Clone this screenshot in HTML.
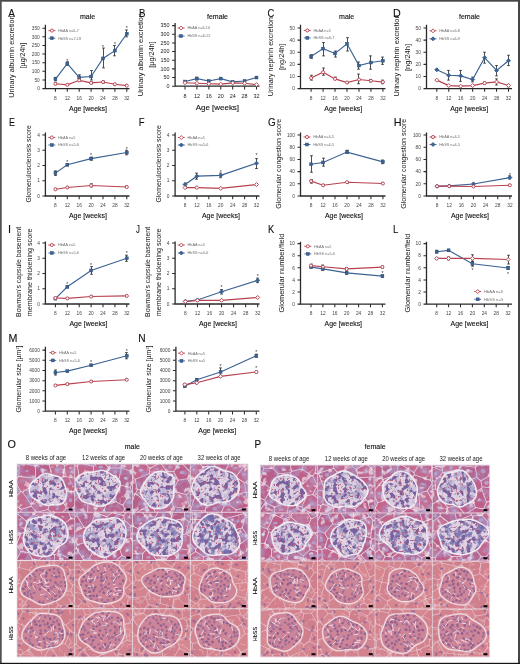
<!DOCTYPE html>
<html><head><meta charset="utf-8"><style>
html,body{margin:0;padding:0;background:#fff;width:520px;height:664px;overflow:hidden}
svg{display:block;font-family:"Liberation Sans",sans-serif}
.b{stroke:#111;stroke-width:0.12px}
text{filter:grayscale(1)}
</style></head><body>
<svg width="520" height="664" viewBox="0 0 520 664" font-family="Liberation Sans, sans-serif"><defs>
<filter id="triPatch" x="0" y="0" width="100%" height="100%" color-interpolation-filters="sRGB">
 <feTurbulence type="fractalNoise" baseFrequency="0.12" numOctaves="3" seed="2"/>
 <feColorMatrix type="matrix" values="0 0 0 0 0.68  0 0 0 0 0.66  0 0 0 0 0.84  4 0 0 0 -1.75"/>
</filter>
<filter id="triWhite" x="0" y="0" width="100%" height="100%" color-interpolation-filters="sRGB">
 <feTurbulence type="fractalNoise" baseFrequency="0.16" numOctaves="2" seed="9"/>
 <feColorMatrix type="matrix" values="0 0 0 0 0.97  0 0 0 0 0.95  0 0 0 0 0.97  0 8 0 0 -4.6"/>
</filter>
<filter id="triNuc" x="0" y="0" width="100%" height="100%" color-interpolation-filters="sRGB">
 <feTurbulence type="fractalNoise" baseFrequency="0.21" numOctaves="2" seed="4"/>
 <feColorMatrix type="matrix" values="0 0 0 0 0.47  0 0 0 0 0.38  0 0 0 0 0.62  7 0 0 0 -3.45" result="n"/>
 <feComposite in="n" in2="SourceGraphic" operator="in"/>
</filter>
<filter id="triRed" x="0" y="0" width="100%" height="100%" color-interpolation-filters="sRGB">
 <feTurbulence type="fractalNoise" baseFrequency="0.45" numOctaves="1" seed="11"/>
 <feColorMatrix type="matrix" values="0 0 0 0 0.74  0 0 0 0 0.38  0 0 0 0 0.5  0 10 0 0 -6.1" result="n"/>
 <feComposite in="n" in2="SourceGraphic" operator="in"/>
</filter>
<filter id="triBlue" x="0" y="0" width="100%" height="100%" color-interpolation-filters="sRGB">
 <feTurbulence type="fractalNoise" baseFrequency="0.13" numOctaves="3" seed="17"/>
 <feColorMatrix type="matrix" values="0 0 0 0 0.44  0 0 0 0 0.45  0 0 0 0 0.7  5 0 0 0 -2.4" result="n"/>
 <feComposite in="n" in2="SourceGraphic" operator="in"/>
</filter>
<filter id="soft" x="0" y="0" width="100%" height="100%"><feGaussianBlur stdDeviation="0.45"/></filter>
<filter id="heVar" x="0" y="0" width="100%" height="100%" color-interpolation-filters="sRGB">
 <feTurbulence type="turbulence" baseFrequency="0.1" numOctaves="2" seed="6"/>
 <feColorMatrix type="matrix" values="0 0 0 0 0.96  0 0 0 0 0.86  0 0 0 0 0.89  -5 0 0 0 0.75"/>
</filter>
<filter id="heNucOut" x="0" y="0" width="100%" height="100%" color-interpolation-filters="sRGB">
 <feTurbulence type="fractalNoise" baseFrequency="0.28" numOctaves="1" seed="13"/>
 <feColorMatrix type="matrix" values="0 0 0 0 0.6  0 0 0 0 0.42  0 0 0 0 0.64  10 0 0 0 -6.4"/>
</filter>
<filter id="heNuc" x="0" y="0" width="100%" height="100%" color-interpolation-filters="sRGB">
 <feTurbulence type="fractalNoise" baseFrequency="0.3" numOctaves="1" seed="21"/>
 <feColorMatrix type="matrix" values="0 0 0 0 0.55  0 0 0 0 0.38  0 0 0 0 0.6  8 0 0 0 -4.2" result="n"/>
 <feComposite in="n" in2="SourceGraphic" operator="in"/>
</filter>
<filter id="ring" x="-20%" y="-20%" width="140%" height="140%">
 <feTurbulence type="fractalNoise" baseFrequency="0.075" numOctaves="2" seed="3" result="t"/>
 <feDisplacementMap in="SourceGraphic" in2="t" scale="9" xChannelSelector="R" yChannelSelector="G"/>
</filter>
</defs>
<rect width="520" height="664" fill="#fff"/>
<text x="8.2" y="16.6" font-size="10.3" fill="#111" class="b" textLength="6.7" lengthAdjust="spacingAndGlyphs" >A</text>
<text x="87.5" y="18.6" font-size="7" fill="#111" class="b" text-anchor="middle" >male</text>
<text x="13.6" y="56.6" font-size="7.5" fill="#151515" text-anchor="middle" textLength="82.5" lengthAdjust="spacingAndGlyphs" transform="rotate(-90 13.6 56.6)" >Urinary albumin excretion</text>
<text x="24.6" y="55.6" font-size="7.5" fill="#151515" text-anchor="middle" textLength="25.5" lengthAdjust="spacingAndGlyphs" transform="rotate(-90 24.6 55.6)" >[µg/24h]</text>
<text x="88" y="110.5" font-size="7.3" fill="#111" class="b" text-anchor="middle" textLength="38" lengthAdjust="spacingAndGlyphs" >Age [weeks]</text>
<path d="M45.4 24.8V88.6H129.5" fill="none" stroke="#2a2a2a" stroke-width="1.3"/>
<text x="39.8" y="90.3" font-size="4.8" fill="#444" text-anchor="end" >0</text>
<text x="39.8" y="81.67" font-size="4.8" fill="#444" text-anchor="end" >50</text>
<text x="39.8" y="73.04" font-size="4.8" fill="#444" text-anchor="end" >100</text>
<text x="39.8" y="64.41" font-size="4.8" fill="#444" text-anchor="end" >150</text>
<text x="39.8" y="55.79" font-size="4.8" fill="#444" text-anchor="end" >200</text>
<text x="39.8" y="47.16" font-size="4.8" fill="#444" text-anchor="end" >250</text>
<text x="39.8" y="38.53" font-size="4.8" fill="#444" text-anchor="end" >300</text>
<text x="39.8" y="29.9" font-size="4.8" fill="#444" text-anchor="end" >350</text>
<text x="55.4" y="99.8" font-size="4.8" fill="#444" text-anchor="middle" >8</text>
<text x="67.3" y="99.8" font-size="4.8" fill="#444" text-anchor="middle" >12</text>
<text x="79.2" y="99.8" font-size="4.8" fill="#444" text-anchor="middle" >16</text>
<text x="91.1" y="99.8" font-size="4.8" fill="#444" text-anchor="middle" >20</text>
<text x="103" y="99.8" font-size="4.8" fill="#444" text-anchor="middle" >24</text>
<text x="114.9" y="99.8" font-size="4.8" fill="#444" text-anchor="middle" >28</text>
<text x="126.8" y="99.8" font-size="4.8" fill="#444" text-anchor="middle" >32</text>
<path d="M42.4 88.6H45.4 M42.4 79.97H45.4 M42.4 71.34H45.4 M42.4 62.71H45.4 M42.4 54.09H45.4 M42.4 45.46H45.4 M42.4 36.83H45.4 M42.4 28.2H45.4 M55.4 88.6V91.8 M67.3 88.6V91.8 M79.2 88.6V91.8 M91.1 88.6V91.8 M103 88.6V91.8 M114.9 88.6V91.8 M126.8 88.6V91.8" stroke="#2a2a2a" stroke-width="1.05" fill="none"/>
<path d="M55.5 80.83V77.38M54.1 80.83H56.9M54.1 77.38H56.9 M67.5 65.3V61.85M66.1 65.3H68.9M66.1 61.85H68.9 M79.5 79.63V74.79M78.1 79.63H80.9M78.1 74.79H80.9 M91.5 79.97V70.48M90.1 79.97H92.9M90.1 70.48H92.9 M103.5 67.89V48.05M102.1 67.89H104.9M102.1 48.05H104.9 M114.5 55.81V45.46M113.1 55.81H115.9M113.1 45.46H115.9 M126.5 36.83V29.93M125.1 36.83H127.9M125.1 29.93H127.9 M55.5 84.8V82.73M54.1 84.8H56.9M54.1 82.73H56.9 M67.5 85.49V84.11M66.1 85.49H68.9M66.1 84.11H68.9 M79.5 81.35V79.28M78.1 81.35H80.9M78.1 79.28H80.9 M91.5 83.77V82.04M90.1 83.77H92.9M90.1 82.04H92.9 M103.5 83.08V81.01M102.1 83.08H104.9M102.1 81.01H104.9 M114.5 85.15V83.42M113.1 85.15H115.9M113.1 83.42H115.9 M126.5 86.53V84.8M125.1 86.53H127.9M125.1 84.8H127.9" stroke="#2e2e2e" stroke-width="0.85" fill="none"/>
<polyline points="55.4,79.11 67.3,63.58 79.2,77.38 91.1,76.52 103,58.4 114.9,50.63 126.8,33.72" fill="none" stroke="#3b6293" stroke-width="1.15"/>
<polyline points="55.4,83.77 67.3,84.8 79.2,80.32 91.1,82.91 103,82.04 114.9,84.29 126.8,85.67" fill="none" stroke="#b8404f" stroke-width="1.15"/>
<rect x="53.95" y="77.66" width="2.9" height="2.9" fill="#3b6293" stroke="#2d4f7c" stroke-width="0.5"/>
<rect x="65.85" y="62.13" width="2.9" height="2.9" fill="#3b6293" stroke="#2d4f7c" stroke-width="0.5"/>
<rect x="77.75" y="75.93" width="2.9" height="2.9" fill="#3b6293" stroke="#2d4f7c" stroke-width="0.5"/>
<rect x="89.65" y="75.07" width="2.9" height="2.9" fill="#3b6293" stroke="#2d4f7c" stroke-width="0.5"/>
<rect x="101.55" y="56.95" width="2.9" height="2.9" fill="#3b6293" stroke="#2d4f7c" stroke-width="0.5"/>
<rect x="113.45" y="49.18" width="2.9" height="2.9" fill="#3b6293" stroke="#2d4f7c" stroke-width="0.5"/>
<rect x="125.35" y="32.27" width="2.9" height="2.9" fill="#3b6293" stroke="#2d4f7c" stroke-width="0.5"/>
<circle cx="55.4" cy="83.77" r="1.55" fill="#fff" stroke="#b8404f" stroke-width="0.9"/>
<circle cx="67.3" cy="84.8" r="1.55" fill="#fff" stroke="#b8404f" stroke-width="0.9"/>
<circle cx="79.2" cy="80.32" r="1.55" fill="#fff" stroke="#b8404f" stroke-width="0.9"/>
<circle cx="91.1" cy="82.91" r="1.55" fill="#fff" stroke="#b8404f" stroke-width="0.9"/>
<circle cx="103" cy="82.04" r="1.55" fill="#fff" stroke="#b8404f" stroke-width="0.9"/>
<circle cx="114.9" cy="84.29" r="1.55" fill="#fff" stroke="#b8404f" stroke-width="0.9"/>
<circle cx="126.8" cy="85.67" r="1.55" fill="#fff" stroke="#b8404f" stroke-width="0.9"/>
<text x="67.3" y="62.73" font-size="5.2" fill="#333" text-anchor="middle" >*</text>
<text x="103" y="48.92" font-size="5.2" fill="#333" text-anchor="middle" >*</text>
<text x="114.9" y="45.99" font-size="5.2" fill="#333" text-anchor="middle" >*</text>
<text x="126.8" y="30.45" font-size="5.2" fill="#333" text-anchor="middle" >*</text>
<path d="M48.4 30.6H55.4" stroke="#b8404f" stroke-width="0.9"/>
<circle cx="51.9" cy="30.6" r="1.55" fill="#fff" stroke="#b8404f" stroke-width="0.9"/>
<text x="58.2" y="31.95" font-size="3.8" fill="#707070" >HbAA n=6-7</text>
<path d="M48.4 38.2H55.4" stroke="#3b6293" stroke-width="0.9"/>
<rect x="50.45" y="36.75" width="2.9" height="2.9" fill="#3b6293" stroke="#2d4f7c" stroke-width="0.5"/>
<text x="58.2" y="39.55" font-size="3.8" fill="#707070" >HbSS n=7-18</text>
<text x="138.9" y="16.9" font-size="10.3" fill="#111" class="b" textLength="6.46" lengthAdjust="spacingAndGlyphs" >B</text>
<text x="217.5" y="18.6" font-size="7" fill="#111" class="b" text-anchor="middle" >female</text>
<text x="143" y="54.7" font-size="7.5" fill="#151515" text-anchor="middle" textLength="83" lengthAdjust="spacingAndGlyphs" transform="rotate(-90 143 54.7)" >Urinary albumin excretion</text>
<text x="154" y="54.6" font-size="7.5" fill="#151515" text-anchor="middle" textLength="26.5" lengthAdjust="spacingAndGlyphs" transform="rotate(-90 154 54.6)" >[µg/24h]</text>
<text x="217.4" y="110.2" font-size="8" fill="#111" class="b" text-anchor="middle" textLength="43.3" lengthAdjust="spacingAndGlyphs" >Age [weeks]</text>
<path d="M175.1 22.9V86.2H259.5" fill="none" stroke="#2a2a2a" stroke-width="1.3"/>
<text x="169.5" y="87.9" font-size="5.4" fill="#222" text-anchor="end" >0</text>
<text x="169.5" y="79.24" font-size="5.4" fill="#222" text-anchor="end" >50</text>
<text x="169.5" y="70.59" font-size="5.4" fill="#222" text-anchor="end" >100</text>
<text x="169.5" y="61.93" font-size="5.4" fill="#222" text-anchor="end" >150</text>
<text x="169.5" y="53.27" font-size="5.4" fill="#222" text-anchor="end" >200</text>
<text x="169.5" y="44.61" font-size="5.4" fill="#222" text-anchor="end" >250</text>
<text x="169.5" y="35.96" font-size="5.4" fill="#222" text-anchor="end" >300</text>
<text x="169.5" y="27.3" font-size="5.4" fill="#222" text-anchor="end" >350</text>
<text x="185" y="98.3" font-size="5.4" fill="#222" text-anchor="middle" >8</text>
<text x="196.92" y="98.3" font-size="5.4" fill="#222" text-anchor="middle" >12</text>
<text x="208.84" y="98.3" font-size="5.4" fill="#222" text-anchor="middle" >16</text>
<text x="220.76" y="98.3" font-size="5.4" fill="#222" text-anchor="middle" >20</text>
<text x="232.68" y="98.3" font-size="5.4" fill="#222" text-anchor="middle" >24</text>
<text x="244.6" y="98.3" font-size="5.4" fill="#222" text-anchor="middle" >28</text>
<text x="256.52" y="98.3" font-size="5.4" fill="#222" text-anchor="middle" >32</text>
<path d="M172.1 86.2H175.1 M172.1 77.54H175.1 M172.1 68.89H175.1 M172.1 60.23H175.1 M172.1 51.57H175.1 M172.1 42.91H175.1 M172.1 34.26H175.1 M172.1 25.6H175.1 M185 86.2V89.4 M196.92 86.2V89.4 M208.84 86.2V89.4 M220.76 86.2V89.4 M232.68 86.2V89.4 M244.6 86.2V89.4 M256.52 86.2V89.4" stroke="#2a2a2a" stroke-width="1.05" fill="none"/>
<path d="M185.5 82.22V80.83M184.1 82.22H186.9M184.1 80.83H186.9 M196.5 79.97V77.2M195.1 79.97H197.9M195.1 77.2H197.9 M208.5 81.7V80.31M207.1 81.7H209.9M207.1 80.31H209.9 M220.5 79.62V77.54M219.1 79.62H221.9M219.1 77.54H221.9 M232.5 82.56V81.18M231.1 82.56H233.9M231.1 81.18H233.9 M244.5 81.7V80.31M243.1 81.7H245.9M243.1 80.31H245.9 M256.5 78.41V76.68M255.1 78.41H257.9M255.1 76.68H257.9 M185.5 83.26V82.22M184.1 83.26H186.9M184.1 82.22H186.9 M196.5 83.95V82.56M195.1 83.95H197.9M195.1 82.56H197.9 M208.5 84.3V83.26M207.1 84.3H209.9M207.1 83.26H209.9 M220.5 84.64V83.6M219.1 84.64H221.9M219.1 83.6H221.9 M232.5 83.6V82.22M231.1 83.6H233.9M231.1 82.22H233.9 M244.5 83.78V82.74M243.1 83.78H245.9M243.1 82.74H245.9 M256.5 85.16V84.12M255.1 85.16H257.9M255.1 84.12H257.9" stroke="#2e2e2e" stroke-width="0.85" fill="none"/>
<polyline points="185,81.53 196.92,78.58 208.84,81.01 220.76,78.58 232.68,81.87 244.6,81.01 256.52,77.54" fill="none" stroke="#3b6293" stroke-width="1.15"/>
<polyline points="185,82.74 196.92,83.26 208.84,83.78 220.76,84.12 232.68,82.91 244.6,83.26 256.52,84.64" fill="none" stroke="#b8404f" stroke-width="1.15"/>
<rect x="183.55" y="80.08" width="2.9" height="2.9" fill="#3b6293" stroke="#2d4f7c" stroke-width="0.5"/>
<rect x="195.47" y="77.13" width="2.9" height="2.9" fill="#3b6293" stroke="#2d4f7c" stroke-width="0.5"/>
<rect x="207.39" y="79.56" width="2.9" height="2.9" fill="#3b6293" stroke="#2d4f7c" stroke-width="0.5"/>
<rect x="219.31" y="77.13" width="2.9" height="2.9" fill="#3b6293" stroke="#2d4f7c" stroke-width="0.5"/>
<rect x="231.23" y="80.42" width="2.9" height="2.9" fill="#3b6293" stroke="#2d4f7c" stroke-width="0.5"/>
<rect x="243.15" y="79.56" width="2.9" height="2.9" fill="#3b6293" stroke="#2d4f7c" stroke-width="0.5"/>
<rect x="255.07" y="76.09" width="2.9" height="2.9" fill="#3b6293" stroke="#2d4f7c" stroke-width="0.5"/>
<path d="M185 80.74L187 82.74L185 84.74L183 82.74Z" fill="#fff" stroke="#b8404f" stroke-width="0.9"/>
<path d="M196.92 81.26L198.92 83.26L196.92 85.26L194.92 83.26Z" fill="#fff" stroke="#b8404f" stroke-width="0.9"/>
<path d="M208.84 81.78L210.84 83.78L208.84 85.78L206.84 83.78Z" fill="#fff" stroke="#b8404f" stroke-width="0.9"/>
<path d="M220.76 82.12L222.76 84.12L220.76 86.12L218.76 84.12Z" fill="#fff" stroke="#b8404f" stroke-width="0.9"/>
<path d="M232.68 80.91L234.68 82.91L232.68 84.91L230.68 82.91Z" fill="#fff" stroke="#b8404f" stroke-width="0.9"/>
<path d="M244.6 81.26L246.6 83.26L244.6 85.26L242.6 83.26Z" fill="#fff" stroke="#b8404f" stroke-width="0.9"/>
<path d="M256.52 82.64L258.52 84.64L256.52 86.64L254.52 84.64Z" fill="#fff" stroke="#b8404f" stroke-width="0.9"/>
<path d="M177.6 28H184.6" stroke="#b8404f" stroke-width="0.9"/>
<path d="M181.1 26L183.1 28L181.1 30L179.1 28Z" fill="#fff" stroke="#b8404f" stroke-width="0.9"/>
<text x="187.4" y="29.35" font-size="3.8" fill="#707070" >HbAA n=6-10</text>
<path d="M177.6 36.1H184.6" stroke="#3b6293" stroke-width="0.9"/>
<rect x="179.65" y="34.65" width="2.9" height="2.9" fill="#3b6293" stroke="#2d4f7c" stroke-width="0.5"/>
<text x="187.4" y="37.45" font-size="3.8" fill="#707070" >HbSS n=6-12</text>
<text x="267.5" y="17.2" font-size="11" fill="#111" class="b" textLength="6.78" lengthAdjust="spacingAndGlyphs" >C</text>
<text x="346.7" y="18.5" font-size="7" fill="#111" class="b" text-anchor="middle" >male</text>
<text x="272.7" y="56.7" font-size="7.5" fill="#151515" text-anchor="middle" textLength="79.3" lengthAdjust="spacingAndGlyphs" transform="rotate(-90 272.7 56.7)" >Urinary nephrin excretion</text>
<text x="284.4" y="56.8" font-size="7.5" fill="#151515" text-anchor="middle" textLength="26.4" lengthAdjust="spacingAndGlyphs" transform="rotate(-90 284.4 56.8)" >[ng/24h]</text>
<text x="343.3" y="110.6" font-size="7.3" fill="#111" class="b" text-anchor="middle" textLength="38" lengthAdjust="spacingAndGlyphs" >Age [weeks]</text>
<path d="M300.5 24.8V88.6H385.5" fill="none" stroke="#2a2a2a" stroke-width="1.3"/>
<text x="294.9" y="90.3" font-size="4.8" fill="#444" text-anchor="end" >0</text>
<text x="294.9" y="78.18" font-size="4.8" fill="#444" text-anchor="end" >10</text>
<text x="294.9" y="66.06" font-size="4.8" fill="#444" text-anchor="end" >20</text>
<text x="294.9" y="53.94" font-size="4.8" fill="#444" text-anchor="end" >30</text>
<text x="294.9" y="41.82" font-size="4.8" fill="#444" text-anchor="end" >40</text>
<text x="294.9" y="29.7" font-size="4.8" fill="#444" text-anchor="end" >50</text>
<text x="311.1" y="99.8" font-size="4.8" fill="#444" text-anchor="middle" >8</text>
<text x="323.07" y="99.8" font-size="4.8" fill="#444" text-anchor="middle" >12</text>
<text x="335.04" y="99.8" font-size="4.8" fill="#444" text-anchor="middle" >16</text>
<text x="347.01" y="99.8" font-size="4.8" fill="#444" text-anchor="middle" >20</text>
<text x="358.98" y="99.8" font-size="4.8" fill="#444" text-anchor="middle" >24</text>
<text x="370.95" y="99.8" font-size="4.8" fill="#444" text-anchor="middle" >28</text>
<text x="382.92" y="99.8" font-size="4.8" fill="#444" text-anchor="middle" >32</text>
<path d="M297.5 88.6H300.5 M297.5 76.48H300.5 M297.5 64.36H300.5 M297.5 52.24H300.5 M297.5 40.12H300.5 M297.5 28H300.5 M311.1 88.6V91.8 M323.07 88.6V91.8 M335.04 88.6V91.8 M347.01 88.6V91.8 M358.98 88.6V91.8 M370.95 88.6V91.8 M382.92 88.6V91.8" stroke="#2a2a2a" stroke-width="1.05" fill="none"/>
<path d="M311.5 58.3V54.66M310.1 58.3H312.9M310.1 54.66H312.9 M323.5 55.88V42.54M322.1 55.88H324.9M322.1 42.54H324.9 M335.5 57.09V51.03M334.1 57.09H336.9M334.1 51.03H336.9 M347.5 51.03V37.7M346.1 51.03H348.9M346.1 37.7H348.9 M358.5 69.21V61.94M357.1 69.21H359.9M357.1 61.94H359.9 M370.5 69.21V55.88M369.1 69.21H371.9M369.1 55.88H371.9 M382.5 64.36V57.09M381.1 64.36H383.9M381.1 57.09H383.9 M311.5 80.12V75.27M310.1 80.12H312.9M310.1 75.27H312.9 M323.5 75.27V68M322.1 75.27H324.9M322.1 68H324.9 M335.5 79.51V77.09M334.1 79.51H336.9M334.1 77.09H336.9 M347.5 83.15V81.93M346.1 83.15H348.9M346.1 81.93H348.9 M358.5 83.75V74.06M357.1 83.75H359.9M357.1 74.06H359.9 M370.5 81.93V79.51M369.1 81.93H371.9M369.1 79.51H371.9 M382.5 83.75V80.12M381.1 83.75H383.9M381.1 80.12H383.9" stroke="#2e2e2e" stroke-width="0.85" fill="none"/>
<polyline points="311.1,56.48 323.07,48.6 335.04,53.45 347.01,43.76 358.98,65.57 370.95,62.54 382.92,60.72" fill="none" stroke="#3b6293" stroke-width="1.15"/>
<polyline points="311.1,78.06 323.07,72.24 335.04,78.9 347.01,82.54 358.98,79.51 370.95,80.72 382.92,82.06" fill="none" stroke="#b8404f" stroke-width="1.15"/>
<rect x="309.65" y="55.03" width="2.9" height="2.9" fill="#3b6293" stroke="#2d4f7c" stroke-width="0.5"/>
<rect x="321.62" y="47.15" width="2.9" height="2.9" fill="#3b6293" stroke="#2d4f7c" stroke-width="0.5"/>
<rect x="333.59" y="52" width="2.9" height="2.9" fill="#3b6293" stroke="#2d4f7c" stroke-width="0.5"/>
<rect x="345.56" y="42.31" width="2.9" height="2.9" fill="#3b6293" stroke="#2d4f7c" stroke-width="0.5"/>
<rect x="357.53" y="64.12" width="2.9" height="2.9" fill="#3b6293" stroke="#2d4f7c" stroke-width="0.5"/>
<rect x="369.5" y="61.09" width="2.9" height="2.9" fill="#3b6293" stroke="#2d4f7c" stroke-width="0.5"/>
<rect x="381.47" y="59.27" width="2.9" height="2.9" fill="#3b6293" stroke="#2d4f7c" stroke-width="0.5"/>
<circle cx="311.1" cy="78.06" r="1.55" fill="#fff" stroke="#b8404f" stroke-width="0.9"/>
<circle cx="323.07" cy="72.24" r="1.55" fill="#fff" stroke="#b8404f" stroke-width="0.9"/>
<circle cx="335.04" cy="78.9" r="1.55" fill="#fff" stroke="#b8404f" stroke-width="0.9"/>
<circle cx="347.01" cy="82.54" r="1.55" fill="#fff" stroke="#b8404f" stroke-width="0.9"/>
<circle cx="358.98" cy="79.51" r="1.55" fill="#fff" stroke="#b8404f" stroke-width="0.9"/>
<circle cx="370.95" cy="80.72" r="1.55" fill="#fff" stroke="#b8404f" stroke-width="0.9"/>
<circle cx="382.92" cy="82.06" r="1.55" fill="#fff" stroke="#b8404f" stroke-width="0.9"/>
<path d="M303.8 30.4H310.8" stroke="#b8404f" stroke-width="0.9"/>
<circle cx="307.3" cy="30.4" r="1.55" fill="#fff" stroke="#b8404f" stroke-width="0.9"/>
<text x="313.6" y="31.75" font-size="3.8" fill="#707070" >HbAA n=5</text>
<path d="M303.8 37.9H310.8" stroke="#3b6293" stroke-width="0.9"/>
<rect x="305.85" y="36.45" width="2.9" height="2.9" fill="#3b6293" stroke="#2d4f7c" stroke-width="0.5"/>
<text x="313.6" y="39.25" font-size="3.8" fill="#707070" >HbSS n=6-7</text>
<text x="393" y="17.3" font-size="11" fill="#111" class="b" textLength="7.73" lengthAdjust="spacingAndGlyphs" >D</text>
<text x="469.5" y="18.6" font-size="7" fill="#111" class="b" text-anchor="middle" >female</text>
<text x="398.8" y="55.5" font-size="7.5" fill="#151515" text-anchor="middle" textLength="82" lengthAdjust="spacingAndGlyphs" transform="rotate(-90 398.8 55.5)" >Urinary nephrin excretion</text>
<text x="410.3" y="57.5" font-size="7.5" fill="#151515" text-anchor="middle" textLength="27" lengthAdjust="spacingAndGlyphs" transform="rotate(-90 410.3 57.5)" >[ng/24h]</text>
<text x="469.2" y="110.6" font-size="7.3" fill="#111" class="b" text-anchor="middle" textLength="38" lengthAdjust="spacingAndGlyphs" >Age [weeks]</text>
<path d="M426.5 24.8V88.6H512" fill="none" stroke="#2a2a2a" stroke-width="1.3"/>
<text x="420.9" y="90.3" font-size="4.8" fill="#444" text-anchor="end" >0</text>
<text x="420.9" y="78.18" font-size="4.8" fill="#444" text-anchor="end" >10</text>
<text x="420.9" y="66.06" font-size="4.8" fill="#444" text-anchor="end" >20</text>
<text x="420.9" y="53.94" font-size="4.8" fill="#444" text-anchor="end" >30</text>
<text x="420.9" y="41.82" font-size="4.8" fill="#444" text-anchor="end" >40</text>
<text x="420.9" y="29.7" font-size="4.8" fill="#444" text-anchor="end" >50</text>
<text x="436.8" y="99.8" font-size="4.8" fill="#444" text-anchor="middle" >8</text>
<text x="448.75" y="99.8" font-size="4.8" fill="#444" text-anchor="middle" >12</text>
<text x="460.7" y="99.8" font-size="4.8" fill="#444" text-anchor="middle" >16</text>
<text x="472.65" y="99.8" font-size="4.8" fill="#444" text-anchor="middle" >20</text>
<text x="484.6" y="99.8" font-size="4.8" fill="#444" text-anchor="middle" >24</text>
<text x="496.55" y="99.8" font-size="4.8" fill="#444" text-anchor="middle" >28</text>
<text x="508.5" y="99.8" font-size="4.8" fill="#444" text-anchor="middle" >32</text>
<path d="M423.5 88.6H426.5 M423.5 76.48H426.5 M423.5 64.36H426.5 M423.5 52.24H426.5 M423.5 40.12H426.5 M423.5 28H426.5 M436.8 88.6V91.8 M448.75 88.6V91.8 M460.7 88.6V91.8 M472.65 88.6V91.8 M484.6 88.6V91.8 M496.55 88.6V91.8 M508.5 88.6V91.8" stroke="#2a2a2a" stroke-width="1.05" fill="none"/>
<path d="M436.5 70.42V69.21M435.1 70.42H437.9M435.1 69.21H437.9 M448.5 80.12V70.42M447.1 80.12H449.9M447.1 70.42H449.9 M460.5 81.33V70.42M459.1 81.33H461.9M459.1 70.42H461.9 M472.5 81.93V77.09M471.1 81.93H473.9M471.1 77.09H473.9 M484.5 63.15V52.24M483.1 63.15H485.9M483.1 52.24H485.9 M496.5 75.87V65.57M495.1 75.87H497.9M495.1 65.57H497.9 M508.5 65.57V55.27M507.1 65.57H509.9M507.1 55.27H509.9 M436.5 80.72V79.51M435.1 80.72H437.9M435.1 79.51H437.9 M448.5 86.18V84.96M447.1 86.18H449.9M447.1 84.96H449.9 M460.5 86.78V85.57M459.1 86.78H461.9M459.1 85.57H461.9 M472.5 86.18V84.96M471.1 86.18H473.9M471.1 84.96H473.9 M484.5 84.36V81.93M483.1 84.36H485.9M483.1 81.93H485.9 M496.5 84.96V78.9M495.1 84.96H497.9M495.1 78.9H497.9 M508.5 86.78V84.36M507.1 86.78H509.9M507.1 84.36H509.9" stroke="#2e2e2e" stroke-width="0.85" fill="none"/>
<polyline points="436.8,69.81 448.75,75.27 460.7,75.87 472.65,79.51 484.6,57.69 496.55,70.42 508.5,60.72" fill="none" stroke="#3b6293" stroke-width="1.15"/>
<polyline points="436.8,80.12 448.75,85.57 460.7,86.18 472.65,85.57 484.6,83.15 496.55,81.93 508.5,85.57" fill="none" stroke="#b8404f" stroke-width="1.15"/>
<path d="M436.8 67.81L438.8 69.81L436.8 71.81L434.8 69.81Z" fill="#3b6293" stroke="#3b6293" stroke-width="0.9"/>
<path d="M448.75 73.27L450.75 75.27L448.75 77.27L446.75 75.27Z" fill="#3b6293" stroke="#3b6293" stroke-width="0.9"/>
<path d="M460.7 73.87L462.7 75.87L460.7 77.87L458.7 75.87Z" fill="#3b6293" stroke="#3b6293" stroke-width="0.9"/>
<path d="M472.65 77.51L474.65 79.51L472.65 81.51L470.65 79.51Z" fill="#3b6293" stroke="#3b6293" stroke-width="0.9"/>
<path d="M484.6 55.69L486.6 57.69L484.6 59.69L482.6 57.69Z" fill="#3b6293" stroke="#3b6293" stroke-width="0.9"/>
<path d="M496.55 68.42L498.55 70.42L496.55 72.42L494.55 70.42Z" fill="#3b6293" stroke="#3b6293" stroke-width="0.9"/>
<path d="M508.5 58.72L510.5 60.72L508.5 62.72L506.5 60.72Z" fill="#3b6293" stroke="#3b6293" stroke-width="0.9"/>
<path d="M436.8 78.12L438.8 80.12L436.8 82.12L434.8 80.12Z" fill="#fff" stroke="#b8404f" stroke-width="0.9"/>
<path d="M448.75 83.57L450.75 85.57L448.75 87.57L446.75 85.57Z" fill="#fff" stroke="#b8404f" stroke-width="0.9"/>
<path d="M460.7 84.18L462.7 86.18L460.7 88.18L458.7 86.18Z" fill="#fff" stroke="#b8404f" stroke-width="0.9"/>
<path d="M472.65 83.57L474.65 85.57L472.65 87.57L470.65 85.57Z" fill="#fff" stroke="#b8404f" stroke-width="0.9"/>
<path d="M484.6 81.15L486.6 83.15L484.6 85.15L482.6 83.15Z" fill="#fff" stroke="#b8404f" stroke-width="0.9"/>
<path d="M496.55 79.93L498.55 81.93L496.55 83.93L494.55 81.93Z" fill="#fff" stroke="#b8404f" stroke-width="0.9"/>
<path d="M508.5 83.57L510.5 85.57L508.5 87.57L506.5 85.57Z" fill="#fff" stroke="#b8404f" stroke-width="0.9"/>
<path d="M429.5 30.8H436.5" stroke="#b8404f" stroke-width="0.9"/>
<path d="M433 28.8L435 30.8L433 32.8L431 30.8Z" fill="#fff" stroke="#b8404f" stroke-width="0.9"/>
<text x="439.3" y="32.15" font-size="3.8" fill="#707070" >HbAA n=6-8</text>
<path d="M429.5 38.8H436.5" stroke="#3b6293" stroke-width="0.9"/>
<path d="M433 36.8L435 38.8L433 40.8L431 38.8Z" fill="#3b6293" stroke="#3b6293" stroke-width="0.9"/>
<text x="439.3" y="40.15" font-size="3.8" fill="#707070" >HbSS n=6-9</text>
<text x="9" y="125.8" font-size="11.3" fill="#111" class="b" textLength="5.96" lengthAdjust="spacingAndGlyphs" >E</text>
<text x="31.2" y="163.8" font-size="7.5" fill="#151515" text-anchor="middle" textLength="77.5" lengthAdjust="spacingAndGlyphs" transform="rotate(-90 31.2 163.8)" >Glomerulosclerosis score</text>
<text x="87.9" y="217.7" font-size="7.3" fill="#111" class="b" text-anchor="middle" textLength="38" lengthAdjust="spacingAndGlyphs" >Age [weeks]</text>
<path d="M45.4 132.5V196H129.5" fill="none" stroke="#2a2a2a" stroke-width="1.3"/>
<text x="39.8" y="197.7" font-size="4.8" fill="#444" text-anchor="end" >0</text>
<text x="39.8" y="182.45" font-size="4.8" fill="#444" text-anchor="end" >1</text>
<text x="39.8" y="167.2" font-size="4.8" fill="#444" text-anchor="end" >2</text>
<text x="39.8" y="151.95" font-size="4.8" fill="#444" text-anchor="end" >3</text>
<text x="39.8" y="136.7" font-size="4.8" fill="#444" text-anchor="end" >4</text>
<text x="55.4" y="207.2" font-size="4.8" fill="#444" text-anchor="middle" >8</text>
<text x="67.3" y="207.2" font-size="4.8" fill="#444" text-anchor="middle" >12</text>
<text x="79.2" y="207.2" font-size="4.8" fill="#444" text-anchor="middle" >16</text>
<text x="91.1" y="207.2" font-size="4.8" fill="#444" text-anchor="middle" >20</text>
<text x="103" y="207.2" font-size="4.8" fill="#444" text-anchor="middle" >24</text>
<text x="114.9" y="207.2" font-size="4.8" fill="#444" text-anchor="middle" >28</text>
<text x="126.8" y="207.2" font-size="4.8" fill="#444" text-anchor="middle" >32</text>
<path d="M42.4 196H45.4 M42.4 180.75H45.4 M42.4 165.5H45.4 M42.4 150.25H45.4 M42.4 135H45.4 M55.4 196V199.2 M67.3 196V199.2 M79.2 196V199.2 M91.1 196V199.2 M103 196V199.2 M114.9 196V199.2 M126.8 196V199.2" stroke="#2a2a2a" stroke-width="1.05" fill="none"/>
<path d="M55.5 175.41V170.84M54.1 175.41H56.9M54.1 170.84H56.9 M67.5 165.81V163.67M66.1 165.81H68.9M66.1 163.67H68.9 M91.5 160.16V157.11M90.1 160.16H92.9M90.1 157.11H92.9 M126.5 154.82V150.25M125.1 154.82H127.9M125.1 150.25H127.9 M55.5 189.9V188.38M54.1 189.9H56.9M54.1 188.38H56.9 M67.5 188.38V186.85M66.1 188.38H68.9M66.1 186.85H68.9 M91.5 186.85V183.8M90.1 186.85H92.9M90.1 183.8H92.9 M126.5 187.61V186.09M125.1 187.61H127.9M125.1 186.09H127.9" stroke="#2e2e2e" stroke-width="0.85" fill="none"/>
<polyline points="55.4,173.12 67.3,164.74 91.1,158.64 126.8,152.54" fill="none" stroke="#3b6293" stroke-width="1.15"/>
<polyline points="55.4,189.29 67.3,187.46 91.1,185.48 126.8,187" fill="none" stroke="#b8404f" stroke-width="1.15"/>
<rect x="53.95" y="171.68" width="2.9" height="2.9" fill="#3b6293" stroke="#2d4f7c" stroke-width="0.5"/>
<rect x="65.85" y="163.29" width="2.9" height="2.9" fill="#3b6293" stroke="#2d4f7c" stroke-width="0.5"/>
<rect x="89.65" y="157.19" width="2.9" height="2.9" fill="#3b6293" stroke="#2d4f7c" stroke-width="0.5"/>
<rect x="125.35" y="151.09" width="2.9" height="2.9" fill="#3b6293" stroke="#2d4f7c" stroke-width="0.5"/>
<circle cx="55.4" cy="189.29" r="1.55" fill="#fff" stroke="#b8404f" stroke-width="0.9"/>
<circle cx="67.3" cy="187.46" r="1.55" fill="#fff" stroke="#b8404f" stroke-width="0.9"/>
<circle cx="91.1" cy="185.48" r="1.55" fill="#fff" stroke="#b8404f" stroke-width="0.9"/>
<circle cx="126.8" cy="187" r="1.55" fill="#fff" stroke="#b8404f" stroke-width="0.9"/>
<text x="67.3" y="163.53" font-size="5.2" fill="#333" text-anchor="middle" >*</text>
<text x="91.1" y="157.12" font-size="5.2" fill="#333" text-anchor="middle" >*</text>
<text x="126.8" y="150.56" font-size="5.2" fill="#333" text-anchor="middle" >*</text>
<path d="M48.3 137.5H55.3" stroke="#b8404f" stroke-width="0.9"/>
<circle cx="51.8" cy="137.5" r="1.55" fill="#fff" stroke="#b8404f" stroke-width="0.9"/>
<text x="58.1" y="138.85" font-size="3.8" fill="#707070" >HbAA n=5</text>
<path d="M48.3 145H55.3" stroke="#3b6293" stroke-width="0.9"/>
<rect x="50.35" y="143.55" width="2.9" height="2.9" fill="#3b6293" stroke="#2d4f7c" stroke-width="0.5"/>
<text x="58.1" y="146.35" font-size="3.8" fill="#707070" >HbSS n=5-6</text>
<text x="138.8" y="125.8" font-size="11.3" fill="#111" class="b" textLength="5.8" lengthAdjust="spacingAndGlyphs" >F</text>
<text x="161.2" y="163.8" font-size="7.5" fill="#151515" text-anchor="middle" textLength="77.5" lengthAdjust="spacingAndGlyphs" transform="rotate(-90 161.2 163.8)" >Glomerulosclerosis score</text>
<text x="220.9" y="217.7" font-size="7.3" fill="#111" class="b" text-anchor="middle" textLength="38" lengthAdjust="spacingAndGlyphs" >Age [weeks]</text>
<path d="M175.1 132.5V196H259.5" fill="none" stroke="#2a2a2a" stroke-width="1.3"/>
<text x="169.5" y="197.7" font-size="4.8" fill="#444" text-anchor="end" >0</text>
<text x="169.5" y="182.45" font-size="4.8" fill="#444" text-anchor="end" >1</text>
<text x="169.5" y="167.2" font-size="4.8" fill="#444" text-anchor="end" >2</text>
<text x="169.5" y="151.95" font-size="4.8" fill="#444" text-anchor="end" >3</text>
<text x="169.5" y="136.7" font-size="4.8" fill="#444" text-anchor="end" >4</text>
<text x="185" y="207.2" font-size="4.8" fill="#444" text-anchor="middle" >8</text>
<text x="196.92" y="207.2" font-size="4.8" fill="#444" text-anchor="middle" >12</text>
<text x="208.84" y="207.2" font-size="4.8" fill="#444" text-anchor="middle" >16</text>
<text x="220.76" y="207.2" font-size="4.8" fill="#444" text-anchor="middle" >20</text>
<text x="232.68" y="207.2" font-size="4.8" fill="#444" text-anchor="middle" >24</text>
<text x="244.6" y="207.2" font-size="4.8" fill="#444" text-anchor="middle" >28</text>
<text x="256.52" y="207.2" font-size="4.8" fill="#444" text-anchor="middle" >32</text>
<path d="M172.1 196H175.1 M172.1 180.75H175.1 M172.1 165.5H175.1 M172.1 150.25H175.1 M172.1 135H175.1 M185 196V199.2 M196.92 196V199.2 M208.84 196V199.2 M220.76 196V199.2 M232.68 196V199.2 M244.6 196V199.2 M256.52 196V199.2" stroke="#2a2a2a" stroke-width="1.05" fill="none"/>
<path d="M185.5 186.09V183.04M184.1 186.09H186.9M184.1 183.04H186.9 M196.5 179.22V173.12M195.1 179.22H197.9M195.1 173.12H197.9 M220.5 177.7V173.12M219.1 177.7H221.9M219.1 173.12H221.9 M256.5 168.55V158.64M255.1 168.55H257.9M255.1 158.64H257.9 M185.5 188.38V186.85M184.1 188.38H186.9M184.1 186.85H186.9 M196.5 188.38V186.85M195.1 188.38H197.9M195.1 186.85H197.9 M220.5 189.14V187.61M219.1 189.14H221.9M219.1 187.61H221.9 M256.5 185.63V183.5M255.1 185.63H257.9M255.1 183.5H257.9" stroke="#2e2e2e" stroke-width="0.85" fill="none"/>
<polyline points="185,184.56 196.92,176.18 220.76,175.41 256.52,163.21" fill="none" stroke="#3b6293" stroke-width="1.15"/>
<polyline points="185,187.61 196.92,187.61 220.76,188.38 256.52,184.56" fill="none" stroke="#b8404f" stroke-width="1.15"/>
<path d="M185 182.56L187 184.56L185 186.56L183 184.56Z" fill="#3b6293" stroke="#3b6293" stroke-width="0.9"/>
<path d="M196.92 174.18L198.92 176.18L196.92 178.18L194.92 176.18Z" fill="#3b6293" stroke="#3b6293" stroke-width="0.9"/>
<path d="M220.76 173.41L222.76 175.41L220.76 177.41L218.76 175.41Z" fill="#3b6293" stroke="#3b6293" stroke-width="0.9"/>
<path d="M256.52 161.21L258.52 163.21L256.52 165.21L254.52 163.21Z" fill="#3b6293" stroke="#3b6293" stroke-width="0.9"/>
<path d="M185 185.61L187 187.61L185 189.61L183 187.61Z" fill="#fff" stroke="#b8404f" stroke-width="0.9"/>
<path d="M196.92 185.61L198.92 187.61L196.92 189.61L194.92 187.61Z" fill="#fff" stroke="#b8404f" stroke-width="0.9"/>
<path d="M220.76 186.38L222.76 188.38L220.76 190.38L218.76 188.38Z" fill="#fff" stroke="#b8404f" stroke-width="0.9"/>
<path d="M256.52 182.56L258.52 184.56L256.52 186.56L254.52 184.56Z" fill="#fff" stroke="#b8404f" stroke-width="0.9"/>
<text x="220.76" y="173.89" font-size="5.2" fill="#333" text-anchor="middle" >*</text>
<text x="256.52" y="157.12" font-size="5.2" fill="#333" text-anchor="middle" >*</text>
<path d="M177.8 137.5H184.8" stroke="#b8404f" stroke-width="0.9"/>
<path d="M181.3 135.5L183.3 137.5L181.3 139.5L179.3 137.5Z" fill="#fff" stroke="#b8404f" stroke-width="0.9"/>
<text x="187.6" y="138.85" font-size="3.8" fill="#707070" >HbAA n=5</text>
<path d="M177.8 145H184.8" stroke="#3b6293" stroke-width="0.9"/>
<path d="M181.3 143L183.3 145L181.3 147L179.3 145Z" fill="#3b6293" stroke="#3b6293" stroke-width="0.9"/>
<text x="187.6" y="146.35" font-size="3.8" fill="#707070" >HbSS n=5-6</text>
<text x="268" y="125.8" font-size="11.3" fill="#111" class="b" textLength="7.71" lengthAdjust="spacingAndGlyphs" >G</text>
<text x="281.2" y="163.8" font-size="7.5" fill="#151515" text-anchor="middle" textLength="90" lengthAdjust="spacingAndGlyphs" transform="rotate(-90 281.2 163.8)" >Glomerular congestion score</text>
<text x="343.9" y="217.7" font-size="7.3" fill="#111" class="b" text-anchor="middle" textLength="38" lengthAdjust="spacingAndGlyphs" >Age [weeks]</text>
<path d="M300.5 132.5V196H385.5" fill="none" stroke="#2a2a2a" stroke-width="1.3"/>
<text x="294.9" y="197.7" font-size="4.8" fill="#444" text-anchor="end" >0</text>
<text x="294.9" y="185.5" font-size="4.8" fill="#444" text-anchor="end" >20</text>
<text x="294.9" y="173.3" font-size="4.8" fill="#444" text-anchor="end" >40</text>
<text x="294.9" y="161.1" font-size="4.8" fill="#444" text-anchor="end" >60</text>
<text x="294.9" y="148.9" font-size="4.8" fill="#444" text-anchor="end" >80</text>
<text x="294.9" y="136.7" font-size="4.8" fill="#444" text-anchor="end" >100</text>
<text x="311.1" y="207.2" font-size="4.8" fill="#444" text-anchor="middle" >8</text>
<text x="323.07" y="207.2" font-size="4.8" fill="#444" text-anchor="middle" >12</text>
<text x="335.04" y="207.2" font-size="4.8" fill="#444" text-anchor="middle" >16</text>
<text x="347.01" y="207.2" font-size="4.8" fill="#444" text-anchor="middle" >20</text>
<text x="358.98" y="207.2" font-size="4.8" fill="#444" text-anchor="middle" >24</text>
<text x="370.95" y="207.2" font-size="4.8" fill="#444" text-anchor="middle" >28</text>
<text x="382.92" y="207.2" font-size="4.8" fill="#444" text-anchor="middle" >32</text>
<path d="M297.5 196H300.5 M297.5 183.8H300.5 M297.5 171.6H300.5 M297.5 159.4H300.5 M297.5 147.2H300.5 M297.5 135H300.5 M311.1 196V199.2 M323.07 196V199.2 M335.04 196V199.2 M347.01 196V199.2 M358.98 196V199.2 M370.95 196V199.2 M382.92 196V199.2" stroke="#2a2a2a" stroke-width="1.05" fill="none"/>
<path d="M311.5 172.21V155.74M310.1 172.21H312.9M310.1 155.74H312.9 M323.5 166.11V158.18M322.1 166.11H324.9M322.1 158.18H324.9 M347.5 153.3V150.25M346.1 153.3H348.9M346.1 150.25H348.9 M382.5 163.67V160.01M381.1 163.67H383.9M381.1 160.01H383.9 M311.5 183.19V179.53M310.1 183.19H312.9M310.1 179.53H312.9 M323.5 185.63V184.41M322.1 185.63H324.9M322.1 184.41H324.9 M347.5 183.19V181.97M346.1 183.19H348.9M346.1 181.97H348.9 M382.5 183.8V182.58M381.1 183.8H383.9M381.1 182.58H383.9" stroke="#2e2e2e" stroke-width="0.85" fill="none"/>
<polyline points="311.1,164.28 323.07,162.45 347.01,152.08 382.92,161.84" fill="none" stroke="#3b6293" stroke-width="1.15"/>
<polyline points="311.1,181.12 323.07,185.26 347.01,182.21 382.92,183.5" fill="none" stroke="#b8404f" stroke-width="1.15"/>
<rect x="309.65" y="162.83" width="2.9" height="2.9" fill="#3b6293" stroke="#2d4f7c" stroke-width="0.5"/>
<rect x="321.62" y="161" width="2.9" height="2.9" fill="#3b6293" stroke="#2d4f7c" stroke-width="0.5"/>
<rect x="345.56" y="150.63" width="2.9" height="2.9" fill="#3b6293" stroke="#2d4f7c" stroke-width="0.5"/>
<rect x="381.47" y="160.39" width="2.9" height="2.9" fill="#3b6293" stroke="#2d4f7c" stroke-width="0.5"/>
<circle cx="311.1" cy="181.12" r="1.55" fill="#fff" stroke="#b8404f" stroke-width="0.9"/>
<circle cx="323.07" cy="185.26" r="1.55" fill="#fff" stroke="#b8404f" stroke-width="0.9"/>
<circle cx="347.01" cy="182.21" r="1.55" fill="#fff" stroke="#b8404f" stroke-width="0.9"/>
<circle cx="382.92" cy="183.5" r="1.55" fill="#fff" stroke="#b8404f" stroke-width="0.9"/>
<path d="M303.5 137H310.5" stroke="#b8404f" stroke-width="0.9"/>
<circle cx="307" cy="137" r="1.55" fill="#fff" stroke="#b8404f" stroke-width="0.9"/>
<text x="313.3" y="138.35" font-size="3.8" fill="#707070" >HbAA n=4-5</text>
<path d="M303.5 144.5H310.5" stroke="#3b6293" stroke-width="0.9"/>
<rect x="305.55" y="143.05" width="2.9" height="2.9" fill="#3b6293" stroke="#2d4f7c" stroke-width="0.5"/>
<text x="313.3" y="145.85" font-size="3.8" fill="#707070" >HbSS n=4-5</text>
<text x="393.8" y="125.8" font-size="11.3" fill="#111" class="b" textLength="7.84" lengthAdjust="spacingAndGlyphs" >H</text>
<text x="406.2" y="163.8" font-size="7.5" fill="#151515" text-anchor="middle" textLength="90" lengthAdjust="spacingAndGlyphs" transform="rotate(-90 406.2 163.8)" >Glomerular congestion score</text>
<text x="469.9" y="217.7" font-size="7.3" fill="#111" class="b" text-anchor="middle" textLength="38" lengthAdjust="spacingAndGlyphs" >Age [weeks]</text>
<path d="M426.5 132.5V196H512" fill="none" stroke="#2a2a2a" stroke-width="1.3"/>
<text x="420.9" y="197.7" font-size="4.8" fill="#444" text-anchor="end" >0</text>
<text x="420.9" y="185.5" font-size="4.8" fill="#444" text-anchor="end" >20</text>
<text x="420.9" y="173.3" font-size="4.8" fill="#444" text-anchor="end" >40</text>
<text x="420.9" y="161.1" font-size="4.8" fill="#444" text-anchor="end" >60</text>
<text x="420.9" y="148.9" font-size="4.8" fill="#444" text-anchor="end" >80</text>
<text x="420.9" y="136.7" font-size="4.8" fill="#444" text-anchor="end" >100</text>
<text x="437" y="207.2" font-size="4.8" fill="#444" text-anchor="middle" >8</text>
<text x="449.15" y="207.2" font-size="4.8" fill="#444" text-anchor="middle" >12</text>
<text x="461.3" y="207.2" font-size="4.8" fill="#444" text-anchor="middle" >16</text>
<text x="473.45" y="207.2" font-size="4.8" fill="#444" text-anchor="middle" >20</text>
<text x="485.6" y="207.2" font-size="4.8" fill="#444" text-anchor="middle" >24</text>
<text x="497.75" y="207.2" font-size="4.8" fill="#444" text-anchor="middle" >28</text>
<text x="509.9" y="207.2" font-size="4.8" fill="#444" text-anchor="middle" >32</text>
<path d="M423.5 196H426.5 M423.5 183.8H426.5 M423.5 171.6H426.5 M423.5 159.4H426.5 M423.5 147.2H426.5 M423.5 135H426.5 M437 196V199.2 M449.15 196V199.2 M461.3 196V199.2 M473.45 196V199.2 M485.6 196V199.2 M497.75 196V199.2 M509.9 196V199.2" stroke="#2a2a2a" stroke-width="1.05" fill="none"/>
<path d="M437.5 186.85V185.63M436.1 186.85H438.9M436.1 185.63H438.9 M449.5 186.54V185.32M448.1 186.54H450.9M448.1 185.32H450.9 M473.5 184.41V183.19M472.1 184.41H474.9M472.1 183.19H474.9 M509.5 178.92V175.87M508.1 178.92H510.9M508.1 175.87H510.9 M437.5 186.85V185.63M436.1 186.85H438.9M436.1 185.63H438.9 M449.5 186.85V185.63M448.1 186.85H450.9M448.1 185.63H450.9 M473.5 186.85V185.63M472.1 186.85H474.9M472.1 185.63H474.9 M509.5 185.63V184.41M508.1 185.63H510.9M508.1 184.41H510.9" stroke="#2e2e2e" stroke-width="0.85" fill="none"/>
<polyline points="437,186.24 449.15,185.94 473.45,183.98 509.9,177.58" fill="none" stroke="#3b6293" stroke-width="1.15"/>
<polyline points="437,186.18 449.15,186.18 473.45,186.48 509.9,185.26" fill="none" stroke="#b8404f" stroke-width="1.15"/>
<path d="M437 184.24L439 186.24L437 188.24L435 186.24Z" fill="#3b6293" stroke="#3b6293" stroke-width="0.9"/>
<path d="M449.15 183.94L451.15 185.94L449.15 187.94L447.15 185.94Z" fill="#3b6293" stroke="#3b6293" stroke-width="0.9"/>
<path d="M473.45 181.98L475.45 183.98L473.45 185.98L471.45 183.98Z" fill="#3b6293" stroke="#3b6293" stroke-width="0.9"/>
<path d="M509.9 175.58L511.9 177.58L509.9 179.58L507.9 177.58Z" fill="#3b6293" stroke="#3b6293" stroke-width="0.9"/>
<circle cx="437" cy="186.18" r="1.55" fill="#fff" stroke="#b8404f" stroke-width="0.9"/>
<circle cx="449.15" cy="186.18" r="1.55" fill="#fff" stroke="#b8404f" stroke-width="0.9"/>
<circle cx="473.45" cy="186.48" r="1.55" fill="#fff" stroke="#b8404f" stroke-width="0.9"/>
<circle cx="509.9" cy="185.26" r="1.55" fill="#fff" stroke="#b8404f" stroke-width="0.9"/>
<text x="509.9" y="176.64" font-size="5.2" fill="#333" text-anchor="middle" >*</text>
<path d="M429.5 137H436.5" stroke="#b8404f" stroke-width="0.9"/>
<circle cx="433" cy="137" r="1.55" fill="#fff" stroke="#b8404f" stroke-width="0.9"/>
<text x="439.3" y="138.35" font-size="3.8" fill="#707070" >HbAA n=4-5</text>
<path d="M429.5 144.5H436.5" stroke="#3b6293" stroke-width="0.9"/>
<path d="M433 142.5L435 144.5L433 146.5L431 144.5Z" fill="#3b6293" stroke="#3b6293" stroke-width="0.9"/>
<text x="439.3" y="145.85" font-size="3.8" fill="#707070" >HbSS n=4-5</text>
<text x="7.9" y="232.8" font-size="11" fill="#111" class="b" textLength="3.03" lengthAdjust="spacingAndGlyphs" >I</text>
<text x="20.8" y="271.9" font-size="7.5" fill="#151515" text-anchor="middle" textLength="90" lengthAdjust="spacingAndGlyphs" transform="rotate(-90 20.8 271.9)" >Bowman’s capsule basement</text>
<text x="31.6" y="272.35" font-size="7.5" fill="#151515" text-anchor="middle" textLength="87.7" lengthAdjust="spacingAndGlyphs" transform="rotate(-90 31.6 272.35)" >membrane thickening score</text>
<text x="88.4" y="326.1" font-size="7.3" fill="#111" class="b" text-anchor="middle" textLength="38" lengthAdjust="spacingAndGlyphs" >Age [weeks]</text>
<path d="M45.4 241.5V304H129.5" fill="none" stroke="#2a2a2a" stroke-width="1.3"/>
<text x="39.8" y="305.7" font-size="4.8" fill="#444" text-anchor="end" >0</text>
<text x="39.8" y="290.45" font-size="4.8" fill="#444" text-anchor="end" >1</text>
<text x="39.8" y="275.2" font-size="4.8" fill="#444" text-anchor="end" >2</text>
<text x="39.8" y="259.95" font-size="4.8" fill="#444" text-anchor="end" >3</text>
<text x="39.8" y="244.7" font-size="4.8" fill="#444" text-anchor="end" >4</text>
<text x="55.4" y="315.2" font-size="4.8" fill="#444" text-anchor="middle" >8</text>
<text x="67.3" y="315.2" font-size="4.8" fill="#444" text-anchor="middle" >12</text>
<text x="79.2" y="315.2" font-size="4.8" fill="#444" text-anchor="middle" >16</text>
<text x="91.1" y="315.2" font-size="4.8" fill="#444" text-anchor="middle" >20</text>
<text x="103" y="315.2" font-size="4.8" fill="#444" text-anchor="middle" >24</text>
<text x="114.9" y="315.2" font-size="4.8" fill="#444" text-anchor="middle" >28</text>
<text x="126.8" y="315.2" font-size="4.8" fill="#444" text-anchor="middle" >32</text>
<path d="M42.4 304H45.4 M42.4 288.75H45.4 M42.4 273.5H45.4 M42.4 258.25H45.4 M42.4 243H45.4 M55.4 304V307.2 M67.3 304V307.2 M79.2 304V307.2 M91.1 304V307.2 M103 304V307.2 M114.9 304V307.2 M126.8 304V307.2" stroke="#2a2a2a" stroke-width="1.05" fill="none"/>
<path d="M55.5 299.43V297.9M54.1 299.43H56.9M54.1 297.9H56.9 M67.5 287.83V285.7M66.1 287.83H68.9M66.1 285.7H68.9 M91.5 274.26V266.64M90.1 274.26H92.9M90.1 266.64H92.9 M126.5 261.3V255.2M125.1 261.3H127.9M125.1 255.2H127.9 M55.5 298.81V297.29M54.1 298.81H56.9M54.1 297.29H56.9 M67.5 298.97V297.75M66.1 298.97H68.9M66.1 297.75H68.9 M91.5 297.29V295.76M90.1 297.29H92.9M90.1 295.76H92.9 M126.5 296.68V295.15M125.1 296.68H127.9M125.1 295.15H127.9" stroke="#2e2e2e" stroke-width="0.85" fill="none"/>
<polyline points="55.4,298.66 67.3,286.77 91.1,270.45 126.8,258.25" fill="none" stroke="#3b6293" stroke-width="1.15"/>
<polyline points="55.4,298.05 67.3,298.36 91.1,296.53 126.8,295.92" fill="none" stroke="#b8404f" stroke-width="1.15"/>
<rect x="53.95" y="297.21" width="2.9" height="2.9" fill="#3b6293" stroke="#2d4f7c" stroke-width="0.5"/>
<rect x="65.85" y="285.32" width="2.9" height="2.9" fill="#3b6293" stroke="#2d4f7c" stroke-width="0.5"/>
<rect x="89.65" y="269" width="2.9" height="2.9" fill="#3b6293" stroke="#2d4f7c" stroke-width="0.5"/>
<rect x="125.35" y="256.8" width="2.9" height="2.9" fill="#3b6293" stroke="#2d4f7c" stroke-width="0.5"/>
<circle cx="55.4" cy="298.05" r="1.55" fill="#fff" stroke="#b8404f" stroke-width="0.9"/>
<circle cx="67.3" cy="298.36" r="1.55" fill="#fff" stroke="#b8404f" stroke-width="0.9"/>
<circle cx="91.1" cy="296.53" r="1.55" fill="#fff" stroke="#b8404f" stroke-width="0.9"/>
<circle cx="126.8" cy="295.92" r="1.55" fill="#fff" stroke="#b8404f" stroke-width="0.9"/>
<text x="67.3" y="286.01" font-size="5.2" fill="#333" text-anchor="middle" >*</text>
<text x="91.1" y="266.65" font-size="5.2" fill="#333" text-anchor="middle" >*</text>
<text x="126.8" y="255.05" font-size="5.2" fill="#333" text-anchor="middle" >*</text>
<path d="M48.3 245H55.3" stroke="#b8404f" stroke-width="0.9"/>
<circle cx="51.8" cy="245" r="1.55" fill="#fff" stroke="#b8404f" stroke-width="0.9"/>
<text x="58.1" y="246.35" font-size="3.8" fill="#707070" >HbAA n=5</text>
<path d="M48.3 253H55.3" stroke="#3b6293" stroke-width="0.9"/>
<rect x="50.35" y="251.55" width="2.9" height="2.9" fill="#3b6293" stroke="#2d4f7c" stroke-width="0.5"/>
<text x="58.1" y="254.35" font-size="3.8" fill="#707070" >HbSS n=5-6</text>
<text x="136" y="232.8" font-size="11" fill="#111" class="b" textLength="3.88" lengthAdjust="spacingAndGlyphs" >J</text>
<text x="150.2" y="271.9" font-size="7.5" fill="#151515" text-anchor="middle" textLength="90" lengthAdjust="spacingAndGlyphs" transform="rotate(-90 150.2 271.9)" >Bowman’s capsule basement</text>
<text x="161.3" y="272.35" font-size="7.5" fill="#151515" text-anchor="middle" textLength="87.7" lengthAdjust="spacingAndGlyphs" transform="rotate(-90 161.3 272.35)" >membrane thickening score</text>
<text x="217.9" y="326.1" font-size="7.3" fill="#111" class="b" text-anchor="middle" textLength="38" lengthAdjust="spacingAndGlyphs" >Age [weeks]</text>
<path d="M175.1 241.5V304H259.5" fill="none" stroke="#2a2a2a" stroke-width="1.3"/>
<text x="169.5" y="305.7" font-size="4.8" fill="#444" text-anchor="end" >0</text>
<text x="169.5" y="290.45" font-size="4.8" fill="#444" text-anchor="end" >1</text>
<text x="169.5" y="275.2" font-size="4.8" fill="#444" text-anchor="end" >2</text>
<text x="169.5" y="259.95" font-size="4.8" fill="#444" text-anchor="end" >3</text>
<text x="169.5" y="244.7" font-size="4.8" fill="#444" text-anchor="end" >4</text>
<text x="185.4" y="315.2" font-size="4.8" fill="#444" text-anchor="middle" >8</text>
<text x="197.45" y="315.2" font-size="4.8" fill="#444" text-anchor="middle" >12</text>
<text x="209.5" y="315.2" font-size="4.8" fill="#444" text-anchor="middle" >16</text>
<text x="221.55" y="315.2" font-size="4.8" fill="#444" text-anchor="middle" >20</text>
<text x="233.6" y="315.2" font-size="4.8" fill="#444" text-anchor="middle" >24</text>
<text x="245.65" y="315.2" font-size="4.8" fill="#444" text-anchor="middle" >28</text>
<text x="257.7" y="315.2" font-size="4.8" fill="#444" text-anchor="middle" >32</text>
<path d="M172.1 304H175.1 M172.1 288.75H175.1 M172.1 273.5H175.1 M172.1 258.25H175.1 M172.1 243H175.1 M185.4 304V307.2 M197.45 304V307.2 M209.5 304V307.2 M221.55 304V307.2 M233.6 304V307.2 M245.65 304V307.2 M257.7 304V307.2" stroke="#2a2a2a" stroke-width="1.05" fill="none"/>
<path d="M185.5 302.02V300.49M184.1 302.02H186.9M184.1 300.49H186.9 M197.5 300.8V299.27M196.1 300.8H198.9M196.1 299.27H198.9 M221.5 294.09V289.51M220.1 294.09H222.9M220.1 289.51H222.9 M257.5 282.65V278.07M256.1 282.65H258.9M256.1 278.07H258.9 M185.5 302.48V300.95M184.1 302.48H186.9M184.1 300.95H186.9 M197.5 301.1V299.58M196.1 301.1H198.9M196.1 299.58H198.9 M221.5 301.1V299.58M220.1 301.1H222.9M220.1 299.58H222.9 M257.5 298.2V296.68M256.1 298.2H258.9M256.1 296.68H258.9" stroke="#2e2e2e" stroke-width="0.85" fill="none"/>
<polyline points="185.4,301.25 197.45,300.04 221.55,291.8 257.7,280.36" fill="none" stroke="#3b6293" stroke-width="1.15"/>
<polyline points="185.4,301.71 197.45,300.34 221.55,300.34 257.7,297.44" fill="none" stroke="#b8404f" stroke-width="1.15"/>
<path d="M185.4 299.25L187.4 301.25L185.4 303.25L183.4 301.25Z" fill="#3b6293" stroke="#3b6293" stroke-width="0.9"/>
<path d="M197.45 298.04L199.45 300.04L197.45 302.04L195.45 300.04Z" fill="#3b6293" stroke="#3b6293" stroke-width="0.9"/>
<path d="M221.55 289.8L223.55 291.8L221.55 293.8L219.55 291.8Z" fill="#3b6293" stroke="#3b6293" stroke-width="0.9"/>
<path d="M257.7 278.36L259.7 280.36L257.7 282.36L255.7 280.36Z" fill="#3b6293" stroke="#3b6293" stroke-width="0.9"/>
<path d="M185.4 299.71L187.4 301.71L185.4 303.71L183.4 301.71Z" fill="#fff" stroke="#b8404f" stroke-width="0.9"/>
<path d="M197.45 298.34L199.45 300.34L197.45 302.34L195.45 300.34Z" fill="#fff" stroke="#b8404f" stroke-width="0.9"/>
<path d="M221.55 298.34L223.55 300.34L221.55 302.34L219.55 300.34Z" fill="#fff" stroke="#b8404f" stroke-width="0.9"/>
<path d="M257.7 295.44L259.7 297.44L257.7 299.44L255.7 297.44Z" fill="#fff" stroke="#b8404f" stroke-width="0.9"/>
<text x="221.55" y="289.37" font-size="5.2" fill="#333" text-anchor="middle" >*</text>
<text x="257.7" y="278.08" font-size="5.2" fill="#333" text-anchor="middle" >*</text>
<path d="M177.8 245H184.8" stroke="#b8404f" stroke-width="0.9"/>
<path d="M181.3 243L183.3 245L181.3 247L179.3 245Z" fill="#fff" stroke="#b8404f" stroke-width="0.9"/>
<text x="187.6" y="246.35" font-size="3.8" fill="#707070" >HbAA n=5</text>
<path d="M177.8 253H184.8" stroke="#3b6293" stroke-width="0.9"/>
<path d="M181.3 251L183.3 253L181.3 255L179.3 253Z" fill="#3b6293" stroke="#3b6293" stroke-width="0.9"/>
<text x="187.6" y="254.35" font-size="3.8" fill="#707070" >HbSS n=5-6</text>
<text x="268.1" y="232.8" font-size="11" fill="#111" class="b" textLength="6.26" lengthAdjust="spacingAndGlyphs" >K</text>
<text x="283.7" y="273" font-size="7.5" fill="#151515" text-anchor="middle" textLength="78.8" lengthAdjust="spacingAndGlyphs" transform="rotate(-90 283.7 273)" >Glomerular number/field</text>
<text x="343.3" y="325.8" font-size="7.4" fill="#111" class="b" text-anchor="middle" textLength="37.4" lengthAdjust="spacingAndGlyphs" >Age [weeks]</text>
<path d="M300.5 241.8V304.1H385.5" fill="none" stroke="#2a2a2a" stroke-width="1.3"/>
<text x="294.9" y="305.8" font-size="4.8" fill="#444" text-anchor="end" >0</text>
<text x="294.9" y="293.7" font-size="4.8" fill="#444" text-anchor="end" >2</text>
<text x="294.9" y="281.6" font-size="4.8" fill="#444" text-anchor="end" >4</text>
<text x="294.9" y="269.5" font-size="4.8" fill="#444" text-anchor="end" >6</text>
<text x="294.9" y="257.4" font-size="4.8" fill="#444" text-anchor="end" >8</text>
<text x="294.9" y="245.3" font-size="4.8" fill="#444" text-anchor="end" >10</text>
<text x="311" y="315.3" font-size="4.8" fill="#444" text-anchor="middle" >8</text>
<text x="322.9" y="315.3" font-size="4.8" fill="#444" text-anchor="middle" >12</text>
<text x="334.8" y="315.3" font-size="4.8" fill="#444" text-anchor="middle" >16</text>
<text x="346.7" y="315.3" font-size="4.8" fill="#444" text-anchor="middle" >20</text>
<text x="358.6" y="315.3" font-size="4.8" fill="#444" text-anchor="middle" >24</text>
<text x="370.5" y="315.3" font-size="4.8" fill="#444" text-anchor="middle" >28</text>
<text x="382.4" y="315.3" font-size="4.8" fill="#444" text-anchor="middle" >32</text>
<path d="M297.5 304.1H300.5 M297.5 292H300.5 M297.5 279.9H300.5 M297.5 267.8H300.5 M297.5 255.7H300.5 M297.5 243.6H300.5 M311 304.1V307.3 M322.9 304.1V307.3 M334.8 304.1V307.3 M346.7 304.1V307.3 M358.6 304.1V307.3 M370.5 304.1V307.3 M382.4 304.1V307.3" stroke="#2a2a2a" stroke-width="1.05" fill="none"/>
<path d="M311.5 268.1V265.99M310.1 268.1H312.9M310.1 265.99H312.9 M322.5 270.22V267.5M321.1 270.22H323.9M321.1 267.5H323.9 M346.5 274.15V271.73M345.1 274.15H347.9M345.1 271.73H347.9 M382.5 277.18V275.06M381.1 277.18H383.9M381.1 275.06H383.9 M311.5 267.19V264.17M310.1 267.19H312.9M310.1 264.17H312.9 M322.5 268.1V265.08M321.1 268.1H323.9M321.1 265.08H323.9 M346.5 270.22V267.5M345.1 270.22H347.9M345.1 267.5H347.9 M382.5 268.1V265.99M381.1 268.1H383.9M381.1 265.99H383.9" stroke="#2e2e2e" stroke-width="0.85" fill="none"/>
<polyline points="311,267.07 322.9,268.89 346.7,272.88 382.4,276.09" fill="none" stroke="#3b6293" stroke-width="1.15"/>
<polyline points="311,265.62 322.9,266.71 346.7,268.89 382.4,267.07" fill="none" stroke="#b8404f" stroke-width="1.15"/>
<rect x="309.55" y="265.62" width="2.9" height="2.9" fill="#3b6293" stroke="#2d4f7c" stroke-width="0.5"/>
<rect x="321.45" y="267.44" width="2.9" height="2.9" fill="#3b6293" stroke="#2d4f7c" stroke-width="0.5"/>
<rect x="345.25" y="271.43" width="2.9" height="2.9" fill="#3b6293" stroke="#2d4f7c" stroke-width="0.5"/>
<rect x="380.95" y="274.64" width="2.9" height="2.9" fill="#3b6293" stroke="#2d4f7c" stroke-width="0.5"/>
<circle cx="311" cy="265.62" r="1.55" fill="#fff" stroke="#b8404f" stroke-width="0.9"/>
<circle cx="322.9" cy="266.71" r="1.55" fill="#fff" stroke="#b8404f" stroke-width="0.9"/>
<circle cx="346.7" cy="268.89" r="1.55" fill="#fff" stroke="#b8404f" stroke-width="0.9"/>
<circle cx="382.4" cy="267.07" r="1.55" fill="#fff" stroke="#b8404f" stroke-width="0.9"/>
<text x="382.4" y="274.94" font-size="5.2" fill="#333" text-anchor="middle" >*</text>
<path d="M304.3 246.3H311.3" stroke="#b8404f" stroke-width="0.9"/>
<circle cx="307.8" cy="246.3" r="1.55" fill="#fff" stroke="#b8404f" stroke-width="0.9"/>
<text x="314.1" y="247.65" font-size="3.8" fill="#707070" >HbAA n=5</text>
<path d="M304.3 253.9H311.3" stroke="#3b6293" stroke-width="0.9"/>
<rect x="306.35" y="252.45" width="2.9" height="2.9" fill="#3b6293" stroke="#2d4f7c" stroke-width="0.5"/>
<text x="314.1" y="255.25" font-size="3.8" fill="#707070" >HbSS n=5-6</text>
<text x="393.1" y="232.8" font-size="11" fill="#111" class="b" textLength="5.31" lengthAdjust="spacingAndGlyphs" >L</text>
<text x="410" y="273" font-size="7.5" fill="#151515" text-anchor="middle" textLength="78.8" lengthAdjust="spacingAndGlyphs" transform="rotate(-90 410 273)" >Glomerular number/field</text>
<text x="469.5" y="325.8" font-size="7.3" fill="#111" class="b" text-anchor="middle" textLength="38" lengthAdjust="spacingAndGlyphs" >Age [weeks]</text>
<path d="M426.5 241.8V304.1H512" fill="none" stroke="#2a2a2a" stroke-width="1.3"/>
<text x="420.9" y="305.8" font-size="4.8" fill="#444" text-anchor="end" >0</text>
<text x="420.9" y="293.7" font-size="4.8" fill="#444" text-anchor="end" >2</text>
<text x="420.9" y="281.6" font-size="4.8" fill="#444" text-anchor="end" >4</text>
<text x="420.9" y="269.5" font-size="4.8" fill="#444" text-anchor="end" >6</text>
<text x="420.9" y="257.4" font-size="4.8" fill="#444" text-anchor="end" >8</text>
<text x="420.9" y="245.3" font-size="4.8" fill="#444" text-anchor="end" >10</text>
<text x="436.7" y="315.3" font-size="4.8" fill="#444" text-anchor="middle" >8</text>
<text x="448.6" y="315.3" font-size="4.8" fill="#444" text-anchor="middle" >12</text>
<text x="460.5" y="315.3" font-size="4.8" fill="#444" text-anchor="middle" >16</text>
<text x="472.4" y="315.3" font-size="4.8" fill="#444" text-anchor="middle" >20</text>
<text x="484.3" y="315.3" font-size="4.8" fill="#444" text-anchor="middle" >24</text>
<text x="496.2" y="315.3" font-size="4.8" fill="#444" text-anchor="middle" >28</text>
<text x="508.1" y="315.3" font-size="4.8" fill="#444" text-anchor="middle" >32</text>
<path d="M423.5 304.1H426.5 M423.5 292H426.5 M423.5 279.9H426.5 M423.5 267.8H426.5 M423.5 255.7H426.5 M423.5 243.6H426.5 M436.7 304.1V307.3 M448.6 304.1V307.3 M460.5 304.1V307.3 M472.4 304.1V307.3 M484.3 304.1V307.3 M496.2 304.1V307.3 M508.1 304.1V307.3" stroke="#2a2a2a" stroke-width="1.05" fill="none"/>
<path d="M436.5 252.98V250.25M435.1 252.98H437.9M435.1 250.25H437.9 M448.5 251.16V249.35M447.1 251.16H449.9M447.1 249.35H449.9 M472.5 266.23V261.63M471.1 266.23H473.9M471.1 261.63H473.9 M508.5 269.31V266.59M507.1 269.31H509.9M507.1 266.59H509.9 M436.5 259.33V257.51M435.1 259.33H437.9M435.1 257.51H437.9 M448.5 259.94V256.91M447.1 259.94H449.9M447.1 256.91H449.9 M472.5 261.14V254.79M471.1 261.14H473.9M471.1 254.79H473.9 M508.5 263.99V255.28M507.1 263.99H509.9M507.1 255.28H509.9" stroke="#2e2e2e" stroke-width="0.85" fill="none"/>
<polyline points="436.7,251.71 448.6,250.32 472.4,263.81 508.1,267.98" fill="none" stroke="#3b6293" stroke-width="1.15"/>
<polyline points="436.7,258.42 448.6,258.42 472.4,258.42 508.1,259.51" fill="none" stroke="#b8404f" stroke-width="1.15"/>
<rect x="435.25" y="250.26" width="2.9" height="2.9" fill="#3b6293" stroke="#2d4f7c" stroke-width="0.5"/>
<rect x="447.15" y="248.87" width="2.9" height="2.9" fill="#3b6293" stroke="#2d4f7c" stroke-width="0.5"/>
<rect x="470.95" y="262.36" width="2.9" height="2.9" fill="#3b6293" stroke="#2d4f7c" stroke-width="0.5"/>
<rect x="506.65" y="266.53" width="2.9" height="2.9" fill="#3b6293" stroke="#2d4f7c" stroke-width="0.5"/>
<path d="M436.7 256.42L438.7 258.42L436.7 260.42L434.7 258.42Z" fill="#fff" stroke="#b8404f" stroke-width="0.9"/>
<path d="M448.6 256.42L450.6 258.42L448.6 260.42L446.6 258.42Z" fill="#fff" stroke="#b8404f" stroke-width="0.9"/>
<path d="M472.4 256.42L474.4 258.42L472.4 260.42L470.4 258.42Z" fill="#fff" stroke="#b8404f" stroke-width="0.9"/>
<path d="M508.1 257.51L510.1 259.51L508.1 261.51L506.1 259.51Z" fill="#fff" stroke="#b8404f" stroke-width="0.9"/>
<text x="472.4" y="271.91" font-size="5.2" fill="#333" text-anchor="middle" >*</text>
<text x="508.1" y="276.45" font-size="5.2" fill="#333" text-anchor="middle" >*</text>
<path d="M474.2 291.5H481.2" stroke="#b8404f" stroke-width="0.9"/>
<path d="M477.7 289.5L479.7 291.5L477.7 293.5L475.7 291.5Z" fill="#fff" stroke="#b8404f" stroke-width="0.9"/>
<text x="484" y="292.85" font-size="4.2" fill="#707070" >HbAA n=5</text>
<path d="M474.2 299.3H481.2" stroke="#3b6293" stroke-width="0.9"/>
<rect x="476.25" y="297.85" width="2.9" height="2.9" fill="#3b6293" stroke="#2d4f7c" stroke-width="0.5"/>
<text x="484" y="300.65" font-size="4.2" fill="#707070" >HbSS n=5</text>
<text x="8.4" y="341.6" font-size="10.6" fill="#111" class="b" textLength="8.92" lengthAdjust="spacingAndGlyphs" >M</text>
<text x="21.1" y="379" font-size="7.5" fill="#151515" text-anchor="middle" textLength="67" lengthAdjust="spacingAndGlyphs" transform="rotate(-90 21.1 379)" >Glomerular size [µm<tspan font-size="4" dy="-2.5">2</tspan><tspan dy="2.5">]</tspan></text>
<text x="87.9" y="432.6" font-size="7.3" fill="#111" class="b" text-anchor="middle" textLength="38" lengthAdjust="spacingAndGlyphs" >Age [weeks]</text>
<path d="M45.4 346.8V411.2H129.5" fill="none" stroke="#2a2a2a" stroke-width="1.3"/>
<text x="39.8" y="412.9" font-size="4.8" fill="#444" text-anchor="end" >0</text>
<text x="39.8" y="402.72" font-size="4.8" fill="#444" text-anchor="end" >1000</text>
<text x="39.8" y="392.53" font-size="4.8" fill="#444" text-anchor="end" >2000</text>
<text x="39.8" y="382.35" font-size="4.8" fill="#444" text-anchor="end" >3000</text>
<text x="39.8" y="372.17" font-size="4.8" fill="#444" text-anchor="end" >4000</text>
<text x="39.8" y="361.98" font-size="4.8" fill="#444" text-anchor="end" >5000</text>
<text x="39.8" y="351.8" font-size="4.8" fill="#444" text-anchor="end" >6000</text>
<text x="55.4" y="422.4" font-size="4.8" fill="#444" text-anchor="middle" >8</text>
<text x="67.3" y="422.4" font-size="4.8" fill="#444" text-anchor="middle" >12</text>
<text x="79.2" y="422.4" font-size="4.8" fill="#444" text-anchor="middle" >16</text>
<text x="91.1" y="422.4" font-size="4.8" fill="#444" text-anchor="middle" >20</text>
<text x="103" y="422.4" font-size="4.8" fill="#444" text-anchor="middle" >24</text>
<text x="114.9" y="422.4" font-size="4.8" fill="#444" text-anchor="middle" >28</text>
<text x="126.8" y="422.4" font-size="4.8" fill="#444" text-anchor="middle" >32</text>
<path d="M42.4 411.2H45.4 M42.4 401.02H45.4 M42.4 390.83H45.4 M42.4 380.65H45.4 M42.4 370.47H45.4 M42.4 360.28H45.4 M42.4 350.1H45.4 M55.4 411.2V414.4 M67.3 411.2V414.4 M79.2 411.2V414.4 M91.1 411.2V414.4 M103 411.2V414.4 M114.9 411.2V414.4 M126.8 411.2V414.4" stroke="#2a2a2a" stroke-width="1.05" fill="none"/>
<path d="M55.5 375.05V369.96M54.1 375.05H56.9M54.1 369.96H56.9 M67.5 371.99V370.36M66.1 371.99H68.9M66.1 370.36H68.9 M91.5 366.19V364.36M90.1 366.19H92.9M90.1 364.36H92.9 M126.5 358.76V352.65M125.1 358.76H127.9M125.1 352.65H127.9 M55.5 386.25V384.62M54.1 386.25H56.9M54.1 384.62H56.9 M67.5 384.93V383.3M66.1 384.93H68.9M66.1 383.3H68.9 M91.5 382.28V380.65M90.1 382.28H92.9M90.1 380.65H92.9 M126.5 380.55V378.92M125.1 380.55H127.9M125.1 378.92H127.9" stroke="#2e2e2e" stroke-width="0.85" fill="none"/>
<polyline points="55.4,372.5 67.3,371.18 91.1,365.27 126.8,355.8" fill="none" stroke="#3b6293" stroke-width="1.15"/>
<polyline points="55.4,385.44 67.3,384.11 91.1,381.46 126.8,379.73" fill="none" stroke="#b8404f" stroke-width="1.15"/>
<rect x="53.95" y="371.05" width="2.9" height="2.9" fill="#3b6293" stroke="#2d4f7c" stroke-width="0.5"/>
<rect x="65.85" y="369.73" width="2.9" height="2.9" fill="#3b6293" stroke="#2d4f7c" stroke-width="0.5"/>
<rect x="89.65" y="363.82" width="2.9" height="2.9" fill="#3b6293" stroke="#2d4f7c" stroke-width="0.5"/>
<rect x="125.35" y="354.35" width="2.9" height="2.9" fill="#3b6293" stroke="#2d4f7c" stroke-width="0.5"/>
<circle cx="55.4" cy="385.44" r="1.55" fill="#fff" stroke="#b8404f" stroke-width="0.9"/>
<circle cx="67.3" cy="384.11" r="1.55" fill="#fff" stroke="#b8404f" stroke-width="0.9"/>
<circle cx="91.1" cy="381.46" r="1.55" fill="#fff" stroke="#b8404f" stroke-width="0.9"/>
<circle cx="126.8" cy="379.73" r="1.55" fill="#fff" stroke="#b8404f" stroke-width="0.9"/>
<text x="91.1" y="364.41" font-size="5.2" fill="#333" text-anchor="middle" >*</text>
<text x="126.8" y="352.7" font-size="5.2" fill="#333" text-anchor="middle" >*</text>
<path d="M49.3 352.7H56.3" stroke="#b8404f" stroke-width="0.9"/>
<circle cx="52.8" cy="352.7" r="1.55" fill="#fff" stroke="#b8404f" stroke-width="0.9"/>
<text x="59.1" y="354.05" font-size="3.8" fill="#707070" >HbAA n=5</text>
<path d="M49.3 360.4H56.3" stroke="#3b6293" stroke-width="0.9"/>
<rect x="51.35" y="358.95" width="2.9" height="2.9" fill="#3b6293" stroke="#2d4f7c" stroke-width="0.5"/>
<text x="59.1" y="361.75" font-size="3.8" fill="#707070" >HbSS n=5-6</text>
<text x="138.2" y="341.6" font-size="10.6" fill="#111" class="b" textLength="7.37" lengthAdjust="spacingAndGlyphs" >N</text>
<text x="151.2" y="379" font-size="7.5" fill="#151515" text-anchor="middle" textLength="67" lengthAdjust="spacingAndGlyphs" transform="rotate(-90 151.2 379)" >Glomerular size [µm<tspan font-size="4" dy="-2.5">2</tspan><tspan dy="2.5">]</tspan></text>
<text x="217.3" y="432.6" font-size="7.3" fill="#111" class="b" text-anchor="middle" textLength="38" lengthAdjust="spacingAndGlyphs" >Age [weeks]</text>
<path d="M175.9 346.8V411.2H259.5" fill="none" stroke="#2a2a2a" stroke-width="1.3"/>
<text x="170.3" y="412.9" font-size="4.8" fill="#444" text-anchor="end" >0</text>
<text x="170.3" y="402.72" font-size="4.8" fill="#444" text-anchor="end" >1000</text>
<text x="170.3" y="392.53" font-size="4.8" fill="#444" text-anchor="end" >2000</text>
<text x="170.3" y="382.35" font-size="4.8" fill="#444" text-anchor="end" >3000</text>
<text x="170.3" y="372.17" font-size="4.8" fill="#444" text-anchor="end" >4000</text>
<text x="170.3" y="361.98" font-size="4.8" fill="#444" text-anchor="end" >5000</text>
<text x="170.3" y="351.8" font-size="4.8" fill="#444" text-anchor="end" >6000</text>
<text x="184.9" y="422.4" font-size="4.8" fill="#444" text-anchor="middle" >8</text>
<text x="196.8" y="422.4" font-size="4.8" fill="#444" text-anchor="middle" >12</text>
<text x="208.7" y="422.4" font-size="4.8" fill="#444" text-anchor="middle" >16</text>
<text x="220.6" y="422.4" font-size="4.8" fill="#444" text-anchor="middle" >20</text>
<text x="232.5" y="422.4" font-size="4.8" fill="#444" text-anchor="middle" >24</text>
<text x="244.4" y="422.4" font-size="4.8" fill="#444" text-anchor="middle" >28</text>
<text x="256.3" y="422.4" font-size="4.8" fill="#444" text-anchor="middle" >32</text>
<path d="M172.9 411.2H175.9 M172.9 401.02H175.9 M172.9 390.83H175.9 M172.9 380.65H175.9 M172.9 370.47H175.9 M172.9 360.28H175.9 M172.9 350.1H175.9 M184.9 411.2V414.4 M196.8 411.2V414.4 M208.7 411.2V414.4 M220.6 411.2V414.4 M232.5 411.2V414.4 M244.4 411.2V414.4 M256.3 411.2V414.4" stroke="#2a2a2a" stroke-width="1.05" fill="none"/>
<path d="M184.5 387.27V385.23M183.1 387.27H185.9M183.1 385.23H185.9 M196.5 380.75V378.61M195.1 380.75H197.9M195.1 378.61H197.9 M220.5 375.56V367.92M219.1 375.56H221.9M219.1 367.92H221.9 M256.5 357.23V354.17M255.1 357.23H257.9M255.1 354.17H257.9 M184.5 385.64V383.6M183.1 385.64H185.9M183.1 383.6H185.9 M196.5 383.81V381.77M195.1 383.81H197.9M195.1 381.77H197.9 M220.5 377.39V375.35M219.1 377.39H221.9M219.1 375.35H221.9 M256.5 373.01V370.98M255.1 373.01H257.9M255.1 370.98H257.9" stroke="#2e2e2e" stroke-width="0.85" fill="none"/>
<polyline points="184.9,386.2 196.8,379.69 220.6,371.99 256.3,355.8" fill="none" stroke="#3b6293" stroke-width="1.15"/>
<polyline points="184.9,384.62 196.8,382.79 220.6,376.37 256.3,371.99" fill="none" stroke="#b8404f" stroke-width="1.15"/>
<rect x="183.45" y="384.75" width="2.9" height="2.9" fill="#3b6293" stroke="#2d4f7c" stroke-width="0.5"/>
<rect x="195.35" y="378.24" width="2.9" height="2.9" fill="#3b6293" stroke="#2d4f7c" stroke-width="0.5"/>
<rect x="219.15" y="370.54" width="2.9" height="2.9" fill="#3b6293" stroke="#2d4f7c" stroke-width="0.5"/>
<rect x="254.85" y="354.35" width="2.9" height="2.9" fill="#3b6293" stroke="#2d4f7c" stroke-width="0.5"/>
<path d="M184.9 382.62L186.9 384.62L184.9 386.62L182.9 384.62Z" fill="#fff" stroke="#b8404f" stroke-width="0.9"/>
<path d="M196.8 380.79L198.8 382.79L196.8 384.79L194.8 382.79Z" fill="#fff" stroke="#b8404f" stroke-width="0.9"/>
<path d="M220.6 374.37L222.6 376.37L220.6 378.37L218.6 376.37Z" fill="#fff" stroke="#b8404f" stroke-width="0.9"/>
<path d="M256.3 369.99L258.3 371.99L256.3 373.99L254.3 371.99Z" fill="#fff" stroke="#b8404f" stroke-width="0.9"/>
<text x="220.6" y="367.98" font-size="5.2" fill="#333" text-anchor="middle" >*</text>
<text x="256.3" y="353.72" font-size="5.2" fill="#333" text-anchor="middle" >*</text>
<text x="256.3" y="370.01" font-size="5.2" fill="#333" text-anchor="middle" >*</text>
<path d="M178 353.2H185" stroke="#b8404f" stroke-width="0.9"/>
<path d="M181.5 351.2L183.5 353.2L181.5 355.2L179.5 353.2Z" fill="#fff" stroke="#b8404f" stroke-width="0.9"/>
<text x="187.8" y="354.55" font-size="3.8" fill="#707070" >HbAA n=5</text>
<path d="M178 360.9H185" stroke="#3b6293" stroke-width="0.9"/>
<rect x="180.05" y="359.45" width="2.9" height="2.9" fill="#3b6293" stroke="#2d4f7c" stroke-width="0.5"/>
<text x="187.8" y="362.25" font-size="3.8" fill="#707070" >HbSS n=5</text>
<text x="7.4" y="447.5" font-size="10" fill="#111" class="b" textLength="8.4" lengthAdjust="spacingAndGlyphs" >O</text>
<text x="254.6" y="447.8" font-size="10.2" fill="#111" class="b" textLength="6.6" lengthAdjust="spacingAndGlyphs" >P</text>
<text x="132.3" y="448.8" font-size="7" fill="#111" class="b" text-anchor="middle" >male</text>
<text x="375.1" y="449.4" font-size="7" fill="#111" class="b" text-anchor="middle" >female</text>
<text x="45.88" y="459.8" font-size="6.3" fill="#1a1a1a" text-anchor="middle" textLength="40.5" lengthAdjust="spacingAndGlyphs" >8 weeks of age</text>
<text x="289.05" y="460.5" font-size="6.3" fill="#1a1a1a" text-anchor="middle" textLength="40.5" lengthAdjust="spacingAndGlyphs" >8 weeks of age</text>
<text x="103.62" y="459.8" font-size="6.3" fill="#1a1a1a" text-anchor="middle" textLength="43" lengthAdjust="spacingAndGlyphs" >12 weeks of age</text>
<text x="346.35" y="460.5" font-size="6.3" fill="#1a1a1a" text-anchor="middle" textLength="43" lengthAdjust="spacingAndGlyphs" >12 weeks of age</text>
<text x="161.38" y="459.8" font-size="6.3" fill="#1a1a1a" text-anchor="middle" textLength="43" lengthAdjust="spacingAndGlyphs" >20 weeks of age</text>
<text x="403.65" y="460.5" font-size="6.3" fill="#1a1a1a" text-anchor="middle" textLength="43" lengthAdjust="spacingAndGlyphs" >20 weeks of age</text>
<text x="219.12" y="459.8" font-size="6.3" fill="#1a1a1a" text-anchor="middle" textLength="43" lengthAdjust="spacingAndGlyphs" >32 weeks of age</text>
<text x="460.95" y="460.5" font-size="6.3" fill="#1a1a1a" text-anchor="middle" textLength="43" lengthAdjust="spacingAndGlyphs" >32 weeks of age</text>
<text x="12.6" y="488.62" font-size="6" fill="#111" class="b" text-anchor="middle" textLength="16.9" lengthAdjust="spacingAndGlyphs" transform="rotate(-90 12.6 488.62)" >HbAA</text>
<text x="257.2" y="490" font-size="6" fill="#111" class="b" text-anchor="middle" textLength="16.9" lengthAdjust="spacingAndGlyphs" transform="rotate(-90 257.2 490)" >HbAA</text>
<text x="12.6" y="536.88" font-size="6" fill="#111" class="b" text-anchor="middle" textLength="14.3" lengthAdjust="spacingAndGlyphs" transform="rotate(-90 12.6 536.88)" >HbSS</text>
<text x="257.2" y="538" font-size="6" fill="#111" class="b" text-anchor="middle" textLength="14.3" lengthAdjust="spacingAndGlyphs" transform="rotate(-90 257.2 538)" >HbSS</text>
<text x="12.6" y="585.12" font-size="6" fill="#111" class="b" text-anchor="middle" textLength="16.9" lengthAdjust="spacingAndGlyphs" transform="rotate(-90 12.6 585.12)" >HbAA</text>
<text x="257.2" y="586" font-size="6" fill="#111" class="b" text-anchor="middle" textLength="16.9" lengthAdjust="spacingAndGlyphs" transform="rotate(-90 257.2 586)" >HbAA</text>
<text x="12.6" y="633.38" font-size="6" fill="#111" class="b" text-anchor="middle" textLength="14.3" lengthAdjust="spacingAndGlyphs" transform="rotate(-90 12.6 633.38)" >HbSS</text>
<text x="257.2" y="634" font-size="6" fill="#111" class="b" text-anchor="middle" textLength="14.3" lengthAdjust="spacingAndGlyphs" transform="rotate(-90 257.2 634)" >HbSS</text>
<rect x="16.5" y="463.5" width="232" height="194" fill="#e8dfe6"/>
<rect x="259.9" y="464.5" width="230.2" height="193" fill="#e8dfe6"/>
<g filter="url(#soft)">
<clipPath id="c1"><rect x="17.4" y="464.4" width="56.95" height="47.45"/></clipPath>
<g clip-path="url(#c1)">
<clipPath id="g1"><path d="M65.4 490L65.8 492.5L65.7 495.1L65.2 497.8L64.1 500.4L62.2 502.6L59.5 503.8L56.5 504.2L53.6 504.1L51.1 504.1L48.7 504.3L46.2 504.4L43.9 503.8L41.8 502.5L40 501.1L38 499.9L35.7 498.8L33.3 497.3L31.4 495.2L30.3 492.7L30 490L30.3 487.3L31.4 484.8L33.1 482.6L35.2 480.9L37.3 479.4L39.2 477.9L41.1 476.2L43.4 474.8L46 474.4L48.7 474.8L51.1 475.6L53.5 476.3L56 476.7L58.5 477.5L60.6 478.9L62.1 481L63.1 483.2L63.9 485.4L64.7 487.6Z"/></clipPath>
<rect x="17.4" y="464.4" width="56.95" height="47.45" fill="#e8dcea"/>
<path d="M48.6 508.8L48.8 509.7L52.4 512.8L61.7 512.8L65.6 508.5L65.8 508L65.7 507.4L63.5 503.7L63.4 503.8L60.5 505.2L57.2 505.7L54.1 505.7L51.4 505.8L49.4 506Z" fill="#c2668c"/>
<ellipse cx="57.3" cy="508.8" rx="1.6" ry="1.5" fill="#b3a3cf" opacity="0.85"/>
<path d="M22.2 463.4L16.4 463.4L16.4 464.9L18.6 465.7L19.5 465.6Z" fill="#b46690"/>
<ellipse cx="18.8" cy="464.3" rx="2.8" ry="1.9" fill="#b3a3cf" opacity="0.85"/>
<path d="M72.8 491.1L73.5 490.8L75.3 488.8L75.3 478.5L63.5 476.8L62.8 477L61.9 477.8L63.5 480L64.6 482.4L65.5 484.9L66.4 487.4L67.1 490L67.2 490.6L67.7 490.9Z" fill="#c2668c"/>
<ellipse cx="69.9" cy="483.6" rx="2.5" ry="1.7" fill="#b3a3cf" opacity="0.85"/>
<path d="M68.6 463.4L62.7 463.4L64.6 464.8L65.5 464.9Z" fill="#bd5e88"/>
<path d="M31.9 504.4L31.7 504.9L31.7 505.7L31.9 506.4L36.5 511.4L37.3 511.7L47.1 509.2L47.8 508.6L48.5 506L46 506.1L43.4 505.4L41.1 504L39 502.5L36.8 501.1L35.3 500.3Z" fill="#c2668c"/>
<path d="M36 512.1L31.5 507.1L30.6 506.9L22.2 509.6L21.7 510.1L20.7 512.8L36.2 512.8L36.2 512.8Z" fill="#b46690"/>
<path d="M20 491.5L19.9 490.9L16.4 484.4L16.4 495.2L19.7 492Z" fill="#b46690"/>
<ellipse cx="17.7" cy="490.4" rx="2.2" ry="1.8" fill="#b3a3cf" opacity="0.85"/>
<path d="M35.2 478.7L34.6 478.4L19.3 476.9L18.6 477.2L16.4 479.5L16.4 482.8L20.8 490.9L21.4 491.3L22 491.5L22.7 491.4L28.6 487.8L28.7 487L29.8 484.3L31.6 481.9L33.9 479.9L35.2 478.9Z" fill="#c46c8f"/>
<path d="M18.1 466.4L16.4 465.7L16.4 478.3L18.1 476.5L18.4 475.9L18.7 467.3L18.5 466.7Z" fill="#bd5e88"/>
<path d="M19.2 475.2L19.4 475.8L20 476.1L34.1 477.5L34.8 477.3L35.1 476.6L34.9 467.5L34.7 466.9L34.3 466.6L24.1 463.5L23.3 463.6L19.9 466.3L19.5 467Z" fill="#bd5e88"/>
<ellipse cx="27.1" cy="470.9" rx="1.6" ry="1.2" fill="#b3a3cf" opacity="0.85"/>
<path d="M35.5 465.7L37 464.1L37.2 463.5L37.2 463.4L26.6 463.4L34.6 465.9Z" fill="#b46690"/>
<ellipse cx="33.1" cy="464.3" rx="1.6" ry="1.4" fill="#b3a3cf" opacity="0.85"/>
<path d="M62.4 476.3L62.7 475.8L64.4 466.3L64.1 465.4L61.3 463.4L51.1 463.4L50.1 464.5L49.8 465.3L51.7 474L54 474.6L56.8 475.2L59.5 476.1L61.3 477.3Z" fill="#c46c8f"/>
<ellipse cx="57.3" cy="469.3" rx="2.5" ry="1.9" fill="#b3a3cf" opacity="0.85"/>
<path d="M73.3 509L75.2 512.8L75.3 512.8L75.3 506L73.4 507.9L73.2 508.4Z" fill="#b46690"/>
<ellipse cx="74.6" cy="509.2" rx="2.5" ry="1.5" fill="#b3a3cf" opacity="0.85"/>
<path d="M66.5 507.2L67.3 507.7L71.9 507.9L72.6 507.6L75.3 504.9L75.3 497.1L73.3 492.4L72.5 491.9L67.7 491.7L67.3 491.9L67.4 492.8L67.3 495.6L66.7 498.6L65.5 501.4L64.1 503Z" fill="#bd5e88"/>
<ellipse cx="70.5" cy="500.3" rx="1.7" ry="2.2" fill="#b3a3cf" opacity="0.85"/>
<path d="M23.9 491.6L23.5 492.2L23.6 492.9L30.7 502.9L31.4 503.2L32.1 502.9L34.6 499.9L34.3 499.8L31.8 498L29.8 495.7L28.7 493L28.3 490L28.4 488.9Z" fill="#b75f88"/>
<ellipse cx="28.7" cy="496.3" rx="2.6" ry="2.1" fill="#b3a3cf" opacity="0.85"/>
<path d="M38.9 463.7L48.7 464.3L49.4 464L50 463.4L38.3 463.4L38.3 463.4Z" fill="#c46c8f"/>
<ellipse cx="45" cy="463.7" rx="1.5" ry="1.6" fill="#b3a3cf" opacity="0.85"/>
<path d="M75.3 495.1L75.3 489.9L74.2 491.1L74.1 492.1Z" fill="#c2668c"/>
<path d="M47.4 510L37.6 512.4L37.2 512.7L37.1 512.8L51.2 512.8L48.2 510.2Z" fill="#b75f88"/>
<path d="M70.4 463.4L65.7 465.7L65.2 466.3L63.6 475.1L63.8 475.8L64.4 476.1L75.3 477.7L75.3 464.2L73.7 463.4Z" fill="#c46c8f"/>
<path d="M20.8 509.6L20.5 509.2L16.4 506.2L16.4 512.8L19.8 512.8L20.8 510.2Z" fill="#c46c8f"/>
<path d="M30.9 505.3L30.9 504.9L30.8 504.3L22.4 492.6L21.9 492.3L21.3 492.1L20.5 492.4L16.4 496.3L16.4 505.2L21.2 508.7L22 508.8L30.3 506.1L30.7 505.8Z" fill="#c46c8f"/>
<path d="M67.1 508.5L66.4 508.8L62.8 512.8L74.3 512.8L72.5 509.2L71.7 508.7Z" fill="#c2668c"/>
<ellipse cx="68.9" cy="511" rx="1.9" ry="1.4" fill="#b3a3cf" opacity="0.85"/>
<path d="M36.5 477.9L38.2 476.5L40.3 474.7L42.9 473.2L45.8 472.7L48.7 473.1L50.8 473.8L49.1 465.8L48.8 465.3L48.3 465.1L38.2 464.5L37.5 464.7L35.9 466.4L35.7 467L35.9 477.2L36.2 477.9Z" fill="#b75f88"/>
<ellipse cx="42.2" cy="469.8" rx="2.5" ry="2.1" fill="#b3a3cf" opacity="0.85"/>
<rect x="17.4" y="464.4" width="56.95" height="47.45" filter="url(#triPatch)" opacity="0.5"/>
<rect x="17.4" y="464.4" width="56.95" height="47.45" filter="url(#triWhite)" opacity="0.6"/>
<path d="M66.5 490L66.8 492.7L66.7 495.5L66.2 498.3L65 501.1L63 503.3L60.2 504.7L57 505.1L54 505.1L51.3 505.2L48.7 505.4L46.1 505.5L43.5 504.8L41.3 503.5L39.3 502L37.2 500.7L34.8 499.4L32.4 497.8L30.4 495.5L29.2 492.9L28.9 490L29.3 487.1L30.3 484.4L32.1 482.1L34.3 480.3L36.5 478.7L38.5 477L40.6 475.2L43.1 473.8L45.9 473.3L48.7 473.7L51.3 474.6L53.8 475.2L56.5 475.7L59.1 476.6L61.4 478.2L63 480.3L64 482.7L64.9 485.1L65.8 487.5Z" fill="#f3eff5"/>
<g clip-path="url(#g1)">
<rect x="28.1" y="470.6" width="41.2" height="38.8" fill="#dfd2e2"/>
<rect x="28.1" y="470.6" width="41.2" height="38.8" filter="url(#triBlue)" opacity="0.3"/>
<rect x="28.1" y="470.6" width="41.2" height="38.8" filter="url(#triNuc)"/>
<rect x="28.1" y="470.6" width="41.2" height="38.8" filter="url(#triRed)"/>
</g>
<rect x="68.55" y="508.45" width="4" height="2" fill="#000"/>
</g>
<clipPath id="c2"><rect x="260.8" y="465.4" width="56.5" height="47.2"/></clipPath>
<g clip-path="url(#c2)">
<clipPath id="g2"><path d="M304.2 490.6L305.3 493L305.2 495.4L304 497.7L302.2 499.6L300.3 501.4L298.2 503.1L295.7 504.3L292.9 504.9L290 504.9L287.3 504.6L284.7 504.1L282.3 503.3L280.2 502.1L278.3 500.9L276.2 499.8L273.9 498.7L271.7 497.2L270.3 495.2L270 492.9L270.7 490.6L271.4 488.5L271.8 486.4L272.1 484.2L272.9 481.9L274.5 479.9L276.6 478.4L279.1 477.2L281.7 476.3L284.5 475.7L287.3 475.6L290.1 476.1L292.6 476.9L295 478L297.1 479.4L298.7 481.1L299.6 483.2L300.1 485.2L300.9 486.9L302.4 488.6Z"/></clipPath>
<rect x="260.8" y="465.4" width="56.5" height="47.2" fill="#e8dcea"/>
<path d="M316.8 511.7L317.3 511.1L318.3 507.1L318.3 498.9L312.9 495.2L312.2 495.1L307.8 496L307.2 496.4L302.4 506.1L302.5 507L303.4 508.6L303.8 508.9L312.5 513.2L313.3 513.3Z" fill="#c2668c"/>
<ellipse cx="311.3" cy="504.2" rx="2.8" ry="1.9" fill="#b3a3cf" opacity="0.85"/>
<path d="M310 476.5L310.3 475.8L309.9 475.1L302.3 469.6L301.5 469.5L292 471.7L291.4 472.1L291.2 472.4L291.1 473.2L291.6 474.8L293.2 475.3L295.8 476.5L298.1 478L299.9 479.9L300.9 482.2L301.6 484.4L301.6 484.5Z" fill="#bd5e88"/>
<path d="M300.9 506L301.4 505.9L301.8 505.5L305 498.9L303.6 500.6L301.5 502.6L299.2 504.5L297.1 505.5Z" fill="#c2668c"/>
<path d="M290.5 473.8L290.1 473.3L289.5 473.2L279.2 474.1L278.7 474.3L278.4 474.8L278.1 475.8L278.3 475.7L281.2 474.7L284.2 474L287.3 473.9L290.3 474.4L290.7 474.6Z" fill="#b46690"/>
<path d="M303.6 510L303.1 510.5L301.8 513.6L311.4 513.6L304.3 510.1Z" fill="#c2668c"/>
<path d="M317.3 486.5L313.6 493.7L313.5 494.4L313.9 494.9L318.3 497.9L318.3 486L318.2 486Z" fill="#b75f88"/>
<ellipse cx="316.6" cy="492.4" rx="1.8" ry="1.9" fill="#b3a3cf" opacity="0.85"/>
<path d="M262.1 466.2L262.4 465.5L262.3 464.4L259.8 464.4L259.8 466.3L261.4 466.4Z" fill="#c2668c"/>
<ellipse cx="261" cy="465.4" rx="2.6" ry="2" fill="#b3a3cf" opacity="0.85"/>
<path d="M274.9 507.8L274.6 513.6L286.9 513.6L287.9 506.4L287.3 506.3L284.5 505.8L282 504.9L275.6 507L275.1 507.3Z" fill="#c46c8f"/>
<ellipse cx="281.2" cy="509.7" rx="2.7" ry="1.2" fill="#b3a3cf" opacity="0.85"/>
<path d="M273.1 467.6L274.5 464.4L263.1 464.4L263.2 466.4L263.4 467L263.8 467.5L264.4 467.7L272.2 468.2L272.8 468Z" fill="#bd5e88"/>
<ellipse cx="268.6" cy="466.1" rx="1.5" ry="1.5" fill="#b3a3cf" opacity="0.85"/>
<path d="M315.8 472.8L316.4 473.1L318.3 473.2L318.3 464.4L316.6 464.4L315.6 472.1Z" fill="#b46690"/>
<ellipse cx="317.2" cy="469.1" rx="1.5" ry="1.8" fill="#b3a3cf" opacity="0.85"/>
<path d="M302.6 508.7L301.7 507.3L301.1 506.9L295.4 506.1L293.4 506.5L290.3 506.6L288.6 506.4L287.7 513.6L301 513.6L302.7 509.5Z" fill="#b75f88"/>
<ellipse cx="295" cy="510" rx="2.7" ry="2.1" fill="#b3a3cf" opacity="0.85"/>
<path d="M264.9 468.6L264.3 468.7L264 469.2L260.7 480.2L260.7 480.8L261 481.2L269.9 487.2L270.2 485.9L270.6 483.4L271.5 480.9L273.3 478.7L275.6 477L277.1 476.3L277.7 474.4L277.4 473.5L273.2 469.3L272.6 469Z" fill="#b75f88"/>
<path d="M292.7 470.7L301.2 468.8L301.9 468.2L303.1 464.4L290.8 464.4L291.6 470L292 470.6Z" fill="#bd5e88"/>
<path d="M265 498.9L268.7 491.8L269 490.6L269.7 488.2L269.8 488.1L269.7 488L260.3 481.7L259.8 481.7L259.8 497.5L263.8 499.3L264.5 499.4Z" fill="#bd5e88"/>
<path d="M273.6 506.9L266.2 503.4L265.6 503.3L265.1 503.7L260.5 510.2L260.3 511L261.1 513.6L273.8 513.6L274.1 507.7L274 507.2Z" fill="#b46690"/>
<path d="M264.6 500.9L264.1 500.3L259.8 498.4L259.8 509.7L259.9 509.7L264.8 502.8L264.9 502.1Z" fill="#b46690"/>
<path d="M263.3 468.7L263.1 467.8L262.8 467.6L262.3 467.3L259.8 467.1L259.8 480.3L259.8 480.3Z" fill="#b75f88"/>
<path d="M290 464.4L275.4 464.4L273.8 468L273.8 468.5L274 469L278.1 473.1L278.8 473.3L289.9 472.4L290.6 472L290.8 471.6L290.9 471Z" fill="#b46690"/>
<ellipse cx="282.7" cy="468.5" rx="1.8" ry="1.4" fill="#b3a3cf" opacity="0.85"/>
<path d="M280.9 504.4L279.4 503.7L277.3 502.3L275 501L272.5 499.7L270.2 498L268.6 495.7L268.4 494L265.4 499.9L265.3 500.6L265.7 501.9L266.1 502.4L274.3 506.3L274.9 506.4Z" fill="#b46690"/>
<ellipse cx="271.7" cy="501.7" rx="1.8" ry="1.9" fill="#b3a3cf" opacity="0.85"/>
<path d="M314.9 474.1L313.6 475.3L313.3 475.8L313.4 476.3L317.4 484.7L318.2 485.2L318.3 485.2L318.3 474L315.5 473.9Z" fill="#bd5e88"/>
<path d="M312.1 475.3L312.7 475L314.4 473.5L314.6 473L315.8 464.4L303.9 464.4L302.7 468.2L302.7 468.8L303 469.2L311.3 475.1L311.8 475.3Z" fill="#c2668c"/>
<path d="M306.9 494.8L307.8 495.1L312 494.3L312.6 493.8L316.7 485.9L316.7 485.1L312.7 476.7L312 476.2L311.3 476.4L302 485.3L302.5 486.4L304.1 488.3L305.9 490.6L307 493.2L306.9 494.7Z" fill="#c2668c"/>
<rect x="260.8" y="465.4" width="56.5" height="47.2" filter="url(#triPatch)" opacity="0.5"/>
<rect x="260.8" y="465.4" width="56.5" height="47.2" filter="url(#triWhite)" opacity="0.6"/>
<path d="M305.3 490.6L306.4 493.1L306.2 495.8L304.9 498.2L303.1 500.3L301.1 502.2L298.9 504L296.2 505.3L293.2 505.9L290.2 506L287.3 505.7L284.6 505.2L282 504.3L279.7 503.1L277.6 501.8L275.4 500.6L273 499.3L270.7 497.7L269.2 495.5L268.9 493L269.6 490.6L270.3 488.3L270.8 486.1L271.1 483.7L272 481.3L273.7 479.2L276 477.5L278.6 476.3L281.4 475.3L284.3 474.6L287.3 474.5L290.2 475L293 475.9L295.5 477L297.8 478.5L299.5 480.4L300.4 482.6L301.1 484.7L302 486.6L303.5 488.4Z" fill="#f3eff5"/>
<g clip-path="url(#g2)">
<rect x="266.4" y="472.6" width="41.8" height="36" fill="#dfd2e2"/>
<rect x="266.4" y="472.6" width="41.8" height="36" filter="url(#triBlue)" opacity="0.15"/>
<rect x="266.4" y="472.6" width="41.8" height="36" filter="url(#triNuc)"/>
<rect x="266.4" y="472.6" width="41.8" height="36" filter="url(#triRed)"/>
</g>
<rect x="311.5" y="509.2" width="4" height="2" fill="#000"/>
</g>
<clipPath id="c3"><rect x="75.15" y="464.4" width="56.95" height="47.45"/></clipPath>
<g clip-path="url(#c3)">
<clipPath id="g3"><path d="M118.8 487.8L117.4 490.6L116 493.2L114.7 495.7L113.1 498.1L111.2 500.2L108.9 502.1L106.3 503.8L103.5 505L100.3 505.5L97.2 505.1L94.2 504.2L91.5 503.3L88.6 502.6L85.6 501.9L82.8 500.5L80.7 498.4L79.5 495.8L78.4 493.2L77 490.6L75.5 487.8L74.7 484.6L75.2 481.5L77 478.7L79.5 476.5L82.4 474.8L85.6 473.7L88.7 473.1L91.7 472.9L94.4 472.6L97.2 472L100.1 471.3L103.2 471.3L106.1 472.3L108.7 473.8L111.2 475.4L114 477L116.8 478.9L118.9 481.5L119.5 484.7Z"/></clipPath>
<rect x="75.15" y="464.4" width="56.95" height="47.45" fill="#e8dcea"/>
<path d="M121.1 466.8L121.4 463.4L105.4 463.4L109 467.3L109.7 467.6L120.2 467.6L120.8 467.4Z" fill="#c2668c"/>
<ellipse cx="114.2" cy="465.4" rx="2.4" ry="1.4" fill="#b3a3cf" opacity="0.85"/>
<path d="M93.2 467.2L93 466.7L92.5 466.4L80.1 463.4L79.5 463.5L79.1 463.8L78 465.6L77.9 466.2L79.1 473.9L79.6 474.6L81.2 473.6L84.6 472.3L87.9 471.6L91.2 471.3L93.3 471Z" fill="#c2668c"/>
<path d="M131.7 490.4L132.1 490.9L133.1 491.3L133.1 482.7L130.6 487L130.6 487.8Z" fill="#c46c8f"/>
<path d="M104.9 510.1L105.1 510.9L106.8 512.8L122.3 512.8L124.1 509.1L124.1 508.3L122.7 505.7L122.3 505.4L116.4 502.3L115.7 502.3L107.1 505.3L106.4 505.6L105.9 506.2Z" fill="#b75f88"/>
<path d="M116.4 501L116.9 501.7L121.9 504.3L122.6 504.3L123.1 504L130.8 491.4L130.9 490.6L129.8 488.2L129.2 487.6L120.9 485.8L120.5 487.8L119.1 490.9L117.6 493.8L116.2 496.5L115.9 497Z" fill="#b75f88"/>
<path d="M93.8 465.5L95.9 463.4L83.4 463.4L93 465.7Z" fill="#c46c8f"/>
<ellipse cx="90.9" cy="464.2" rx="2.5" ry="1.8" fill="#b3a3cf" opacity="0.85"/>
<path d="M104.1 510.1L105.1 506.2L104 506.7L100.6 507.2L97.2 506.8L94 505.9L90.9 504.9L88.3 504.3L88 512.8L100.2 512.8L103.7 510.6Z" fill="#c46c8f"/>
<ellipse cx="95.3" cy="509.3" rx="1.6" ry="1.7" fill="#b3a3cf" opacity="0.85"/>
<path d="M122.4 467.9L129.7 470.4L130.5 470.2L133.1 468.2L133.1 463.4L122.2 463.4L121.8 467L122 467.6Z" fill="#c46c8f"/>
<path d="M120.6 469.5L120.4 468.7L119.7 468.4L110 468.4L109.5 468.6L109.1 469L108.2 471.5L109.7 472.4L112.4 474.2L115.4 476L118.4 478.1L118.7 478.5Z" fill="#b75f88"/>
<ellipse cx="115.2" cy="472" rx="2.2" ry="2.1" fill="#b3a3cf" opacity="0.85"/>
<path d="M125.1 509.3L124.7 509.7L123.2 512.8L133.1 512.8L133.1 510.6L125.7 509.2Z" fill="#bd5e88"/>
<path d="M104.3 511.5L103.7 511.6L101.7 512.8L105.8 512.8L104.8 511.8Z" fill="#c2668c"/>
<ellipse cx="103.9" cy="512.3" rx="2.3" ry="2" fill="#b3a3cf" opacity="0.85"/>
<path d="M115 501.7L115.4 501.3L115.6 500.7L115.2 498L114.5 499.1L112.4 501.4L109.9 503.5Z" fill="#c2668c"/>
<ellipse cx="113.7" cy="501" rx="1.8" ry="1.3" fill="#b3a3cf" opacity="0.85"/>
<path d="M74.2 500.5L78 496.7L78 496.6L76.7 493.7L75.3 490.9L74.2 488.6Z" fill="#b46690"/>
<ellipse cx="75.5" cy="495.2" rx="2.5" ry="1.8" fill="#b3a3cf" opacity="0.85"/>
<path d="M78.4 463.4L74.2 463.4L74.2 465.9L76.8 465.5L77.4 465.1Z" fill="#c46c8f"/>
<path d="M129.1 486.8L129.6 486.7L130.1 486.4L133.1 481.1L133.1 477.7L130.1 471.6L129.6 471.2L122.6 468.8L121.8 468.9L121.4 469.5L119.3 479.4L120.5 481L121.2 484.4L121.1 485Z" fill="#b46690"/>
<ellipse cx="126.1" cy="478.1" rx="2.6" ry="1.7" fill="#b3a3cf" opacity="0.85"/>
<path d="M124.8 507.9L125.5 508.4L133.1 509.8L133.1 492.2L132.4 491.9L131.8 491.8L131.3 492.2L123.6 504.7L123.6 505.7Z" fill="#b75f88"/>
<ellipse cx="129.5" cy="502.3" rx="2.8" ry="2" fill="#b3a3cf" opacity="0.85"/>
<path d="M74.2 501.6L74.2 507.5L75.1 511.4L75.9 512.1L80.5 512.8L87.2 512.8L87.5 504.1L84.6 503.3L81.6 501.7L79.4 499.4L78.4 497.4Z" fill="#b75f88"/>
<path d="M77.2 467.1L76.9 466.5L76.2 466.4L74.2 466.7L74.2 479.8L74.8 479L75.5 477.9L76.3 477.2L78.1 474.9L78.3 474.2Z" fill="#c2668c"/>
<path d="M108.4 468.6L108.2 467.7L104.4 463.4L97.1 463.4L94.2 466.1L94 466.8L94.1 470.9L94.2 470.9L97.2 470.3L100.4 469.7L103.7 469.7L106.9 470.7L107.5 471.1Z" fill="#bd5e88"/>
<ellipse cx="100.8" cy="467.1" rx="2.5" ry="1.6" fill="#b3a3cf" opacity="0.85"/>
<path d="M131 471.2L131.1 471.8L133.1 475.9L133.1 469.2L131.3 470.7Z" fill="#bd5e88"/>
<ellipse cx="132.3" cy="472.1" rx="2.1" ry="1.8" fill="#b3a3cf" opacity="0.85"/>
<rect x="75.15" y="464.4" width="56.95" height="47.45" filter="url(#triPatch)" opacity="0.5"/>
<rect x="75.15" y="464.4" width="56.95" height="47.45" filter="url(#triWhite)" opacity="0.6"/>
<path d="M119.9 487.8L118.5 490.8L117.1 493.6L115.7 496.2L114 498.7L112 501L109.5 503L106.8 504.8L103.8 506.1L100.5 506.6L97.2 506.2L94 505.3L91.1 504.3L88.1 503.6L84.9 502.8L82 501.3L79.9 499L78.5 496.3L77.3 493.5L75.9 490.8L74.4 487.8L73.6 484.5L74.2 481.1L76 478.2L78.6 475.8L81.7 474L84.9 472.8L88.2 472.1L91.3 471.8L94.3 471.5L97.2 470.9L100.3 470.3L103.5 470.3L106.6 471.3L109.3 472.9L112 474.6L114.9 476.3L117.8 478.4L120 481.2L120.6 484.5Z" fill="#f3eff5"/>
<g clip-path="url(#g3)">
<rect x="73.15" y="466.1" width="48" height="43.4" fill="#dfd2e2"/>
<rect x="73.15" y="466.1" width="48" height="43.4" filter="url(#triBlue)" opacity="0.3"/>
<rect x="73.15" y="466.1" width="48" height="43.4" filter="url(#triNuc)"/>
<rect x="73.15" y="466.1" width="48" height="43.4" filter="url(#triRed)"/>
</g>
<rect x="126.3" y="508.45" width="4" height="2" fill="#000"/>
</g>
<clipPath id="c4"><rect x="318.1" y="465.4" width="56.5" height="47.2"/></clipPath>
<g clip-path="url(#c4)">
<clipPath id="g4"><path d="M367.3 490.1L366.8 493.3L365.1 496.2L363 498.7L361 501L359 503.3L356.5 505.1L353.5 505.9L350.3 505.9L347.4 505.5L344.7 505.5L342 505.9L339 506.3L335.8 506.2L332.7 505.3L329.8 503.8L327.4 501.7L325.6 499.1L324.7 496.1L324.7 493L324.9 490.1L324.9 487.2L325.1 484.3L326.1 481.4L328.1 479L330.8 477.4L333.6 476.1L336.2 474.7L338.7 473.1L341.6 472L344.7 471.7L347.7 472.5L350.4 473.9L352.9 475.3L355.3 476.7L357.7 478.2L359.9 479.9L362.2 481.9L364.5 484.2L366.4 486.9Z"/></clipPath>
<rect x="318.1" y="465.4" width="56.5" height="47.2" fill="#e8dcea"/>
<path d="M317.1 473.2L317.1 489.8L322.4 490.3L323.2 490L323.2 490L323.2 487.6L318.3 474L317.8 473.5Z" fill="#c2668c"/>
<ellipse cx="319.4" cy="483.7" rx="2.3" ry="1.7" fill="#b3a3cf" opacity="0.85"/>
<path d="M368.7 501.9L368.5 502.6L371.3 513.6L375.6 513.6L375.6 501.2L369.4 501.5Z" fill="#b75f88"/>
<ellipse cx="372.7" cy="507" rx="1.7" ry="2.1" fill="#b3a3cf" opacity="0.85"/>
<path d="M359.3 477.3L373.2 476.6L373.9 476.2L375.3 474.2L375.5 473.6L375.2 473L366.4 464.4L366.3 464.4L365.1 464.4L357.5 469.2L357.1 469.6L357.1 470.1L358.4 476.6L358.5 476.7L358.9 477L359.2 477.3Z" fill="#c2668c"/>
<path d="M356.2 469.9L355.8 469.4L352.9 467.4L352 467.3L344.9 470.1L348 470.8L351 472.3L353.7 473.8L356.3 475.3L357.5 476.1Z" fill="#b75f88"/>
<path d="M332.7 468.2L333.2 467.9L333.3 467.3L333.2 464.4L317.1 464.4L317.1 472.3L318.2 472.8L318.9 472.8Z" fill="#b46690"/>
<path d="M332.7 508.5L332.3 508.1L323.5 504.9L322.7 505L321.8 505.5L321.5 506L318.5 513.6L332.6 513.6L332.9 509Z" fill="#c46c8f"/>
<ellipse cx="325.9" cy="510" rx="1.5" ry="2.2" fill="#b3a3cf" opacity="0.85"/>
<path d="M323.4 503.4L323.6 503.9L324 504.2L333 507.5L333.7 507.5L334.1 507.4L331.7 506.6L328.6 505L326 502.7L324.1 499.8L323.4 497.6Z" fill="#bd5e88"/>
<path d="M355.7 509.3L357.7 513.6L370.5 513.6L367.5 501.7L367.1 501.2L366.5 500.8L365.9 500.6L365.4 500.8L356 508.2L355.6 508.7Z" fill="#bd5e88"/>
<path d="M375.6 464.4L367.5 464.4L375.6 472.3Z" fill="#c2668c"/>
<ellipse cx="372.9" cy="467" rx="2.4" ry="1.8" fill="#b3a3cf" opacity="0.85"/>
<path d="M356.6 506.7L354.2 507.4L350.8 507.5L348.3 507.2L354.4 508.1L355.1 507.9ZM365 500.1L365.3 499.6L365.3 499.1L365.2 498.7L364.5 499.5L362.4 502L362.1 502.3Z" fill="#bd5e88"/>
<ellipse cx="358.3" cy="504.4" rx="1.6" ry="1.7" fill="#b3a3cf" opacity="0.85"/>
<path d="M351.9 465.7L351.6 464.4L334 464.4L334.1 467.8L334.4 468.4L337.2 471.6L337.6 471.8L338.2 471.5L341.3 470.3L342.4 470.2L351.4 466.7L351.8 466.3Z" fill="#c2668c"/>
<path d="M367.6 500.6L368.2 500.8L375.6 500.4L375.6 486.8L374.8 486.4L374.2 486.3L373.7 486.5L368.9 491.1L368.5 493.6L366.7 496.7L365.8 497.9L366.2 499.3L366.5 499.8Z" fill="#c2668c"/>
<path d="M322.6 492L322.4 491.4L321.8 491.1L317.1 490.6L317.1 504.2L320.8 504.9L321.5 504.8L322.2 504.3L322.6 503.6Z" fill="#c2668c"/>
<ellipse cx="319.8" cy="497.7" rx="2" ry="1.7" fill="#b3a3cf" opacity="0.85"/>
<path d="M334 469.2L333.1 469L319.9 473.3L319.4 473.8L319.4 474.5L323.4 485.6L323.5 483.7L324.5 480.6L326.7 478L329.6 476.2L332.6 474.7L335.4 473.2L336.8 472.3Z" fill="#b75f88"/>
<ellipse cx="326.9" cy="474.9" rx="2.2" ry="2" fill="#b3a3cf" opacity="0.85"/>
<path d="M334.3 508.2L333.7 508.9L333.4 513.6L345.3 513.6L345.1 507.9L344.8 507.2L344.8 507.2L344.7 507.2L341.7 507.6L338.4 507.9L335.5 507.7Z" fill="#b75f88"/>
<ellipse cx="339.5" cy="510.7" rx="2.1" ry="1.8" fill="#b3a3cf" opacity="0.85"/>
<path d="M373.4 485.7L373.7 485L373.5 478.3L373.2 477.6L372.6 477.4L360.2 478L361.3 478.9L363.7 481.1L366.1 483.7L368.1 486.7L369 489.9Z" fill="#bd5e88"/>
<path d="M375.6 485.9L375.6 475.2L374.5 476.8L374.3 477.3L374.5 484.8L375 485.6Z" fill="#b46690"/>
<path d="M363.6 464.4L352.5 464.4L352.8 466.1L353.2 466.7L356 468.5L357 468.5Z" fill="#bd5e88"/>
<ellipse cx="357.1" cy="465.9" rx="1.9" ry="2.1" fill="#b3a3cf" opacity="0.85"/>
<path d="M319.6 505.5L317.1 505L317.1 513.6L317.7 513.6L320.3 506.7L320.2 506Z" fill="#c46c8f"/>
<path d="M347 507.9L346.2 508.1L345.9 508.8L346.1 513.6L356.8 513.6L354.8 509.4L354.1 508.8Z" fill="#b46690"/>
<rect x="318.1" y="465.4" width="56.5" height="47.2" filter="url(#triPatch)" opacity="0.5"/>
<rect x="318.1" y="465.4" width="56.5" height="47.2" filter="url(#triWhite)" opacity="0.6"/>
<path d="M368.4 490.1L367.9 493.5L366.2 496.5L364 499.2L361.9 501.7L359.8 504L357.2 505.9L354 506.9L350.6 506.9L347.5 506.6L344.7 506.6L341.8 507L338.6 507.4L335.3 507.1L332.1 506.2L329.1 504.5L326.5 502.3L324.6 499.6L323.7 496.4L323.6 493.2L323.8 490.1L323.8 487.1L324.1 483.9L325.1 480.9L327.2 478.4L330.1 476.6L333 475.2L335.7 473.7L338.4 472.1L341.4 470.9L344.7 470.6L347.9 471.4L350.8 472.8L353.4 474.3L356 475.8L358.4 477.4L360.8 479.3L363.2 481.4L365.5 483.9L367.5 486.8Z" fill="#f3eff5"/>
<g clip-path="url(#g4)">
<rect x="321.1" y="468.1" width="47.2" height="44" fill="#dfd2e2"/>
<rect x="321.1" y="468.1" width="47.2" height="44" filter="url(#triBlue)" opacity="0.35"/>
<rect x="321.1" y="468.1" width="47.2" height="44" filter="url(#triNuc)"/>
<rect x="321.1" y="468.1" width="47.2" height="44" filter="url(#triRed)"/>
</g>
<rect x="368.8" y="509.2" width="4" height="2" fill="#000"/>
</g>
<clipPath id="c5"><rect x="132.9" y="464.4" width="56.95" height="47.45"/></clipPath>
<g clip-path="url(#c5)">
<clipPath id="g5"><path d="M172.7 490.1L173 492.5L173.1 495L172.6 497.5L171.5 499.8L170 501.9L168.3 503.9L166.3 505.6L163.9 506.9L161.3 507.5L158.6 507.9L155.9 507.9L153.1 507.4L150.7 506.1L148.7 504.1L147.2 501.8L145.8 499.7L144 497.7L142.3 495.6L141.2 492.9L141.4 490.1L142.5 487.5L144 485.2L145.3 483.1L146.6 481.1L147.9 479.1L149.6 477.3L151.5 475.7L153.6 474.2L156 472.9L158.6 472.1L161.4 472.1L164.1 472.8L166.7 473.7L169.4 474.8L171.8 476.5L173.4 479L173.8 482.1L173.3 485.2L172.8 487.8Z"/></clipPath>
<rect x="132.9" y="464.4" width="56.95" height="47.45" fill="#e8dcea"/>
<path d="M173.2 507.5L170.9 511.3L170.8 512L171 512.8L187.2 512.8L186.7 509.9L186.4 509.4L186 509.1L174.1 507L173.6 507.1Z" fill="#b46690"/>
<ellipse cx="178.7" cy="510.5" rx="2.8" ry="2.1" fill="#b3a3cf" opacity="0.85"/>
<path d="M135 493.3L135.4 492.9L136.7 490L136.7 489.4L134.9 479.8L134.6 479.3L133.2 478.2L132.6 478L131.9 478L131.9 493.1L134.4 493.4Z" fill="#bd5e88"/>
<path d="M189.3 504.5L189.7 505.1L190.3 505.2L190.9 505.1L190.9 491.3L187.4 494.3L187.1 495.2Z" fill="#c2668c"/>
<ellipse cx="189.5" cy="498" rx="2.3" ry="1.6" fill="#b3a3cf" opacity="0.85"/>
<path d="M190.9 463.4L183.6 463.4L183.6 463.4L183.5 464L183.7 464.5L190.8 471.9L190.9 471.9Z" fill="#b75f88"/>
<path d="M159.8 463.6L150.7 468.4L150.3 469.1L149.8 473L150 473.7L150.5 474.4L150.7 474.2L153.1 472.6L155.7 471.2L158.6 470.4L161.6 470.5L164.6 471.1L166 471.6L166.1 471.4L165.9 470.9L161 463.9L160.5 463.6Z" fill="#c2668c"/>
<ellipse cx="157.2" cy="468.7" rx="1.9" ry="1.2" fill="#b3a3cf" opacity="0.85"/>
<path d="M132.7 476.3L132.6 467.3L132.1 466.5L131.9 466.3L131.9 477.2L132.4 477Z" fill="#bd5e88"/>
<ellipse cx="132.3" cy="471.9" rx="2.4" ry="1.8" fill="#b3a3cf" opacity="0.85"/>
<path d="M137.3 512.8L155.2 512.8L153.3 509.2L152.6 509.1L149.9 507.7L148.5 506.2Z" fill="#bd5e88"/>
<ellipse cx="147.4" cy="510.6" rx="2.5" ry="1.7" fill="#b3a3cf" opacity="0.85"/>
<path d="M167.4 471.1L173 471.3L173.8 470.9L177.5 465.1L177.6 464.5L177.4 464L176.9 463.4L161.6 463.4L166.7 470.7Z" fill="#c46c8f"/>
<ellipse cx="170.1" cy="466.7" rx="2.1" ry="1.5" fill="#b3a3cf" opacity="0.85"/>
<path d="M131.9 512.8L134.2 512.8L131.9 508.4Z" fill="#bd5e88"/>
<path d="M149.5 468.9L149.2 468.2L144.7 463.4L138 463.4L133.8 466.4L133.4 467.1L133.5 477L133.8 477.6L134.8 478.5L135.7 478.7L148.5 473.4L149.1 472.7Z" fill="#c2668c"/>
<ellipse cx="140.6" cy="470.4" rx="2.3" ry="2" fill="#b3a3cf" opacity="0.85"/>
<path d="M189.2 506.5L187.6 508.7L187.4 509.4L188 512.8L190.9 512.8L190.9 505.9L189.8 506.2Z" fill="#c46c8f"/>
<path d="M138 490L137.3 490.6L136.3 492.8L136.2 493.4L136.6 493.9L142.7 498.7L142.5 498.5L140.7 496.1L139.5 493.2L139.7 490.1L139.8 489.8Z" fill="#c2668c"/>
<ellipse cx="138.7" cy="493.3" rx="1.6" ry="1.5" fill="#b3a3cf" opacity="0.85"/>
<path d="M134 494.5L133.4 494.1L131.9 493.9L131.9 501.5L134.1 495.3Z" fill="#bd5e88"/>
<ellipse cx="132.7" cy="496.6" rx="2.6" ry="1.3" fill="#b3a3cf" opacity="0.85"/>
<path d="M186.5 479.3L179 480.6L178.3 481.1L174.7 487.9L174.6 488.5L175.3 491L176 491.6L186 494L186.7 493.8L190.9 490.3L190.9 485.6L187.5 479.7L187.1 479.3Z" fill="#b46690"/>
<path d="M135 495.2L131.9 503.9L131.9 506.7L134.8 512.3L135.3 512.8L136.1 512.7L147.9 505.6L147.7 505.5L146 503L145.1 501.6L136.4 494.7L135.6 494.6Z" fill="#b75f88"/>
<path d="M155.9 512.4L156.2 512.8L156.4 512.8L157.4 512.8L169.5 511.3L170.2 510.9L172.6 506.8L172.7 506.1L171.7 502.4L171.2 503.1L169.3 505.3L167.1 507.2L164.4 508.5L161.5 509.2L158.6 509.6L155.6 509.6L154.3 509.4Z" fill="#c2668c"/>
<path d="M186.2 508.4L187.1 508L188.5 506.1L188.7 505.4L186.3 495.4L185.6 494.7L176.1 492.5L175.5 492.5L175.1 493L174.7 493.9L174.7 495.5L174.1 498.2L172.9 500.8L172.3 501.6L173.4 505.6L174.1 506.2Z" fill="#c46c8f"/>
<path d="M149.7 474.6L149.2 474.2L148.6 474.3L136.3 479.3L135.9 479.7L135.8 480.3L137.4 488.5L137.7 489L138.4 489.2L140.1 488.9L140.8 487.2L142.4 484.7L143.8 482.4L145.2 480.1L146.7 477.9L148.6 476L149.9 474.9Z" fill="#b46690"/>
<path d="M150.1 467.6L150.6 467.5L158.6 463.4L145.8 463.4L149.5 467.4Z" fill="#c46c8f"/>
<path d="M177.6 480.8L177.6 479.9L173.7 472.6L173 472.1L167.5 471.9L167.2 472L167.5 472.1L170.4 473.4L173 475.3L174.8 478L175.3 481.3L175 484.6L174.7 486.2Z" fill="#c2668c"/>
<ellipse cx="174.1" cy="477" rx="2.3" ry="2" fill="#b3a3cf" opacity="0.85"/>
<path d="M190.9 484L190.9 473.8L188.1 478.3L188.1 479.2Z" fill="#b75f88"/>
<path d="M174.5 471.3L174.4 472.2L178.2 479.3L178.6 479.7L179.1 479.8L186.7 478.4L187.3 478L190.2 473.4L190.3 472.8L190.1 472.3L182.8 464.8L182.1 464.5L179 464.8L178.3 465.2Z" fill="#bd5e88"/>
<ellipse cx="182" cy="472.5" rx="2.6" ry="1.8" fill="#b3a3cf" opacity="0.85"/>
<path d="M133.4 465.7L136.6 463.4L131.9 463.4L131.9 465.4L132.5 465.7Z" fill="#b46690"/>
<rect x="132.9" y="464.4" width="56.95" height="47.45" filter="url(#triPatch)" opacity="0.5"/>
<rect x="132.9" y="464.4" width="56.95" height="47.45" filter="url(#triWhite)" opacity="0.6"/>
<path d="M173.8 490.1L174.1 492.6L174.2 495.3L173.6 498L172.4 500.4L170.8 502.7L169 504.8L166.8 506.6L164.2 507.9L161.5 508.6L158.6 509L155.7 509L152.8 508.5L150.2 507.1L148.1 505L146.5 502.6L144.9 500.3L143.1 498.2L141.2 495.9L140.1 493.1L140.3 490.1L141.4 487.3L143 484.9L144.4 482.6L145.7 480.4L147.2 478.3L149 476.4L151 474.7L153.2 473.1L155.8 471.8L158.6 471L161.5 471.1L164.4 471.7L167.2 472.7L170 473.9L172.6 475.7L174.3 478.4L174.8 481.6L174.4 484.8L173.9 487.6Z" fill="#f3eff5"/>
<g clip-path="url(#g5)">
<rect x="138.3" y="469.3" width="40.6" height="41.6" fill="#dfd2e2"/>
<rect x="138.3" y="469.3" width="40.6" height="41.6" filter="url(#triBlue)" opacity="0.3"/>
<rect x="138.3" y="469.3" width="40.6" height="41.6" filter="url(#triNuc)"/>
<rect x="138.3" y="469.3" width="40.6" height="41.6" filter="url(#triRed)"/>
</g>
<rect x="184.05" y="508.45" width="4" height="2" fill="#000"/>
</g>
<clipPath id="c6"><rect x="375.4" y="465.4" width="56.5" height="47.2"/></clipPath>
<g clip-path="url(#c6)">
<clipPath id="g6"><path d="M416.6 490.6L416.1 492.9L415.6 495.2L415.4 497.6L415.2 500.5L414.4 503.5L412.5 505.9L409.6 507.2L406.5 507.5L403.4 507.4L400.6 507.3L397.8 507.1L395.1 506.4L392.7 505.2L390.4 503.7L388.4 502L386.7 500.1L385.4 497.9L384.7 495.5L384.3 493L383.8 490.6L383.5 488.1L383.6 485.4L384.8 483.1L386.8 481.2L389 479.7L390.9 478.1L392.7 476.1L394.8 474L397.5 472.5L400.6 472L403.7 472.5L406.5 473.6L409 475.1L411.2 476.9L412.8 479.1L414 481.5L415 483.7L415.8 486L416.5 488.2Z"/></clipPath>
<rect x="375.4" y="465.4" width="56.5" height="47.2" fill="#e8dcea"/>
<path d="M374.9 508L377.2 503L377.1 502.3L374.4 496.7L374.4 508.5L374.5 508.4Z" fill="#bd5e88"/>
<ellipse cx="375.4" cy="502.8" rx="2.1" ry="1.2" fill="#b3a3cf" opacity="0.85"/>
<path d="M395.5 510.8L396.1 511.5L400 512.9L400.8 512.8L406.3 509.1L403.7 509.1L400.6 509L397.6 508.7L395 508.1Z" fill="#bd5e88"/>
<ellipse cx="399.8" cy="510.4" rx="2.2" ry="1.4" fill="#b3a3cf" opacity="0.85"/>
<path d="M375.9 507.9L375.8 508.4L376.1 508.9L381.6 513.6L391.9 513.6L394.4 511.8L394.7 510.9L394.1 507.8L391.9 506.7L389.4 505.1L387.2 503.2L385.3 501.1L384.9 500.4L378.4 502.8L377.9 503.3Z" fill="#c2668c"/>
<path d="M426.6 490.6L427 490.3L431.6 483.7L431.6 482.7L430.6 481.1L430.2 480.7L415 475.5L414.4 475.5L414 475.9L413.3 477L414 477.9L415.4 480.5L416.5 483L417.5 485.4L418.2 488L418.3 490.6L417.9 492.7L418.4 492.9L419 493Z" fill="#b46690"/>
<ellipse cx="422.4" cy="484" rx="2.3" ry="1.2" fill="#b3a3cf" opacity="0.85"/>
<path d="M382.1 481.9L374.4 491.3L374.4 494.9L377.6 501.4L378.1 501.8L378.7 501.9L384.5 499.7L383.9 498.6L383 496L382.6 493.3L382.1 490.6L381.8 487.8L382 484.9L383.3 482.3L383.5 482L383.5 481.9L382.8 481.6Z" fill="#c46c8f"/>
<ellipse cx="379.3" cy="493.4" rx="2.5" ry="1.6" fill="#b3a3cf" opacity="0.85"/>
<path d="M421.2 509.6L428.8 509.5L429.4 509.2L432.9 505.8L432.9 501.8L427.3 492L426.8 491.6L426.2 491.6L419.8 493.5L419.4 493.9L419.2 494.5L420.3 508.7L420.6 509.3Z" fill="#c46c8f"/>
<ellipse cx="425.6" cy="501.3" rx="2.2" ry="1.8" fill="#b3a3cf" opacity="0.85"/>
<path d="M381.7 477.3L381.7 467.7L381.2 466.9L376.3 464.4L374.4 464.4L374.4 476.9L380.7 478.2L381.4 478Z" fill="#bd5e88"/>
<path d="M427.9 490.4L427.9 491.4L432.9 500.2L432.9 483.8L432.2 484.1Z" fill="#c46c8f"/>
<ellipse cx="431.1" cy="491.4" rx="1.6" ry="1.5" fill="#b3a3cf" opacity="0.85"/>
<path d="M418.9 511.3L418.6 511.8L418.2 513.6L430.5 513.6L429.3 510.8L429 510.4L428.5 510.3L420.4 510.4L419.9 510.5Z" fill="#b75f88"/>
<ellipse cx="424.3" cy="512" rx="2.8" ry="1.8" fill="#b3a3cf" opacity="0.85"/>
<path d="M413.1 471.7L413.8 471.8L414.4 471.4L417.8 465.6L417.9 464.9L417.8 464.4L401.6 464.4L401.7 464.5Z" fill="#c46c8f"/>
<path d="M383.8 478.8L390.5 476.2L392 474.6L394.3 472.4L396.5 471.2L397.7 466.9L397.6 466.2L397 465.8L392.6 464.4L385.4 464.4L382.8 466.8L382.5 467.5L382.6 478L382.9 478.7Z" fill="#b46690"/>
<ellipse cx="388.9" cy="470.5" rx="2.2" ry="1.4" fill="#b3a3cf" opacity="0.85"/>
<path d="M383.7 480.9L384.1 481.5L385.4 480.2L387.8 478.5L388.8 477.7L384.1 479.5L383.6 480.1Z" fill="#b46690"/>
<path d="M374.4 509.4L374.4 513.6L380.4 513.6L375.5 509.4L374.5 509.3Z" fill="#c2668c"/>
<path d="M382.1 479.5L381.5 479.2L374.4 477.7L374.4 490L382.1 480.6L382.3 480.1Z" fill="#c2668c"/>
<path d="M432.4 482.5L432.9 482.8L432.9 467.2L432.6 467.3L432.3 467.9L431.2 480.1L431.3 480.7Z" fill="#b75f88"/>
<path d="M430 510.6L431.3 513.6L432.9 513.6L432.9 507L430.2 509.6L430 510Z" fill="#c46c8f"/>
<path d="M382.5 466L384.3 464.4L378.1 464.4L381.5 466.2L382 466.2Z" fill="#b46690"/>
<ellipse cx="381.4" cy="465.1" rx="2.7" ry="1.9" fill="#b3a3cf" opacity="0.85"/>
<path d="M418.4 494.3L417.8 493.5L417.7 493.5L417.2 495.7L416.9 498.4L416.6 501.5L415.6 504.7L413.5 507.3L411.1 508.4L417.8 510.6L418.6 510.5L419.2 510.1L419.6 509.3Z" fill="#c2668c"/>
<ellipse cx="417" cy="504.6" rx="1.9" ry="2" fill="#b3a3cf" opacity="0.85"/>
<path d="M394.9 512.4L393.3 513.6L399.6 513.6L395.8 512.3Z" fill="#c2668c"/>
<ellipse cx="396.1" cy="513.1" rx="2" ry="1.4" fill="#b3a3cf" opacity="0.85"/>
<path d="M429.3 479.6L430.1 479.5L430.5 478.8L431.5 467.1L431.3 466.5L430.6 465.6L429.9 465.2L419.2 465.7L418.5 466.1L414.6 472.6L414.4 473.2L414.5 473.9L415.1 474.7Z" fill="#c2668c"/>
<ellipse cx="424.1" cy="471.7" rx="2.1" ry="1.4" fill="#b3a3cf" opacity="0.85"/>
<path d="M417.1 511.2L409.8 508.8L407.9 509L401.6 513.3L401.4 513.6L417.4 513.6L417.7 512.3L417.6 511.6Z" fill="#bd5e88"/>
<path d="M413.7 473.4L413.3 472.8L401.1 465.1L400.2 465.1L399 465.8L398.6 466.3L397.4 470.7L400.6 470.3L403.9 470.8L407 472L409.8 473.5L412.2 475.5L412.8 476.3L413.6 474.9L413.8 474.4Z" fill="#b75f88"/>
<rect x="375.4" y="465.4" width="56.5" height="47.2" filter="url(#triPatch)" opacity="0.5"/>
<rect x="375.4" y="465.4" width="56.5" height="47.2" filter="url(#triWhite)" opacity="0.6"/>
<path d="M417.7 490.6L417.2 493.1L416.6 495.5L416.3 498.1L416.1 501.2L415.2 504.3L413.1 506.8L410.1 508.2L406.8 508.6L403.6 508.5L400.6 508.4L397.6 508.2L394.8 507.4L392.2 506.2L389.8 504.6L387.7 502.8L385.8 500.7L384.4 498.4L383.6 495.8L383.2 493.2L382.7 490.6L382.4 487.9L382.6 485.1L383.8 482.6L385.9 480.6L388.2 479L390.3 477.3L392.2 475.1L394.5 472.9L397.4 471.4L400.6 470.9L403.8 471.4L406.8 472.5L409.5 474.1L411.8 476L413.6 478.4L414.9 480.8L415.9 483.2L416.9 485.6L417.6 488.1Z" fill="#f3eff5"/>
<g clip-path="url(#g6)">
<rect x="379.2" y="470.3" width="42.8" height="40.6" fill="#dfd2e2"/>
<rect x="379.2" y="470.3" width="42.8" height="40.6" filter="url(#triBlue)" opacity="0.15"/>
<rect x="379.2" y="470.3" width="42.8" height="40.6" filter="url(#triNuc)"/>
<rect x="379.2" y="470.3" width="42.8" height="40.6" filter="url(#triRed)"/>
</g>
<rect x="426.1" y="509.2" width="4" height="2" fill="#000"/>
</g>
<clipPath id="c7"><rect x="190.65" y="464.4" width="56.95" height="47.45"/></clipPath>
<g clip-path="url(#c7)">
<clipPath id="g7"><path d="M238.6 486.3L238.4 489.5L237.2 492.5L235.2 495.2L232.9 497.4L230.3 499.4L227.3 500.7L224.1 501.3L220.9 501.4L218 501.6L215.2 502.5L212.1 503.8L208.4 504.6L204.7 504.3L201.6 502.6L199.2 500.3L197 497.8L195 495.3L193.4 492.5L192.6 489.4L192.8 486.3L193.7 483.3L194.9 480.5L196.4 478L198.5 475.7L200.9 473.8L203.3 472L205.8 470.2L208.6 468.4L211.8 467.3L215.2 467.5L218.4 468.7L221.2 470.3L224 471.3L227.2 472L230.6 473L233.6 474.7L235.8 477.2L237.2 480.1L238.1 483.1Z"/></clipPath>
<rect x="190.65" y="464.4" width="56.95" height="47.45" fill="#e8dcea"/>
<path d="M190.1 480.7L189.7 480.3L189.7 480.3L189.7 494.3L192.5 494.3L191.7 493L190.9 489.7L191.1 486.3L191.7 484.1Z" fill="#c2668c"/>
<path d="M189.7 463.4L189.7 467.8L194.8 463.4Z" fill="#b46690"/>
<ellipse cx="191.4" cy="464.9" rx="2.6" ry="2" fill="#b3a3cf" opacity="0.85"/>
<path d="M205.6 510.4L205.7 511.1L206.6 512.8L220.5 512.8L223.5 507L223.6 506.3L223.1 505.8L218.2 503.3L215.2 504.2L211.8 505.4L207.9 506.3L206.8 506.1Z" fill="#b46690"/>
<ellipse cx="214.7" cy="508.7" rx="2.3" ry="2" fill="#b3a3cf" opacity="0.85"/>
<path d="M229.2 505.1L228.3 504.9L225.1 506.2L224.6 506.6L221.4 512.8L235.7 512.8L235.7 510.5L235.3 509.8Z" fill="#c2668c"/>
<ellipse cx="228.7" cy="509.8" rx="2.3" ry="1.5" fill="#b3a3cf" opacity="0.85"/>
<path d="M248.6 466.1L248.6 463.4L245.2 463.4L245.5 464.1L245.9 464.6Z" fill="#c2668c"/>
<path d="M245 482L248.6 479.5L248.6 467L246.1 465.6L245.5 465.5L244.9 465.8L237 476.1L237.3 476.4L238.1 478.1L244 482L244.5 482.2Z" fill="#c2668c"/>
<ellipse cx="244.1" cy="474.4" rx="2.5" ry="1.4" fill="#b3a3cf" opacity="0.85"/>
<path d="M228.8 463.4L215.3 463.4L215.2 465.8L215.2 465.8L218.7 467.1L221.8 468.6L224.5 469.7L224.9 469.7L225.7 469.2Z" fill="#bd5e88"/>
<path d="M244.7 492.8L237.8 494.4L236.7 495.9L234.3 498.4L231.5 500.6L230.1 501.3L229.5 503.6L229.8 504.5L235.9 509.2L236.6 509.3L247.6 507L248.1 506.6L248.2 506L245.8 493.5L245.4 492.9Z" fill="#bd5e88"/>
<ellipse cx="239.8" cy="501.7" rx="1.5" ry="1.5" fill="#b3a3cf" opacity="0.85"/>
<path d="M236.5 510.9L236.5 512.8L248.6 512.8L248.6 507.6L248.5 507.6L237.2 510L236.7 510.3Z" fill="#b46690"/>
<path d="M189.7 495.1L189.7 509.1L189.7 509.1L190.3 509L190.7 508.5L194.3 497.1L193.5 496.1L192.9 495.1Z" fill="#b75f88"/>
<ellipse cx="191.3" cy="500.6" rx="2" ry="1.5" fill="#b3a3cf" opacity="0.85"/>
<path d="M202 467.1L201.8 466.3L199 463.4L196 463.4L189.7 468.9L189.7 472.1L190.5 477.5L190.9 478.1L191.7 478.2L194.9 477.3L194.9 477.2L197.1 474.7L199.7 472.6L201.3 471.4Z" fill="#c46c8f"/>
<path d="M224.2 505.4L224.9 505.4L228.1 504.2L228.7 503.5L229.1 501.7L228.3 502.1L224.8 502.9L221.4 503L219.7 503.2Z" fill="#bd5e88"/>
<ellipse cx="225.1" cy="503.7" rx="2.6" ry="1.8" fill="#b3a3cf" opacity="0.85"/>
<path d="M210.4 466L211.5 465.7L214.1 465.8L214.1 465.7L214.4 465.1L214.5 463.4L200.1 463.4L202.4 465.9L203.1 466.1Z" fill="#bd5e88"/>
<ellipse cx="207.7" cy="464.6" rx="1.5" ry="1.6" fill="#b3a3cf" opacity="0.85"/>
<path d="M203.6 466.9L203.1 467.1L202.8 467.7L202.2 470.7L202.3 470.6L205 468.7L207.9 466.9Z" fill="#b75f88"/>
<ellipse cx="204.3" cy="468.2" rx="2.1" ry="2" fill="#b3a3cf" opacity="0.85"/>
<path d="M190.9 510.6L190.7 510.3L190.2 510L189.7 509.9L189.7 512.8L191.1 512.8L191.1 511.1Z" fill="#b46690"/>
<ellipse cx="190.3" cy="511.5" rx="2" ry="1.9" fill="#b3a3cf" opacity="0.85"/>
<path d="M247 491.9L248.6 491.6L248.6 480.4L245.4 482.7L245 483.6L246 491.1L246.3 491.7Z" fill="#c46c8f"/>
<path d="M244.5 492.1L245 491.7L245.2 491.1L244.2 483.5L243.8 482.9L238.8 479.6L238.8 479.6L239.8 482.9L240.3 486.3L240 489.7L238.8 493L238.5 493.5Z" fill="#c2668c"/>
<path d="M226.5 470.2L228.2 470.7L231.8 471.8L235 473.7L236.4 475.4L244.5 465L244.6 464.1L244.3 463.4L229.7 463.4L226.5 469.5L226.4 470.1Z" fill="#c2668c"/>
<ellipse cx="235.4" cy="467.9" rx="2.6" ry="1.4" fill="#b3a3cf" opacity="0.85"/>
<path d="M246.8 493L246.7 493.7L248.6 503.6L248.6 492.5L247.4 492.6Z" fill="#b46690"/>
<path d="M192.8 511.1L192.2 511.3L191.9 512L191.9 512.8L205.7 512.8L205.1 511.7L204.3 511.2Z" fill="#b75f88"/>
<path d="M192.2 510.3L204.1 510.4L204.6 510.2L204.9 509.7L206 506L204 505.8L200.6 504L198 501.5L195.6 498.8L194.9 497.9L191.3 509.1L191.5 509.9Z" fill="#b46690"/>
<ellipse cx="197.9" cy="506.2" rx="1.5" ry="1.7" fill="#b3a3cf" opacity="0.85"/>
<path d="M190.8 480.4L192 483L193.3 480L194.3 478.3L191.4 479.1L190.8 479.6Z" fill="#c46c8f"/>
<rect x="190.65" y="464.4" width="56.95" height="47.45" filter="url(#triPatch)" opacity="0.5"/>
<rect x="190.65" y="464.4" width="56.95" height="47.45" filter="url(#triWhite)" opacity="0.6"/>
<path d="M239.7 486.3L239.4 489.7L238.2 492.8L236.2 495.7L233.8 498.1L231.1 500.1L228 501.6L224.6 502.3L221.2 502.5L218.2 502.7L215.2 503.6L211.9 504.9L208.1 505.7L204.2 505.2L201 503.5L198.4 501.1L196.1 498.5L194 495.8L192.3 492.8L191.5 489.6L191.7 486.3L192.6 483.2L193.8 480.2L195.5 477.5L197.6 475.1L200.1 473L202.7 471.1L205.3 469.2L208.2 467.4L211.6 466.2L215.2 466.4L218.6 467.7L221.6 469.2L224.5 470.4L227.8 471.1L231.3 472.2L234.5 474.1L236.7 476.7L238.2 479.8L239.2 483Z" fill="#f3eff5"/>
<g clip-path="url(#g7)">
<rect x="189.95" y="463.8" width="50.6" height="45" fill="#dfd2e2"/>
<rect x="189.95" y="463.8" width="50.6" height="45" filter="url(#triBlue)" opacity="0.35"/>
<rect x="189.95" y="463.8" width="50.6" height="45" filter="url(#triNuc)"/>
<rect x="189.95" y="463.8" width="50.6" height="45" filter="url(#triRed)"/>
</g>
<rect x="241.8" y="508.45" width="4" height="2" fill="#000"/>
</g>
<clipPath id="c8"><rect x="432.7" y="465.4" width="56.5" height="47.2"/></clipPath>
<g clip-path="url(#c8)">
<clipPath id="g8"><path d="M475.2 489L475.7 492.2L475.4 495.4L474.1 498.3L471.8 500.4L469.2 502L466.7 503.3L464.5 504.6L462.1 505.7L459.5 506.1L457 505.5L454.7 504.5L452.5 503.7L450.1 503.4L447.3 503.2L444.5 502.3L442 500.6L440.2 498.1L438.9 495.2L438.4 492.1L438.6 489L439.5 486L440.8 483.4L442 480.9L443.2 478.4L444.8 476L446.9 474.2L449.5 473.3L452.1 472.9L454.5 472.5L457 471.8L459.7 471.1L462.4 471.3L464.8 472.7L466.8 474.7L468.4 476.9L470 478.9L471.7 481L473.2 483.4L474.4 486.1Z"/></clipPath>
<rect x="432.7" y="465.4" width="56.5" height="47.2" fill="#e8dcea"/>
<path d="M442.1 471.3L441.5 470.7L431.7 467.2L431.7 479.8L434.4 480.7L434.9 480.8L435.4 480.5L442.1 472.5L442.2 471.6Z" fill="#bd5e88"/>
<ellipse cx="435.7" cy="473.8" rx="1.9" ry="2" fill="#b3a3cf" opacity="0.85"/>
<path d="M481.6 486.9L481.7 486.3L480.6 481.4L480.3 480.9L477.4 478.3L476.5 478.1L472.6 479.4L473.2 480.3L474.8 482.9L476 485.8L476.9 489L477.1 490.5L480.9 488.2L481.2 487.8Z" fill="#bd5e88"/>
<path d="M432.1 513.6L445.6 513.6L447.2 508.1L447 507.3L444.3 503.9L443.3 503.5L440.7 501.6L439.4 499.9L433.2 504.2L432.9 504.9Z" fill="#c2668c"/>
<ellipse cx="439.3" cy="508.1" rx="1.7" ry="1.9" fill="#b3a3cf" opacity="0.85"/>
<path d="M448.7 507.8L447.9 508.5L446.4 513.6L464 513.6L458.7 507.6L457 507.2L455.9 506.8Z" fill="#c2668c"/>
<ellipse cx="454.5" cy="510.7" rx="2.3" ry="1.6" fill="#b3a3cf" opacity="0.85"/>
<path d="M444 472L458.9 469.1L459.5 468.6L461.3 465.9L461.3 465.1L461.1 464.4L443.8 464.4L442.7 470.3L442.7 470.8L443 471.5L443.4 472Z" fill="#c46c8f"/>
<ellipse cx="451.1" cy="467.5" rx="1.7" ry="2.2" fill="#b3a3cf" opacity="0.85"/>
<path d="M438.9 499.2L438.7 498.9L437.3 495.8L436.7 492.4L436.8 491.1L435.7 489.8L434.8 489.6L431.7 490.3L431.7 503.6L432 503.7L432.8 503.6Z" fill="#bd5e88"/>
<path d="M447.6 506.7L448.5 507.1L454.5 506.2L454.4 506.2L452 505.3L449.3 504.9L446.3 504.6L445.7 504.4Z" fill="#c46c8f"/>
<path d="M487.6 501.3L490.2 500.2L490.2 488.3L483.1 487.2L482.5 487.3L482.1 487.7L482 488L482 488.6L486.4 500.8L486.9 501.3Z" fill="#bd5e88"/>
<path d="M441.7 469.6L442.1 469L442.9 464.4L431.7 464.4L431.7 466.4L440.9 469.7Z" fill="#bd5e88"/>
<ellipse cx="437.9" cy="466.4" rx="2.5" ry="1.4" fill="#b3a3cf" opacity="0.85"/>
<path d="M474.8 506.8L472.6 501.8L470.4 503.2L467.7 504.6L465.2 506.1L462.6 507.3L460 507.8L464.7 513.2L465.3 513.5L465.9 513.3L474.4 507.9L474.8 507.4Z" fill="#bd5e88"/>
<path d="M476 508.1L475.4 508.2L467 513.6L484 513.6L484.3 511.2L484.1 510.6L483.5 509.6L482.9 509.2Z" fill="#bd5e88"/>
<path d="M442.4 473.4L435.7 481.3L435.5 481.9L435.9 488.5L436.1 489L436.8 489.9L436.9 489L437.8 485.8L439.1 482.9L440.5 480.1L441.9 477.4L443.6 474.8L444.3 474.1L443.8 473.4L443.1 473Z" fill="#c46c8f"/>
<path d="M477.9 464.4L475.9 467.1L475.8 467.8L477.4 477L477.7 477.5L480.4 479.9L480.9 480.2L481.5 480.1L490.2 474.9L490.2 464.8L489.7 464.4Z" fill="#b46690"/>
<ellipse cx="483.1" cy="471.2" rx="2.3" ry="2.2" fill="#b3a3cf" opacity="0.85"/>
<path d="M484.2 508.4L484.3 509.3L484.8 510.1L485.3 510.5L490.2 511.4L490.2 501.1L487.1 502.4L486.7 502.8Z" fill="#c46c8f"/>
<ellipse cx="487.8" cy="506.8" rx="1.7" ry="1.2" fill="#b3a3cf" opacity="0.85"/>
<path d="M462.8 465.3L474.6 466.8L475.4 466.5L476.9 464.4L462 464.4L462 464.7Z" fill="#c2668c"/>
<path d="M481.6 489.9L481.1 489.4L480.3 489.5L477.2 491.4L477.4 492.4L477 495.9L475.6 499L473.3 501.3L475.6 506.8L476.3 507.3L482.6 508.3L483.2 508.2L483.6 507.8L485.9 502.5L486 501.8Z" fill="#bd5e88"/>
<ellipse cx="480" cy="500.1" rx="1.8" ry="1.5" fill="#b3a3cf" opacity="0.85"/>
<path d="M485.3 511.6L484.9 512.2L484.8 513.6L490.2 513.6L490.2 512.2L486 511.4Z" fill="#b46690"/>
<ellipse cx="487.4" cy="512.7" rx="2.8" ry="2.1" fill="#b3a3cf" opacity="0.85"/>
<path d="M475.9 477.5L476.4 477.1L476.5 476.5L475.1 468.3L474.8 467.8L474.3 467.6L462.7 466.1L461.8 466.5L460.2 469.1L460.1 469.5L462.9 469.7L465.6 471.1L467.8 473.3L469.6 475.7L471.4 477.9L472 478.8Z" fill="#b46690"/>
<ellipse cx="470" cy="471.4" rx="2.7" ry="1.4" fill="#b3a3cf" opacity="0.85"/>
<path d="M481.5 481.2L481.5 481.7L482.3 485.7L482.6 486.2L483.1 486.4L490.2 487.5L490.2 475.8L481.9 480.7Z" fill="#bd5e88"/>
<ellipse cx="486.6" cy="482.4" rx="2.4" ry="1.5" fill="#b3a3cf" opacity="0.85"/>
<path d="M434.8 488.5L435 487.9L434.7 482.3L434.1 481.5L431.7 480.6L431.7 489.5L434.3 488.8Z" fill="#b46690"/>
<rect x="432.7" y="465.4" width="56.5" height="47.2" filter="url(#triPatch)" opacity="0.5"/>
<rect x="432.7" y="465.4" width="56.5" height="47.2" filter="url(#triWhite)" opacity="0.6"/>
<path d="M476.3 489L476.8 492.3L476.4 495.7L475 498.8L472.7 501.1L470 502.8L467.4 504.2L465 505.6L462.4 506.8L459.7 507.2L457 506.6L454.5 505.6L452.2 504.8L449.6 504.4L446.7 504.1L443.7 503.1L441.1 501.2L439.2 498.6L437.9 495.6L437.3 492.3L437.5 489L438.4 485.9L439.7 483L441.1 480.4L442.3 477.7L444 475.2L446.2 473.3L449 472.3L451.8 471.9L454.4 471.4L457 470.7L459.8 470L462.7 470.3L465.3 471.7L467.4 473.8L469.2 476.1L470.9 478.3L472.7 480.5L474.2 483.1L475.4 485.9Z" fill="#f3eff5"/>
<g clip-path="url(#g8)">
<rect x="436.1" y="467" width="41.8" height="44" fill="#dfd2e2"/>
<rect x="436.1" y="467" width="41.8" height="44" filter="url(#triBlue)" opacity="0.45"/>
<rect x="436.1" y="467" width="41.8" height="44" filter="url(#triNuc)"/>
<rect x="436.1" y="467" width="41.8" height="44" filter="url(#triRed)"/>
</g>
<rect x="483.4" y="509.2" width="4" height="2" fill="#000"/>
</g>
<clipPath id="c9"><rect x="17.4" y="512.65" width="56.95" height="47.45"/></clipPath>
<g clip-path="url(#c9)">
<clipPath id="g9"><path d="M67.3 535.4L66.7 538.6L65 541.5L62.3 543.7L59.4 545.3L57.1 546.8L55.4 548.9L53.6 551.5L51.3 553.9L48.3 555.3L44.9 555.7L41.5 555.5L38.1 555.1L34.7 554.2L31.5 552.7L28.9 550.4L26.9 547.7L25.4 544.7L24.3 541.6L24.1 538.5L24.6 535.4L25.5 532.5L26.2 529.6L26.7 526.6L27.6 523.5L29.5 520.8L32.5 519.2L35.8 518.6L39 518.3L41.9 517.7L44.9 516.8L48.1 516.2L51.4 516.4L54.7 517.3L57.8 518.6L60.7 520.4L63.3 522.7L65.3 525.6L66.5 528.7L67.1 532Z"/></clipPath>
<rect x="17.4" y="512.65" width="56.95" height="47.45" fill="#e8dcea"/>
<path d="M20 534L19.6 533.5L16.4 531.9L16.4 543.5L20 534.7Z" fill="#c2668c"/>
<path d="M75.3 518.8L75.3 511.6L68.8 511.6L71.2 517.7L71.9 518.3Z" fill="#b75f88"/>
<ellipse cx="72.7" cy="514.8" rx="1.6" ry="1.3" fill="#b3a3cf" opacity="0.85"/>
<path d="M54.3 554.2L54.9 554.2L57.3 552.9L57.8 552.3L58.8 547.7L58.3 548L56.4 550.3L54.4 553L53.3 554.1Z" fill="#bd5e88"/>
<path d="M70 518.8L70.3 518.3L70.3 517.8L68 511.6L56.2 511.6L53.4 515.1L55.4 515.7L58.8 517.3L61.9 519.2L64.7 521.7L65.2 522.4Z" fill="#bd5e88"/>
<path d="M26.7 520.1L33.1 514.5L33.4 513.8L33.1 511.6L19 511.6L18.8 513.8L19.1 514.6L25.5 520.1L26.1 520.3Z" fill="#b46690"/>
<ellipse cx="26.1" cy="514.8" rx="2.7" ry="1.3" fill="#b3a3cf" opacity="0.85"/>
<path d="M39.4 560.9L39.5 561.1L53.6 561.1L54.2 555.9L54 555.2L53.4 554.9L52.6 554.7L51.8 555.5L48.5 557L44.9 557.4L42.9 557.3L39.7 559.8L39.4 560.3Z" fill="#b75f88"/>
<ellipse cx="47.9" cy="558.8" rx="2.6" ry="1.4" fill="#b3a3cf" opacity="0.85"/>
<path d="M29 553.2L32.5 558.5L33.1 558.9L38.2 559.6L38.9 559.5L41.7 557.2L41.2 557.2L37.6 556.7L33.9 555.7L30.5 554.1L28.8 552.6L28.8 552.6Z" fill="#bd5e88"/>
<path d="M25.7 521.7L25.4 521.1L18.7 515.3L17.8 515.1L16.4 515.8L16.4 531L20.4 533.1L21.2 533.1L23.9 531.8L24.6 529.1L25.2 525.8L25.9 523.5Z" fill="#b75f88"/>
<ellipse cx="20.5" cy="524.5" rx="2.1" ry="1.8" fill="#b3a3cf" opacity="0.85"/>
<path d="M46.7 511.6L33.9 511.6L34.2 513.6L34.7 514.3L39.9 516.4L41.7 516L44.9 515.1L47.9 514.6Z" fill="#c2668c"/>
<path d="M21.7 552L21.1 552.1L20.7 552.5L17.1 559.3L17.1 560.1L17.6 561.1L30.9 561.1L31.8 559.7L31.7 558.8L28.1 553.3L27.5 552.9Z" fill="#b75f88"/>
<path d="M18 513.6L18.2 511.6L16.4 511.6L16.4 514.9L17.5 514.4Z" fill="#c46c8f"/>
<ellipse cx="17.2" cy="513" rx="1.9" ry="1.7" fill="#b3a3cf" opacity="0.85"/>
<path d="M55.5 554.8L55 555.4L54.4 561.1L70.6 561.1L70.1 559.6L69.6 559.1L58.5 553.6L57.7 553.6Z" fill="#b46690"/>
<ellipse cx="61.1" cy="558.3" rx="2.4" ry="1.2" fill="#b3a3cf" opacity="0.85"/>
<path d="M21.5 533.9L21 534.3L16.9 544.4L17 545.3L20.8 550.8L21.4 551.1L27.4 552.1L28 551.9L27.7 551.6L25.5 548.7L23.8 545.5L22.7 542.2L22.4 538.7L22.9 535.4L23.6 532.8Z" fill="#bd5e88"/>
<ellipse cx="21.5" cy="544.3" rx="1.5" ry="1.6" fill="#b3a3cf" opacity="0.85"/>
<path d="M55.1 511.6L47.6 511.6L48.7 514.5L52 514.7L52.5 514.9Z" fill="#c46c8f"/>
<ellipse cx="51.1" cy="513" rx="1.8" ry="1.9" fill="#b3a3cf" opacity="0.85"/>
<path d="M20.1 552L20 551L16.4 545.8L16.4 559L16.4 559Z" fill="#b75f88"/>
<path d="M72.1 537.7L72.7 537.6L75.3 536L75.3 519.6L71.5 519L70.8 519.2L65.6 523L66.8 524.8L68.1 528.2L68.8 531.8L69 535.3L69.8 537L70.4 537.5Z" fill="#bd5e88"/>
<path d="M73.2 538.5L73.3 539.1L75.3 544.5L75.3 536.9L73.6 538Z" fill="#b46690"/>
<ellipse cx="74.6" cy="540" rx="1.8" ry="1.8" fill="#b3a3cf" opacity="0.85"/>
<path d="M71.5 561.1L75.3 561.1L75.3 553.3L71 558.6L70.9 559.5Z" fill="#c46c8f"/>
<ellipse cx="73.6" cy="558.3" rx="1.7" ry="1.7" fill="#b3a3cf" opacity="0.85"/>
<path d="M34.4 515.1L33.5 515.2L28.9 519.3L31.5 517.8L35.1 517.1L38.5 516.7L38.5 516.7ZM26.9 521L26.6 521.8L26.6 522L27.9 520.1Z" fill="#bd5e88"/>
<ellipse cx="33.8" cy="516.8" rx="2.4" ry="1.8" fill="#b3a3cf" opacity="0.85"/>
<path d="M58.7 552.1L58.7 552.6L59.1 553.1L69.5 558.1L70.1 558.2L70.6 557.9L75.3 552L75.3 546.7L72.4 539.1L71.7 538.5L70.1 538.3L69.5 538.4L68.3 539.1L66.7 542L63.9 544.5L60.8 546.3L59.7 547.1Z" fill="#b46690"/>
<path d="M31.9 561.1L38.7 561.1L38.6 561L37.9 560.4L33.3 559.7L32.4 560.2Z" fill="#c46c8f"/>
<rect x="17.4" y="512.65" width="56.95" height="47.45" filter="url(#triPatch)" opacity="0.5"/>
<rect x="17.4" y="512.65" width="56.95" height="47.45" filter="url(#triWhite)" opacity="0.6"/>
<path d="M68.4 535.4L67.8 538.8L66.1 541.9L63.3 544.2L60.3 546L57.9 547.6L56 549.8L54.1 552.5L51.6 554.9L48.4 556.4L44.9 556.8L41.3 556.6L37.8 556.1L34.2 555.2L30.9 553.6L28.2 551.2L26 548.3L24.4 545.2L23.3 542L23 538.6L23.5 535.4L24.4 532.3L25.2 529.3L25.7 526.1L26.7 522.8L28.7 520L31.8 518.3L35.3 517.6L38.7 517.3L41.8 516.6L44.9 515.7L48.3 515.1L51.8 515.3L55.2 516.3L58.4 517.8L61.5 519.6L64.2 522.1L66.3 525.1L67.5 528.4L68.2 531.9Z" fill="#f3eff5"/>
<g clip-path="url(#g9)">
<rect x="20.1" y="511.75" width="49.6" height="47.2" fill="#dfd2e2"/>
<rect x="20.1" y="511.75" width="49.6" height="47.2" filter="url(#triBlue)" opacity="0.6"/>
<rect x="20.1" y="511.75" width="49.6" height="47.2" filter="url(#triNuc)"/>
<rect x="20.1" y="511.75" width="49.6" height="47.2" filter="url(#triRed)"/>
</g>
<rect x="68.55" y="556.7" width="4" height="2" fill="#000"/>
</g>
<clipPath id="c10"><rect x="260.8" y="513.4" width="56.5" height="47.2"/></clipPath>
<g clip-path="url(#c10)">
<clipPath id="g10"><path d="M309.8 537.5L308.3 539.6L306.6 541.3L305.3 543L304.4 544.9L303.3 546.9L301.6 548.7L299.2 549.9L296.4 550.6L293.7 551.4L290.7 552.4L287.4 553.2L283.9 553.1L280.8 552L278.4 550.2L276.6 548L275.2 545.9L274.1 543.8L273.4 541.7L273 539.6L272.6 537.5L272.3 535.3L272.4 533.1L273.6 531L275.6 529.3L278 528L280.2 526.7L282.3 525.3L284.7 523.8L287.6 522.9L290.7 522.9L293.7 523.5L296.5 524.2L299.5 524.7L302.6 525.3L305.5 526.5L307.9 528.2L309.5 530.3L310.4 532.7L310.5 535.2Z"/></clipPath>
<rect x="260.8" y="513.4" width="56.5" height="47.2" fill="#e8dcea"/>
<path d="M303.9 558.8L304.3 559.5L307.7 561.6L317.7 561.6L318.3 560.9L318.3 555.2L316.7 552L316.1 551.5L310.7 550.2L309.9 550.4L304 555.7L303.7 556.4Z" fill="#b75f88"/>
<ellipse cx="311.6" cy="556.6" rx="2.1" ry="1.5" fill="#b3a3cf" opacity="0.85"/>
<path d="M291.7 516.9L298.1 522.7L300.2 523.2L303.6 524L304.2 524.2L308 523.9L308.7 523.4L310.5 519.2L310.5 518.3L306.8 512.4L292.8 512.4L291.4 515.9L291.4 516.5Z" fill="#c46c8f"/>
<path d="M291 517.4L290.1 517.3L284.9 519.2L284.5 519.5L284.3 520L284.2 522.2L287.3 521.2L290.7 521.2L294 521.8L296.5 522.4Z" fill="#bd5e88"/>
<path d="M270.7 557.3L264.8 561.6L276.9 561.6L271.9 557.4L271.3 557.1Z" fill="#b46690"/>
<ellipse cx="271" cy="560" rx="2.2" ry="2" fill="#b3a3cf" opacity="0.85"/>
<path d="M316.1 550.7L317 550.4L318.3 548.7L318.3 538.3L314.6 533.5L314.2 533.2L313.7 533.1L313.1 533.1L312.7 533.4L312.2 534.2L312.2 534.9L311.5 537.5L310 539.8L308.2 541.9L308.2 541.9L310.3 548.8L310.9 549.5Z" fill="#c46c8f"/>
<ellipse cx="314" cy="542.7" rx="2.6" ry="1.7" fill="#b3a3cf" opacity="0.85"/>
<path d="M312.1 532.8L312.2 531.9L311.1 529.8L312 532.2L312.1 532.9ZM308.8 525.2L308.5 524.8L307.9 524.7L305.8 524.9L306.7 525.3L309.3 527.2L311 529.5Z" fill="#c2668c"/>
<ellipse cx="308.7" cy="526.5" rx="2.4" ry="1.7" fill="#b3a3cf" opacity="0.85"/>
<path d="M303.8 554.9L309.2 549.9L309.5 549L307.6 542.7L306.8 543.8L305.8 545.9L304.5 548.1L302.6 550L299.9 551.4L298 552L302.7 555L303.2 555.1Z" fill="#c2668c"/>
<path d="M265 543.8L264.2 543.5L259.8 544.4L259.8 561.5L260 561.6L263.5 561.6L270.6 556.4L271 555.7L271.1 550L270.8 549.3Z" fill="#bd5e88"/>
<path d="M314.4 532.5L314.9 532.5L318.3 531.4L318.3 515.9L311.8 518.9L311.3 519.3L309.4 523.8L309.4 524.6L313 531.8L313.6 532.2Z" fill="#c2668c"/>
<path d="M269.8 532.7L269.2 532.8L268.9 533.3L265.5 542.3L265.7 543.3L271.3 548.6L272.2 548.8L274.5 548L273.8 546.9L272.6 544.6L271.8 542.2L271.3 539.9L270.9 537.5L270.6 535.1L270.8 532.8Z" fill="#bd5e88"/>
<path d="M291.9 512.4L275.7 512.4L275.4 513.9L275.4 514.5L275.9 514.9L283.6 518.5L284.3 518.5L290 516.4L290.6 515.9Z" fill="#bd5e88"/>
<path d="M297 552.3L293.9 553.1L290.7 554.1L290.1 554.2L289.1 554.6L288.6 555.2L287.7 558.4L287.8 559.2L289.7 561.6L301.1 561.6L302.9 559.6L303.1 558.9L302.9 556.5L302.5 555.8Z" fill="#b46690"/>
<ellipse cx="295.4" cy="557.6" rx="2.1" ry="1.5" fill="#b3a3cf" opacity="0.85"/>
<path d="M267.1 528.2L267.6 527.8L273 516.3L273 515.6L272.4 515.1L263 512.4L261.4 512.4L261.2 512.6L259.8 515.3L259.8 525.6L266.5 528.2Z" fill="#c46c8f"/>
<path d="M274.1 515.9L268.1 528.7L268.1 529.4L268.9 531.3L269.7 531.9L271.1 532L272 530.2L274.2 528.3L276.8 526.8L279.2 525.4L281.6 523.7L283.4 522.6L283.5 520L283 519.1L275.3 515.5L274.6 515.4Z" fill="#bd5e88"/>
<ellipse cx="275.4" cy="523.1" rx="2.4" ry="1.4" fill="#b3a3cf" opacity="0.85"/>
<path d="M267.3 529.7L266.8 529.2L259.8 526.5L259.8 543.6L264 542.8L264.7 542.2L268.3 532.6L268.3 531.9Z" fill="#bd5e88"/>
<ellipse cx="263.2" cy="534.9" rx="1.6" ry="1.7" fill="#b3a3cf" opacity="0.85"/>
<path d="M286.9 559.6L286.3 559.6L280.8 561.6L288.7 561.6L287.4 559.9Z" fill="#b75f88"/>
<path d="M316 533.4L316.1 534.2L318.3 537L318.3 532.2L316.6 532.8Z" fill="#bd5e88"/>
<path d="M303.7 560.2L303.1 560.5L302.2 561.6L306.2 561.6L304.3 560.4Z" fill="#c2668c"/>
<path d="M272.5 549.5L272.1 549.8L271.9 550.3L271.8 555.8L272.1 556.5L277.8 561.4L278.7 561.5L286.4 558.7L286.9 558.1L287.8 555L287.8 554.7L287.1 554.8L283.4 554.7L280 553.5L277.4 551.5L275.4 549.2L275 548.7Z" fill="#c46c8f"/>
<ellipse cx="278.5" cy="555.8" rx="1.9" ry="1.6" fill="#b3a3cf" opacity="0.85"/>
<path d="M274.5 513.9L274.8 512.4L265.9 512.4L273.4 514.5L274.1 514.4Z" fill="#b46690"/>
<path d="M311.4 517.9L312 517.9L317.8 515.3L318.3 514.5L318.3 514.4L318.3 512.4L307.7 512.4L310.9 517.5Z" fill="#b46690"/>
<ellipse cx="313.3" cy="514.5" rx="2.3" ry="1.5" fill="#b3a3cf" opacity="0.85"/>
<rect x="260.8" y="513.4" width="56.5" height="47.2" filter="url(#triPatch)" opacity="0.5"/>
<rect x="260.8" y="513.4" width="56.5" height="47.2" filter="url(#triWhite)" opacity="0.6"/>
<path d="M310.9 537.5L309.4 539.7L307.7 541.7L306.3 543.5L305.3 545.5L304.1 547.7L302.2 549.5L299.7 550.8L296.8 551.7L293.8 552.5L290.7 553.5L287.2 554.2L283.6 554.2L280.3 553L277.7 551.1L275.8 548.8L274.3 546.5L273.1 544.3L272.4 542L271.9 539.8L271.5 537.5L271.2 535.2L271.4 532.7L272.6 530.5L274.7 528.7L277.2 527.2L279.6 525.9L281.8 524.3L284.4 522.7L287.4 521.8L290.7 521.8L293.9 522.4L296.9 523.1L300 523.7L303.2 524.4L306.3 525.7L308.8 527.5L310.5 529.8L311.5 532.4L311.6 535Z" fill="#f3eff5"/>
<g clip-path="url(#g10)">
<rect x="267.7" y="519.4" width="46" height="36.2" fill="#dfd2e2"/>
<rect x="267.7" y="519.4" width="46" height="36.2" filter="url(#triBlue)" opacity="0.3"/>
<rect x="267.7" y="519.4" width="46" height="36.2" filter="url(#triNuc)"/>
<rect x="267.7" y="519.4" width="46" height="36.2" filter="url(#triRed)"/>
</g>
<rect x="311.5" y="557.2" width="4" height="2" fill="#000"/>
</g>
<clipPath id="c11"><rect x="75.15" y="512.65" width="56.95" height="47.45"/></clipPath>
<g clip-path="url(#c11)">
<clipPath id="g11"><path d="M124.9 536.4L123.9 539.2L122.9 541.9L121.8 544.4L120.2 546.7L118 548.6L115.6 550L113.3 551.5L111 553.4L108.3 555.4L105.2 556.6L101.8 556.5L98.7 555L96.1 553.1L93.6 551.3L91.1 549.7L88.6 547.7L86.7 545.3L85.3 542.5L84.5 539.5L84.2 536.4L84.7 533.4L86 530.6L87.9 528.2L89.9 526.1L91.9 524L93.9 522L96.5 520.5L99.4 519.9L102.4 520L105.2 520L108 519.5L111.3 518.6L115 518.3L118.4 519.3L121.2 521.4L123.2 524.1L124.6 527.2L125.4 530.3L125.4 533.4Z"/></clipPath>
<rect x="75.15" y="512.65" width="56.95" height="47.45" fill="#e8dcea"/>
<path d="M74.2 532.5L74.2 539.6L77 543.9L77.5 544.3L78 544.3L83.5 542.5L82.8 539.8L82.5 536.4L83 533.1L84.4 530.1L85.3 528.9L85.1 528.3L84.5 527.7L84.4 527.7L83.8 527.7Z" fill="#c46c8f"/>
<ellipse cx="79.2" cy="536.3" rx="2.8" ry="1.2" fill="#b3a3cf" opacity="0.85"/>
<path d="M118.9 550L116.6 551.4L114.1 553L111.5 555L108.6 557.1L106.9 557.7L107.6 561.1L114.8 561.1L121 555.8L121.3 555.3L121.2 554.8L119.8 550.6L119.2 550.1Z" fill="#bd5e88"/>
<ellipse cx="114.6" cy="556.5" rx="2.1" ry="2" fill="#b3a3cf" opacity="0.85"/>
<path d="M82.9 526.2L77.1 517L76.6 516.6L75.9 516.6L74.2 517.6L74.2 531.7L82.6 527.4L83 526.9Z" fill="#b75f88"/>
<ellipse cx="77.4" cy="524.3" rx="2.8" ry="1.3" fill="#b3a3cf" opacity="0.85"/>
<path d="M83 559.9L82.8 559.4L76.6 549.4L76.1 549L75.5 549L74.2 549.6L74.2 561.1L82.3 561.1L82.8 560.4Z" fill="#b46690"/>
<path d="M124 514.7L125.9 511.6L112.5 511.6L112.5 511.8L112.7 512.3L113.2 512.6L123 515.1L123.6 515.1Z" fill="#c46c8f"/>
<ellipse cx="120" cy="512.9" rx="1.6" ry="1.4" fill="#b3a3cf" opacity="0.85"/>
<path d="M130.7 561.1L133.1 561.1L133.1 558.5L131.2 559.7L130.8 560.4Z" fill="#c2668c"/>
<path d="M77.9 513.1L80.4 511.6L75.8 511.6L76.7 512.9L77.3 513.3Z" fill="#b75f88"/>
<ellipse cx="77.8" cy="512.2" rx="2" ry="1.5" fill="#b3a3cf" opacity="0.85"/>
<path d="M106.3 516.1L107.2 516L111.3 512.9L111.7 512.1L111.7 511.6L95.6 511.6L95.7 511.8L96.2 512.4Z" fill="#c46c8f"/>
<path d="M90.2 557.4L90.1 558L90.4 558.5L93.2 561.1L106.8 561.1L106.1 558L105.2 558.3L101.5 558.1L98.2 556.7L95.3 554.6L92.9 552.9Z" fill="#c2668c"/>
<path d="M106.6 517.6L106 516.9L96.6 513.4L95.9 513.4L95.4 513.9L93 520.6L95.7 519L98.9 518.3L102.1 518.3L105.2 518.3L106.6 518.1Z" fill="#c2668c"/>
<ellipse cx="99" cy="516.7" rx="2.5" ry="1.9" fill="#b3a3cf" opacity="0.85"/>
<path d="M122.1 554.9L122.6 555.4L129.9 559.1L130.8 559L133.1 557.6L133.1 545.4L131 539.6L130.6 539.1L130 539.1L128.1 539.6L127.6 539.9L120.7 549.6L120.5 550.4Z" fill="#c46c8f"/>
<ellipse cx="127.9" cy="549.7" rx="1.8" ry="1.5" fill="#b3a3cf" opacity="0.85"/>
<path d="M127.3 538.7L127.9 538.8L129.9 538.2L130.4 537.9L130.5 537.4L130.4 526.4L130.1 525.7L125 521.2L124.5 521L123.9 521.2L123.5 521.6L124.6 523.1L126.1 526.4L127 529.8L127.1 533.2L126.6 536.4L126 538.1Z" fill="#b75f88"/>
<ellipse cx="128.1" cy="530.3" rx="2.2" ry="1.4" fill="#b3a3cf" opacity="0.85"/>
<path d="M132.3 537.9L133.1 537.8L133.1 525.4L131.8 525.9L131.4 526.2L131.2 526.7L131.3 537L131.6 537.7Z" fill="#b75f88"/>
<path d="M94.7 511.6L81.9 511.6L77.8 514.1L77.4 514.7L77.3 515.3L77.4 516L84.1 526.5L84.7 526.9L84.9 526.9L85.6 526.9L88.2 525.5L88.5 525.1L90.7 522.8L91.7 521.8L95 512.9L94.9 512.2Z" fill="#b46690"/>
<ellipse cx="86.2" cy="517.8" rx="2" ry="1.5" fill="#b3a3cf" opacity="0.85"/>
<path d="M129.4 559.7L122.5 556.3L121.5 556.4L116 561.1L129.9 561.1L129.9 560.6L129.8 560.1Z" fill="#b75f88"/>
<ellipse cx="123.2" cy="559.4" rx="2.8" ry="1.8" fill="#b3a3cf" opacity="0.85"/>
<path d="M84.5 559.2L88.7 557.9L89.2 557.5L92.2 552.4L89.9 550.9L87.3 548.7L85.1 546.1L83.8 543.3L78 545.1L77.4 545.7L76.9 547.7L77 548.4L83.4 558.8L83.9 559.2Z" fill="#b46690"/>
<path d="M130.5 525L131.4 525.2L133.1 524.5L133.1 511.6L126.9 511.6L124.4 515.5L124.3 516.1L124.8 519.7L125.1 520.2Z" fill="#c2668c"/>
<ellipse cx="129.4" cy="517.7" rx="2.3" ry="1.3" fill="#b3a3cf" opacity="0.85"/>
<path d="M76.1 547.5L76.7 545.4L76.6 544.7L74.2 541L74.2 548.7L75.6 548.1Z" fill="#b75f88"/>
<ellipse cx="75.1" cy="545.3" rx="1.9" ry="1.9" fill="#b3a3cf" opacity="0.85"/>
<path d="M88.7 558.7L84.2 560.2L83.7 560.5L83.3 561.1L92 561.1L89.6 558.9Z" fill="#b75f88"/>
<ellipse cx="87.8" cy="560.2" rx="2.6" ry="1.8" fill="#b3a3cf" opacity="0.85"/>
<path d="M76.6 514.6L76.5 513.9L74.8 511.6L74.2 511.6L74.2 516.7L76.1 515.7L76.5 515.1Z" fill="#c2668c"/>
<path d="M123.7 520.4L124 519.6L123.6 516.6L123.4 516.2L122.9 515.9L112.7 513.3L111.9 513.5L107.7 516.6L107.3 517.5L107.4 518L108.3 517.8L111.8 517L115.7 516.8L119.4 517.9L122.4 520.2L123 520.9Z" fill="#bd5e88"/>
<ellipse cx="116.5" cy="516.4" rx="2" ry="2" fill="#b3a3cf" opacity="0.85"/>
<rect x="75.15" y="512.65" width="56.95" height="47.45" filter="url(#triPatch)" opacity="0.5"/>
<rect x="75.15" y="512.65" width="56.95" height="47.45" filter="url(#triWhite)" opacity="0.6"/>
<path d="M126 536.4L125 539.4L124 542.2L122.8 544.9L121.1 547.4L118.8 549.3L116.3 550.9L113.8 552.5L111.4 554.4L108.5 556.5L105.2 557.7L101.6 557.6L98.4 556.1L95.6 554.1L93 552.2L90.3 550.4L87.8 548.4L85.7 545.8L84.3 542.9L83.4 539.7L83.1 536.4L83.6 533.2L84.9 530.3L86.9 527.7L89 525.4L91.1 523.2L93.3 521.1L96 519.5L99.1 518.9L102.2 518.9L105.2 518.9L108.2 518.4L111.7 517.6L115.5 517.4L119.1 518.4L122 520.6L124.1 523.5L125.5 526.7L126.4 529.9L126.5 533.3Z" fill="#f3eff5"/>
<g clip-path="url(#g11)">
<rect x="81.45" y="513.95" width="47.4" height="45" fill="#dfd2e2"/>
<rect x="81.45" y="513.95" width="47.4" height="45" filter="url(#triBlue)" opacity="0.4"/>
<rect x="81.45" y="513.95" width="47.4" height="45" filter="url(#triNuc)"/>
<rect x="81.45" y="513.95" width="47.4" height="45" filter="url(#triRed)"/>
</g>
<rect x="126.3" y="556.7" width="4" height="2" fill="#000"/>
</g>
<clipPath id="c12"><rect x="318.1" y="513.4" width="56.5" height="47.2"/></clipPath>
<g clip-path="url(#c12)">
<clipPath id="g12"><path d="M364.9 537.5L364.2 540L363.3 542.4L362.5 544.7L361.7 547.2L360.6 549.6L358.9 551.7L356.6 553L354.1 553.6L351.7 554.1L349.2 554.8L346.5 555.5L343.8 555.4L341.3 554.1L339.3 552L337.6 549.8L336 547.8L334.2 545.7L332.6 543.2L331.7 540.5L331.5 537.5L332 534.6L333 531.9L334.6 529.6L336.7 527.8L338.9 526.6L340.9 525.3L342.6 523.7L344.4 521.9L346.7 520.5L349.2 520.1L351.7 520.3L354.3 520.8L357 521.1L360 521.7L362.7 523.1L364.6 525.6L365.5 528.6L365.6 531.8L365.4 534.8Z"/></clipPath>
<rect x="318.1" y="513.4" width="56.5" height="47.2" fill="#e8dcea"/>
<path d="M319.3 530.8L319.3 530.2L317.1 524.9L317.1 532.4L318.9 531.3Z" fill="#c46c8f"/>
<ellipse cx="317.9" cy="529.4" rx="2.5" ry="1.5" fill="#b3a3cf" opacity="0.85"/>
<path d="M325.4 548.3L324.5 548.4L322.7 549.7L322.3 550.4L322.6 558L322.9 558.7L326.5 561.6L336.6 561.6L339.5 557.1L339.6 556.2L339.1 554.9L338.6 554.4Z" fill="#c2668c"/>
<ellipse cx="330" cy="555.8" rx="2" ry="1.6" fill="#b3a3cf" opacity="0.85"/>
<path d="M366.7 536.9L366.6 537.5L365.9 540.3L364.9 542.9L364 545.5L363.1 548.2L361.8 550.8L359.9 553.1L357.9 554.2L358 554.4L358.4 554.8L358.9 554.9L360.4 554.7L360.8 554.5L369.5 547.4L369.8 546.9L371.2 539.7L371 538.9L370.6 538.4L370.2 538.1Z" fill="#b75f88"/>
<path d="M321.6 550.8L321.3 550.3L320.8 550L317.1 549.3L317.1 561.6L317.8 561.6L321.5 558.7L321.8 558Z" fill="#c2668c"/>
<ellipse cx="319.2" cy="555.1" rx="2.6" ry="1.3" fill="#b3a3cf" opacity="0.85"/>
<path d="M333.3 524.3L332.5 524.6L325.6 532.8L325.4 533.3L325.5 533.8L327.6 537.7L328.5 538.1L329.9 538.1L329.8 537.5L330.3 534.3L331.4 531.4L333.1 528.8L335.4 526.8L337.7 525.4L338.3 525Z" fill="#c46c8f"/>
<path d="M370.3 516.7L370.8 516.3L373.9 512.4L367.6 512.4L369.2 516.1L369.7 516.6Z" fill="#c46c8f"/>
<ellipse cx="370.5" cy="514" rx="2.5" ry="1.7" fill="#b3a3cf" opacity="0.85"/>
<path d="M345.7 519.2L346.4 518.8L349.2 518.4L352 518.7L353.1 518.8L353.2 518.6L353.2 512.4L341.1 512.4L344.9 518.8L345.6 519.2Z" fill="#b46690"/>
<path d="M360.2 555.5L358.5 555.7L358 555.9L354.6 559L354.3 559.6L354.2 561.6L366.3 561.6L360.9 555.8Z" fill="#c2668c"/>
<path d="M372.2 539.6L371.9 540.1L370.7 546.7L371 547.6L375.6 551.4L375.6 538.9L372.7 539.4Z" fill="#b75f88"/>
<ellipse cx="373.6" cy="544.7" rx="2.7" ry="1.4" fill="#b3a3cf" opacity="0.85"/>
<path d="M324.6 533.8L324.2 533.4L320.5 531.7L319.7 531.8L317.1 533.4L317.1 548.5L321.4 549.3L322.1 549.1L324.3 547.5L324.6 547.1L327.1 539L327 538.3Z" fill="#bd5e88"/>
<ellipse cx="321.4" cy="540.5" rx="1.8" ry="1.3" fill="#b3a3cf" opacity="0.85"/>
<path d="M328.6 538.9L328.1 539.1L327.8 539.6L325.6 546.6L325.6 547.2L326 547.7L338 553.3L338.2 553.3L336.4 551L334.6 548.8L332.7 546.4L331 543.8L330 540.7L329.9 538.9Z" fill="#bd5e88"/>
<ellipse cx="330.3" cy="546.2" rx="2.4" ry="2" fill="#b3a3cf" opacity="0.85"/>
<path d="M328 515.6L327.3 515.1L321.9 514.4L321.4 514.5L321 514.9L317.3 522.4L317.2 523.1L320.3 530.5L320.7 530.9L324 532.4L324.6 532.5L325.1 532.2L331.8 524.2L331.9 523.2Z" fill="#b75f88"/>
<path d="M337.6 561.6L353.4 561.6L353.5 560.1L353.3 559.5L352.7 559.2L341 557.2L340.1 557.6Z" fill="#b46690"/>
<ellipse cx="345.4" cy="559.9" rx="1.6" ry="1.7" fill="#b3a3cf" opacity="0.85"/>
<path d="M338.7 524.2L339.5 524L343.9 520L344.2 519.5L344 518.9L340.2 512.4L331.8 512.4L329.1 514.5L328.8 515L328.9 515.6L332.7 523L333.4 523.5Z" fill="#bd5e88"/>
<ellipse cx="336.5" cy="517.9" rx="2.2" ry="1.5" fill="#b3a3cf" opacity="0.85"/>
<path d="M361 520.3L361 520.3L363.9 521.9L366 524.6L367 527.9L367.3 531.3L367.1 534.5L366.8 536.1L369.3 537L370 536.9L370.4 536.2L372.4 520.6L372.2 519.9L370.5 517.9L370 517.6L369.4 517.4L368.9 517.4Z" fill="#c2668c"/>
<path d="M321.7 513.5L327.5 514.3L328.2 514.1L330.4 512.4L320.6 512.4L321.1 513.1Z" fill="#b75f88"/>
<path d="M340.3 555.9L341 556.4L342.7 556.7L340.5 555.6L340 555.2ZM353.4 558.5L354.1 558.3L357 555.7L357.3 555.2L357.2 554.7L357.2 554.6L354.6 555.2L351.9 555.8L349.2 556.5L346.3 557.2L344.9 557.1Z" fill="#b75f88"/>
<ellipse cx="352.1" cy="556.7" rx="1.8" ry="2.2" fill="#b3a3cf" opacity="0.85"/>
<path d="M373.1 521.5L371.1 537.4L371.3 538.1L371.5 538.3L372.4 538.6L375.6 538.1L375.6 521L374.2 520.7L373.5 520.9Z" fill="#b75f88"/>
<path d="M370.1 548.2L369.6 548.4L362.1 554.5L361.8 555.1L362 555.8L367.4 561.6L375.6 561.6L375.6 552.4L370.7 548.4Z" fill="#b46690"/>
<ellipse cx="369.8" cy="555.6" rx="2.7" ry="2.1" fill="#b3a3cf" opacity="0.85"/>
<path d="M319.7 512.4L317.1 512.4L317.1 520.9L320.4 514.3L320.3 513.4Z" fill="#c2668c"/>
<path d="M371.5 517.8L372.9 519.5L373.4 519.8L375.6 520.2L375.6 512.4L374.9 512.4L371.5 516.7L371.3 517.3Z" fill="#c46c8f"/>
<ellipse cx="374" cy="516.7" rx="2.6" ry="1.5" fill="#b3a3cf" opacity="0.85"/>
<path d="M368.2 515.8L366.8 512.4L354 512.4L354 519L354.8 519.2L357.8 519.6L359.5 520L367.7 517L368.2 516.5Z" fill="#c2668c"/>
<path d="M322.2 559.4L321.7 559.6L319.1 561.6L325.3 561.6L322.8 559.6Z" fill="#c46c8f"/>
<rect x="318.1" y="513.4" width="56.5" height="47.2" filter="url(#triPatch)" opacity="0.5"/>
<rect x="318.1" y="513.4" width="56.5" height="47.2" filter="url(#triWhite)" opacity="0.6"/>
<path d="M366 537.5L365.3 540.2L364.4 542.7L363.5 545.2L362.6 547.8L361.4 550.4L359.5 552.6L357.1 554L354.5 554.7L351.8 555.2L349.2 555.9L346.4 556.6L343.4 556.4L340.8 555.1L338.6 552.9L336.9 550.6L335.1 548.4L333.2 546.2L331.6 543.6L330.6 540.6L330.4 537.5L330.9 534.4L331.9 531.5L333.6 529.1L335.8 527.2L338.2 525.8L340.2 524.4L342.1 522.7L344.1 520.8L346.5 519.4L349.2 519L351.9 519.2L354.6 519.7L357.5 520.1L360.6 520.8L363.4 522.4L365.5 524.9L366.5 528.1L366.7 531.5L366.5 534.6Z" fill="#f3eff5"/>
<g clip-path="url(#g12)">
<rect x="328.9" y="516.1" width="40.6" height="42.8" fill="#dfd2e2"/>
<rect x="328.9" y="516.1" width="40.6" height="42.8" filter="url(#triBlue)" opacity="0.5"/>
<rect x="328.9" y="516.1" width="40.6" height="42.8" filter="url(#triNuc)"/>
<rect x="328.9" y="516.1" width="40.6" height="42.8" filter="url(#triRed)"/>
</g>
<rect x="368.8" y="557.2" width="4" height="2" fill="#000"/>
</g>
<clipPath id="c13"><rect x="132.9" y="512.65" width="56.95" height="47.45"/></clipPath>
<g clip-path="url(#c13)">
<clipPath id="g13"><path d="M181.3 536.6L181.3 539.7L181.1 542.9L180.3 546L178.6 548.8L176.2 551L173.6 552.9L170.7 554.3L167.6 555L164.4 555.1L161.4 554.9L158.5 554.7L155.4 554.4L152.5 553.7L149.8 552.1L147.8 549.9L145.9 547.6L143.6 545.5L140.9 543.1L138.5 540.2L137.5 536.6L138.2 533.1L140.1 529.9L142.5 527.3L145 525.1L147.5 523.2L150.2 521.7L153 520.6L155.7 519.7L158.5 518.8L161.4 518.2L164.4 518.2L167.3 518.9L170.3 519.8L173.4 520.7L176.7 521.8L179.7 523.7L181.6 526.7L182.1 530.1L181.7 533.5Z"/></clipPath>
<rect x="132.9" y="512.65" width="56.95" height="47.45" fill="#e8dcea"/>
<path d="M131.9 517.6L133.8 525.7L134.2 526.3L137.3 527.9L138.2 527.8L142.4 525.2L143.6 524.1L146.3 522L148.1 521L148 520.6L141.2 511.6L135.9 511.6L131.9 514.7Z" fill="#b46690"/>
<ellipse cx="138.8" cy="519.3" rx="2.2" ry="1.9" fill="#b3a3cf" opacity="0.85"/>
<path d="M183.6 518.6L184.2 518.2L184.4 517.6L183.9 511.6L171.8 511.6L170.9 512.8L170.8 513.6L172.6 518.7L174.4 519.3L175.5 519.7Z" fill="#b75f88"/>
<path d="M170 513.8L169.5 513.2L165.2 511.6L158.8 511.6L155.2 518.1L155.2 518.1L158.2 517.1L161.4 516.5L164.7 516.5L167.9 517.3L171 518.3L171.7 518.5Z" fill="#b46690"/>
<ellipse cx="163.6" cy="514.7" rx="2.1" ry="2.1" fill="#b3a3cf" opacity="0.85"/>
<path d="M188.4 549.7L189 549.6L189.4 549.2L190.9 546.1L190.9 537.2L186.4 534.4L185.6 534.3L183.1 535.2L183 536.6L182.9 540L182.7 543.4L181.8 546.8L180.8 548.4Z" fill="#c46c8f"/>
<path d="M142 554L141.3 553.7L132.7 554.3L131.9 554.8L131.9 554.9L131.9 561.1L141.6 561.1L142.2 554.7Z" fill="#b46690"/>
<ellipse cx="137" cy="557.5" rx="1.6" ry="2" fill="#b3a3cf" opacity="0.85"/>
<path d="M174.8 554.2L180.2 561.1L186.6 561.1L190.9 559.3L190.9 553.8L189.3 551L188.6 550.5L180.3 549.2L180 549.8L177.4 552.3L174.8 554.1Z" fill="#c2668c"/>
<ellipse cx="183.7" cy="555.4" rx="2.4" ry="1.3" fill="#b3a3cf" opacity="0.85"/>
<path d="M165.7 558.7L166.3 558.4L167.8 556.7L164.7 556.8L161.4 556.6L158.2 556.3L154.9 556L154.1 555.8L156.3 558.8L157.1 559.2Z" fill="#c2668c"/>
<path d="M131.9 541.7L131.9 553.2L132.6 553.5L142.3 552.9L142.9 552.6L145.6 549.9L144.5 548.6L142.1 546.2L139.3 543.6L136.8 540.4L136.8 540.1Z" fill="#c46c8f"/>
<ellipse cx="137.2" cy="547.8" rx="1.9" ry="1.8" fill="#b3a3cf" opacity="0.85"/>
<path d="M186.7 532.9L186.7 533.5L187.1 533.9L190.9 536.2L190.9 521.5L189.7 521.7L189 522.4Z" fill="#c2668c"/>
<ellipse cx="189.3" cy="529.3" rx="2.3" ry="1.6" fill="#b3a3cf" opacity="0.85"/>
<path d="M157.9 511.6L142.2 511.6L149 520.5L149.2 520.3L152.2 519.1L154 518.5Z" fill="#b75f88"/>
<ellipse cx="150.3" cy="515" rx="1.6" ry="1.9" fill="#b3a3cf" opacity="0.85"/>
<path d="M133.8 527L133.1 526.9L131.9 527.4L131.9 540.8L136.6 539.4L135.8 536.6L136.5 532.8L137.7 530.8L137.5 529.3L137 528.6Z" fill="#b46690"/>
<ellipse cx="134.2" cy="533.5" rx="1.9" ry="1.6" fill="#b3a3cf" opacity="0.85"/>
<path d="M165.7 559.7L165.1 559.5L157.2 560L156.4 560.5L156.2 561.1L166.2 561.1L166.1 560.3Z" fill="#b46690"/>
<path d="M155.6 559.3L152.9 555.5L151.7 555.2L148.8 553.5L146.6 551.1L146.1 550.5L143.4 553.2L143.2 553.7L142.4 561.1L155.4 561.1L155.7 560.1Z" fill="#c2668c"/>
<ellipse cx="148.2" cy="557.3" rx="1.9" ry="1.5" fill="#b3a3cf" opacity="0.85"/>
<path d="M167 558.9L166.8 559.6L167 561.1L179.2 561.1L174 554.5L171.4 555.8L169.1 556.4Z" fill="#bd5e88"/>
<path d="M188.6 520.9L189.3 521L190.9 520.6L190.9 511.6L184.8 511.6L185.3 518.1L185.6 518.8Z" fill="#b46690"/>
<ellipse cx="188.1" cy="515.9" rx="2.7" ry="1.6" fill="#b3a3cf" opacity="0.85"/>
<path d="M185.2 533.6L185.8 533L188.2 522.3L187.9 521.4L185.1 519.4L184.5 519.3L177.1 520.3L177.9 520.6L181.1 522.7L183.1 525.9L183.7 529.6L183.3 533.3L183.2 534.3Z" fill="#b46690"/>
<rect x="132.9" y="512.65" width="56.95" height="47.45" filter="url(#triPatch)" opacity="0.5"/>
<rect x="132.9" y="512.65" width="56.95" height="47.45" filter="url(#triWhite)" opacity="0.6"/>
<path d="M182.4 536.6L182.3 539.9L182.2 543.2L181.3 546.5L179.5 549.4L177 551.8L174.2 553.8L171.2 555.3L167.9 556.1L164.6 556.2L161.4 556L158.3 555.8L155.1 555.5L152 554.7L149.2 553L147 550.7L145 548.3L142.6 546L139.8 543.5L137.4 540.3L136.4 536.6L137.1 532.9L139.1 529.6L141.5 526.8L144.1 524.4L146.7 522.4L149.6 520.8L152.5 519.7L155.4 518.6L158.3 517.7L161.4 517.1L164.6 517.1L167.7 517.8L170.8 518.8L174 519.8L177.5 521L180.6 523.1L182.6 526.2L183.1 529.8L182.7 533.4Z" fill="#f3eff5"/>
<g clip-path="url(#g13)">
<rect x="137.2" y="513.05" width="48.4" height="47.2" fill="#dfd2e2"/>
<rect x="137.2" y="513.05" width="48.4" height="47.2" filter="url(#triBlue)" opacity="0.7"/>
<rect x="137.2" y="513.05" width="48.4" height="47.2" filter="url(#triNuc)"/>
<rect x="137.2" y="513.05" width="48.4" height="47.2" filter="url(#triRed)"/>
</g>
<rect x="184.05" y="556.7" width="4" height="2" fill="#000"/>
</g>
<clipPath id="c14"><rect x="375.4" y="513.4" width="56.5" height="47.2"/></clipPath>
<g clip-path="url(#c14)">
<clipPath id="g14"><path d="M426.3 535.3L426.7 538.2L426.7 541.2L426 544.3L424.5 547.2L422.3 549.8L419.4 552L416 553.3L412.2 553.7L408.5 553.3L405.1 552.7L401.9 552.3L398.7 551.9L395.7 550.9L393.2 549.1L391.3 547L389.4 545L386.8 543.2L383.9 541.1L381.3 538.5L380.1 535.3L380.4 532L381.7 528.9L383.7 526.1L386.3 523.7L389.2 521.9L392.4 520.5L395.5 519.4L398.5 518.2L401.7 517.3L405.1 517L408.4 517.6L411.4 518.8L414.3 520L417.4 520.9L420.8 522L423.7 523.9L425.5 526.5L426 529.5L426.1 532.5Z"/></clipPath>
<rect x="375.4" y="513.4" width="56.5" height="47.2" fill="#e8dcea"/>
<path d="M380.2 520.2L382.5 525L384.9 522.7L388 520.7L391.4 519.1L393.8 518.2L393.5 514.8L393.2 514.1L391.6 512.7L391 512.5L390.5 512.7L380.6 519L380.2 519.5Z" fill="#c2668c"/>
<path d="M429.9 548.3L430 547.7L428.3 541.1L428.3 541.8L427.5 545.1L425.8 548.2L423.5 551L420.4 553.4L417.7 554.5L421.5 557L422.4 557L427 554.6L427.4 554.1Z" fill="#c46c8f"/>
<path d="M379.2 544.8L379.5 549L379.7 549.5L385.1 555.6L385.7 555.9L392 556.5L392.6 556.3L397 553.1L394.9 552.4L392.2 550.5L390.1 548.2L388 546L385.3 543.9L384.1 543L379.9 543.9L379.4 544.2Z" fill="#b75f88"/>
<ellipse cx="386.6" cy="550.3" rx="1.9" ry="1.8" fill="#b3a3cf" opacity="0.85"/>
<path d="M428.9 536.6L429.4 537.1L430.1 537.1L432.9 536L432.9 518.8L423.9 522.1L425.1 522.9L427 525.7L427.7 529L427.8 532.2L427.9 534.5Z" fill="#c46c8f"/>
<ellipse cx="429.9" cy="527.5" rx="1.6" ry="1.7" fill="#b3a3cf" opacity="0.85"/>
<path d="M419.4 512.4L406 512.4L405.9 512.4L405.9 513.3L407 515.6L408.7 515.9L412 517.2L415.1 518.5L418.4 519.6L421.7 520.7Z" fill="#bd5e88"/>
<path d="M377.7 534.6L378.2 534.3L378.5 534L378.7 531.7L380.1 528.3L382 525.7L379.3 520L378.7 519.5L374.4 518.3L374.4 532.7L377 534.5Z" fill="#b46690"/>
<ellipse cx="377.3" cy="526.1" rx="1.6" ry="2" fill="#b3a3cf" opacity="0.85"/>
<path d="M421.3 558L420.9 557.6L416.8 554.8L416.7 554.9L412.7 555.3L408.7 554.9L408 554.8L405.8 555.5L405.3 555.9L405.1 556.5L405.9 561.6L420.6 561.6L421.3 558.5Z" fill="#b46690"/>
<ellipse cx="413" cy="558.4" rx="2.5" ry="2.2" fill="#b3a3cf" opacity="0.85"/>
<path d="M378.9 518.8L379.6 518.7L389.4 512.4L374.6 512.4L374.4 513.7L374.4 517.4L374.6 517.6Z" fill="#b75f88"/>
<path d="M423.7 521.3L432.9 518L432.9 512.4L420.2 512.4L422.5 520.7L423 521.2Z" fill="#bd5e88"/>
<ellipse cx="426.7" cy="516.1" rx="2.2" ry="1.8" fill="#b3a3cf" opacity="0.85"/>
<path d="M405.3 513.8L404.9 513.4L404.3 513.3L395.2 514.4L394.6 514.8L394.4 515.4L394.6 517.9L394.7 517.9L398 516.6L401.5 515.6L405.1 515.3L406 515.4Z" fill="#c46c8f"/>
<ellipse cx="399.4" cy="515.2" rx="1.7" ry="1.6" fill="#b3a3cf" opacity="0.85"/>
<path d="M427 555.5L422.6 557.8L422.2 558.4L421.4 561.6L432.9 561.6L432.9 559.3L428 555.5Z" fill="#b46690"/>
<path d="M378.6 548.8L378.4 545.2L378.1 544.6L377.5 544.3L374.4 544.2L374.4 553L378.3 549.6Z" fill="#c2668c"/>
<path d="M431.5 547.7L432.9 547.8L432.9 536.8L429.7 538.1L429.2 538.6L428.9 539.4L428.8 539.9L430.6 547.1L430.9 547.5Z" fill="#b75f88"/>
<ellipse cx="431.3" cy="542.1" rx="1.6" ry="2" fill="#b3a3cf" opacity="0.85"/>
<path d="M392 557.5L391.4 557.3L386 556.8L385.5 556.9L385.1 557.3L383.1 561.6L392.9 561.6L392.2 558Z" fill="#b75f88"/>
<path d="M378.3 536L379.1 542.2L379.5 542.9L380.2 543L383.3 542.4L382.3 541.7L379.6 538.8L378.4 535.4Z" fill="#c46c8f"/>
<ellipse cx="380.1" cy="540.6" rx="2.1" ry="1.4" fill="#b3a3cf" opacity="0.85"/>
<path d="M403.8 555.5L400.7 553.9L398.2 553.5L397.9 553.4L393.3 556.8L393 557.7L393.7 561.6L405.1 561.6L404.3 556.2Z" fill="#c2668c"/>
<ellipse cx="399.1" cy="558.1" rx="1.9" ry="1.7" fill="#b3a3cf" opacity="0.85"/>
<path d="M384.3 555.9L379.6 550.7L379 550.4L378.4 550.6L374.4 554L374.4 561.6L382.2 561.6L384.4 556.9Z" fill="#c46c8f"/>
<ellipse cx="378.9" cy="556.8" rx="1.9" ry="1.5" fill="#b3a3cf" opacity="0.85"/>
<path d="M378.1 543.2L378.3 542.5L377.5 536.1L377.1 535.5L374.4 533.7L374.4 543.4L377.4 543.5Z" fill="#b75f88"/>
<ellipse cx="376.1" cy="539.3" rx="2.1" ry="1.9" fill="#b3a3cf" opacity="0.85"/>
<path d="M428.6 555L432.9 558.3L432.9 548.6L431.4 548.5L430.8 548.7L430.5 549.1L428.3 553.9L428.3 554.5Z" fill="#c2668c"/>
<path d="M394.4 513.7L404.6 512.5L404.7 512.4L392.4 512.4L393.7 513.5Z" fill="#bd5e88"/>
<ellipse cx="397.3" cy="512.9" rx="2.1" ry="1.5" fill="#b3a3cf" opacity="0.85"/>
<rect x="375.4" y="513.4" width="56.5" height="47.2" filter="url(#triPatch)" opacity="0.5"/>
<rect x="375.4" y="513.4" width="56.5" height="47.2" filter="url(#triWhite)" opacity="0.6"/>
<path d="M427.4 535.3L427.7 538.4L427.7 541.6L427 544.8L425.3 547.8L423 550.6L420.1 552.9L416.5 554.3L412.5 554.7L408.6 554.4L405.1 553.8L401.7 553.4L398.4 552.9L395.2 551.9L392.6 550L390.5 547.7L388.5 545.6L385.9 543.7L382.8 541.5L380.2 538.7L379 535.3L379.3 531.8L380.7 528.5L382.8 525.6L385.4 523.1L388.4 521.1L391.7 519.6L395 518.4L398.2 517.2L401.6 516.2L405.1 515.9L408.6 516.5L411.8 517.8L414.8 519L418.1 520L421.6 521.3L424.6 523.2L426.4 526L427.1 529.2L427.2 532.3Z" fill="#f3eff5"/>
<g clip-path="url(#g14)">
<rect x="379.2" y="512.8" width="51.8" height="45" fill="#dfd2e2"/>
<rect x="379.2" y="512.8" width="51.8" height="45" filter="url(#triBlue)" opacity="0.8"/>
<rect x="379.2" y="512.8" width="51.8" height="45" filter="url(#triNuc)"/>
<rect x="379.2" y="512.8" width="51.8" height="45" filter="url(#triRed)"/>
</g>
<rect x="426.1" y="557.2" width="4" height="2" fill="#000"/>
</g>
<clipPath id="c15"><rect x="190.65" y="512.65" width="56.95" height="47.45"/></clipPath>
<g clip-path="url(#c15)">
<clipPath id="g15"><path d="M238.1 535.9L239 539L239.1 542.3L238.4 545.6L236.8 548.7L234.3 551.4L230.9 553.2L226.9 553.8L223 553.8L219.5 553.8L216.2 554.2L212.7 554.6L209.2 554.2L206.1 552.8L203.6 550.7L201.4 548.5L199 546.5L196.6 544.4L194.6 541.9L193.6 539L193.6 535.9L194.1 533L194.9 530.1L196.2 527.3L198 524.7L200.1 522.3L202.4 519.8L205 517.3L208.3 515.3L212.1 514.5L216.2 515.2L219.7 516.9L222.7 518.8L225.6 520.2L228.5 521.5L231.1 523.3L233 525.6L234.2 528.1L235.3 530.7L236.6 533.2Z"/></clipPath>
<rect x="190.65" y="512.65" width="56.95" height="47.45" fill="#e8dcea"/>
<path d="M248.6 515.4L248.6 511.6L244 511.6L244.3 513.2L244.5 513.5L245.5 514.8L246.1 515.1Z" fill="#c2668c"/>
<path d="M241.6 556.6L241.9 557.1L242.4 557.3L245.3 557.5L245.9 557.4L248.6 555.5L248.6 538.1L248.6 538.1L240.3 544.5L239.9 546.4L239.9 546.4Z" fill="#bd5e88"/>
<path d="M237 561.1L247.5 561.1L245.7 558.7L245.1 558.3L241.8 558.1L241.2 558.2Z" fill="#b46690"/>
<ellipse cx="242.7" cy="559.9" rx="2.1" ry="2" fill="#b3a3cf" opacity="0.85"/>
<path d="M192.8 520.5L192.6 528.5L193.1 529.3L193.3 529.4L194.7 526.5L196.6 523.7L198.9 521.1L200.2 519.7L193.7 519.7L193.1 519.9Z" fill="#c46c8f"/>
<ellipse cx="195.1" cy="523" rx="2.1" ry="1.5" fill="#b3a3cf" opacity="0.85"/>
<path d="M241.4 527.8L242 527.2L245 516L244.8 515.2L244.2 514.4L243.3 514.2L226.4 518.7L229.5 520.2L232.3 522.1L234.3 524.6L235.7 527.4L236.5 529.1Z" fill="#bd5e88"/>
<ellipse cx="237.8" cy="520.9" rx="1.6" ry="1.6" fill="#b3a3cf" opacity="0.85"/>
<path d="M221.7 511.6L207.3 511.6L207.7 513.7L207.7 513.7L211.9 512.8L216.2 513.5L220 515.2L221.4 516.1Z" fill="#b46690"/>
<path d="M224.9 555.8L218.7 561.1L234.2 561.1L226 555.7L225.4 555.6Z" fill="#bd5e88"/>
<path d="M192 518.1L191.6 511.6L189.7 511.6L189.7 519.1L191.2 519L191.8 518.7Z" fill="#c2668c"/>
<ellipse cx="190.7" cy="515.4" rx="2" ry="1.6" fill="#b3a3cf" opacity="0.85"/>
<path d="M202.5 556.4L196.1 552.3L195.1 552.3L189.7 556L189.7 561.1L202.6 561.1L202.9 557.2Z" fill="#c46c8f"/>
<ellipse cx="196.1" cy="557.5" rx="1.6" ry="1.3" fill="#b3a3cf" opacity="0.85"/>
<path d="M235.1 560.8L235.6 560.9L236.1 560.8L240.5 557.8L240.9 556.9L239.3 547.6L238.2 549.7L235.5 552.6L231.9 554.5L227.6 555.4L226.9 555.4Z" fill="#c2668c"/>
<ellipse cx="235.8" cy="555.6" rx="1.6" ry="1.4" fill="#b3a3cf" opacity="0.85"/>
<path d="M246 516.1L245.6 516.6L242.8 527.5L242.9 528.3L248.6 536.4L248.6 516.2L246.6 516Z" fill="#b75f88"/>
<path d="M196.1 549.5L195.9 550L196 550.8L196.4 551.5L203.2 555.9L203.8 556L205.9 555.7L206.4 555.4L206.8 555L205.3 554.3L202.6 552L200.2 549.7L197.6 547.5L197.5 547.4Z" fill="#b46690"/>
<path d="M189.7 543.6L189.7 555L194.8 551.6L195.2 550.8L195.2 550.1L194.9 549.5Z" fill="#b46690"/>
<ellipse cx="191.7" cy="549.8" rx="1.8" ry="2.2" fill="#b3a3cf" opacity="0.85"/>
<path d="M192 520.8L191.7 520.1L191.1 519.8L189.7 519.9L189.7 530.9L191.5 529.4L191.8 528.7Z" fill="#b75f88"/>
<ellipse cx="190.7" cy="524.9" rx="2.3" ry="1.4" fill="#b3a3cf" opacity="0.85"/>
<path d="M207.5 555.8L208 556.5L215.7 561.1L217.5 561.1L224.1 555.4L223.5 555.4L219.7 555.5L216.2 555.9L212.4 556.3L208.6 555.8L207.7 555.4Z" fill="#c2668c"/>
<path d="M247.6 537.8L247.9 537.2L247.8 536.6L242.4 529L242 528.6L241.4 528.6L236.8 529.9L236.9 530.1L238.3 532.9L239.8 535.9L240.7 539.3L240.7 542.8L240.6 543.2Z" fill="#b75f88"/>
<ellipse cx="242.4" cy="535.1" rx="2.3" ry="2.2" fill="#b3a3cf" opacity="0.85"/>
<path d="M242.7 513.5L243.3 513.1L243.4 512.4L243.2 511.6L222.5 511.6L222.2 516.5L223.3 517.1L225.4 518.2Z" fill="#bd5e88"/>
<path d="M192.8 530.1L191.8 530.2L189.7 532L189.7 542.4L194.7 548.1L195.4 548.4L196.1 548L196.9 546.8L195.1 545.2L193 542.4L192 539.2L191.9 535.9L192.4 532.7L193.1 530.2Z" fill="#b75f88"/>
<path d="M246.8 558.8L248.5 561.1L248.6 561.1L248.6 556.5L247 557.5L246.7 558.1Z" fill="#bd5e88"/>
<path d="M206.4 511.6L192.4 511.6L192.8 518L193.1 518.6L193.7 518.9L201 518.9L201.4 518.5L204.2 515.8L207 514.1Z" fill="#b46690"/>
<ellipse cx="198.9" cy="514.9" rx="2.5" ry="2.2" fill="#b3a3cf" opacity="0.85"/>
<path d="M206 556.5L204.4 556.7L203.9 557L203.7 557.5L203.4 561.1L214.2 561.1L206.6 556.6Z" fill="#c46c8f"/>
<ellipse cx="207.4" cy="559.3" rx="2.2" ry="1.5" fill="#b3a3cf" opacity="0.85"/>
<rect x="190.65" y="512.65" width="56.95" height="47.45" filter="url(#triPatch)" opacity="0.5"/>
<rect x="190.65" y="512.65" width="56.95" height="47.45" filter="url(#triWhite)" opacity="0.6"/>
<path d="M239.2 535.9L240.1 539.2L240.2 542.6L239.4 546.1L237.7 549.4L235.1 552.2L231.5 554.1L227.4 554.8L223.3 554.8L219.6 554.9L216.2 555.3L212.5 555.7L208.8 555.3L205.6 553.8L202.9 551.5L200.6 549.3L198.1 547.2L195.6 544.9L193.6 542.2L192.5 539.2L192.5 535.9L193 532.8L193.8 529.7L195.2 526.8L197.1 524.1L199.3 521.5L201.7 519L204.5 516.4L207.9 514.2L212 513.4L216.2 514.1L219.9 515.8L223.1 517.7L226.1 519.2L229.1 520.7L231.8 522.5L233.8 524.9L235.2 527.7L236.3 530.3L237.7 533Z" fill="#f3eff5"/>
<g clip-path="url(#g15)">
<rect x="189.75" y="512.95" width="52.8" height="46" fill="#dfd2e2"/>
<rect x="189.75" y="512.95" width="52.8" height="46" filter="url(#triBlue)" opacity="1"/>
<rect x="189.75" y="512.95" width="52.8" height="46" filter="url(#triNuc)"/>
<rect x="189.75" y="512.95" width="52.8" height="46" filter="url(#triRed)"/>
</g>
<rect x="241.8" y="556.7" width="4" height="2" fill="#000"/>
</g>
<clipPath id="c16"><rect x="432.7" y="513.4" width="56.5" height="47.2"/></clipPath>
<g clip-path="url(#c16)">
<clipPath id="g16"><path d="M487.2 536.4L484.8 539.1L482.6 541.4L480.9 543.6L479.4 545.9L477.6 548.1L475.2 549.9L472.3 551.3L469.3 552.4L466 553.2L462.6 553.7L459.1 553.6L455.7 553L452.3 552.2L448.8 551.2L445.7 549.6L443.3 547.3L442.1 544.5L441.5 541.7L440.7 539.1L439.5 536.4L438.5 533.4L438.8 530.4L440.8 527.7L443.9 525.8L447.2 524.4L450.3 523.2L453.3 522.1L456.3 521.3L459.4 520.8L462.6 520.5L465.9 520.2L469.4 520.1L472.9 520.7L476.1 521.9L479.1 523.5L482.2 525.3L485.2 527.4L487.6 530.1L488.3 533.2Z"/></clipPath>
<rect x="432.7" y="513.4" width="56.5" height="47.2" fill="#e8dcea"/>
<path d="M443.5 550L444 550.4L443.4 549.7ZM451.6 556.1L452.2 556.3L460.1 556L460.8 555.6L460.9 555.4L458.8 555.3L455.1 554.7L451.5 553.7L447.8 552.5L444.9 551Z" fill="#bd5e88"/>
<path d="M432.9 522.1L432.4 521.3L431.7 521L431.7 532L432.4 531.1L432.6 530.6Z" fill="#c2668c"/>
<path d="M448.7 522L449.3 521.8L452.5 520.6L455.8 519.7L455.9 519.7L456 519.6L454.5 512.4L440.7 512.4L440.5 515.3L440.9 516.1Z" fill="#b46690"/>
<path d="M487.1 527L487.3 526.4L487.2 522L486.9 521.4L481.8 516.1L481.1 515.8L473.9 516.3L473.3 516.5L473.1 517.1L473 519.1L473.7 519.2L477.1 520.5L480.3 522.3L483.5 524.3L486.7 526.7L487 527Z" fill="#b46690"/>
<ellipse cx="480.9" cy="520.1" rx="2.6" ry="2.1" fill="#b3a3cf" opacity="0.85"/>
<path d="M485 557.3L482 557.1L481.3 557.4L477.5 561.6L488 561.6L485.7 557.7Z" fill="#bd5e88"/>
<ellipse cx="483" cy="559.7" rx="1.9" ry="1.5" fill="#b3a3cf" opacity="0.85"/>
<path d="M441.5 550.5L435.7 557L435.5 557.8L436.6 561.6L449.5 561.6L451 557.4L451 556.9L450.7 556.4L442.7 550.4L442.1 550.2Z" fill="#bd5e88"/>
<path d="M481.4 556L482 556.3L485.1 556.5L485.8 556.2L490.2 551.1L490.2 543.9L485.3 540.7L484.2 542L482.4 544.4L480.8 546.9L478.8 549.3L476.9 550.7Z" fill="#c2668c"/>
<path d="M434.3 530.6L437.1 530.7L437.2 529.9L439.3 527L442.5 524.8L446 523.2L447.9 522.4L440.6 516.9L440.1 516.7L439.5 516.9L434 521.3L433.7 522L433.4 529.7L433.7 530.4Z" fill="#c46c8f"/>
<path d="M486.4 557L486.5 557.5L488.9 561.6L490.2 561.6L490.2 552.3L486.6 556.5Z" fill="#b46690"/>
<path d="M435 556.6L440.7 550.2L440.9 549.6L440.6 549L431.7 540.8L431.7 557.1L434.4 556.9Z" fill="#c46c8f"/>
<ellipse cx="435" cy="549.8" rx="2" ry="1.4" fill="#b3a3cf" opacity="0.85"/>
<path d="M480.8 515L481.6 514.5L482.6 512.4L470.9 512.4L471.6 514.5L472 515L472.6 515.4L473.1 515.5Z" fill="#b46690"/>
<path d="M490.2 543L490.2 528.6L488.4 527.7L487.8 527.6L487.6 527.8L489.2 529.6L490 533L488.9 536.4L486.5 539.4L485.9 540.1Z" fill="#bd5e88"/>
<ellipse cx="489" cy="537" rx="1.8" ry="2.2" fill="#b3a3cf" opacity="0.85"/>
<path d="M480.6 556.6L480.4 556L476.3 551.2L476.2 551.3L473.1 552.8L469.8 554L466.3 554.9L462.6 555.4L461.8 555.4L461.5 556L461.5 556.9L464 561.6L476.4 561.6L480.4 557.2Z" fill="#b46690"/>
<ellipse cx="471.4" cy="557.3" rx="2.7" ry="2.2" fill="#b3a3cf" opacity="0.85"/>
<path d="M439.9 512.4L431.7 512.4L431.7 520L432.7 520.6L433.7 520.5L439.4 516L439.7 515.4Z" fill="#b46690"/>
<ellipse cx="435.2" cy="515.7" rx="2.1" ry="1.7" fill="#b3a3cf" opacity="0.85"/>
<path d="M482.5 515.8L487.2 520.6L487.7 520.8L488.3 520.8L490.2 519.9L490.2 512.4L483.5 512.4L482.4 514.8L482.3 515.3Z" fill="#c46c8f"/>
<path d="M470.1 515.2L470.6 514.7L470.6 514L470.1 512.4L455.3 512.4L456.7 519.3L456.9 519.5L459.2 519.2L460.3 519Z" fill="#b75f88"/>
<path d="M490.2 527.7L490.2 520.8L488.5 521.5L488 522.3L488.1 526.1L488.6 526.9Z" fill="#c2668c"/>
<ellipse cx="489.2" cy="524.2" rx="1.7" ry="2" fill="#b3a3cf" opacity="0.85"/>
<path d="M431.7 533.2L431.7 539.7L441.3 548.5L442 548.7L442.2 548.6L442 548.3L440.6 545.3L439.8 542.3L439 539.4L437.8 536.4L436.8 533.2L437 531.5L433.6 531.4L432.9 531.8Z" fill="#b75f88"/>
<path d="M434.5 557.9L433.9 557.7L431.7 557.9L431.7 561.6L435.8 561.6L434.8 558.4Z" fill="#b75f88"/>
<path d="M460 556.8L452.6 557.1L452.1 557.2L451.8 557.6L450.3 561.6L463.1 561.6L460.8 557.3Z" fill="#c2668c"/>
<path d="M472.3 516.7L471.9 515.9L471.8 515.8L471 515.7L463.2 518.7L466.2 518.5L469.9 518.5L472.2 518.9Z" fill="#b46690"/>
<rect x="432.7" y="513.4" width="56.5" height="47.2" filter="url(#triPatch)" opacity="0.5"/>
<rect x="432.7" y="513.4" width="56.5" height="47.2" filter="url(#triWhite)" opacity="0.6"/>
<path d="M488.3 536.4L485.9 539.3L483.6 541.8L481.8 544.1L480.3 546.6L478.4 548.9L475.8 550.8L472.8 552.2L469.6 553.4L466.2 554.3L462.6 554.8L458.9 554.7L455.3 554.1L451.8 553.2L448.2 552.1L444.9 550.4L442.4 547.9L441.1 545L440.4 542.1L439.6 539.3L438.4 536.4L437.4 533.3L437.8 530L439.8 527.2L443 525.1L446.4 523.6L449.6 522.3L452.8 521.1L456 520.3L459.3 519.7L462.6 519.4L466.1 519.1L469.7 519.1L473.4 519.7L476.8 521L479.9 522.7L483 524.7L486.2 526.9L488.6 529.7L489.4 533.1Z" fill="#f3eff5"/>
<g clip-path="url(#g16)">
<rect x="436.2" y="515" width="52.8" height="42.8" fill="#dfd2e2"/>
<rect x="436.2" y="515" width="52.8" height="42.8" filter="url(#triBlue)" opacity="0.9"/>
<rect x="436.2" y="515" width="52.8" height="42.8" filter="url(#triNuc)"/>
<rect x="436.2" y="515" width="52.8" height="42.8" filter="url(#triRed)"/>
</g>
<rect x="483.4" y="557.2" width="4" height="2" fill="#000"/>
</g>
<clipPath id="c17"><rect x="17.4" y="560.9" width="56.95" height="47.45"/></clipPath>
<g clip-path="url(#c17)">
<clipPath id="g17"><path d="M66.2 585L66 587.8L65.2 590.4L63.9 593L62.4 595.5L60.3 597.7L57.6 599.4L54.6 600.7L51.6 601.9L48.4 603.1L44.9 604L41.3 604L37.9 602.9L34.9 601.2L32.1 599.5L29 598.1L25.6 596.6L22.7 594.3L21.2 591.4L21.1 588.1L22 585L23.3 582.2L24.9 579.6L26.7 577.4L28.8 575.4L31 573.5L33.1 571.6L35.4 569.7L38.2 568.1L41.5 567.2L44.9 566.8L48.5 566.5L52.3 566.1L56.4 566.3L60.2 567.6L62.8 570.2L64 573.5L64.5 576.7L65 579.6L65.7 582.3Z"/></clipPath>
<rect x="17.4" y="560.9" width="56.95" height="47.45" fill="#e2b8c1"/>
<path d="M71.7 603.5L72.2 603L74.1 599L74.1 598.2L70.9 592L70 591.5L66.4 591.8L65.5 593.8L63.8 596.5L61.5 598.9L58.6 600.8L56.5 601.7L58.4 604.5L58.8 604.8L63.3 606.4L63.9 606.4Z" fill="#d28490"/>
<path d="M65.3 559.9L49.9 559.9L49.6 563.5L49.9 564.3L50.4 564.7L52.8 564.5L57.2 564.8L60 565.8L64.1 564.2L64.7 563.6Z" fill="#d28490"/>
<path d="M16.6 569.5L16.4 569L16.4 584.6L17.6 583.6L17.9 582.8Z" fill="#d4818e"/>
<path d="M72.1 604.4L71.5 604.4L64.8 607L64.3 607.4L64.2 608L64.5 609.4L75.3 609.4L75.3 608.5L72.6 604.7Z" fill="#d6878f"/>
<path d="M24.9 603.3L24.9 603.2L24.6 602.5L16.4 596.7L16.4 609.4L19.5 609.4L24.7 604Z" fill="#d4818e"/>
<path d="M75.3 569.2L75.3 559.9L66.1 559.9L65.4 563.8L65.7 564.5L70.1 569.2L70.8 569.5Z" fill="#cf7f8c"/>
<path d="M41.7 608.2L41.7 609.1L41.9 609.4L55.1 609.4L57.5 605.5L57.5 604.5L55.8 602.1L55.4 602.3L52.1 603.5L48.6 604.8L44.9 605.7L43.1 605.7Z" fill="#cf7f8c"/>
<path d="M25.9 602.4L25.7 603.1L25.8 603.3L26.1 603.9L32 609.2L32.5 609.4L33.3 609.4L40.2 608.4L40.9 607.9L42.2 605.7L41 605.7L37.3 604.5L34.1 602.7L31.1 600.9L28.2 599.5Z" fill="#cf7f8c"/>
<path d="M16.4 585.7L16.4 595.7L24.5 601.5L25.2 601.7L25.7 601.4L27.5 599.2L24.2 597.6L21.2 595.1L19.5 591.9L19.4 588.4L20.3 585L20.7 583.9L18.8 583.9L18.2 584.1Z" fill="#d6878f"/>
<path d="M66.9 577.6L69.6 570.6L69.4 569.6L65.2 565.3L64.8 565L64.3 565L61.2 566.2L61.2 566.2L64 569L65.4 572.5L66 576L66.4 578Z" fill="#cf7f8c"/>
<path d="M74.7 597.6L75.1 598L75.3 598.1L75.3 584.6L73.5 585.3L73 585.9L71.4 590.7L71.5 591.4Z" fill="#d6878f"/>
<path d="M34.1 559.9L21.9 559.9L19.8 566.2L19.9 566.9L20.5 567.4L31.8 570.5L32.1 570.2L34.6 568.1L36.2 567.3Z" fill="#d28490"/>
<path d="M17.1 567.9L18.4 567.3L18.8 566.8L21 559.9L16.4 559.9L16.4 568L16.6 568Z" fill="#d28490"/>
<path d="M73 603.1L73.1 604L75.3 607.1L75.3 599L74.8 599.4Z" fill="#d4818e"/>
<path d="M19.5 583.1L21.1 583.2L21.6 581.9L23.2 579.1L25.2 576.6L27.5 574.4L29.8 572.3L31.1 571.1L19.4 567.9L18.8 568L17.9 568.4L17.5 568.8L17.4 569.3L18.6 582.3L18.9 582.9Z" fill="#cf7f8c"/>
<path d="M25.4 604.8L24.8 605L20.6 609.4L31 609.4L26.1 605Z" fill="#d6878f"/>
<path d="M67.7 577.9L67.8 578.8L72.5 584.2L73 584.5L73.5 584.5L75.3 583.8L75.3 570L71.1 570.3L70.3 570.9Z" fill="#d28490"/>
<path d="M48.2 564L48.7 563.7L48.9 563.2L49.1 559.9L34.9 559.9L36.8 566.5L37.1 566.8L37.7 566.5L41.2 565.5L44.2 565.2Z" fill="#d6878f"/>
<path d="M70 590.7L70.5 590.5L70.8 590.1L72.2 585.7L72 584.9L67.2 579.3L66.6 579.1L67.4 582L67.9 585L67.7 588L66.8 591L66.8 591Z" fill="#d6878f"/>
<path d="M62.8 607.1L59.1 605.8L58.5 605.8L58 606.1L56 609.4L63.7 609.4L63.4 607.8Z" fill="#cf7f8c"/>
<rect x="17.4" y="560.9" width="56.95" height="47.45" filter="url(#heVar)" opacity="0.6"/>
<path d="M64.6 564.4l1.6 0.7M68.4 573.4l-0.3 0.7M34 563.1l0.6 1.4M71 578l-0.7 0.4M64.6 606.2l-1.5 0.5M28.9 606.4l-1 0.2M47.4 562.3l-0.9 0.5M73.4 578.1l-0.6 1.6M60.7 563.7l-0.4 1.7" stroke="#8e6296" stroke-width="2.2" stroke-linecap="round" opacity=".7"/>
<path d="M67.1 585L66.9 587.9L66 590.7L64.8 593.4L63.1 596L60.9 598.3L58.1 600.2L55 601.5L51.8 602.8L48.5 604L44.9 604.9L41.1 604.9L37.6 603.7L34.5 602L31.6 600.2L28.4 598.8L24.9 597.1L21.9 594.7L20.3 591.6L20.2 588.3L21.1 585L22.4 582L24 579.4L25.9 577L28.1 574.9L30.3 572.9L32.6 570.9L35 568.9L38 567.2L41.3 566.3L44.9 565.9L48.6 565.6L52.6 565.3L56.9 565.5L60.7 566.9L63.4 569.6L64.8 573L65.3 576.3L65.9 579.3L66.6 582.1Z" fill="#f3e6ea"/>
<path d="M66.2 585L66 587.8L65.2 590.4L63.9 593L62.4 595.5L60.3 597.7L57.6 599.4L54.6 600.7L51.6 601.9L48.4 603.1L44.9 604L41.3 604L37.9 602.9L34.9 601.2L32.1 599.5L29 598.1L25.6 596.6L22.7 594.3L21.2 591.4L21.1 588.1L22 585L23.3 582.2L24.9 579.6L26.7 577.4L28.8 575.4L31 573.5L33.1 571.6L35.4 569.7L38.2 568.1L41.5 567.2L44.9 566.8L48.5 566.5L52.3 566.1L56.4 566.3L60.2 567.6L62.8 570.2L64 573.5L64.5 576.7L65 579.6L65.7 582.3Z" fill="#cd8597"/>
<g clip-path="url(#g17)">
<path d="M23.6 588.9l-0.8 0.1M55.5 576.8l1 0.3M54.1 568.8l-0.3 0.1M41.3 584.2l1 0.3M25.4 586.4l0.1 0.3M44.6 586.5l-0.1 1M26.1 578.7l0.2 0.3M30 575.5l-0.3 0.1M55.5 582.4l0.2 0.2M59 572.3l0.3 0.4M65.8 585.7l-0.3 0.5M48.5 589.9l-0.1 1.2M39.7 589l0.2 0.6M55.6 599.9l-0.6 0.4M43.6 570.6l-0.5 0M64.3 577.4l0.4 0.1M65.4 582l-0.4 0.5M39.6 601.7l-0.1 0.4M56 595.5l-0.6 0.4M46.1 575.9l-0.5 0.4M49.6 569.8l0.2 0.3M24.6 593.2l0.1 1M46.6 572.7l0.2 0.9M36.7 570.3l-0.1 0.9" stroke="#83598f" stroke-width="2.3" stroke-linecap="round" opacity=".8"/>
<path d="M54 586.3l0.8 0.6M53.7 592.6l0 0.9M51.7 587.5l-0.1 1.2M43.1 601.7l-0.4 1M30.7 594l0.3 0.5M51.9 598.3l0.2 1.1M41.6 579l-0.3 0.9M53.8 572.8l0.4 0.3M61.1 582.1l-0.3 0.2M60.8 585.9l-0.2 0.3M30 589.4l0.2 1M25.8 582.5l0 0.8M48.9 599.7l-0.5 0.5M35.1 587.3l-0.6 0.4M39.7 574.2l0.1 0.3M43.6 594l-0.3 0M27.8 591.6l0.1 1.1M34.3 592.8l-0.7 0.1M63.1 591.3l0.7 0.4M31 583.9l-0.1 1.1M46.8 580.1l0.5 0.7M35.4 576.6l0.1 0.4M59.2 591.6l0.1 1.2M57.8 584.3l0 0.6M37.7 583.6l0.8 0.5M40.1 569.6l0.6 0.5M57.9 569.5l-0.1 0.5M52.7 575.3l-0.7 0.5M30.7 578.5l-0.4 0.1M34 574.3l-0.9 0.1M31.9 597.1l0.2 0.9M34.9 579.6l0.2 0.5M50.5 579.8l-0 0.7M47.4 584.1l0.5 0.4M60.3 595.6l-0.7 0.9M46.6 597l-1 0M59.5 575.9l-0.7 0.6M27.3 595.2l0.4 0.8" stroke="#93689c" stroke-width="2.3" stroke-linecap="round" opacity=".8"/>
<path d="M44.5 586l4 0.5M27.6 581.8l-0 3.7M44.7 593.9l-4.4 1.1M45.1 570.2l-1.2 2.1M28.6 573l3.7 2.9M46.6 597.7l1.9 2.3M52.4 591.6l3.1 2.7M48.6 581.8l-4.1 2.2M41.5 587.4l4.2 2M40.5 582.3l-3.8 1.4M60.1 588l1.3 2.5M55.1 585.9l3.5 3.1M33.1 586l1.7 3M27.9 587l2.7 2.7M39.5 580.6l-0.5 1.6M44.6 573.1l-4.2 1.7M52.8 574.6l1.8 1.2M35.9 582.3l-2.2 0.3M48.5 592.5l1.7 1.9M25.5 578.8l1.2 4.2M43.8 578.5l2.3 4.1M44 580.5l2.9 3.1M44 588.9l3.1 2.2M40.2 575l2.5 4.2" stroke="#f6e8ee" stroke-width="0.9" stroke-linecap="round" opacity=".9"/>
</g>
<rect x="68.55" y="604.95" width="4" height="2" fill="#000"/>
</g>
<clipPath id="c18"><rect x="260.8" y="561.4" width="56.5" height="47.2"/></clipPath>
<g clip-path="url(#c18)">
<clipPath id="g18"><path d="M309.2 585L308.5 587.8L307 590.3L305.5 592.6L304.4 595.1L303.2 597.7L301.4 600.1L298.8 601.6L295.8 602L292.8 601.7L290.1 601.2L287.6 600.6L285.2 599.8L282.9 598.8L280.7 597.6L278.3 596.4L275.9 595L273.9 593L272.5 590.5L271.8 587.8L271.3 585L270.8 582L270.7 578.9L271.8 575.9L274.2 573.8L277.3 572.5L280.3 571.9L282.9 571.2L285.2 570.3L287.6 569.4L290.1 568.9L292.7 568.9L295.4 569.2L298 569.9L300.6 571L302.7 572.7L304.5 574.8L306.1 577.1L307.6 579.5L308.8 582.1Z"/></clipPath>
<rect x="260.8" y="561.4" width="56.5" height="47.2" fill="#e2b8c1"/>
<path d="M279.2 564.8L268.5 562.8L267.9 562.9L267.5 563.3L262.8 572.2L262.8 572.8L263.1 573.3L268.1 577.2L268.9 577.3L269.6 577.1L270.3 575.2L272.8 572.8L276.1 571.3L279.3 570.5L280.1 570.3L279.9 565.7L279.7 565.1Z" fill="#d28490"/>
<path d="M298.6 565.5L297.6 568L298.8 568.4L301.6 569.6L303.9 571.5L305.9 573.8L307.6 576.3L309.2 579L309.3 579.1L313.4 573.1L313.6 572.6L313.4 572.1L311.6 569.3L311.1 569L299.7 565L299 565Z" fill="#cf7f8c"/>
<path d="M311.6 603.3L311.8 602.6L311.3 599.8L310.7 599.1L305.2 597.3L304.4 599L302.4 601.5L299.6 603.1L296.3 603.7L295.8 603.6L295 607L295.2 607.9L297.2 609.6L299.9 609.6L307.4 608.7L308 608.3Z" fill="#d6878f"/>
<path d="M312.5 603.8L312 604.2L308.7 608.8L308.5 609.5L308.6 609.6L318.3 609.6L318.3 606.5L313.1 603.9Z" fill="#cf7f8c"/>
<path d="M310.7 598.3L311.3 598.2L311.7 597.9L314.4 593.5L314.4 592.6L310.6 586L310.1 588.1L308.6 590.9L307.1 593.4L305.8 596.1L305.5 596.6Z" fill="#d28490"/>
<path d="M265.9 607.3L266.3 607.1L275.3 596.5L274.6 596L272.4 593.8L270.9 591.1L270.2 588.5L269.7 588.1L268.8 588.1L262.2 591.4L261.7 592L259.9 604.2L260.3 605.1L263.7 607.7L264.5 607.8Z" fill="#d4818e"/>
<path d="M259.8 605.7L259.8 609.6L263.5 609.6L263.6 609.1L263.2 608.3Z" fill="#d28490"/>
<path d="M268.3 587.4L268.7 587.1L268.8 586.6L268.1 578.5L267.7 577.9L262.1 573.6L261.5 573.4L259.8 573.6L259.8 589.8L261 590.6L261.9 590.6Z" fill="#d4818e"/>
<path d="M314.3 571.9L314.9 572.2L318.3 572.7L318.3 560.4L314.5 560.4L312.2 568.3L312.4 569Z" fill="#d6878f"/>
<path d="M267.9 607.4L268.4 607.8L274.4 609.6L284.1 609.6L285 608.6L285.1 607.7L282.6 600.5L282.1 600.3L279.7 599L277.1 597.6L276 596.9L268 606.3L267.8 606.9Z" fill="#d4818e"/>
<path d="M267 562.6L267.1 561.8L266.5 560.4L259.8 560.4L259.8 572.8L261.2 572.7L262 572.2Z" fill="#d4818e"/>
<path d="M293.9 608.1L286.3 608.6L285.7 609L285.2 609.6L296 609.6L294.5 608.3Z" fill="#cf7f8c"/>
<path d="M314.9 592L315.4 592.4L316 592.4L318.3 591.6L318.3 573.5L315 573.1L314.1 573.4L309.6 579.9L310.5 581.9L310.9 584.8Z" fill="#cf7f8c"/>
<path d="M297.7 562.5L298.1 562L298.6 560.4L286.7 560.4L297.1 562.6Z" fill="#d6878f"/>
<path d="M312.6 602.3L313 603L318.3 605.6L318.3 592.4L315.7 593.3L315.2 593.7L312.2 598.7L312 599.4Z" fill="#d28490"/>
<path d="M268.4 562L279.6 564.1L280.5 563.8L283.1 560.4L267.4 560.4L267.8 561.4Z" fill="#d28490"/>
<path d="M294.2 606.7L295 603.6L293.1 603.4L290.1 602.9L287.3 602.3L284.6 601.4L283.6 600.9L285.8 607.2L286.1 607.6L286.7 607.8L293.4 607.4L293.9 607.1Z" fill="#cf7f8c"/>
<path d="M260.5 591.2L259.8 590.7L259.8 599.7L260.9 592.1Z" fill="#d28490"/>
<path d="M280.9 564.5L280.7 565.1L280.9 570.1L282.1 569.7L284.7 568.7L287.3 567.7L290.1 567.2L293 567.2L295.9 567.6L296.8 567.8L298 564.7L298 563.9L297.4 563.5L284.5 560.8L283.6 561.1Z" fill="#d6878f"/>
<path d="M264.4 609.3L264.3 609.6L271.6 609.6L266.7 608.1L266.1 608.1L265 608.5L264.5 608.8Z" fill="#d6878f"/>
<path d="M299.3 564L310.5 567.9L311.2 567.9L311.7 567.3L313.6 560.4L299.4 560.4L298.7 562.9L298.8 563.6Z" fill="#cf7f8c"/>
<rect x="260.8" y="561.4" width="56.5" height="47.2" filter="url(#heVar)" opacity="0.6"/>
<path d="M310.8 608l-1.4 0.4M315.6 606.3l-0.2 1.5M267 584.3l0.6 0.8M313.1 601.5l1.3 0.7M269.6 571.3l-0.3 1.5M268.3 569.2l0.7 1.5M306.4 607l1.7 0.1M307.3 567l-0.9 1.2M308.2 599.4l-0.4 1.5M300.3 561.7l0.2 0.7M263.3 569.1l-0.1 0.8M316.2 607.4l-1 0.1M264.7 604.2l-0.4 0.6" stroke="#8e6296" stroke-width="2.2" stroke-linecap="round" opacity=".7"/>
<path d="M310.1 585L309.3 588L307.9 590.6L306.3 593.1L305.1 595.6L303.9 598.4L301.9 600.9L299.2 602.4L296.1 602.9L293 602.6L290.1 602.1L287.4 601.5L284.9 600.6L282.5 599.6L280.1 598.4L277.7 597.1L275.2 595.5L273.1 593.4L271.7 590.8L270.9 588L270.4 585L269.9 581.9L269.9 578.6L271 575.5L273.5 573.2L276.6 571.9L279.8 571.2L282.5 570.4L284.9 569.4L287.4 568.5L290.1 568L292.9 568L295.7 568.4L298.4 569.1L301.1 570.3L303.4 572.1L305.2 574.3L306.9 576.7L308.4 579.2L309.7 582Z" fill="#f3e6ea"/>
<path d="M309.2 585L308.5 587.8L307 590.3L305.5 592.6L304.4 595.1L303.2 597.7L301.4 600.1L298.8 601.6L295.8 602L292.8 601.7L290.1 601.2L287.6 600.6L285.2 599.8L282.9 598.8L280.7 597.6L278.3 596.4L275.9 595L273.9 593L272.5 590.5L271.8 587.8L271.3 585L270.8 582L270.7 578.9L271.8 575.9L274.2 573.8L277.3 572.5L280.3 571.9L282.9 571.2L285.2 570.3L287.6 569.4L290.1 568.9L292.7 568.9L295.4 569.2L298 569.9L300.6 571L302.7 572.7L304.5 574.8L306.1 577.1L307.6 579.5L308.8 582.1Z" fill="#cd8597"/>
<g clip-path="url(#g18)">
<path d="M287 597.7l-0.2 0.4M297.4 595.1l0.3 0.8M283.5 579.9l0.8 0M294.5 584.6l0.5 0.2M280.3 594.5l0.3 0.3M288.2 583.8l-0.7 0.9M274.5 576.1l0.4 0.4M303.3 595.2l0.4 0.2M286 589.4l-0 0.9M295.8 577l-0.4 0.6M283.8 593.7l0.4 0.9M304.2 586.3l0.8 0.2M276.6 586.7l0.7 0.9M293.8 598.9l0.9 0.4M299.8 593.1l1 0.4M274.2 587.4l-0.3 1.2M299.1 578.5l-0.3 0M276 583.6l0.9 0.3M304.9 575.9l0.8 0.5M289 593.1l-0.5 0.4M290 582.9l1.1 0.1M281.5 583.3l1.1 0.3M291.1 577l-0.5 0.8" stroke="#83598f" stroke-width="2.3" stroke-linecap="round" opacity=".8"/>
<path d="M280.3 587.7l-0.2 0.5M302.5 581.3l-1 0.5M275.9 591.6l-1 0.4M293.9 570.6l-0.3 0.1M300.2 571.9l0.3 0.4M282.1 591.1l0.3 0.9M292.7 574.5l0.6 0M281.1 572.6l-0.1 0.8M277.5 578.9l-0.5 0.3M297.9 590.9l-0.1 0.9M290.6 597l-1 0.2M301.2 575.7l-0.6 0.3M287.5 579.4l0.2 0.4M290.7 590.3l-0.5 0.5M285.3 574.3l-1.1 0.2M306.8 578.6l-0.3 0.8M293.4 580.3l0 0.6M280.2 575.7l-0.2 1M298.3 585.2l0.4 0M308 586.9l0 0.9M288.7 574l-1 0.4M287.2 570.1l0.3 0.2M294.8 588.1l-0.3 0.6M278 572.3l-0.5 0.5" stroke="#93689c" stroke-width="2.3" stroke-linecap="round" opacity=".8"/>
<path d="M294.8 581.4l0.4 2.4M294.9 579.3l-1.5 4.9M278.3 576l2.7 3.3M294.9 590.4l1.9 2.2M294.5 579.7l-2.3 3.7M288.8 576.5l4.5 1.5M276.7 584.1l-3.5 3M300.2 581.5l1.9 1.1M284.3 592.3l-1.4 1.3M296 596.7l3 1.1M297.5 578.7l-0.5 5M277.1 590l-1.8 1.1M280.4 582.9l0.4 2.1M300 590.2l-2.7 1.6M295.7 587.8l2.9 0.1M298.1 591.4l-2.2 1.1M285 594.9l3.5 3.3M300 579.5l3.6 0.9" stroke="#f6e8ee" stroke-width="0.9" stroke-linecap="round" opacity=".9"/>
</g>
<rect x="311.5" y="605.2" width="4" height="2" fill="#000"/>
</g>
<clipPath id="c19"><rect x="75.15" y="560.9" width="56.95" height="47.45"/></clipPath>
<g clip-path="url(#c19)">
<clipPath id="g19"><path d="M124.5 583.4L123.3 585.9L122.9 588.4L123.1 591.3L122.8 594.5L121.3 597.5L118.5 599.7L115 601.3L111.2 602.3L107.4 602.9L103.5 603L99.6 602.5L96 601.6L92.4 600.6L88.9 599.3L85.8 597.3L83.7 594.7L82.6 591.8L81.8 589L80.8 586.2L79.7 583.4L79.5 580.4L80.7 577.6L83.2 575.2L86.1 573.4L88.5 571.6L90.7 569.5L93 567.2L96 565.2L99.5 563.7L103.5 562.8L107.6 562.5L111.8 563.1L115.5 564.8L118.4 567.1L120.7 569.7L122.8 572.3L124.7 574.9L125.8 577.7L125.6 580.6Z"/></clipPath>
<rect x="75.15" y="560.9" width="56.95" height="47.45" fill="#e2b8c1"/>
<path d="M101.2 608.3L100.6 608.1L95.2 608.2L94.5 608.6L93.9 609.4L101.6 609.4L101.5 608.8Z" fill="#d4818e"/>
<path d="M83.9 569.9L84.4 570.2L84.9 570.2L90.3 567.5L92.2 565.7L95.4 563.5L96.7 563L94.2 559.9L81.8 559.9L80 564.6L80.1 565.5Z" fill="#d28490"/>
<path d="M83.8 571.4L83.6 570.9L79.4 565.9L78.7 565.6L74.2 565.8L74.2 579.5L78.2 579.1L79.1 577L81.7 574.5L83.9 573Z" fill="#cf7f8c"/>
<path d="M94.4 607.2L95.1 607.4L101.2 607.3L101.8 607L104.1 604.7L103.5 604.7L99.4 604.2L95.4 603.3L91.6 602.1L87.9 600.6L87.4 600.3Z" fill="#d28490"/>
<path d="M125 588.6L133.1 581L133.1 576.8L124.6 571.7L124.5 571.7L126.2 574.1L127.4 577.1L127.3 580.4L126.2 583.4L125 586.2L124.6 588.7Z" fill="#d4818e"/>
<path d="M78.5 605.5L84.1 599L84.3 598.4L84.1 597.9L82.4 595.7L81.7 594.2L81.7 594.2L81.1 593.8L74.2 592.7L74.2 605.3L77.7 605.8Z" fill="#cf7f8c"/>
<path d="M122.6 567.1L122.2 566.6L120.1 565.2L119.5 565.1L118.7 565.2L119.4 565.8L121.9 568.5L123.2 570.1Z" fill="#d6878f"/>
<path d="M128.6 598.3L126.9 609.4L133.1 609.4L133.1 597.7L129.5 597.5L128.9 597.7Z" fill="#d4818e"/>
<path d="M124.6 594.8L124.2 595.1L124.2 595.5L122.5 598.7L119.5 601.1L115.7 602.8L111.7 603.9L111.3 604L116.4 609.4L126.1 609.4L127.9 597.7L127.6 596.9L125.7 595L125.2 594.7Z" fill="#d4818e"/>
<path d="M119.3 563.4L118.6 559.9L104.8 559.9L104.4 561L107.9 560.8L112.3 561.5L116.2 563.2L117.9 564.6L118.5 564.4L119.1 564.1Z" fill="#d6878f"/>
<path d="M133.1 575.8L133.1 562.4L131.8 561.6L130.8 561.6L123.8 566.4L123.5 567.3L124 570.1L124.5 570.7Z" fill="#d4818e"/>
<path d="M78.9 564.7L79.3 564.3L80.9 559.9L74.2 559.9L74.2 565L78.4 564.8Z" fill="#cf7f8c"/>
<path d="M124.9 590.3L125.6 593.5L125.8 594L128.3 596.4L128.9 596.7L133.1 596.9L133.1 582.1L125.2 589.4Z" fill="#d4818e"/>
<path d="M102.5 607.5L102.2 608.2L102.4 609.4L115.3 609.4L110.4 604.2L107.6 604.6L105.2 604.7Z" fill="#cf7f8c"/>
<path d="M79.4 609.4L92.9 609.4L93.6 608.5L93.7 607.9L93.5 607.3L85.7 599.8L85 599.5L84.4 599.8L79.1 606.1L78.9 606.9Z" fill="#d6878f"/>
<path d="M81.1 592.8L81.1 592.6L80.2 589.5L79.1 586.5L78 583.4L77.8 580.1L77.9 579.9L74.2 580.3L74.2 591.9L80.6 592.9Z" fill="#d4818e"/>
<path d="M104 559.9L95.2 559.9L97.5 562.7L99.2 562L103.5 561.1L103.6 561.1Z" fill="#d6878f"/>
<path d="M77.9 606.8L77.4 606.6L74.2 606.1L74.2 609.4L78.6 609.4L78.2 607.3Z" fill="#d4818e"/>
<path d="M130.5 560.9L130.9 560.2L131 559.9L119.4 559.9L120.2 564L120.6 564.6L122.4 565.7L123.4 565.7Z" fill="#cf7f8c"/>
<rect x="75.15" y="560.9" width="56.95" height="47.45" filter="url(#heVar)" opacity="0.6"/>
<path d="M83.8 600.6l-0.6 0.4M79.3 571.8l-0.9 0.2M121.5 604.4l-0.4 0.9M84.9 601.7l0 0.7M131.5 593.8l-1.5 0.8M130.6 570.8l-1.1 0.4M101 606.2l0.7 0.1M115 561l-1.1 0.5" stroke="#8e6296" stroke-width="2.2" stroke-linecap="round" opacity=".7"/>
<path d="M125.4 583.4L124.2 586L123.8 588.7L123.9 591.7L123.5 595L121.9 598.1L119 600.5L115.4 602.1L111.5 603.2L107.5 603.8L103.5 603.9L99.5 603.4L95.7 602.5L92 601.4L88.4 600L85.2 598L83 595.3L81.8 592.2L81 589.2L79.9 586.4L78.8 583.4L78.6 580.3L79.8 577.3L82.4 574.8L85.3 572.9L87.9 571L90.1 568.8L92.6 566.4L95.7 564.3L99.4 562.8L103.5 561.9L107.8 561.6L112 562.3L115.9 564L118.9 566.4L121.4 569.1L123.5 571.8L125.5 574.4L126.6 577.4L126.5 580.5Z" fill="#f3e6ea"/>
<path d="M124.5 583.4L123.3 585.9L122.9 588.4L123.1 591.3L122.8 594.5L121.3 597.5L118.5 599.7L115 601.3L111.2 602.3L107.4 602.9L103.5 603L99.6 602.5L96 601.6L92.4 600.6L88.9 599.3L85.8 597.3L83.7 594.7L82.6 591.8L81.8 589L80.8 586.2L79.7 583.4L79.5 580.4L80.7 577.6L83.2 575.2L86.1 573.4L88.5 571.6L90.7 569.5L93 567.2L96 565.2L99.5 563.7L103.5 562.8L107.6 562.5L111.8 563.1L115.5 564.8L118.4 567.1L120.7 569.7L122.8 572.3L124.7 574.9L125.8 577.7L125.6 580.6Z" fill="#cd8597"/>
<g clip-path="url(#g19)">
<path d="M101.9 577.3l-0.9 0.3M103.6 592.5l0.3 0.5M93.2 579.9l0.6 0.2M123 580.5l0.1 0.5M80.6 584.9l-0.2 0.3M84.8 590.6l0.7 0.4M86.2 585.4l0.4 0.4M115.7 578.3l-1 0.1M93.2 595.7l0.6 0.3M101.4 573.5l0.4 1M89.8 595.8l0.7 0.4M83.7 576.7l0.4 0.2M117.4 588.2l-0.5 0.9M95.5 587l-0.4 0.3M82.5 581l-0.1 1M97 595.5l-0 0.7M90.1 591.8l-0.9 0.1M118.9 570.6l-0.4 0.2M101.1 580.7l1 0.1M104.7 572.7l0.6 0.8M86.1 594.7l0.4 0.5M108.7 588.8l-0.3 0.3M94.1 589.8l-0.5 0.9M91 581.3l-0.6 0.8M91.7 568.8l-0.5 0.1M120.6 594.1l-0.7 0M113.9 598.7l-0.2 0.9M105.2 602.5l-1.1 0.4M105.3 587.2l0.5 0M111 591.2l0.3 0.2M86.8 579.8l-0.7 0.9M87.3 573l0.4 0.3M104.3 580.2l0.9 0.5M91.2 574.5l-0.4 0.6" stroke="#83598f" stroke-width="2.3" stroke-linecap="round" opacity=".8"/>
<path d="M113.2 581.7l0.9 0.7M107.6 600.2l0.6 0.2M117.3 567.4l0.4 0.3M100.9 585l0.6 0.9M112.9 572.4l-0 0.6M104.5 565.4l-0.3 0.2M116.1 574.1l-0.2 0.3M102.3 599.7l-0.5 0.5M96.9 600.3l-0.6 0.1M115.7 592.8l-0.3 1.1M109.1 583.5l-0.6 0.6M109.8 596l0.1 0.3M108.9 566.4l0.1 0.4M113.7 566.3l0 0.4M121.3 573.4l0.6 0.3M89.1 587.6l-0.3 0.4M100 591.3l-0.4 0.2M119.2 576.4l-0.6 0.7M91.6 587.3l1 0.3M111.5 569.8l-0.3 0.1M90.9 599l0.6 0.5M120.6 588.5l-0.5 0.1M93.7 571.1l0.1 1M90.4 577.6l0.5 0.4M112 578.1l-0.2 0.3M98.1 570.8l-0.3 0.1M121.9 590.6l0.8 0.5M97.1 577l0.4 0.8M106.7 577.2l0.4 0.8M102.7 588.8l-0.7 0.6M120 584l0.6 0.2M118.3 596.6l0.3 0.2M107.9 593.2l-0.2 0.3M95 567.4l0.3 0" stroke="#93689c" stroke-width="2.3" stroke-linecap="round" opacity=".8"/>
<path d="M108.7 589.6l-1.7 3.9M113.7 588.1l2 3.2M88.5 576.8l-1 3.7M113.6 594.2l4.4 1.2M115.6 587.5l1.9 0M98.5 597.1l2.8 0.2M111.5 592.8l-2.2 1.9M97.5 567l1 2.5M93 578.1l-4.3 0.5M117.6 590.1l3.7 0.4M88.6 586.1l2 0.8M89.9 593.7l-3.4 1.2M119.5 574.5l-1.5 1.3M94.7 579.1l-0.9 2M93.1 584.6l0.1 2.3M105.7 573.4l-2.7 1.4M115.6 577.2l-2.5 4.5M107.7 594.2l-1.3 1M115.2 584.2l-1.9 0.3M95.9 576.3l-1.5 3.8M113.8 593l-0.1 2.6M113 573.3l1 2.9M104.5 567.6l1.2 3M117.4 570.2l-0.5 2M105.6 579.4l-2.2 4M117.8 593.7l-1.9 0.1" stroke="#f6e8ee" stroke-width="0.9" stroke-linecap="round" opacity=".9"/>
</g>
<rect x="126.3" y="604.95" width="4" height="2" fill="#000"/>
</g>
<clipPath id="c20"><rect x="318.1" y="561.4" width="56.5" height="47.2"/></clipPath>
<g clip-path="url(#c20)">
<clipPath id="g20"><path d="M361.3 586.1L362 588.4L362.6 591L362.4 593.7L361.2 596.2L359.5 598.4L357.3 600.4L354.7 602L351.7 603L348.5 603.2L345.4 603L342.4 602.4L339.7 601.5L337.3 600.1L335.5 598L334.2 595.9L332.9 594.1L331 592.5L328.7 590.8L326.8 588.7L326 586.1L326.4 583.5L327.5 581L328.8 578.7L330.1 576.4L331.9 574.3L334.2 572.6L336.8 571.2L339.5 570.3L342.4 569.6L345.4 569.5L348.3 570L351 571L353.6 572.1L356.2 573.1L358.7 574.5L360.6 576.4L361.4 579L361.3 581.6L361.1 583.9Z"/></clipPath>
<rect x="318.1" y="561.4" width="56.5" height="47.2" fill="#e2b8c1"/>
<path d="M321.6 595.8L321.7 596.5L325 602L325.5 602.4L325.8 602.5L326.6 602.4L333.5 597.9L333 597.1L331.5 595.1L329.5 593.3L327.1 591.4L325.1 588.9L324.4 586.6Z" fill="#d4818e"/>
<path d="M367.7 605.9L369.2 609.6L375.6 609.6L375.6 602.8L368.3 604.7L367.8 605.2Z" fill="#d6878f"/>
<path d="M359.4 563.5L359.6 562.8L359.3 562.2L356.7 560.4L345.9 560.4L344.9 561.3L344.6 562.2L345.8 567.8L348.6 568.3L351.5 569.4L353.8 570.3Z" fill="#d4818e"/>
<path d="M346.6 608L341.7 609.6L349.2 609.6L347.4 608.2Z" fill="#d4818e"/>
<path d="M321.4 581.4L321.7 580.9L325.8 566.9L325.8 566.2L325.3 565.8L322.8 564.5L322.1 564.5L317.1 566.2L317.1 581.2L320.8 581.6Z" fill="#d28490"/>
<path d="M372.5 587.3L373 587.8L375.6 588.9L375.6 575L370.3 577.4L369.9 577.8L369.1 579.3L369 580.1Z" fill="#d28490"/>
<path d="M320.6 595.6L321 595.1L323.9 585.6L323.7 584.8L321.8 582.7L321.3 582.4L317.1 582L317.1 595.5L320 595.8Z" fill="#d28490"/>
<path d="M321.6 563.5L321.7 562.8L320.8 560.4L317.1 560.4L317.1 565.4L321.1 564Z" fill="#d28490"/>
<path d="M370.8 576.3L375.6 574.1L375.6 561.1L370.2 560.4L366.4 560.4L364.8 562L364.6 563L369.6 575.8L370.1 576.3Z" fill="#d4818e"/>
<path d="M332.5 560.4L321.7 560.4L322.7 563.3L323.1 563.8L326 565.2L326.9 565.1Z" fill="#d6878f"/>
<path d="M325.7 603.4L325.4 603.2L324.6 603.3L317.1 608.5L317.1 609.6L329.3 609.6L326.2 603.8Z" fill="#d4818e"/>
<path d="M372.1 589L364.2 598.4L364 599L364.3 602.3L364.7 603L366.5 604.1L367.2 604.2L375.6 602L375.6 589.7L373.1 588.7L372.6 588.7Z" fill="#d6878f"/>
<path d="M366.2 604.8L364.4 603.7L363.5 603.7L353.4 609.6L368.3 609.6L366.6 605.3Z" fill="#cf7f8c"/>
<path d="M343.8 562.4L343.2 561.7L339.2 560.4L333.8 560.4L328 565.2L327.7 565.9L328 566.6L333.4 571.1L336 569.7L339 568.6L342.1 567.9L345 567.8Z" fill="#d28490"/>
<path d="M369.1 577.6L369.1 576.8L363.9 563.4L363.5 563L362.9 562.9L361.2 563L360.6 563.4L354.6 570.7L357.2 571.8L359.9 573.3L362 575.4L362.9 578.2L362.9 580L367.7 579.4L368.4 578.9Z" fill="#d6878f"/>
<path d="M347.4 606.9L347.7 607.3L350.4 609.6L351.8 609.6L363 603.1L363.4 602.2L363.2 599.1L362.9 598.5L362.2 597.7L360.7 599.6L358.3 601.8L355.4 603.5L352.2 604.6L348.8 604.9L346.7 604.8Z" fill="#d6878f"/>
<path d="M324.1 602.4L323.9 601.8L321.1 597L320.4 596.6L317.1 596.3L317.1 607.6L323.7 603Z" fill="#d6878f"/>
<path d="M363.4 562L363.9 561.8L365.3 560.4L358.1 560.4L360.4 562.1L361.1 562.3Z" fill="#d4818e"/>
<path d="M367.5 580.2L362.9 580.8L362.9 581.1L362.7 583.7L363 586.1L363.7 588.7L364.2 591.5L363.9 594.4L362.6 597.1L362.8 597.3L363.5 597.5L364.1 597.2L371.5 588.4L371.7 587.4L368.4 580.7L368.1 580.3Z" fill="#cf7f8c"/>
<path d="M326.7 567.4L326.3 567.9L322.4 581.5L322.6 582.4L324.4 584.4L324.5 584.5L324.7 583.2L325.9 580.5L327.2 577.9L328.8 575.4L330.7 573.1L332.7 571.5L327.8 567.4L327.2 567.2Z" fill="#d6878f"/>
<path d="M327.5 602.8L327.1 603.4L327.2 604L330.2 609.6L339.1 609.6L345.8 607.4L346.3 607L346.3 606.3L345.8 604.7L345.4 604.7L342.2 604.1L339.1 603.1L336.5 601.6L334.5 599.4L334 598.6Z" fill="#d28490"/>
<rect x="318.1" y="561.4" width="56.5" height="47.2" filter="url(#heVar)" opacity="0.6"/>
<path d="M370.3 581.1l-1 0.2M355.9 606.9l-0.6 1.6M358 563.2l-0.6 1.1M320 576.7l-1.2 0.7M318.9 598.3l0.7 1M374.1 587.2l-0.9 0.6M324 600.2l1.3 0.8M342.5 607.3l0.9 0.9M354.8 566.4l-0.4 1M327.1 607.2l-0.7 1.4M358.6 604.4l0.3 0.9M372.6 591.3l-0.8 1M331.8 568.9l-1.1 0.6" stroke="#8e6296" stroke-width="2.2" stroke-linecap="round" opacity=".7"/>
<path d="M362.2 586.1L362.9 588.5L363.5 591.3L363.2 594.1L362 596.7L360.1 599.1L357.8 601.1L355.1 602.8L351.9 603.8L348.6 604.1L345.4 603.9L342.3 603.3L339.4 602.4L336.9 600.9L335 598.8L333.6 596.5L332.2 594.6L330.2 592.9L327.8 591.1L325.9 588.8L325.1 586.1L325.5 583.3L326.7 580.7L328 578.3L329.4 575.9L331.3 573.6L333.6 571.8L336.3 570.4L339.2 569.4L342.3 568.7L345.4 568.6L348.5 569.1L351.3 570.1L354 571.3L356.7 572.4L359.3 573.9L361.3 575.9L362.2 578.5L362.2 581.3L361.9 583.8Z" fill="#f3e6ea"/>
<path d="M361.3 586.1L362 588.4L362.6 591L362.4 593.7L361.2 596.2L359.5 598.4L357.3 600.4L354.7 602L351.7 603L348.5 603.2L345.4 603L342.4 602.4L339.7 601.5L337.3 600.1L335.5 598L334.2 595.9L332.9 594.1L331 592.5L328.7 590.8L326.8 588.7L326 586.1L326.4 583.5L327.5 581L328.8 578.7L330.1 576.4L331.9 574.3L334.2 572.6L336.8 571.2L339.5 570.3L342.4 569.6L345.4 569.5L348.3 570L351 571L353.6 572.1L356.2 573.1L358.7 574.5L360.6 576.4L361.4 579L361.3 581.6L361.1 583.9Z" fill="#cd8597"/>
<g clip-path="url(#g20)">
<path d="M344.6 572.9l0.5 0.8M354.8 574l0.6 0.5M334.1 589.3l0.6 0.4M354.7 577.9l-0.6 0.9M348.3 570.1l0.2 0.5M330.3 591.8l0.4 0.2M342.6 569.8l0.3 0.3M336.7 592.9l0.5 0M350.6 576.3l0.3 0.2M362.1 592.2l0.3 0.2M349.2 599l-0.1 0.7M342 578.9l-1 0.5M354.5 596.2l0.8 0.4M336.3 596.3l-0.4 0.7M343.4 585.6l0.3 0.5M338.7 584.9l0.6 0.3M354.8 591.6l0.4 0.5M361.9 587.8l-0.7 0.8M336.4 575.2l0.6 0.1" stroke="#83598f" stroke-width="2.3" stroke-linecap="round" opacity=".8"/>
<path d="M332.1 576.1l-0.7 0.9M342.9 582.1l0.8 0.5M336 585.4l-0.9 0.7M352 598.2l0.7 0.4M351.8 593.8l0.2 0.4M352 584.4l0.2 1.1M358.7 575.3l-0.2 0.2M339.7 573.1l0.4 0.2M347.9 585.7l0.6 0.3M337.8 578.4l0 0.5M333 594l0.5 0.4M359.3 583.9l-0.5 0.2M329.5 581l0 0.9M345 596.9l-0.3 0.7M359.6 580.2l-0.3 0.6M344 589l0.5 0.3M357.7 588.8l-0.4 0.5M348.5 578.2l0.1 0.7M340.3 597.6l-0.7 0.5M330.4 588.1l0.3 0.8M344.6 600.3l0.5 1M346.1 579.7l-0.7 0.5M332.5 581.7l0.6 0.9M343.2 591.5l-0.5 1M359.5 592.8l-1 0.4M343.3 576.3l-0.8 0.3" stroke="#93689c" stroke-width="2.3" stroke-linecap="round" opacity=".8"/>
<path d="M335.2 583.9l-2 1.9M353.1 576.4l3 3.5M345.6 573.7l0 3.2M360.9 581.3l-1.9 0.9M358.5 592.2l-1.3 1.7M338.9 579.7l3.1 1.3M349 586.7l-2.3 1.9M356.2 588.4l-1.6 3.9M339.3 583.1l4 3.3M332.7 587.2l-3.1 3.9M338.9 584.6l-1.2 1.1M359.4 584.4l-3.4 1.6M340.6 587.5l3.8 1.5M339.2 593.4l3.5 2.2M336 572.8l1.1 4.8M352.6 588.9l1.3 1.3M342.8 588l2.1 0" stroke="#f6e8ee" stroke-width="0.9" stroke-linecap="round" opacity=".9"/>
</g>
<rect x="368.8" y="605.2" width="4" height="2" fill="#000"/>
</g>
<clipPath id="c21"><rect x="132.9" y="560.9" width="56.95" height="47.45"/></clipPath>
<g clip-path="url(#c21)">
<clipPath id="g21"><path d="M184.1 582.3L183.4 584.5L183.1 586.7L182.9 589.2L182.1 591.7L180.1 593.7L177.1 594.9L173.8 595.5L170.7 595.8L167.7 596.1L164.8 596.1L161.9 595.7L159.3 594.9L156.8 594L154.4 593L152 591.8L149.9 590.3L148 588.7L146.2 586.8L144.3 584.7L142.7 582.3L142.2 579.6L143.3 577.1L145.9 575.1L148.8 573.7L151.5 572.4L153.8 571.1L156.3 569.8L159 569L161.9 568.8L164.8 568.9L167.6 569.1L170.5 569.4L173.3 569.9L176.1 570.8L178.6 572L181 573.6L183 575.4L184.4 577.6L184.7 580Z"/></clipPath>
<rect x="132.9" y="560.9" width="56.95" height="47.45" fill="#e2b8c1"/>
<path d="M143.3 609.4L147.3 604.8L147.5 603.9L145.5 597.6L145.2 597.1L144.6 597L133.4 598.1L132.9 598.3L131.9 599.4L131.9 604.2L138.7 609.4Z" fill="#cf7f8c"/>
<path d="M187.7 594.4L188.6 594.1L190.9 591.9L190.9 583.5L186.1 578L186.3 579.7L185.8 582.3L185.1 584.8L184.7 587.2L184.4 589.9L183.5 592.7L182.9 593.2Z" fill="#d4818e"/>
<path d="M171.9 567.5L171.4 566.8L159.7 560.3L158.9 560.3L152.7 563.7L152.3 564.1L152.2 564.7L153.1 569.6L155.5 568.3L158.5 567.4L161.7 567.1L164.8 567.2L167.9 567.5L171 567.7L171.9 567.9Z" fill="#d6878f"/>
<path d="M133.3 582.1L135.3 580.1L135.5 579.2L132.7 569.3L132.4 568.8L132 568.6L131.9 568.6L131.9 582.5L132.7 582.4Z" fill="#d4818e"/>
<path d="M172.1 566L172.6 565.6L176.4 560L176.4 559.9L160.6 559.9L171.4 565.9Z" fill="#cf7f8c"/>
<path d="M185.3 575.7L190.9 568.3L190.9 564.1L177.8 560.5L177.2 560.5L176.8 560.9L172.8 566.7L172.7 567.2L172.7 568.1L174.1 568.4L177.1 569.4L179.8 570.8L182.3 572.6L184.5 574.6L185.2 575.7Z" fill="#d4818e"/>
<path d="M137 563.7L148 562.4L148.6 562.1L148.8 561.3L148.5 559.9L135.4 559.9L136 563L136.4 563.6Z" fill="#d28490"/>
<path d="M189.5 603.4L190 604.2L190.9 604.6L190.9 593.1L189.1 594.8L188.8 595.5Z" fill="#cf7f8c"/>
<path d="M186 576.4L186.2 576.9L190.9 582.3L190.9 569.6L186.2 575.8Z" fill="#d6878f"/>
<path d="M173.8 607.3L182.4 608.9L183.2 608.7L188.4 604.3L188.7 603.5L188 595.9L187.8 595.4L187.3 595.1L182.3 593.9L181.3 594.9L178.1 596.3L174.6 597L174.6 597L173 606.3L173.2 606.9Z" fill="#d4818e"/>
<path d="M160.8 602.3L160.9 602.9L161.4 603.2L171.2 606.2L171.9 606.1L172.3 605.5L173.7 597.1L171.2 597.4L168 597.7L164.8 597.8L161.7 597.4L160.8 597.2Z" fill="#cf7f8c"/>
<path d="M133 567.5L135.2 564.5L135.4 563.8L134.5 559.9L131.9 559.9L131.9 567.8L132.2 567.8Z" fill="#d6878f"/>
<path d="M172.8 608.7L172.5 609.4L180.5 609.4L173.8 608.1L173.2 608.2Z" fill="#d28490"/>
<path d="M155.7 606.8L148.8 605.1L147.9 605.3L144.3 609.4L156.5 609.4L156.3 607.6L156.1 607.1Z" fill="#d6878f"/>
<path d="M189.2 604.8L188.7 605.1L183.8 609.2L183.7 609.4L190.9 609.4L190.9 605.5L189.7 604.9Z" fill="#d4818e"/>
<path d="M190.9 559.9L178.6 559.9L190.9 563.3Z" fill="#d28490"/>
<path d="M149.6 563.2L149.1 563.1L136.5 564.6L135.9 564.9L133.6 568L133.4 568.8L136.3 579L136.9 579.6L140.7 580.5L140.5 579.4L141.7 576.6L144.4 574.3L147.5 572.7L150.3 571.2L152.4 570L151.4 564.5L150.9 563.9Z" fill="#d6878f"/>
<path d="M132.5 597.2L132.8 584.2L132.5 583.5L131.9 583.3L131.9 598.2L132.3 597.8Z" fill="#d28490"/>
<path d="M131.9 609.4L137.3 609.4L131.9 605.2Z" fill="#d6878f"/>
<path d="M133.9 582.6L133.6 583.3L133.3 596.2L133.6 596.9L134.3 597.2L144.9 596.2L145.6 595.7L148.3 591.1L146.5 589.4L144.6 587.3L142.6 585L141 582.3L140.8 581.3L136.7 580.4L135.9 580.7Z" fill="#d28490"/>
<path d="M171.5 607.1L160.9 603.9L160.1 604.1L157.4 606.5L157.1 607.2L157.3 609.4L171.6 609.4L172.1 608.3L172 607.6Z" fill="#cf7f8c"/>
<path d="M158 559.9L149.3 559.9L149.7 562L150.2 562.6L151.2 563.1L152.1 563.1Z" fill="#d28490"/>
<path d="M160 596.9L158.7 596.6L156 595.5L153.4 594.3L150.8 593L149 591.7L148.7 592L146.2 596.2L146.1 596.9L148.3 603.7L148.9 604.3L156.1 606.1L156.9 605.9L159.7 603.4L160 602.7Z" fill="#d28490"/>
<rect x="132.9" y="560.9" width="56.95" height="47.45" filter="url(#heVar)" opacity="0.6"/>
<path d="M179.9 567.5l-1 0.1M135.1 587.1l-1 0.5M187.8 588.7l-0.6 0.5M155.1 561.2l-0.7 0.3M170.1 607.1l0.6 0.7M188.1 567.2l1.2 1.2M173.2 560.9l1.5 0.1M185.2 593.5l0.1 0.7M151.4 562l-0.1 1.2M135.8 561.9l1.6 0.7M134.7 594.2l0.2 1.3M150.7 607.1l-0.9 0.6M156.7 604.1l1.5 0.8M137.9 572.3l0.4 0.8" stroke="#8e6296" stroke-width="2.2" stroke-linecap="round" opacity=".7"/>
<path d="M185 582.3L184.3 584.6L183.9 587L183.7 589.6L182.8 592.2L180.7 594.3L177.7 595.7L174.3 596.3L171 596.7L167.9 597L164.8 597L161.8 596.6L159 595.8L156.4 594.8L153.8 593.7L151.4 592.4L149.2 590.9L147.2 589.1L145.4 587.1L143.4 584.9L141.8 582.3L141.3 579.5L142.5 576.8L145.1 574.7L148.1 573.1L150.9 571.8L153.3 570.4L155.8 569L158.7 568.2L161.8 567.9L164.8 568L167.7 568.2L170.7 568.5L173.7 569.1L176.6 570.1L179.2 571.4L181.7 573L183.8 575L185.2 577.3L185.5 579.8Z" fill="#f3e6ea"/>
<path d="M184.1 582.3L183.4 584.5L183.1 586.7L182.9 589.2L182.1 591.7L180.1 593.7L177.1 594.9L173.8 595.5L170.7 595.8L167.7 596.1L164.8 596.1L161.9 595.7L159.3 594.9L156.8 594L154.4 593L152 591.8L149.9 590.3L148 588.7L146.2 586.8L144.3 584.7L142.7 582.3L142.2 579.6L143.3 577.1L145.9 575.1L148.8 573.7L151.5 572.4L153.8 571.1L156.3 569.8L159 569L161.9 568.8L164.8 568.9L167.6 569.1L170.5 569.4L173.3 569.9L176.1 570.8L178.6 572L181 573.6L183 575.4L184.4 577.6L184.7 580Z" fill="#cd8597"/>
<g clip-path="url(#g21)">
<path d="M147.9 588.7l0.5 0.1M161.6 589.1l-0 1M154.6 582.3l-0.1 0.8M162.6 569.4l0.3 0.4M166.3 573.9l-0.8 0.5M180.7 585l0.3 1.1M177.6 583.6l-0.3 0.6M157 591l-0.6 0.4M154.7 575.6l-0.8 0.7M178 591.6l-0.2 0.9M161.7 581l-0.7 0.1M158.1 577.4l0.8 0.3M167 593.4l-0.5 0.5M151.3 580.6l-0.7 0.1M173.4 588.8l0.3 0.2M153.3 590.8l-0.9 0.1M180 578.9l-0.3 0.5M172.1 593.8l0.5 0.5M183 582.5l-0.8 0.8M157.6 580.4l0.3 0.3M170 592l-0.5 0.2M162.8 576.5l-0.3 0.2M147.9 578.4l-0.7 0.2M180.6 575.1l-0 0.7" stroke="#83598f" stroke-width="2.3" stroke-linecap="round" opacity=".8"/>
<path d="M149.6 583.3l0.8 0.7M162.8 585.9l0.2 0.3M168.7 571.4l0.4 0.5M156.3 587l0.7 0.3M177 575.4l-0.1 0.6M171.8 577.3l-0.6 0.2M174.9 573l0.3 0.8M158.5 569.3l-0.7 0.9M145.9 580.9l-0.4 0.2M151.5 587.6l0.4 1M175.9 580.6l-1.1 0.4M159.2 594.4l-0.2 0.8M169 587.4l0 0.4M183 577.5l0.1 1M178.9 588.6l0.7 0.3M165.1 578.1l0.9 0M163.2 594.3l-0.6 0.2M168.4 582.8l-0.5 0.4M168.4 576.5l0.1 0.4" stroke="#93689c" stroke-width="2.3" stroke-linecap="round" opacity=".8"/>
<path d="M172.7 592.1l-0.4 1.9M157.9 578.5l0 3.3M164.8 569.6l4.6 1.1M169.4 580l3.2 0.8M170.8 582l-0.1 2.4M159.5 577.2l-1.9 3.3M179.9 586.5l-5 1.2M177.6 583.8l1.7 2.6M161.6 582.1l-0.8 1.9M168.8 577.4l-1.4 3.3M170.4 581.7l0 3M166.2 584.2l3.4 3M172.4 590l4.3 1.6M166 567.9l1.7 4.8M154.1 587l-1.8 1.1M177.6 584.5l1.8 1.6" stroke="#f6e8ee" stroke-width="0.9" stroke-linecap="round" opacity=".9"/>
</g>
<rect x="184.05" y="604.95" width="4" height="2" fill="#000"/>
</g>
<clipPath id="c22"><rect x="375.4" y="561.4" width="56.5" height="47.2"/></clipPath>
<g clip-path="url(#c22)">
<clipPath id="g22"><path d="M422.4 585.5L423.4 588.2L423.2 590.9L421.6 593.3L419.4 595.2L417.1 596.8L414.9 598.3L412.6 599.7L410.1 600.7L407.3 601.1L404.6 601.1L401.9 600.9L399.3 600.2L396.9 599.1L394.9 597.6L393 595.9L391.2 594.3L389.4 592.5L388.2 590.3L387.9 587.9L388.4 585.5L389.1 583.3L389.4 581.1L389.4 578.5L389.7 575.7L390.9 573.2L393.1 571.2L395.9 570L398.8 569.3L401.7 569.1L404.6 569.3L407.3 570.2L409.7 571.3L411.9 572.6L414 573.9L415.8 575.4L417.2 577.3L418.2 579.3L419.2 581.2L420.7 583.2Z"/></clipPath>
<rect x="375.4" y="561.4" width="56.5" height="47.2" fill="#e2b8c1"/>
<path d="M388.3 566.4L388.7 565.5L388.2 560.4L374.7 560.4L374.4 562.2L374.4 564.3L374.7 564.5L384.5 568.5L385.4 568.4Z" fill="#d6878f"/>
<path d="M425.6 579.6L425.7 578.6L421.2 567.6L420.5 567.1L417.7 566.5L417.1 566.6L411.3 570.3L412.7 571.1L415 572.5L417 574.2L418.5 576.3L419.7 578.5L420.8 580.7L421.8 582.2L423.2 581.9L423.7 581.6Z" fill="#d6878f"/>
<path d="M432.9 579L432.9 562.3L429.4 560.4L427.5 560.4L422.1 566.5L421.9 567.5L426.5 578.3L427.3 578.8Z" fill="#d28490"/>
<path d="M415.9 603.1L412 601.8L410.6 602.3L407.6 602.8L407.5 602.8L404.2 609.6L417.6 609.6L416.5 603.8Z" fill="#cf7f8c"/>
<path d="M426.4 560.4L413.7 560.4L417.3 565.4L417.9 565.7L420.6 566.3L421.5 566Z" fill="#d4818e"/>
<path d="M424.6 587L425.1 588.5L424.9 590.1L425.7 597.6L426.2 598.2L426.9 598.3L432.9 596.2L432.9 579.8L427 579.6L426.3 579.9L424.4 582L424.1 582.7Z" fill="#d4818e"/>
<path d="M426.8 600.5L432.9 608.7L432.9 597.1L427.2 599.1L426.6 599.7Z" fill="#d4818e"/>
<path d="M425 598.4L424.3 592.2L423.1 594.1L420.7 596.2L418.3 598L415.9 599.7L413.4 601.2L413.2 601.3L416.5 602.5L417.1 602.4L424.5 599.3L424.9 599ZM423.4 583.6L423.1 583L422.4 582.9L422.3 582.9L422.4 582.9L423.5 584.7Z" fill="#d6878f"/>
<path d="M386.7 605.5L382.6 609.6L391 609.6L388 605.6L387.4 605.2Z" fill="#d28490"/>
<path d="M377.7 595.5L377.3 595.8L374.4 600.2L374.4 609.6L381.5 609.6L386.8 604.2L387.1 603.6L387.1 602.2L386.7 601.4L379 595.5L378.2 595.3Z" fill="#d28490"/>
<path d="M377.4 594.7L377.9 594.6L378.5 593.9L380.8 583.3L380.7 582.7L380.2 582.3L374.4 580.2L374.4 594L376.9 594.7Z" fill="#d4818e"/>
<path d="M381.6 583.5L379.3 594L379.6 594.9L387 600.7L388 600.7L392.9 598.1L391.8 597.1L389.8 595.3L387.9 593.2L386.5 590.8L386.2 588.2L386.7 585.5L387.3 583.5L382.6 582.8L382 583Z" fill="#d4818e"/>
<path d="M402.4 560.4L389 560.4L389.5 565.4L390.1 566.1L396.5 568.2L398.2 567.7L399.2 567.6Z" fill="#d28490"/>
<path d="M389.7 566.8L388.9 567L385.6 569.2L385.3 569.7L382.3 580.9L382.4 581.7L383.1 582.1L387.5 582.7L387.8 580.5L387.9 577.7L388.3 574.7L389.7 572L392.1 569.9L395 568.5Z" fill="#d4818e"/>
<path d="M388.3 601.5L387.9 602.3L387.9 603.7L388 604.2L392 609.6L403.4 609.6L406.6 602.8L404.6 602.8L401.6 602.5L398.8 601.9L396.1 600.6L393.9 599L393.5 598.6Z" fill="#d6878f"/>
<path d="M415.9 566.4L416.3 565.8L416.2 565.1L412.7 560.4L403.2 560.4L400.1 567.5L401.4 567.4L404.6 567.6L407.6 568.5L410.2 569.7L410.5 569.9Z" fill="#d4818e"/>
<path d="M381.1 581.4L381.5 580.9L384.3 570.2L384.3 569.5L383.8 569.1L374.4 565.3L374.4 579.4L380.3 581.5Z" fill="#d6878f"/>
<path d="M376 595.7L375.4 595.1L374.4 594.8L374.4 598.7L375.9 596.5Z" fill="#cf7f8c"/>
<path d="M425.3 600.1L424.7 600.1L417.9 603L417.5 603.4L417.4 604L418.4 609.6L432.6 609.6L425.7 600.4Z" fill="#d6878f"/>
<rect x="375.4" y="561.4" width="56.5" height="47.2" filter="url(#heVar)" opacity="0.6"/>
<path d="M395.8 605l0.6 0.7M422.2 574.2l1.2 0.3M426.1 589.9l-1.6 0.3M418.8 564.2l0.3 0.9M419.6 563.7l-1.1 1.2M427.9 572.9l0.9 1.2M416.9 603.1l-1.5 0.5M376.4 600.4l1.8 0.2" stroke="#8e6296" stroke-width="2.2" stroke-linecap="round" opacity=".7"/>
<path d="M423.3 585.5L424.3 588.3L424 591.2L422.4 593.7L420.1 595.7L417.7 597.4L415.4 599L413 600.5L410.3 601.5L407.5 602L404.6 602L401.8 601.8L399 601.1L396.5 599.9L394.3 598.3L392.4 596.6L390.5 594.8L388.6 592.9L387.3 590.6L387 588L387.5 585.5L388.2 583.1L388.6 580.8L388.6 578.1L388.9 575.2L390.3 572.5L392.6 570.5L395.4 569.2L398.5 568.5L401.6 568.2L404.6 568.4L407.4 569.3L410 570.5L412.3 571.8L414.5 573.2L416.4 574.8L417.9 576.7L419 578.9L420.1 580.9L421.6 583.1Z" fill="#f3e6ea"/>
<path d="M422.4 585.5L423.4 588.2L423.2 590.9L421.6 593.3L419.4 595.2L417.1 596.8L414.9 598.3L412.6 599.7L410.1 600.7L407.3 601.1L404.6 601.1L401.9 600.9L399.3 600.2L396.9 599.1L394.9 597.6L393 595.9L391.2 594.3L389.4 592.5L388.2 590.3L387.9 587.9L388.4 585.5L389.1 583.3L389.4 581.1L389.4 578.5L389.7 575.7L390.9 573.2L393.1 571.2L395.9 570L398.8 569.3L401.7 569.1L404.6 569.3L407.3 570.2L409.7 571.3L411.9 572.6L414 573.9L415.8 575.4L417.2 577.3L418.2 579.3L419.2 581.2L420.7 583.2Z" fill="#cd8597"/>
<g clip-path="url(#g22)">
<path d="M393.4 576l-0.1 0.5M413.3 595.8l-0.8 0.6M391.2 588.3l1 0.5M392.2 581.1l0.3 0.3M417.2 579.5l0.1 0.8M394.4 591.9l0.7 0.1M410 599.1l-0.3 0.2M406.2 583.9l0.8 0.2M401.2 573.4l0.5 0.4M401.6 583.2l-0.3 0.3M391.4 593.8l0.3 1.2M404.7 587.9l0.7 0.8M404.2 570.6l0.9 0.3M409.7 576.9l0.4 0.9M413.3 598.6l0.5 0.9M405.4 595.2l-0.4 0.1M404.7 576l0.3 0.2M398.8 590.5l0.2 0.8" stroke="#83598f" stroke-width="2.3" stroke-linecap="round" opacity=".8"/>
<path d="M411.3 581.8l0 0.7M399.8 586l-0.9 0.4M388.8 589.8l-0.8 0.3M390.9 584.3l-0.4 0.2M420.3 582.6l-0.3 0.5M394.8 595.5l0.4 0.3M408.9 571.2l0.1 0.7M410.2 585.8l0 0.5M416.3 591.3l-0.1 0.3M413.2 588.7l0.3 0.4M421.4 585.6l-0.7 0.2M396.6 588.1l-0.4 0.2M407.2 591.1l-1 0.3M399.8 578l-0.4 0.9M415.5 575.1l0 1M413.9 578.4l0.7 0.6M402.9 593.2l-0.7 0.9M397.9 574.6l-1 0.4M398.7 595.9l0.7 0.6M401.9 588.1l-0.2 0.5M388.5 586.3l-0.3 0.7M396.8 580.8l-0.4 0.7M422 588.9l-0.6 0.1" stroke="#93689c" stroke-width="2.3" stroke-linecap="round" opacity=".8"/>
<path d="M400.7 572.4l-1.4 1.5M396.5 583.5l4.2 2.7M409.6 577.7l2.3 2.9M413.5 576.7l3.4 1.5M402.7 571.6l-2.9 1.8M417.2 586.9l-1.1 3.6M404.6 590.6l4.2 2.1M411.9 592.4l-0.7 4.2M396.3 589.8l3.4 1.3M412.2 577.6l-3.2 0.2M408.9 595.9l-2.2 1.1M413.2 593.4l1.4 1.3M417.9 583l0.1 4.8M411 580.5l-3.1 1.4M414.6 579.8l1.8 3.3M395.2 587.2l-2.6 2.5" stroke="#f6e8ee" stroke-width="0.9" stroke-linecap="round" opacity=".9"/>
</g>
<rect x="426.1" y="605.2" width="4" height="2" fill="#000"/>
</g>
<clipPath id="c23"><rect x="190.65" y="560.9" width="56.95" height="47.45"/></clipPath>
<g clip-path="url(#c23)">
<clipPath id="g23"><path d="M234.6 586.2L235.8 588.8L236.1 591.6L235.3 594.3L233.8 596.7L231.7 598.7L229.2 600.4L226.4 601.5L223.5 601.9L220.6 602.1L217.8 602.2L215.1 602.1L212.4 601.3L210.1 599.9L208.3 598.1L206.5 596.5L204.4 595L202.1 593.4L200.4 591.3L199.7 588.8L200.1 586.2L201 583.8L201.9 581.5L202.6 579.2L203.5 576.8L204.9 574.5L206.8 572.5L209.1 570.7L211.8 569.3L214.8 568.7L217.8 568.9L220.7 569.9L223.3 571.1L225.8 572.2L228.1 573.4L230 575.2L231.1 577.5L231.6 579.9L232 582L233.1 584Z"/></clipPath>
<rect x="190.65" y="560.9" width="56.95" height="47.45" fill="#e2b8c1"/>
<path d="M229.4 570.4L228.9 569.8L228.3 569.7L225.8 570.3L226.5 570.6L229.1 572L230.1 572.9Z" fill="#d6878f"/>
<path d="M230.9 563.1L230.8 562.5L229.3 559.9L215.1 559.9L213.8 563.4L213.8 564L214.2 564.5L219.2 567.7L221 568.2L223.8 569.4L224.6 569.8L228.9 568.8L229.4 568.5L230.1 567.7L230.4 567.2Z" fill="#d4818e"/>
<path d="M197.6 588.6L198.1 588.7L198.4 586.2L199.4 583.5L200.2 581L201 578.4L201.5 577.3L194.4 573.7L193.9 573.7L193.4 573.9L190.6 576.9L190.3 577.6L191 584.8L191.5 585.5Z" fill="#d6878f"/>
<path d="M226.6 603.8L227.1 603.6L227.3 603.1L227.3 602.9L227.2 603L224 603.6L220.9 603.8L217.8 603.9L214.8 603.7L213.4 603.4L215.3 605.7L216.2 606Z" fill="#cf7f8c"/>
<path d="M204.1 562.4L209 564.8L209.7 564.8L212.4 564L212.9 563.5L214.3 559.9L203.5 559.9L203.6 561.7Z" fill="#d6878f"/>
<path d="M244.4 597.7L245.2 597.6L245.6 597L247.9 585.4L247.6 584.6L246.1 583.1L245.4 582.9L235 584.2L236.3 586.2L237.5 589L237.7 592.1L236.8 595L236.7 595.3Z" fill="#d6878f"/>
<path d="M246.3 581.9L246.6 582.5L248.3 584.1L248.6 584.2L248.6 569.4L246.3 571.7L246.1 572.4Z" fill="#d6878f"/>
<path d="M230.2 568.8L230 569.6L231.2 573.9L231.2 574L232.5 576.5L233.1 579.1L233.6 581.5L234.5 583.4L234.7 583.4L244.7 582.2L245.3 581.9L245.5 581.3L245.3 572.8L245.1 572.3L244.6 572L231.4 568.2L230.5 568.5Z" fill="#d6878f"/>
<path d="M193.3 567L193 566.3L191.1 564.5L190.4 564.3L189.7 564.4L189.7 576.4L190 576.3L193.1 573.1L193.4 572.4Z" fill="#d6878f"/>
<path d="M215.8 607.5L215.6 609.4L230.7 609.4L227.7 605L226.8 604.6L216.5 606.7L216 607Z" fill="#cf7f8c"/>
<path d="M196.5 603.5L196.4 603.5L195.9 603.8L190.3 609.4L199.7 609.4L197.5 604.1L197.1 603.6Z" fill="#d6878f"/>
<path d="M194.6 603.4L194.2 602.7L189.7 600.3L189.7 608.9L194.4 604.2Z" fill="#d6878f"/>
<path d="M248.6 604.2L248.5 604L248.3 603.9L247.5 603.8L235.7 609.4L248.2 609.4L248.6 606.9Z" fill="#d6878f"/>
<path d="M202.3 562.4L202.7 562L202.8 561.5L202.7 559.9L191.1 559.9L191.3 563.3L191.6 563.9L193.4 565.5L194.3 565.7Z" fill="#d6878f"/>
<path d="M212.1 603L211.9 602.9L209.4 601.4L207.3 599.5L207.1 599.4L201.6 599.6L201 599.8L198.4 602.6L198.2 603.6L200.5 609.4L214.8 609.4L215 607L214.8 606.3Z" fill="#d6878f"/>
<path d="M198.2 590.2L197.7 589.6L191.2 586.2L190.3 586.3L189.7 586.6L189.7 599.4L195.7 602.7L196.3 602.7L197 602.6L197.5 602.3L200.3 599.4L200.5 598.6Z" fill="#cf7f8c"/>
<path d="M201.2 598.1L201.6 598.6L202.1 598.7L206.3 598.6L205.3 597.7L203 596L200.6 594.2L199.9 593.3Z" fill="#cf7f8c"/>
<path d="M248.6 559.9L246.6 559.9L248.6 563.3Z" fill="#d4818e"/>
<path d="M232.3 561.7L235.3 559.9L230.3 559.9L231.1 561.3L231.6 561.8Z" fill="#d6878f"/>
<path d="M248.1 602.7L248.5 603L248.6 603.1L248.6 585.9L246.2 598.2L246.3 598.7Z" fill="#d4818e"/>
<path d="M210.1 565.5L209.5 566.2L208.9 568.9L211.3 567.7L214.5 567L217 567.2L213.4 564.9L212.6 564.8Z" fill="#d6878f"/>
<path d="M228.1 603.6L228.2 604.2L231.7 609.4L233.8 609.4L246.6 603.4L247 602.9L247 602.2L245.6 599.2L245.1 598.7L236.2 596L235.1 597.7L232.9 599.9L230.2 601.8L228.2 602.6Z" fill="#d28490"/>
<path d="M231.9 567.5L245 571.2L245.9 571L248.6 568.3L248.6 564.9L245.7 559.9L236.9 559.9L232.1 562.7L231.7 563.3L231.3 566.6L231.4 567.2Z" fill="#d4818e"/>
<path d="M201.8 576.5L202.1 575.8L203.7 573.3L205.8 571.1L208 569.5L208.7 566.3L208.6 565.7L208.2 565.3L203.7 563L202.9 563L194.7 566.4L194.3 566.7L194.1 567.2L194.2 572.2L194.7 573Z" fill="#d28490"/>
<rect x="190.65" y="560.9" width="56.95" height="47.45" filter="url(#heVar)" opacity="0.6"/>
<path d="M211.6 606.1l0.5 1.6M230.3 604.3l-0.8 1.6M235.6 564.6l1.8 0M245 607.2l-0.1 1M195.5 599l1.1 0M239.4 602.7l-1.5 0.7M218 561.5l-0.2 0.7M222 563.4l1 0.6M234.5 607.3l-1.2 1.1M222.1 606.7l-0.5 0.3M241.2 604.5l0.4 1M204.8 569.7l-1.4 0.6M238.2 576l-0.5 0.4M206.9 607.8l1.7 0M228.5 607.2l0.5 1.6" stroke="#8e6296" stroke-width="2.2" stroke-linecap="round" opacity=".7"/>
<path d="M235.5 586.2L236.7 588.9L237 591.8L236.1 594.7L234.5 597.2L232.3 599.4L229.8 601.1L226.9 602.3L223.8 602.8L220.8 603L217.8 603.1L214.9 602.9L212.1 602.2L209.7 600.7L207.7 598.9L205.9 597.1L203.7 595.6L201.3 593.9L199.5 591.6L198.8 588.9L199.2 586.2L200.1 583.7L201 581.2L201.8 578.7L202.8 576.2L204.3 573.9L206.3 571.7L208.7 569.9L211.5 568.5L214.6 567.8L217.8 568L220.8 569L223.6 570.2L226.2 571.4L228.7 572.7L230.7 574.5L231.9 576.9L232.4 579.5L232.9 581.8L233.9 583.9Z" fill="#f3e6ea"/>
<path d="M234.6 586.2L235.8 588.8L236.1 591.6L235.3 594.3L233.8 596.7L231.7 598.7L229.2 600.4L226.4 601.5L223.5 601.9L220.6 602.1L217.8 602.2L215.1 602.1L212.4 601.3L210.1 599.9L208.3 598.1L206.5 596.5L204.4 595L202.1 593.4L200.4 591.3L199.7 588.8L200.1 586.2L201 583.8L201.9 581.5L202.6 579.2L203.5 576.8L204.9 574.5L206.8 572.5L209.1 570.7L211.8 569.3L214.8 568.7L217.8 568.9L220.7 569.9L223.3 571.1L225.8 572.2L228.1 573.4L230 575.2L231.1 577.5L231.6 579.9L232 582L233.1 584Z" fill="#cd8597"/>
<g clip-path="url(#g23)">
<path d="M211.2 593.2l-1 0.4M204.8 589.7l-0.1 0.9M210.6 582.9l0.5 0M215.1 571.5l-0.8 0.8M217.5 581l0.3 0.1M218.1 597l-0.2 0.8M224.1 584.8l0.4 0.2M226 595.7l1.1 0.3M231.1 577.8l-0.2 0.4M214.4 581.9l0.8 0.1M224.1 573.1l0.5 0.9M228.1 586.7l0.7 0.6M201.2 588.7l0.2 0.4M218 589.3l0.4 0M225.5 578.1l-0.3 0.6M201.2 584l-0.2 0.9M213.1 597.9l0.7 0.4M216.5 599.9l-0.6 0.2M221.5 593.5l-0.5 0.4M200.9 591.4l0.5 0.9M209.7 573.6l-0.6 0.1" stroke="#83598f" stroke-width="2.3" stroke-linecap="round" opacity=".8"/>
<path d="M206.1 576.9l0.1 0.4M207.4 580.6l-0.2 0.9M211.2 576.9l-1 0.2M221.1 576.3l-0.1 0.8M208.7 586.4l-0.2 0.6M227.4 591.5l-0.8 0.2M212.7 588.3l0.1 0.6M221.2 585.8l-0.9 0.7M208.9 597.4l0.3 0.9M218.3 592.1l0.4 0.4M221.5 597.3l0.4 0.7M227.7 580.7l0.3 0.5M217 584.2l-0.5 1M221.9 581.1l-0.6 0.7M224.4 600.9l0.5 0.2M204.7 586.4l0.9 0M222.3 590.5l0.3 0.7M216.9 576.2l-0.9 0.4M222.3 570.6l-0.4 0.1M225.4 588l-0.7 0.6M214.7 590.8l-0.6 0.8M211.6 600l-0.4 0.8" stroke="#93689c" stroke-width="2.3" stroke-linecap="round" opacity=".8"/>
<path d="M209.4 574.9l-3 4M226.5 588.5l0.4 2.9M209.9 596.7l1.9 2.9M212.2 573.1l-0 1.8M212.8 592.2l-0.8 5.1M208.3 584.1l2.6 1.5M213.3 588.7l-3.6 0.8M217.4 576.9l-3.4 3.5M213.1 595.5l-4.5 1.6M227.2 594.9l-3.3 0.8M229.6 587.2l0.4 1.7M230.6 584.2l-0.6 4.3M218.6 582.3l-3.9 0.5M223.3 570.9l-3.9 3M209.6 581.1l-2.5 1.8M218.6 572.6l1.8 0.4M226.8 587.9l3.2 1.6" stroke="#f6e8ee" stroke-width="0.9" stroke-linecap="round" opacity=".9"/>
</g>
<rect x="241.8" y="604.95" width="4" height="2" fill="#000"/>
</g>
<clipPath id="c24"><rect x="432.7" y="561.4" width="56.5" height="47.2"/></clipPath>
<g clip-path="url(#c24)">
<clipPath id="g24"><path d="M475 586.6L475.4 589.1L474.9 591.6L473.7 593.8L472.2 595.9L470.9 598.2L469.4 600.7L467.3 603L464.4 604.3L461.2 604.4L458.1 603.9L455.2 603.2L452.4 602.4L449.8 601.4L447.3 600.1L445 598.5L442.9 596.6L441.1 594.5L440 591.9L440 589.2L440.8 586.6L441.7 584.2L442.3 581.9L442.7 579.5L443.6 577L445.3 575L447.7 573.6L450.1 572.4L452.5 571L455.1 569.4L458.1 568.2L461.4 567.8L464.6 568.5L467.4 570L469.8 572L471.5 574.4L472.5 577.1L473 579.7L473.4 582.1L474.1 584.3Z"/></clipPath>
<rect x="432.7" y="561.4" width="56.5" height="47.2" fill="#e2b8c1"/>
<path d="M436 605.4L444.9 604.8L445.6 604.4L447.3 601.9L446.3 601.4L443.8 599.7L441.5 597.6L439.6 595.2L438.4 592.5L438.3 589.5L438.4 589.2L438.3 589.2L437.4 589.2L431.7 592.9L431.7 596.6L435.1 604.9L435.4 605.3Z" fill="#d6878f"/>
<path d="M477.2 609.6L480.6 609.6L486.6 602.3L486.8 601.7L486.5 597.4L486.3 596.9L482.6 592.6L482 592.3L476.6 592L476.5 592.1L475.2 594.6L473.6 596.9L472.1 599.4L470.4 602.1L468.4 604.1Z" fill="#cf7f8c"/>
<path d="M448 609.6L463.4 609.6L465 605.8L464.9 605.9L461.5 606.1L458.1 605.6L454.9 604.9L451.9 604L449 602.9L448 602.3L446.3 604.8L446.2 605.6Z" fill="#d4818e"/>
<path d="M481.7 591.4L482.2 591.3L482.6 590.9L487.2 580.8L487.3 580.2L486.9 579.7L480 574.3L479.1 574.2L473.9 576.3L474.5 578.9L475 581.6L475.8 584L476.7 586.6L477.1 589.4L476.7 591.2Z" fill="#d4818e"/>
<path d="M456.8 566.7L443.6 564L442.9 564.1L442.5 564.8L442.1 576.3L442.2 576L444.1 573.8L446.7 572.2L449.3 570.9L452 569.4L454.8 567.7L457.1 566.9Z" fill="#d6878f"/>
<path d="M486.8 603.3L481.6 609.6L490.2 609.6L490.2 604.6L487.9 603.1L487.3 603Z" fill="#d4818e"/>
<path d="M440.5 561.7L440.6 561.2L440.5 560.4L431.7 560.4L431.7 565.8L440.1 562.1Z" fill="#d6878f"/>
<path d="M481 564.2L480.1 572.9L480.5 573.6L487.7 579.3L488.5 579.4L490.2 578.8L490.2 564.6L488.6 563.1L487.9 562.8L481.8 563.4L481.2 563.7Z" fill="#d4818e"/>
<path d="M437.4 587.8L437.7 580.8L437.5 580.3L437 580L431.7 578.3L431.7 592L437 588.5Z" fill="#cf7f8c"/>
<path d="M461.6 560.4L441.3 560.4L441.5 561.6L441.7 562.1L442.2 562.7L442.7 563L457.8 566.1L458.4 565.9L461 564.3L461.3 564L461.8 563.1L461.9 562.6Z" fill="#cf7f8c"/>
<path d="M463.6 562.4L477 560.6L477.4 560.4L462.4 560.4L462.6 561.6L462.9 562.2Z" fill="#d6878f"/>
<path d="M445.2 605.7L444.7 605.6L435.6 606.3L435 606.6L434.1 607.4L433.9 608.1L434 609.6L447.1 609.6L445.6 606.1Z" fill="#d6878f"/>
<path d="M490.2 595.5L490.2 579.7L488.6 580.2L488.1 580.7L483.3 591.3L483.4 592.3L486.6 596L487.5 596.3Z" fill="#d6878f"/>
<path d="M478.3 561.6L477.6 561.4L463 563.3L462.4 563.7L462.3 563.9L462.2 564.4L462.4 564.9L463.9 566.6L465.1 566.9L468.2 568.5L470.8 570.6L472.7 573.2L473.7 575.6L478.8 573.5L479.3 572.7L480.2 563.8L479.9 563Z" fill="#cf7f8c"/>
<path d="M464.2 609.6L475.6 609.6L467.7 604.6L466.1 605.4Z" fill="#d28490"/>
<path d="M438.4 579.2L440.9 577.4L441.3 576.7L441.8 563.8L441.5 563.1L441.4 563L441 562.8L440.4 562.8L431.7 566.7L431.7 577.5L437.6 579.3Z" fill="#d4818e"/>
<path d="M434.2 606.2L434.4 605.3L431.7 598.7L431.7 607.4L433 607.2L433.5 607Z" fill="#cf7f8c"/>
<path d="M487.8 562L488.5 561.6L489.1 560.4L478.6 560.4L478.9 561L480.5 562.5L481.2 562.7Z" fill="#cf7f8c"/>
<path d="M441.4 578L438.9 579.8L438.5 580.5L438.3 587.7L438.6 588.3L439.1 586.6L440 584L440.6 581.4L441.2 578.7L441.4 578Z" fill="#cf7f8c"/>
<path d="M487.3 597.9L487.5 601.5L487.9 602.2L490.2 603.7L490.2 596.3L487.9 597L487.5 597.4Z" fill="#d6878f"/>
<rect x="432.7" y="561.4" width="56.5" height="47.2" filter="url(#heVar)" opacity="0.6"/>
<path d="M441.3 599.6l-1.6 0.5M488.9 576.3l0.2 0.8M481.8 606.7l-0.4 0.7M487.4 595.5l-0.6 0.9M446.7 605.2l0.5 0.9M441.8 604.3l-0.6 0.4M441.1 568.7l1.2 0.2M487.1 608.3l1.1 0.4M480.5 592.4l1.6 0.7" stroke="#8e6296" stroke-width="2.2" stroke-linecap="round" opacity=".7"/>
<path d="M475.9 586.6L476.3 589.2L475.8 591.8L474.5 594.2L473 596.4L471.6 598.9L470 601.5L467.7 603.8L464.7 605.1L461.4 605.3L458.1 604.8L455.1 604.1L452.2 603.2L449.4 602.2L446.8 600.8L444.4 599.1L442.2 597.1L440.3 594.9L439.2 592.2L439.1 589.3L439.9 586.6L440.8 584.1L441.4 581.7L441.9 579.1L442.9 576.5L444.7 574.4L447.1 572.8L449.7 571.6L452.2 570.1L455 568.5L458.1 567.3L461.5 566.9L464.9 567.6L467.8 569.2L470.3 571.3L472.1 573.8L473.2 576.6L473.8 579.3L474.2 581.8L475 584.2Z" fill="#f3e6ea"/>
<path d="M475 586.6L475.4 589.1L474.9 591.6L473.7 593.8L472.2 595.9L470.9 598.2L469.4 600.7L467.3 603L464.4 604.3L461.2 604.4L458.1 603.9L455.2 603.2L452.4 602.4L449.8 601.4L447.3 600.1L445 598.5L442.9 596.6L441.1 594.5L440 591.9L440 589.2L440.8 586.6L441.7 584.2L442.3 581.9L442.7 579.5L443.6 577L445.3 575L447.7 573.6L450.1 572.4L452.5 571L455.1 569.4L458.1 568.2L461.4 567.8L464.6 568.5L467.4 570L469.8 572L471.5 574.4L472.5 577.1L473 579.7L473.4 582.1L474.1 584.3Z" fill="#cd8597"/>
<g clip-path="url(#g24)">
<path d="M453.9 595.2l-0.7 0.5M456.1 570.5l1.1 0.5M468.4 579l-0.2 0.7M456.2 600.3l0.7 0.1M453.5 583.6l-0.6 0.8M461.6 594l-0.6 1M453.4 574.8l0.8 0.4M471.1 580.1l1 0.2M465.9 588.1l0.3 0.8M460 573.7l-0.7 0.6M458 584l0 1M470.4 593l0.8 0.4M458 577.4l-0.8 0.2M447.3 581.5l-1 0.2M470.6 583.3l0 0.5M454.3 587.4l0.1 1M453.4 580.4l-0.9 0.6M458 595.5l-0.2 0.6M448.6 577.6l-0.5 0.8M460.4 588.4l-0.3 0.1M461.3 581.6l-0 0.5M463.4 585.7l0.7 0.9M467.4 572.1l0.1 0.3M453.3 602l0 0.4M445.7 591.6l0.2 0.6M474.8 590.9l-0.3 0.3M464.5 571l-0.3 0.6" stroke="#83598f" stroke-width="2.3" stroke-linecap="round" opacity=".8"/>
<path d="M460.1 591.2l0 0.6M463.8 578.2l0.2 0.6M447.2 596.7l-0.4 0.5M450.1 593.5l-0.4 0.1M443.2 592.9l-0.4 1.1M449.4 585.2l0.7 0.1M443.6 582.9l-0.8 0.6M466.2 574.9l-0 0.6M469.4 596.8l-0.2 0.8M465.6 599.2l-0.5 0.5M461.8 570l-0.5 0.1M449 588.9l-0.5 0.2M442.4 589l0.1 0.6M445.8 574.8l-0.2 1M460.1 600.5l-0.6 1M451 598.1l-1 0.6M454.8 591.5l-0.3 0.4M464.2 591.8l-0.4 0.4M473 588.2l0.6 0.5" stroke="#93689c" stroke-width="2.3" stroke-linecap="round" opacity=".8"/>
<path d="M466 580.4l-3.5 2.9M452.3 596.9l-1.7 2.3M459.7 575.7l1.3 1.7M463.3 585.4l1.8 3M471.5 586.1l1.5 0.7M459.4 580.7l3.8 2.5M447.3 590.8l3.8 2.9M471.9 592.6l0.3 1.7M448.8 575.8l0.9 3.9M450.3 587.9l-2.5 0M470.3 590.4l-1.6 4.8M453.7 593.4l1.4 1M445.2 589.3l2.3 0.7M455.8 572.1l0.1 3.5M468.2 589.1l2.5 2.9M448.4 589.8l-1.3 2M456.9 597.9l2.3 1.4M471 583l4.6 1.3" stroke="#f6e8ee" stroke-width="0.9" stroke-linecap="round" opacity=".9"/>
</g>
<rect x="483.4" y="605.2" width="4" height="2" fill="#000"/>
</g>
<clipPath id="c25"><rect x="17.4" y="609.15" width="56.95" height="47.45"/></clipPath>
<g clip-path="url(#c25)">
<clipPath id="g25"><path d="M64.1 631.9L64.3 634.9L63.7 637.9L62.5 640.7L60.7 643.2L58.3 645.2L55.4 646.4L52.4 647L49.6 647.3L47 647.9L44.3 648.9L41.3 649.5L38.3 649.3L35.5 648.2L33 646.7L30.3 645.2L27.4 643.6L24.6 641.4L22.8 638.5L22.4 635.2L23.2 631.9L24.6 629L26.2 626.4L28.1 624.2L30.2 622.3L32.1 620.5L34 618.6L36 616.5L38.4 614.8L41.3 613.9L44.3 613.9L47.3 614.4L50.2 614.7L53.4 615L56.7 615.9L59.3 617.8L61 620.5L61.9 623.5L62.6 626.4L63.4 629.1Z"/></clipPath>
<rect x="17.4" y="609.15" width="56.95" height="47.45" fill="#e2b8c1"/>
<path d="M70 632.5L66 643.3L66.1 644.2L72.1 651.1L72.6 651.4L73.1 651.4L75.3 650.4L75.3 633.5L71.1 632L70.4 632Z" fill="#d28490"/>
<path d="M20 655.3L19.6 655L16.4 653.9L16.4 657.6L20.3 657.6L20.2 655.8Z" fill="#cf7f8c"/>
<path d="M34.8 614.3L34.5 613.7L34 613.4L23.6 612.1L23.1 612.2L22.7 612.6L17.8 621.6L17.7 622.3L18.3 622.9L24.9 625.5L26.6 623.4L28.8 621.3L30.9 619.3L33 617.2L34.8 615.4Z" fill="#d4818e"/>
<path d="M18.9 638L18.1 638L16.4 639.1L16.4 653.1L20 654.4L20.8 654.3L27.9 649.5L28.3 649.1L29.3 646.5L29.1 646.4L26 644.6L23.1 642.2L21.2 639.1L21.2 638.9Z" fill="#cf7f8c"/>
<path d="M75.3 617.4L75.3 611.3L74.1 608.1L63.8 608.1L60.6 616.7L62.3 619.5L63.3 622.4L64.6 624.1L65 624.3L65.3 624.4L66.1 624.3Z" fill="#cf7f8c"/>
<path d="M49 612.9L50.8 613.1L54.2 613.5L57.7 614.5L59.9 616.2L63 608.1L49.6 608.1L49 612.7Z" fill="#cf7f8c"/>
<path d="M36.4 612.1L37.1 612.4L40 612.5L41 612.2L44.3 612.2L47.5 612.7L47.7 612.7L47.9 612.6L48.2 612L48.8 608.1L36.6 608.1L36.2 611.4Z" fill="#d6878f"/>
<path d="M22.1 612L22.1 611.2L20.8 608.1L16.4 608.1L16.4 622.4L16.6 622.2Z" fill="#cf7f8c"/>
<path d="M35.4 611.8L35.8 608.1L21.6 608.1L22.8 610.8L23.5 611.3L34.4 612.6L35 612.4Z" fill="#d6878f"/>
<path d="M29.1 649.1L29.3 650L35.3 657.6L43.8 657.6L48.4 649.3L47.2 649.6L44.3 650.6L41.1 651.2L37.8 650.9L34.8 649.7L32 648L30 646.9Z" fill="#d28490"/>
<path d="M75.3 632.6L75.3 618.4L67 624.6L66.7 625.2L66.8 625.8L70.1 630.6L70.6 631Z" fill="#d4818e"/>
<path d="M65.7 625.6L65.3 625.3L65.2 625.2L64.3 625.4L64.1 625.6L64.2 625.8L65.1 628.8L65.8 631.9L66 635.2L65.3 638.4L64 641.4L62.4 643.6L64.5 643.5L65.2 642.9L69.4 631.7L69.3 630.9Z" fill="#cf7f8c"/>
<path d="M17.9 636.5L16.4 628.4L16.4 638.1L17.5 637.5L17.8 637.1Z" fill="#d28490"/>
<path d="M28.4 650.5L27.7 650.6L21.4 654.9L21 655.7L21.1 657.6L34.3 657.6L28.9 650.8Z" fill="#d6878f"/>
<path d="M70.3 656.8L69.7 656.6L63.1 657.6L70.8 657.6L70.7 657.3Z" fill="#d4818e"/>
<path d="M72.6 652.7L71.3 655.8L71.3 656.4L71.6 657.6L75.3 657.6L75.3 651.2L73 652.3Z" fill="#d4818e"/>
<path d="M51 648.8L50.1 648.9L49.4 649.1L44.7 657.6L57.7 657.6L57.7 657.6Z" fill="#d28490"/>
<path d="M16.6 623.9L16.5 624.5L18.7 636.6L19.2 637.2L21.1 638L20.7 635.5L21.5 631.9L22.9 628.7L24.4 626.2L17.7 623.5L17.1 623.5Z" fill="#d4818e"/>
<path d="M58.3 657L59.1 657.4L70 655.8L70.7 655.2L71.7 652.7L71.6 651.8L65.4 644.6L64.7 644.3L61.7 644.5L59.5 646.4L56.4 647.8L53.2 648.5L52 648.7Z" fill="#d28490"/>
<rect x="17.4" y="609.15" width="56.95" height="47.45" filter="url(#heVar)" opacity="0.6"/>
<path d="M68.9 655.4l-0.8 0.5M51.1 610.3l-0.2 0.6M19 644.7l0.5 0.9M70.7 634.1l0.9 1.4M67 633.2l1.3 1.1M72.9 625.1l0.8 0.2M28.1 611l-0.8 0.7M23.7 618.3l-0.7 0.4M57.4 609.4l1.3 1M17.5 612.8l0.6 1.1M58.2 612.5l1.1 0.5M62.4 611.7l-0.8 1.1M70.3 649.4l0.9 1.5M27.7 610.4l-0.9 0.8M53.8 655.8l-0.6 0.6" stroke="#8e6296" stroke-width="2.2" stroke-linecap="round" opacity=".7"/>
<path d="M65 631.9L65.2 635.1L64.6 638.2L63.3 641.1L61.4 643.7L58.9 645.8L56 647.1L52.8 647.8L49.9 648.1L47.1 648.8L44.3 649.8L41.2 650.4L38 650.2L35.1 649L32.4 647.4L29.7 645.8L26.6 644.1L23.8 641.8L22 638.8L21.5 635.4L22.3 631.9L23.7 628.9L25.4 626.1L27.3 623.8L29.4 621.7L31.5 619.8L33.5 617.8L35.6 615.7L38.1 613.9L41.1 613L44.3 613L47.4 613.5L50.5 613.8L53.9 614.2L57.2 615.2L59.9 617.2L61.7 620L62.7 623.1L63.4 626.1L64.3 629Z" fill="#f3e6ea"/>
<path d="M64.1 631.9L64.3 634.9L63.7 637.9L62.5 640.7L60.7 643.2L58.3 645.2L55.4 646.4L52.4 647L49.6 647.3L47 647.9L44.3 648.9L41.3 649.5L38.3 649.3L35.5 648.2L33 646.7L30.3 645.2L27.4 643.6L24.6 641.4L22.8 638.5L22.4 635.2L23.2 631.9L24.6 629L26.2 626.4L28.1 624.2L30.2 622.3L32.1 620.5L34 618.6L36 616.5L38.4 614.8L41.3 613.9L44.3 613.9L47.3 614.4L50.2 614.7L53.4 615L56.7 615.9L59.3 617.8L61 620.5L61.9 623.5L62.6 626.4L63.4 629.1Z" fill="#cd8597"/>
<g clip-path="url(#g25)">
<path d="M58.6 624l0.6 1M40.5 625.4l-0.8 0.7M40.1 633.5l1 0.2M25.8 638.1l0 0.3M58.7 639.3l-0.2 0.6M32 627.5l-0.7 0.8M54.2 632.9l-0.1 1.2M59.4 629l0.4 0.2M50.1 618.1l0.2 0.9M54.7 627.5l0.3 0M49.6 638.9l1 0.6M51.4 624.9l1 0.3M62.4 630.6l-0.5 1M48.5 627l0.4 0.1M31.3 622.4l-0.8 0.7M43.6 638.6l0.4 0.4M36.5 624.6l-1.1 0.1M34.7 621.2l-0 1M63 638.5l-0.6 0.2M32.7 644.9l-0.2 0.7M39.2 644.5l0.1 0.4M49 646.8l0 0.6M62.7 635l-0.2 0.4M47.7 623.1l-0.1 1" stroke="#83598f" stroke-width="2.3" stroke-linecap="round" opacity=".8"/>
<path d="M30.4 642.9l-0.3 0.7M53.7 646.2l-0.7 0.2M38.5 637.5l-0.6 0.3M39.3 620.7l-0.7 0.5M46.8 637.6l0.3 0.4M49.4 630.1l0.1 0.3M59.8 636l-1 0M52.8 642.7l0.5 0.6M58.7 632.6l0.4 0.6M44.2 642.7l1 0.4M30.3 632l-0.1 0.4M57 620.4l0.1 0.7M45.1 616.5l0.1 1M45.2 646.3l-0.6 0.5M54.7 617.1l-0.4 0.6M42.8 621.1l0.7 0.3M40 615.2l0.4 0.4M31 636l-0.6 0.4M49.1 643.5l0 1.1M44.6 624.4l0.3 0.4M40.5 630.1l0.4 0.9M26 631.1l-0.5 1M54.8 637.9l-0.6 0.9M45.3 630.1l0.4 1.1M29.1 639.7l-0.5 0.7M53.1 622l1.2 0.1M32.9 630.6l0.6 0.5M48.2 614.9l0.3 0.6M27.8 628.8l0.5 0M37.6 640.4l0.2 0.8" stroke="#93689c" stroke-width="2.3" stroke-linecap="round" opacity=".8"/>
<path d="M49.4 644.8l-3 1.5M54.2 640.8l2.2 0.6M28.8 630.1l-0 2.2M37.8 637.2l-2.5 0.8M38.3 641.6l3.5 0.3M40.1 617l-1.5 2.9M35.1 636.1l1.7 0.7M34.8 631.3l-0.8 2.7M45.9 634.6l-2.1 0.6M46.4 642.4l3 1.1M59.1 632.7l3.2 1M52.2 627.5l-1.3 4.1M31.2 620.5l0.2 4.9M57.8 639.6l-3 3.9M37 646.3l4.7 1.9M57.9 633l0.2 4.7M58.4 640l-1.4 3.7M53.1 625.6l0.7 4.4M56.7 632.8l-2.8 0.3M55.2 641.7l-4.9 0.3M49.8 630l-3 3.3" stroke="#f6e8ee" stroke-width="0.9" stroke-linecap="round" opacity=".9"/>
</g>
<rect x="68.55" y="653.2" width="4" height="2" fill="#000"/>
</g>
<clipPath id="c26"><rect x="260.8" y="609.4" width="56.5" height="47.2"/></clipPath>
<g clip-path="url(#c26)">
<clipPath id="g26"><path d="M302.3 631.8L301.9 634.5L301.2 637.1L299.9 639.5L298.2 641.6L296.2 643.4L294.2 645.1L292.2 647.1L289.8 649L287 650.3L283.9 650.6L280.9 649.9L278 648.8L275.2 647.9L272.3 646.8L269.8 645.1L268.2 642.5L267.7 639.6L267.9 636.7L268.1 634.1L268.2 631.8L268.1 629.4L268.2 627L268.5 624.4L269.1 621.7L270.2 618.9L272.1 616.5L274.8 614.9L277.8 614.2L280.9 613.8L283.9 613.4L287 613.3L290.1 614L292.6 615.7L294.4 618.1L295.8 620.6L297.3 622.6L299.1 624.5L300.9 626.6L302 629.1Z"/></clipPath>
<rect x="260.8" y="609.4" width="56.5" height="47.2" fill="#e2b8c1"/>
<path d="M266.2 648.3L259.8 645.4L259.8 656.7L259.9 656.7L260.7 656.4L266.5 649.8L266.7 649Z" fill="#d28490"/>
<path d="M315.2 608.4L301.2 608.4L302 611.4L302.3 611.9L303.5 612.8L304.1 612.9L310.8 612.8L311.4 612.5Z" fill="#d6878f"/>
<path d="M303.5 644L304 644.2L304.5 644L308.8 641.3L309.2 640.8L311.6 632.7L311.6 632.1L311.2 631.6L302.8 626.7L303.7 628.8L304 631.8L303.6 634.8L302.8 637.6L301.4 640.2L300.3 641.6Z" fill="#cf7f8c"/>
<path d="M302.5 651.8L301.9 651.8L290.1 656.9L289.6 657.4L289.5 657.6L306.8 657.6L303 652.1Z" fill="#d6878f"/>
<path d="M316.1 630L318.3 630.9L318.3 623.1L317.8 623.2L317.2 623.8L315.6 628.9L315.7 629.6Z" fill="#cf7f8c"/>
<path d="M303.2 650.6L303.3 651.3L307.8 657.6L316.2 657.6L318.3 656.5L318.3 645.9L309.9 642L309 642.1L304.7 644.9L304.3 645.5Z" fill="#d28490"/>
<path d="M317.9 622.3L318.3 622.2L318.3 609L316.6 608.7L315.8 608.9L312.3 612.8L312.1 613.3L312.2 613.8L316.8 621.9L317.3 622.3Z" fill="#d4818e"/>
<path d="M269.7 647L268.6 646.3L266.8 643.5L266.2 640.3L266.3 637.2L266.5 634.4L266.5 633.1L265.9 631.3L265.4 630.7L264.7 630.7L259.8 633.2L259.8 644.5L267.7 648.1L268.3 648.2L268.5 648.1L269 647.9Z" fill="#d6878f"/>
<path d="M269.8 649L274.4 657.6L288.6 657.6L288.8 657.2L288.8 656.4L286.4 652.1L283.9 652.3L280.6 651.5L277.5 650.5L274.4 649.4L271.3 648.2L270.3 647.5L269.9 648L269.7 648.5Z" fill="#cf7f8c"/>
<path d="M271 608.8L271.2 608.4L259.8 608.4L259.8 610.3L270.4 609.2Z" fill="#d4818e"/>
<path d="M299.8 642.2L299.6 642.6L297.4 644.6L295.2 646.5L292.9 648.6L290.4 650.6L287.3 652L287.2 652L289.2 655.5L289.7 656L290.3 655.9L301.9 650.9L302.4 650.3L303.4 645.6L303.1 644.7Z" fill="#d6878f"/>
<path d="M265.7 629.1L266.3 627.9L266.4 627.3L266 626.8L259.8 622.5L259.8 632.3L265.3 629.5Z" fill="#d28490"/>
<path d="M300.4 612L300.9 611.6L301 610.9L300.4 608.4L286 608.4L284.6 611.7L287.3 611.6L290.6 612.4L293.4 614.2L293.5 614.3Z" fill="#d4818e"/>
<path d="M285.1 608.4L272 608.4L272 609L272.2 609.5L274.5 612.6L275.1 613L275.5 613L277.3 612.5L280.6 612.1L283.7 611.8Z" fill="#cf7f8c"/>
<path d="M266.7 626.1L267 623.7L267.8 620.7L269 617.7L271.1 615.2L273.8 613.6L273.7 612.9L271.8 610.3L271 609.9L259.8 611.2L259.8 621.5L266.2 626Z" fill="#d28490"/>
<path d="M303.1 614.1L302.8 613.2L302 612.7L301.2 612.6L294 615L295.4 616.8L297 619.4L298.7 621.6L300.6 623.7L301.6 625Z" fill="#d28490"/>
<path d="M310.6 641.4L318.3 645L318.3 631.8L315.4 630.6L314.5 630.7L312.9 631.9L312.5 632.3L310.1 640.4L310.2 641Z" fill="#d4818e"/>
<path d="M302.9 625.9L311.8 631L312.7 631L314.3 629.9L314.6 629.4L316.4 623.4L316.4 622.7L311.4 614.1L310.6 613.6L304.8 613.7L304.2 613.9L303.9 614.5L302.5 625L302.5 625.5Z" fill="#cf7f8c"/>
<path d="M267.7 649.5L261.2 657L261.1 657.6L273.4 657.6L269.2 649.7L268.5 649.2Z" fill="#d4818e"/>
<rect x="260.8" y="609.4" width="56.5" height="47.2" filter="url(#heVar)" opacity="0.6"/>
<path d="M272.3 651.8l-0.6 1.2M264.1 654.3l0.5 1M303 648.6l1 0.6M303.3 620.7l0 1M312.8 626.8l-0 1M267.4 652l-0.6 0.8M282.1 653.9l0 1.5M314.4 637.9l-0.6 1.1M313.4 647.3l1.3 0.8M311.7 630.6l0.5 0.8" stroke="#8e6296" stroke-width="2.2" stroke-linecap="round" opacity=".7"/>
<path d="M303.2 631.8L302.8 634.6L302 637.3L300.7 639.9L298.9 642.1L296.8 644L294.7 645.9L292.6 647.9L290.1 649.8L287.2 651.2L283.9 651.5L280.7 650.8L277.7 649.7L274.8 648.7L271.8 647.5L269.2 645.7L267.5 643.1L266.9 640L267 637L267.2 634.3L267.3 631.8L267.2 629.3L267.4 626.7L267.7 624L268.4 621.2L269.6 618.3L271.6 615.8L274.4 614.1L277.5 613.3L280.7 612.9L283.9 612.5L287.2 612.4L290.3 613.1L293 614.9L295 617.4L296.5 619.9L298.1 622.1L299.9 624.1L301.7 626.3L302.9 629Z" fill="#f3e6ea"/>
<path d="M302.3 631.8L301.9 634.5L301.2 637.1L299.9 639.5L298.2 641.6L296.2 643.4L294.2 645.1L292.2 647.1L289.8 649L287 650.3L283.9 650.6L280.9 649.9L278 648.8L275.2 647.9L272.3 646.8L269.8 645.1L268.2 642.5L267.7 639.6L267.9 636.7L268.1 634.1L268.2 631.8L268.1 629.4L268.2 627L268.5 624.4L269.1 621.7L270.2 618.9L272.1 616.5L274.8 614.9L277.8 614.2L280.9 613.8L283.9 613.4L287 613.3L290.1 614L292.6 615.7L294.4 618.1L295.8 620.6L297.3 622.6L299.1 624.5L300.9 626.6L302 629.1Z" fill="#cd8597"/>
<g clip-path="url(#g26)">
<path d="M273.1 643.5l-0 0.6M280.3 642.2l-0.9 0.5M292.3 638.4l-0.1 0.7M270.9 631.5l0.7 0M294.1 644.7l0.1 0.3M300.7 637.3l-0.2 0.7M290.1 627.3l0.6 0.5M294.9 620.7l0.6 0.5M277.9 633.1l-0.2 0.7M283.4 631.7l1 0.4M302.1 631l0.1 0.7M296.8 640.6l-0.5 0.3M288.8 618.6l-0 1M274.7 637.3l-0.6 1M288.5 636.3l0.2 0.4M291.8 617.2l0.3 0.1M274.4 633.7l0.4 0M286.3 640.3l-0.9 0.8M269.6 642.7l0.2 0.4M279.7 629l1.2 0.2M298.4 631.4l-0.9 0.6M294.3 625.1l0.9 0.8M269.8 637.7l0.8 0" stroke="#83598f" stroke-width="2.3" stroke-linecap="round" opacity=".8"/>
<path d="M296.5 635.1l0.4 0.9M269.7 627.7l-1 0.1M277.9 646.2l0.5 0.6M296.8 627.8l-0.2 0.7M285.1 636.7l-0.2 0.5M273.2 628.7l0.9 0.1M281 624.4l-0.3 0.6M276.5 623.1l-0.2 0.7M275.2 646.5l-1.1 0.4M285 622.3l0.4 0.5M281.1 639.3l0.1 0.8M289.4 642l-0.3 0.6M292.7 629.4l0.2 0.2M282.5 646.9l-0.7 0.8M289.9 631.3l0.7 0.1M292.5 622.9l-0.4 0.1M285.5 644.2l0.4 0.2M277.8 618.9l-0.5 0.6M276.9 626.6l-0.3 0.2M272.6 625.3l-0.4 0.9M289.2 624.1l-1.1 0.6M272 622.6l-0.6 0.4M285.1 617.7l-0.3 0.2M275.1 641.5l0.2 0.4M288.1 614.8l-0.4 0.1" stroke="#93689c" stroke-width="2.3" stroke-linecap="round" opacity=".8"/>
<path d="M289.7 632.1l-2.1 0.6M275.3 639.3l-1.1 4.1M275 618.7l1 4M277.7 621.2l2.9 3M285.3 618l-2.1 0.1M270.8 626.3l-1.9 1.6M267.7 634.5l2.8 1.4M277.8 638.2l2.4 2.7M273.8 623l4 3.1M275.5 619.6l1.5 1.8M275.5 632.5l-2.7 4.1M271.8 621.8l1.3 1.4M281.5 618.4l-2.6 1.3M297.2 631.6l2.7 3.4M296.1 624.7l-3 1.2M296.3 635.8l-0.1 1.6M277 618.9l-1.6 1.4M285.9 635.2l-3.1 2.8" stroke="#f6e8ee" stroke-width="0.9" stroke-linecap="round" opacity=".9"/>
</g>
<rect x="311.5" y="653.2" width="4" height="2" fill="#000"/>
</g>
<clipPath id="c27"><rect x="75.15" y="609.15" width="56.95" height="47.45"/></clipPath>
<g clip-path="url(#c27)">
<clipPath id="g27"><path d="M124.1 631.4L124.1 634.2L123.3 636.8L122.1 639.3L120.7 641.9L119 644.4L116.8 646.8L113.9 648.8L110.5 650.3L106.9 651.5L103 652.3L98.9 652.1L95.2 650.7L92.2 648.4L89.8 646.1L87.3 644.1L84.3 642.4L81.5 640.3L79.7 637.6L79.3 634.5L80 631.4L81 628.6L82 626L83.3 623.4L85.1 621L87.4 618.9L89.9 616.9L92.6 615.1L95.8 613.6L99.3 612.6L103 612.3L106.7 612.2L110.7 612.2L114.9 612.4L118.9 613.7L121.8 616.2L123.1 619.6L123.2 623.1L123.2 626.1L123.6 628.8Z"/></clipPath>
<rect x="75.15" y="609.15" width="56.95" height="47.45" fill="#e2b8c1"/>
<path d="M81 649.9L80.8 649.4L76.6 645.1L75.7 644.9L74.2 645.3L74.2 657.6L76.7 657.6L80.9 650.4Z" fill="#d6878f"/>
<path d="M86.3 615.1L85.5 615.5L83 619L82.9 619.5L83 621L83.7 620L86.2 617.7L88.9 615.6L89.5 615.1Z" fill="#d6878f"/>
<path d="M118.6 611.4L118.8 611.9L119.9 612.3L123 615L124.4 618.6L124.7 622.3L124.8 623.9L125.1 623.9L129.2 622.4L129.6 622.1L133.1 616.9L133.1 608.1L122.8 608.1L119 610.4L118.6 610.8Z" fill="#d4818e"/>
<path d="M133.1 641.5L133.1 625.3L130 623.3L129.3 623.3L125.9 624.4L125.4 624.8L125.3 625.4L127.3 639.3L127.9 640Z" fill="#d6878f"/>
<path d="M115.4 610L116 609.6L116 608.8L115.7 608.1L101 608.1L104.1 610.6L107 610.5L111.2 610.5L113.1 610.7Z" fill="#d6878f"/>
<path d="M128.5 656.7L129.4 656.6L133.1 653.6L133.1 642.4L127.4 640.7L126.7 640.8L121.2 644.2L120.2 645.6L117.8 648.2L117.2 648.6L117.1 648.9L117.2 649.4L118.7 652.5L119.1 653Z" fill="#d28490"/>
<path d="M77.4 635.6L77.1 636.3L76.7 643.7L77 644.4L81.7 649.2L82.3 649.4L82.8 649.5L83.5 649.3L87.5 646.4L86.1 645.3L83 643.4L80 641.1L78.1 638.1L77.7 635.4Z" fill="#d4818e"/>
<path d="M126 640.3L126.5 639.4L125.8 634.3L125.8 634.4L124.9 637.3L123.6 640.1L122.2 642.6Z" fill="#d6878f"/>
<path d="M82.1 620.4L81.8 619.8L81.2 619.5L74.2 619.6L74.2 633.9L76.1 634.9L77.1 634.8L77.7 634.3L78.3 631.4L79.3 628.4L80.4 625.4L81.8 622.6L82.2 621.9Z" fill="#cf7f8c"/>
<path d="M84.7 649.4L84.4 650.1L84.6 650.8L91 657.6L93.9 657.6L99.9 655.2L100.4 654.8L100.4 654.1L100.4 653.8L98.6 653.8L94.7 652.3L91.5 649.9L88.8 647.4L88.1 646.9Z" fill="#cf7f8c"/>
<path d="M86.4 614.3L90.2 614.4L90.8 614.2L99.3 608.1L83.2 608.1L85.6 613.7Z" fill="#d28490"/>
<path d="M118 652.9L116.8 650.5L116.4 650L115.7 650L103.1 655.2L102.6 655.7L102.6 656.4L103.1 657.6L117 657.6L118 653.5Z" fill="#d4818e"/>
<path d="M129.7 657.6L133.1 657.6L133.1 654.6L129.9 657.2Z" fill="#cf7f8c"/>
<path d="M82.6 650.3L81.7 650.7L77.6 657.6L89.9 657.6L83.3 650.6L82.8 650.3Z" fill="#d28490"/>
<path d="M119.7 654.1L119 654.1L118.5 654.7L117.8 657.6L128.3 657.6L128.2 657.5Z" fill="#d28490"/>
<path d="M84.9 615L84.9 614.1L82.3 608.1L74.2 608.1L74.2 618.8L81.8 618.7L82.5 618.3Z" fill="#d28490"/>
<path d="M100.5 655.8L96.1 657.6L102.2 657.6L101.7 656.3L101.2 655.8Z" fill="#d4818e"/>
<path d="M117.6 609.9L118.3 609.8L121.2 608.1L116.6 608.1L117 609.4Z" fill="#d6878f"/>
<path d="M99.6 608.9L95.3 611.9L99 610.9L102.8 610.6L100.7 608.9L100.2 608.7Z" fill="#cf7f8c"/>
<path d="M74.2 634.8L74.2 644.5L75.3 644.1L75.8 643.8L76 643.3L76.2 636.5L75.8 635.6Z" fill="#cf7f8c"/>
<path d="M131.1 623L133.1 624.3L133.1 618.4L130.8 621.8L130.7 622.5Z" fill="#cf7f8c"/>
<rect x="75.15" y="609.15" width="56.95" height="47.45" filter="url(#heVar)" opacity="0.6"/>
<path d="M80.2 616.6l-1.1 1M81.2 649.7l-1.7 0.4M102.5 656.1l-1.4 0.8M84.2 655.3l0.3 0.9M130.5 650.2l-1.1 0M82.4 654.5l0.1 1M116.1 651.6l0.7 0.1M127 613.7l1.1 1.2M122.7 655.9l-0.6 0.4M118.2 609.4l-1.2 0.7" stroke="#8e6296" stroke-width="2.2" stroke-linecap="round" opacity=".7"/>
<path d="M125 631.4L125 634.3L124.2 637.1L122.9 639.7L121.5 642.4L119.7 645.1L117.3 647.5L114.3 649.6L110.8 651.2L107 652.4L103 653.2L98.8 653L94.9 651.6L91.8 649.2L89.3 646.8L86.6 644.7L83.6 642.9L80.7 640.7L78.8 637.8L78.4 634.6L79.1 631.4L80.1 628.5L81.2 625.7L82.5 622.9L84.4 620.4L86.7 618.2L89.4 616.2L92.2 614.3L95.5 612.7L99.1 611.7L103 611.4L106.9 611.3L111 611.3L115.3 611.6L119.4 613L122.4 615.6L123.8 619.1L124 622.7L124.1 625.9L124.5 628.7Z" fill="#f3e6ea"/>
<path d="M124.1 631.4L124.1 634.2L123.3 636.8L122.1 639.3L120.7 641.9L119 644.4L116.8 646.8L113.9 648.8L110.5 650.3L106.9 651.5L103 652.3L98.9 652.1L95.2 650.7L92.2 648.4L89.8 646.1L87.3 644.1L84.3 642.4L81.5 640.3L79.7 637.6L79.3 634.5L80 631.4L81 628.6L82 626L83.3 623.4L85.1 621L87.4 618.9L89.9 616.9L92.6 615.1L95.8 613.6L99.3 612.6L103 612.3L106.7 612.2L110.7 612.2L114.9 612.4L118.9 613.7L121.8 616.2L123.1 619.6L123.2 623.1L123.2 626.1L123.6 628.8Z" fill="#cd8597"/>
<g clip-path="url(#g27)">
<path d="M111.6 623.3l0 0.5M99.7 630.5l0.4 0.1M91 636.5l0.8 0.5M118.2 617.8l-0.5 0.1M105.1 644l0 0.8M93.4 640.1l-0.7 0.7M96.7 626.2l0.3 0.2M83.5 634.5l-1.1 0.2M102.2 612.6l0.6 0.4M81.3 629.1l-0.3 0.1M114.9 626.5l0.5 0.8M98.9 634.6l-0 0.9M93.6 629.3l-0.5 0.8M116.3 635.4l0.7 0M100.4 648.5l-0.5 0.4M100.5 617l-0.8 0.5M88.9 618.7l0.4 0.9M119.6 627l0.1 1M92.3 618.9l0.5 0.3M92.7 622.5l-0.5 0.3M106.9 615.5l-0.1 0.7M121.4 619.8l0 0.6M94.2 647.1l0.5 0.2M79.4 634.7l0.9 0.7M101.1 638.4l0.3 0.7M99.5 624.2l0.2 0.3M115.2 647.6l-0.5 0.6M108 625.6l-0.8 0M114.8 632.4l-0 1M106.9 636.2l-0.3 0.1" stroke="#83598f" stroke-width="2.3" stroke-linecap="round" opacity=".8"/>
<path d="M112.1 637l0.9 0.4M110.5 642.9l-0.6 0.1M87.6 623.9l1.1 0.4M82.8 638l-0.3 0.8M102.6 646.5l0.4 0.2M108.5 646.1l-0.9 0.8M91.9 643.7l-0.4 0.6M108.7 618.3l0.8 0.6M98.4 644.2l0 0.3M84.9 629.8l0.3 0.5M83.2 626.6l0.6 0.9M110.7 630.3l-0.5 0.5M103.2 620.5l-0.2 0.5M115.9 639.4l-0.1 0.5M119 639.4l0.3 0.8M103 635.2l0.3 0.5M115.2 643.1l0.3 0.2M104.3 625.5l-0.9 0.7M116.6 629.7l0.2 0.4M95.9 614l-0.9 0.4M109.4 637.4l-0.2 1.1M106.8 620.6l0.3 0.3M88.3 632.8l-0.4 0.2M106 629.3l-0.9 0M108.5 612.7l0.5 0.5M106.4 632.5l-0.1 0.4M106.1 648.7l0.3 1M120.1 634.5l-0.8 0.3M118 621.4l-0.8 0.3M123.5 632.8l-0.4 0.6M111.9 617.4l0.1 0.5M89.3 639.1l-0.6 0.3M95.2 636.6l0.1 0.7M84.7 641.3l0.7 0.4M92.9 626.3l0.7 0.1M98.7 621.1l-0.5 0.7" stroke="#93689c" stroke-width="2.3" stroke-linecap="round" opacity=".8"/>
<path d="M94.2 619.1l-3.5 2.5M98.9 620.8l-1.8 1M111.8 643.6l-2.2 3.8M92.3 621.8l3.6 2.8M105.4 623l2.1 0.7M100.7 639.9l1.1 1.6M104.2 617.4l-0.9 3.5M87.7 638.3l-2.4 1.1M120.6 627.5l-0.1 4.5M107.2 624.9l-4.9 1M114.9 643.7l-2.3 1.9M92.7 620.1l-0.6 3.3M108 633.4l-2 3.4M96.9 632.9l-2.2 0.5M121 622.3l0 3.1M95.5 632.7l-2.4 0.5M110.5 614.2l-3.2 3.8M120.1 634.4l-3.9 1.8M98 616.6l1.7 1M122.4 630.2l-2.1 4M116.1 621.8l3.5 3.1M103.3 644.9l1.5 2.5M95.9 617.2l4.3 1.4M90.2 629.6l4.3 1.4M105.6 616.1l-4.9 0M114.7 621.6l-1.3 1.2" stroke="#f6e8ee" stroke-width="0.9" stroke-linecap="round" opacity=".9"/>
</g>
<rect x="126.3" y="653.2" width="4" height="2" fill="#000"/>
</g>
<clipPath id="c28"><rect x="318.1" y="609.4" width="56.5" height="47.2"/></clipPath>
<g clip-path="url(#c28)">
<clipPath id="g28"><path d="M366.5 634.6L366.4 637.5L365.5 640.2L364.1 642.8L362.4 645.4L360.1 647.5L357.1 649L353.5 649.4L350 649.1L347 648.9L344.2 649.3L341.2 649.9L338 650.2L334.8 649.5L332.2 648L329.9 646.2L327.8 644.3L326 642.1L324.6 639.8L323.8 637.2L323.4 634.6L323.2 631.9L323.6 629.2L324.8 626.6L326.9 624.4L329.4 622.6L331.9 620.9L334.5 619.1L337.4 617.5L340.7 616.8L344.2 617.5L347.2 619L349.8 620.7L352.2 621.9L354.8 622.8L357.4 623.9L359.9 625.4L362.1 627.2L364 629.4L365.6 631.9Z"/></clipPath>
<rect x="318.1" y="609.4" width="56.5" height="47.2" fill="#e2b8c1"/>
<path d="M318.7 622.6L317.1 624.2L317.1 640.1L317.7 640.1L322.2 637.7L322.1 637.5L321.7 634.6L321.5 631.6L322 628.6L323.2 626L320 622.7L319.4 622.4Z" fill="#d4818e"/>
<path d="M349.6 613L349.5 612.4L349 611.9L339.4 608.4L336.5 608.4L332.3 613.2L332.1 613.7L332.3 614.2L334.2 617.3L336.8 615.9L340.5 615.2L344.2 615.8L347.5 617.3L348.6 618Z" fill="#d6878f"/>
<path d="M327.5 657.6L344.5 657.6L345.1 653L344.8 652.2L343.5 651.1L340.9 651.6L337.4 651.8L334.1 651L332.6 650.2L327.4 656L327.3 657Z" fill="#d4818e"/>
<path d="M320.1 621.3L327.1 614.2L327.4 613.5L327.2 612.9L323.2 608.4L317.1 608.4L317.1 619.1L318.7 621.2L319.4 621.5Z" fill="#d28490"/>
<path d="M322.6 654.8L322 654.7L317.1 656.3L317.1 657.6L326.7 657.6L326.4 657L326 656.5Z" fill="#d6878f"/>
<path d="M349.3 618.4L350.3 619L353 620.4L355.8 621.5L358.6 622.7L360.5 623.9L366.3 620L366.7 619.3L366.8 616.7L366.2 615.8L353.8 610L352.8 610.2L350.8 612L350.5 612.5Z" fill="#cf7f8c"/>
<path d="M318.6 640.5L318.2 641L318.2 641.6L322.6 653.6L323 654.1L325.9 655.6L326.5 655.6L327 655.4L331.9 649.8L331.2 649.4L328.7 647.4L326.4 645.3L324.5 642.9L323 640.3L322.4 638.5Z" fill="#d28490"/>
<path d="M372.5 648.3L373.2 648.1L375.6 646.1L375.6 641.9L370.7 635.5L369.9 635.1L368.2 635.3L368.1 637.7L367.1 640.7L365.7 643.6L363.8 646.3L362.7 647.5Z" fill="#d28490"/>
<path d="M372.4 625.5L373.3 625.8L375.6 625.4L375.6 610.5L373.7 610.1L372.9 610.4L367.8 615.7L367.6 616.3L367.5 619.5L367.7 620.1Z" fill="#d28490"/>
<path d="M317.1 655.5L320.9 654.2L321.5 653.8L321.5 653.1L317.2 641.4L317.1 641.3Z" fill="#d28490"/>
<path d="M372.2 657.6L375.6 657.6L375.6 647.1L373.7 648.8L373.4 649.3Z" fill="#d4818e"/>
<path d="M354.3 609.4L366.5 615.1L367 615.1L367.5 614.9L372.3 609.8L372.5 608.9L372.3 608.4L353.8 608.4L353.9 608.9Z" fill="#d4818e"/>
<path d="M352.6 609.3L352.9 608.8L353 608.4L341.7 608.4L349.6 611.3L350.5 611.1Z" fill="#d6878f"/>
<path d="M346.4 652.4L345.9 653.1L345.3 657.6L358.2 657.6L357.3 650.4L354.2 650.9L350.5 650.7L350.3 650.7Z" fill="#d28490"/>
<path d="M375.6 640.6L375.6 626.2L373.5 626.6L372.8 627.2L371.1 634.2L371.3 634.9Z" fill="#d6878f"/>
<path d="M335.5 608.4L324.2 608.4L328.2 612.9L328.9 613.2L330.8 613.2L331.5 612.9Z" fill="#d4818e"/>
<path d="M331.4 614.4L330.7 614L328.8 614L328.2 614.2L321.1 621.4L320.8 622L321.1 622.6L323.7 625.4L325.5 623.4L328.2 621.4L330.9 619.5L333.5 617.7Z" fill="#d6878f"/>
<path d="M359 657.6L371.4 657.6L372.4 650.1L372.3 649.4L371.6 649.1L361.9 648.2L361.4 648.7L358.1 650.3Z" fill="#d4818e"/>
<path d="M369.6 634.3L370.1 634.1L370.4 633.7L372.1 626.9L371.9 626.1L367.5 621.1L366.9 620.8L366.3 620.9L361.2 624.3L361.3 624.4L363.6 626.5L365.6 628.9L367.3 631.6L368.2 634.5Z" fill="#d28490"/>
<rect x="318.1" y="609.4" width="56.5" height="47.2" filter="url(#heVar)" opacity="0.6"/>
<path d="M366.3 646l0.8 0.7M322.2 619.1l-0.1 0.9M318.5 646.2l1.2 1.1M326.7 652.8l-0.3 1.7M359.6 610.6l-1.1 0.3M373.2 655.8l0.6 0M328.3 656.1l0.7 0.2M334.3 611.1l0.3 0.7M364.4 621.6l0.8 0.7M368.7 647.3l-1 1.3M369.9 631.1l1 1.3M322.7 655.9l1.3 0.9" stroke="#8e6296" stroke-width="2.2" stroke-linecap="round" opacity=".7"/>
<path d="M367.4 634.6L367.3 637.6L366.4 640.5L364.9 643.2L363.2 645.9L360.8 648.2L357.6 649.7L353.9 650.2L350.3 649.9L347.1 649.8L344.2 650.2L341.1 650.8L337.7 651L334.4 650.3L331.6 648.8L329.2 646.8L327.1 644.8L325.2 642.5L323.7 640L322.9 637.4L322.5 634.6L322.3 631.8L322.7 628.9L324 626.2L326.2 623.9L328.8 622L331.4 620.2L334.1 618.3L337.1 616.7L340.6 615.9L344.2 616.6L347.4 618.1L350.1 619.8L352.6 621.1L355.3 622.1L358.1 623.3L360.6 624.8L362.9 626.8L364.9 629.1L366.5 631.7Z" fill="#f3e6ea"/>
<path d="M366.5 634.6L366.4 637.5L365.5 640.2L364.1 642.8L362.4 645.4L360.1 647.5L357.1 649L353.5 649.4L350 649.1L347 648.9L344.2 649.3L341.2 649.9L338 650.2L334.8 649.5L332.2 648L329.9 646.2L327.8 644.3L326 642.1L324.6 639.8L323.8 637.2L323.4 634.6L323.2 631.9L323.6 629.2L324.8 626.6L326.9 624.4L329.4 622.6L331.9 620.9L334.5 619.1L337.4 617.5L340.7 616.8L344.2 617.5L347.2 619L349.8 620.7L352.2 621.9L354.8 622.8L357.4 623.9L359.9 625.4L362.1 627.2L364 629.4L365.6 631.9Z" fill="#cd8597"/>
<g clip-path="url(#g28)">
<path d="M335.9 644.1l0.6 0.1M353.3 624.4l-0.7 0.4M361.6 627.7l0.4 0.5M331.2 645l-0.9 0M365.2 633.6l-0.6 0.1M329.3 641.8l-0.8 0.4M332.4 638.7l1.1 0.1M336.3 641.1l-0.5 0M337.5 634.6l0.4 0.1M361.4 637.6l0.2 1.2M328.3 625.8l-0.5 0.8M346.8 644.9l-0.1 0.3M342.8 623.2l-0.3 0M343.3 639.9l-0.4 0.1M344.4 648.5l-0.8 0.6M334.1 625l0.1 0.7M341.6 629.9l-0.1 1.2M337.1 631l0.7 0.5M348.2 635.4l0.4 0.2M349.6 630.5l-0.1 0.5M335.7 619.4l-0.6 0.7M356.9 646.2l-0.4 1M340.6 646.5l-0.7 0.9M357.1 631.5l-0.9 0.7M357.2 624.6l-0.5 0.6M353.4 643.8l-0.3 0.5M347.3 638.5l0.2 0.3M345.4 629.5l0.1 0.7M335.5 628.3l-0.9 0.4" stroke="#83598f" stroke-width="2.3" stroke-linecap="round" opacity=".8"/>
<path d="M332.8 621.2l-0.3 1M348.4 623.3l0.5 0.6M354.4 640.5l0.2 0.5M344.1 620.3l0.5 0M358.2 637.8l-0.2 0.6M351.8 633.5l-0.3 0.5M361.3 632l-0.2 0.8M330.8 635.8l0.2 1M348.3 620.1l0.2 0.4M341.5 643.2l0.4 0.1M338.6 618.2l0.9 0.3M351.8 628.6l0.8 0.4M328.4 634.4l-0.8 0.2M339.4 625.8l-0.5 0.6M330.8 630.8l0.6 0.5M354 647.3l-0.7 0.8M344 636.6l-0.4 0.2M350.6 646.5l-0.9 0.2M325 629.6l-0.4 0M351 621.5l0.6 0.4M339.8 640.6l-0.3 0.1M346.9 648.7l0.6 0.1M360 645.3l0.2 0.4" stroke="#93689c" stroke-width="2.3" stroke-linecap="round" opacity=".8"/>
<path d="M342.6 626.8l4.3 2.3M354.7 627.8l3.2 3.1M337.3 636.2l-3 2.9M350.7 626.4l-2.4 4.1M358.1 634.1l-4.1 0.6M356.8 642l-2.5 0.8M339.7 619.5l0 3.2M350.5 623.4l2.5 4.5M360.3 640.3l-3 0.1M331.5 626.1l2.5 1.9M335.6 641.6l-3 2.9M359.7 628.3l-0.7 2.4M337.7 648l2.3 0.5M359.8 642.2l-3.9 0.4M355.5 644.1l-2.2 1.8M329.3 636.5l-3.9 1.4M343 637.9l-1.5 1.1M327.6 629.2l1 3M340.4 639.3l-0.5 3.4M333.4 624.8l-4.7 0.8" stroke="#f6e8ee" stroke-width="0.9" stroke-linecap="round" opacity=".9"/>
</g>
<rect x="368.8" y="653.2" width="4" height="2" fill="#000"/>
</g>
<clipPath id="c29"><rect x="132.9" y="609.15" width="56.95" height="47.45"/></clipPath>
<g clip-path="url(#c29)">
<clipPath id="g29"><path d="M181.1 632.5L180.2 635.3L178.8 637.8L177.1 640L175.3 642.1L173.1 643.9L170.5 645.3L167.9 646.5L165.3 648L162.5 649.8L159.2 651.7L155.3 652.6L151.5 652.1L148.2 650.2L145.6 647.9L143.4 645.5L141.2 643.3L139.5 640.8L138.5 638.1L138.4 635.3L138.7 632.5L139.1 629.9L139.9 627.4L141.1 625L142.7 622.7L144.5 620.5L146.5 618.2L149 616.2L152.2 614.9L155.8 614.7L159.2 615.3L162.4 616L165.7 616.2L169.3 616.3L173 617L176.2 618.6L178.4 621.1L179.8 623.9L180.7 626.8L181.3 629.7Z"/></clipPath>
<rect x="132.9" y="609.15" width="56.95" height="47.45" fill="#e2b8c1"/>
<path d="M133.2 620.3L132.7 619.9L132.1 619.9L131.9 620L131.9 636.1L132 636.2L132.9 636.2L136.8 634.7L137 632.5L137.5 629.7L138.1 627.3Z" fill="#cf7f8c"/>
<path d="M190.9 625.9L190.9 618.3L187.1 620.2L186.7 620.7L186.7 621.4L188 624.7L188.6 625.2Z" fill="#cf7f8c"/>
<path d="M184.2 636.5L184.6 636L187.3 625.7L187.3 625.2L185.7 621L185.4 620.5L183 619L182.2 618.9L179.4 619.8L179.7 620.1L181.3 623.2L182.4 626.3L183 629.4L182.8 632.5L181.9 635.5L180.4 638.3L179.4 639.7Z" fill="#cf7f8c"/>
<path d="M162.2 655.5L162.1 651.9L159.2 653.4L155.1 654.3L150.9 653.7L147.5 651.7L145.1 649.7L143.3 653.4L143.2 654.2L144.1 656.3L144.5 656.7L145 656.9L161.3 656.4L162 656.1Z" fill="#d28490"/>
<path d="M163.8 655.9L173.3 656.8L174.2 656.4L178.7 648.2L178.8 647.5L177.4 642.2L176.6 643.1L174.3 645.1L171.5 646.7L168.7 648.1L165.8 649.6L162.9 651.5L163 655L163.2 655.6Z" fill="#cf7f8c"/>
<path d="M131.9 651L131.9 657.6L143.7 657.6L143.7 657.6L143.6 657.2L142.5 654.5L141.9 654Z" fill="#d4818e"/>
<path d="M159.7 612.8L157.3 608.1L146.1 608.1L144.2 612.6L144.1 613.1L144.4 613.6L147.1 615.6L148.3 614.7L151.7 613.3L155.5 613L159.2 613.6L159.6 613.7L159.7 613.4Z" fill="#cf7f8c"/>
<path d="M178.2 642.2L179.6 647.3L180 647.9L187.8 652.2L188.7 652.2L190.9 651L190.9 639.8L185.3 637.3L184.4 637.3L178.6 641.2L178.3 641.6Z" fill="#d6878f"/>
<path d="M185.5 619.7L186.4 619.7L190.9 617.4L190.9 608.1L184.8 608.1L182.6 610.7L182.4 611.4L183 617.6L183.4 618.3Z" fill="#d4818e"/>
<path d="M189 657.6L190.9 657.6L190.9 651.9L189.2 652.9L188.7 653.7Z" fill="#d28490"/>
<path d="M186 636.7L190.9 639L190.9 626.8L189 626.2L188.3 626.3L187.9 626.8L185.5 635.7L185.6 636.3Z" fill="#d4818e"/>
<path d="M135.1 614.8L135.1 613.9L132.2 608.1L131.9 608.1L131.9 619.2L132.4 619L132.8 618.6Z" fill="#d28490"/>
<path d="M143.5 614L142.9 613.8L136.5 614.7L135.8 615.1L133.7 618.7L133.8 619.6L138.5 626.4L139.6 624.2L141.3 621.7L143.3 619.3L145.5 616.9L146.5 616.1Z" fill="#d6878f"/>
<path d="M133.2 637L132.6 637.6L131.9 641.5L131.9 650.2L141.7 653.1L142.3 653L142.8 652.6L144.5 649.1L142.2 646.7L139.8 644.3L137.9 641.6L136.9 638.6L136.7 635.6Z" fill="#d6878f"/>
<path d="M164.5 614.2L164.8 614.5L166.2 614.6L170 614.8L174 615.6L177.4 617.4L178.8 619.1L181.6 618.2L182 617.9L182.2 617.3L181.6 611.4L181.3 610.8L178.3 608.1L168.1 608.1L164.4 613L164.2 613.6Z" fill="#d28490"/>
<path d="M188.2 657.6L187.9 653.7L187.5 653L180.3 648.9L179.6 648.8L179.1 649.3L174.8 656.9L174.8 657.6Z" fill="#d4818e"/>
<path d="M162.5 657.5L162.5 657.6L173.2 657.6L163.5 656.6L162.8 656.9Z" fill="#d28490"/>
<path d="M145.2 608.1L133.1 608.1L135.7 613.4L136.1 613.8L136.6 613.9L142.6 613L143.3 612.5Z" fill="#d28490"/>
<path d="M181.9 609.9L182.5 609.6L183.8 608.1L179.5 608.1L181.2 609.7Z" fill="#cf7f8c"/>
<path d="M167.1 608.1L158.2 608.1L160.5 612.7L161.3 613.2L162.7 613.3L163.4 612.9Z" fill="#d4818e"/>
<rect x="132.9" y="609.15" width="56.95" height="47.45" filter="url(#heVar)" opacity="0.6"/>
<path d="M142.6 648.2l-1.2 1.3M186.6 638.3l-1.1 0.6M136.8 654l0.1 0.9M187.1 630.7l-1 0.3M147.4 655.6l-1.5 0.4M177.8 612l1.1 0.8M155.8 610.9l-0.1 0.7M146 654.6l-1.4 0.5" stroke="#8e6296" stroke-width="2.2" stroke-linecap="round" opacity=".7"/>
<path d="M182 632.5L181.1 635.4L179.6 638L177.9 640.4L176 642.7L173.7 644.6L171.1 646.1L168.3 647.3L165.6 648.8L162.7 650.7L159.2 652.6L155.2 653.5L151.2 652.9L147.8 651L145.1 648.6L142.7 646.2L140.5 643.8L138.7 641.2L137.7 638.3L137.5 635.4L137.8 632.5L138.2 629.8L139 627.1L140.3 624.6L142 622.2L143.9 619.9L146 617.5L148.6 615.4L151.9 614L155.6 613.8L159.2 614.4L162.5 615.1L165.9 615.4L169.7 615.5L173.5 616.2L176.8 618L179.1 620.6L180.6 623.5L181.6 626.5L182.2 629.5Z" fill="#f3e6ea"/>
<path d="M181.1 632.5L180.2 635.3L178.8 637.8L177.1 640L175.3 642.1L173.1 643.9L170.5 645.3L167.9 646.5L165.3 648L162.5 649.8L159.2 651.7L155.3 652.6L151.5 652.1L148.2 650.2L145.6 647.9L143.4 645.5L141.2 643.3L139.5 640.8L138.5 638.1L138.4 635.3L138.7 632.5L139.1 629.9L139.9 627.4L141.1 625L142.7 622.7L144.5 620.5L146.5 618.2L149 616.2L152.2 614.9L155.8 614.7L159.2 615.3L162.4 616L165.7 616.2L169.3 616.3L173 617L176.2 618.6L178.4 621.1L179.8 623.9L180.7 626.8L181.3 629.7Z" fill="#cd8597"/>
<g clip-path="url(#g29)">
<path d="M160.6 642.5l0.8 0.8M147.5 646.3l-0.1 0.9M174.1 633.6l0.1 0.4M159.4 632.7l0.3 0.4M166.5 638.3l0.3 0.2M161.7 635.8l-0.6 0.5M144.8 627.7l-0.8 0.1M166.1 634.6l-0.1 0.9M146.4 639.9l0.1 1M148.1 632.5l0.2 0.4M160.5 625.4l0.4 0.3M147.8 629.2l0.2 0.4M171.7 631.5l-0.2 0.3M156 650.2l-0.9 0.2M170.1 621.7l1.2 0.3M157.4 646.8l0.2 0.6M171.7 627.5l1 0.5M166.1 626.8l0.2 0.4M181.3 629.2l-0.9 0.4M175.4 624.4l-0.6 0.5M168.3 642l-1 0.2M172.9 637.3l0 0.6M140.5 634.4l-0.4 0.6M145.7 635.8l0.4 0.8M147.7 617l0.5 0.1M158.3 623.3l-0.3 0M163.5 643.4l0.7 0.6M153.5 641.4l-0.7 0.8" stroke="#83598f" stroke-width="2.3" stroke-linecap="round" opacity=".8"/>
<path d="M144.2 633l-0.2 0.6M153.8 637.4l-0.3 0.1M159.8 616.2l0.4 0.3M176.6 626.9l0.3 0.6M145.4 619.5l0.2 0.6M152.9 617.5l0.9 0.6M164.5 646.8l-0.9 0.4M157.1 639l0.1 0.8M143.5 637.8l-0.5 0.6M140.5 628.8l-0.4 0.3M161.6 630l0.7 0.2M150.3 622.7l-0.5 1M153.8 634.2l0.9 0.6M149.2 638l0.8 0.8M152.6 627l1.1 0.3M151.3 645.4l-0.4 0.3M161.5 619.7l-0.6 0M166.8 630.9l0.2 0.4M175 641.2l-0.5 0.8M163.1 639.9l0.9 0.4M156.4 619.8l0.4 0.8M178.3 623.6l0.2 0.7M166.8 618.6l-0.3 0.8M174.5 630.2l0.1 0.9M157.9 629.6l0.4 0M164.2 624.2l-1 0.1M143.2 644l0 0.4M177 634.6l0.4 0.4M156.3 614.8l-0 0.3M140.8 640.9l-0.3 0.6" stroke="#93689c" stroke-width="2.3" stroke-linecap="round" opacity=".8"/>
<path d="M144.6 633.2l0.8 1.7M161.9 637.5l3.6 1.8M146.6 640.9l-0.9 2M149.8 639.6l3.2 3.6M150.6 629.4l-1.3 4.2M160.3 631l-0.6 2.5M166.2 638.9l3.8 1.4M155.1 636.1l2.9 1.4M162 644.6l3.8 0.3M146.2 630.9l0.1 2.5M162.9 636.2l-3.1 1.2M170.4 644l-2.3 0.2M171.5 625.9l-0.9 5M162.9 618.2l2.8 0.4M154.9 630.4l2.4 1.8M155.2 643.1l-1.5 4.6M168.6 620.7l1.6 1.9M175.1 634.1l4.5 1.1M157 646.5l1.6 3.3M170.3 627.3l-1.7 2.8M167.2 644.8l-1.3 1.3M162.7 632.6l-0.7 2.5" stroke="#f6e8ee" stroke-width="0.9" stroke-linecap="round" opacity=".9"/>
</g>
<rect x="184.05" y="653.2" width="4" height="2" fill="#000"/>
</g>
<clipPath id="c30"><rect x="375.4" y="609.4" width="56.5" height="47.2"/></clipPath>
<g clip-path="url(#c30)">
<clipPath id="g30"><path d="M426.7 632.4L426.2 635.4L425.1 638.2L423.1 640.7L420.2 642.5L417.2 643.8L414.6 645.1L412.4 647.1L410.1 649.5L407.1 651.7L403.4 652.8L399.5 652.6L395.8 651.7L392.2 650.6L388.8 649.1L385.7 647.1L383.5 644.4L382.3 641.3L381.6 638.3L381.5 635.3L381.9 632.4L382.9 629.7L384.1 627.2L385.1 624.7L386 621.9L387.2 618.9L389.4 616.4L392.7 615L396.4 614.6L400 614.5L403.4 614.3L406.9 613.8L410.7 613.8L414.3 614.6L417.5 616.3L420.2 618.5L422.7 620.8L424.8 623.4L426.2 626.3L426.8 629.3Z"/></clipPath>
<rect x="375.4" y="609.4" width="56.5" height="47.2" fill="#e2b8c1"/>
<path d="M378.6 611.2L377.9 611.3L375.1 613.3L374.8 614.2L376.2 622.9L376.7 623.6L380.9 625.6L381.7 625.6L383.3 624.7L383.6 623.9L384.6 620.9L386 617.7L388.4 615L388.7 614.9L388.2 613.6L387.5 613Z" fill="#d28490"/>
<path d="M428.6 628.6L428.4 629.3L428.4 631.8L430.2 635.1L430.9 635.5L432.9 635.7L432.9 625.7L429 628.1Z" fill="#d6878f"/>
<path d="M378.9 610.2L379.4 610.5L387.5 612.2L388.1 612.1L388.5 611.8L390.6 608.4L378.9 608.4L378.7 609.5Z" fill="#cf7f8c"/>
<path d="M389.3 653.1L388.8 652.6L377 647.6L376 647.8L374.4 649.3L374.4 657.6L384.5 657.6L389 654.2L389.3 653.7Z" fill="#d28490"/>
<path d="M416.3 651.2L415.7 651.1L409.1 652.2L407.4 653.4L403.4 654.5L403.1 654.5L404 657.6L418.7 657.6L416.7 651.7Z" fill="#d4818e"/>
<path d="M430.8 636.6L430.4 637.1L429.5 644.6L429.7 645.4L432.9 648.5L432.9 636.5L431.4 636.4Z" fill="#cf7f8c"/>
<path d="M412.9 608.4L400.9 608.4L403.8 612.6L407.2 612.2L411.2 612.2L412.3 612.4Z" fill="#d6878f"/>
<path d="M415.4 650.4L416.1 650L416.2 649.2L415.5 646.6L413.2 648.6L410.7 651.1Z" fill="#d4818e"/>
<path d="M381 626.9L380.5 626.3L376.4 624.3L375.5 624.4L374.4 625.1L374.4 639L375.7 639.8L376.3 639.9L376.8 639.8L379.9 637.3L379.8 635.5L380.2 632.4L381.2 629.4L381.5 628.9Z" fill="#d4818e"/>
<path d="M429.2 609.8L422.9 616.6L422.7 617.1L422.8 617.7L424.1 619.8L426.3 622.6L427.8 625.7L427.9 626.5L428 626.7L428.6 627.1L429.3 627L432.9 624.8L432.9 611L430.3 609.6L429.7 609.6Z" fill="#d4818e"/>
<path d="M416.9 648.8L417.4 649.3L418.1 649.4L428.2 645.1L428.7 644.4L429.8 636.2L429.6 635.7L428.3 633.2L427.9 635.7L426.7 638.8L424.6 641.5L421.6 643.5L418.4 645L416.2 646.2Z" fill="#d4818e"/>
<path d="M391.5 654.3L391.9 657.6L403.2 657.6L402.3 654.4L399.3 654.3L395.3 653.4L394.5 653.1L392.4 653.3L391.7 653.6Z" fill="#cf7f8c"/>
<path d="M413.8 608.4L413.1 612.6L415.1 613.1L418.5 614.9L420.2 616.3L421.4 616.5L422.2 616.3L428.9 609L429 608.4Z" fill="#d6878f"/>
<path d="M417.5 651.4L419.5 657.6L432.9 657.6L432.9 649.6L429.3 646.1L428.4 645.9L418 650.3L417.5 650.8Z" fill="#d4818e"/>
<path d="M377.5 610.7L377.8 610.1L378.1 608.4L374.4 608.4L374.4 612.8L374.6 612.8Z" fill="#cf7f8c"/>
<path d="M388.9 613.2L389.4 614.6L391.9 613.4L395.9 612.9L399.7 612.9L402.9 612.6L399.9 608.4L391.5 608.4L389 612.4Z" fill="#cf7f8c"/>
<path d="M375.9 641.3L375.5 640.6L374.4 639.9L374.4 648.2L375.7 647L376 646.3Z" fill="#d6878f"/>
<path d="M375.4 622.9L374.4 616.8L374.4 624.2L375 623.8Z" fill="#d28490"/>
<path d="M390.5 651.7L390.5 651.7L387.8 650.5L384.5 648.3L382.2 645.4L380.7 642.1L380 638.8L380 638.3L377.1 640.5L376.7 641.3L376.8 646L377.3 646.9L389.3 652L390 652Z" fill="#d28490"/>
<path d="M390.6 654.9L390 654.7L389.4 654.9L385.8 657.6L391.1 657.6L390.9 655.5Z" fill="#d6878f"/>
<rect x="375.4" y="609.4" width="56.5" height="47.2" filter="url(#heVar)" opacity="0.6"/>
<path d="M376.2 614.3l0.6 0.5M407.1 655.4l-1.1 0.1M414.1 611l-1.2 0.3M429.1 636.7l0.4 0.9M412.2 611.1l1.7 0.3" stroke="#8e6296" stroke-width="2.2" stroke-linecap="round" opacity=".7"/>
<path d="M427.6 632.4L427.1 635.5L425.9 638.5L423.9 641.1L420.9 643L417.8 644.4L415.1 645.9L412.8 647.9L410.4 650.4L407.2 652.6L403.4 653.7L399.4 653.5L395.5 652.6L391.8 651.4L388.2 649.8L385.1 647.7L382.8 644.9L381.5 641.7L380.8 638.5L380.6 635.4L381 632.4L382 629.6L383.2 626.9L384.3 624.3L385.2 621.4L386.5 618.3L388.9 615.7L392.3 614.2L396.1 613.7L399.8 613.7L403.4 613.4L407.1 613L411 612.9L414.7 613.8L418 615.6L420.9 617.8L423.4 620.3L425.6 623L427 626L427.7 629.2Z" fill="#f3e6ea"/>
<path d="M426.7 632.4L426.2 635.4L425.1 638.2L423.1 640.7L420.2 642.5L417.2 643.8L414.6 645.1L412.4 647.1L410.1 649.5L407.1 651.7L403.4 652.8L399.5 652.6L395.8 651.7L392.2 650.6L388.8 649.1L385.7 647.1L383.5 644.4L382.3 641.3L381.6 638.3L381.5 635.3L381.9 632.4L382.9 629.7L384.1 627.2L385.1 624.7L386 621.9L387.2 618.9L389.4 616.4L392.7 615L396.4 614.6L400 614.5L403.4 614.3L406.9 613.8L410.7 613.8L414.3 614.6L417.5 616.3L420.2 618.5L422.7 620.8L424.8 623.4L426.2 626.3L426.8 629.3Z" fill="#cd8597"/>
<g clip-path="url(#g30)">
<path d="M394.8 622.2l0.9 0.2M392.1 643.1l-0.5 0.3M399.3 632.8l-0.6 0.6M397.3 649.8l0.5 0.4M394.9 644.3l0.2 0.5M386 642.1l-0.1 0.4M385.5 636.4l1 0.4M404.7 635.1l0.3 0.8M417 626.2l0.7 0.9M407.4 614.9l1.1 0.4M410 636.7l0.8 0.3M423.2 630.1l-1 0.1M403.3 616.1l-0.2 0.3M419.3 630.1l-0.8 0.7M413.4 631.9l0.5 0.2M388.4 645.7l0.1 0.4M405.5 629.4l1 0.5M390.8 627.2l1 0.5M399.1 639.7l-0.5 0.2M420.5 623.4l0.1 0.4M396 618.3l-0.7 0.7M404.9 648.4l0.5 0.4M408.5 648l-0.4 0.9M403.6 638l0.6 1M395.2 632.5l-0.4 1.1M405.9 645.6l0.3 0.1M396.5 614.5l-0.8 0.3M385.8 625.2l-1 0.2M392 622.1l-1 0.1M418.3 637.9l-0.6 0.5" stroke="#83598f" stroke-width="2.3" stroke-linecap="round" opacity=".8"/>
<path d="M414.8 615.7l-0.9 0.7M403.8 623.1l-1 0.6M415 641.2l0.5 0.1M414.6 636.3l0.2 0.3M391.7 630.2l0.1 0.7M392.7 617.1l-0.3 0.6M398.5 619.6l0.5 0.3M405.8 618.9l-0.7 0.6M388.6 639.7l-0.6 0.6M409.9 629.6l-0.1 0.9M401.1 644.1l0.5 0.3M414.6 621.8l-0.3 0.1M397.3 624.1l-0.4 1.1M407.3 641.9l0.4 0.5M391.8 637l0.3 0.3M410.7 643.1l-0.3 0.1M405.7 651l0.3 1.1M399.9 630l-0.3 0.4M411.8 623.3l-0 0.7M388.9 624.7l0.7 0.5M414.9 628.2l-0 0.6M387.5 621.7l-0.2 0.6M393 647.3l-0.1 0.9M381.3 633.2l1.1 0M409.5 626.6l-0.4 0.3M422 639l-0 0.7M397.2 636l-0.6 0.4M409.8 619.2l-0.3 0.4M404 642.3l0.5 0.6M417.5 619.9l-1 0.6M395.7 641.1l0.9 0.8M386 630.4l0.3 0.8M406.8 624.2l-0.4 0.9M419.3 634.4l0.3 0.6M411.9 646.7l0.6 0.7" stroke="#93689c" stroke-width="2.3" stroke-linecap="round" opacity=".8"/>
<path d="M402.2 621.3l-2.2 0.5M392.5 624.6l0.6 5.1M409 644.6l2.6 3.2M392.2 617.9l-2.4 3.2M409.2 633.7l1.7 0M385.6 631.9l0.6 2.2M399.2 628.1l-0.7 2.4M415.8 621.5l-0.6 3.6M406.5 620.7l2.5 1.8M406 620.5l-2.2 2.9M413 623.3l1.3 1.4M410.6 642.7l2 1.5M414.4 637.4l1.7 1M391 631.4l0.5 3.5M405.9 645.3l2 1.3M387.8 630.6l2 2.8M407.2 620.9l2.5 3.3M405 634.1l-3 2.3M415.1 625.6l0.8 3.2M403.2 637.1l1.8 3.2M393.5 630.4l-4.3 0.9M403.8 643.5l3.6 2.1M410.9 644l2.5 0.4M399 633.6l1.6 1.4M393.8 619.5l-2.1 0" stroke="#f6e8ee" stroke-width="0.9" stroke-linecap="round" opacity=".9"/>
</g>
<rect x="426.1" y="653.2" width="4" height="2" fill="#000"/>
</g>
<clipPath id="c31"><rect x="190.65" y="609.15" width="56.95" height="47.45"/></clipPath>
<g clip-path="url(#c31)">
<clipPath id="g31"><path d="M238.8 633L238.7 635.9L238.3 638.8L237.2 641.6L235.3 644.1L232.7 646.2L229.8 647.8L226.7 649.1L223.3 649.8L219.9 649.9L216.7 649.2L213.7 648.5L210.7 648.1L207.4 647.9L204 647.3L201.1 645.7L199.4 643.3L198.6 640.6L197.9 638L197 635.6L196.1 633L195.7 630.3L196.1 627.6L197.1 624.9L198.6 622.4L200.6 619.9L203.2 617.9L206.4 616.6L209.7 615.7L213.2 615.1L216.7 614.8L220.1 615.3L223.1 616.7L225.4 619L227.2 621.3L229 623L231.4 624.3L234.3 625.7L236.7 627.7L238.2 630.3Z"/></clipPath>
<rect x="190.65" y="609.15" width="56.95" height="47.45" fill="#e2b8c1"/>
<path d="M199 613.5L199.6 612.9L201.2 608.6L201.2 608.1L189.7 608.1L189.7 614.3L191.1 615.5L192 615.7Z" fill="#d28490"/>
<path d="M193.7 643.7L193.2 644L193 644.5L192.1 653.6L192.5 654.4L197.2 657.6L204.6 657.6L206.1 656.3L206.4 655.8L207.5 649.5L206.6 649.4L203 648.7L199.9 646.9L198 644.3L197.6 643Z" fill="#cf7f8c"/>
<path d="M239.1 614.4L239.7 613.9L239.8 613.2L238 608.1L219.5 608.1L220.5 613.6L223.7 615.1L224.9 616.3Z" fill="#cf7f8c"/>
<path d="M248.6 634.2L248.6 619.3L244.9 618.2L244.2 618.3L243.7 618.8L242.1 624.8L242.2 625.4L245.3 632.7L245.8 633.3Z" fill="#d4818e"/>
<path d="M194.3 628.5L194.5 627.1L195.6 624.2L197.2 621.4L199.4 618.7L201.6 617L200 614.7L199.5 614.4L199 614.3L192.2 616.5L191.6 617.1L190 624.4L190.2 625.1L192.6 628.2L193.3 628.5Z" fill="#cf7f8c"/>
<path d="M242.5 653.7L246.8 657.6L248.6 657.6L248.6 649.1L242.7 652.2L242.2 652.9Z" fill="#d6878f"/>
<path d="M218.7 608.7L218.4 608.2L218.3 608.1L213.8 608.1L202.6 608.6L202.1 608.8L201.8 609.2L200.4 613.2L200.5 614L202.3 616.6L205.6 615L209.2 614.1L212.9 613.4L216.7 613.1L219.7 613.5Z" fill="#d28490"/>
<path d="M240.5 654.4L238.3 657.6L245.6 657.6L241.9 654.2L241.2 654Z" fill="#d4818e"/>
<path d="M189.7 641L189.7 654.5L190.7 654.2L191.3 653.4L192.2 644.1L192 643.4Z" fill="#d6878f"/>
<path d="M236.9 645.9L237 646.5L240.7 651.5L241.2 651.8L241.8 651.8L248.6 648.2L248.6 635L245.8 634.1L244.9 634.3L239.8 639.7L238.7 642.4L236.9 644.8Z" fill="#d6878f"/>
<path d="M234.2 647.2L233.9 647.4L230.8 649.2L227.4 650.6L223.9 651.5L223.5 651.5L222.5 657.6L237.3 657.6L240.3 653.3L240.4 652.8L240.3 652.3L236.6 647.2L235.7 646.9Z" fill="#d4818e"/>
<path d="M244.4 617.1L244.9 617.4L248.6 618.5L248.6 611.5L244.5 615.9L244.3 616.5Z" fill="#cf7f8c"/>
<path d="M207.3 655.2L207.5 655.8L208 656.2L213.7 657.6L221.7 657.6L222.7 651.5L220.2 651.5L216.7 650.9L213.4 650.2L210.1 649.7L208.3 649.6Z" fill="#d4818e"/>
<path d="M191.2 654.9L189.7 655.3L189.7 657.6L195.8 657.6L191.9 655Z" fill="#d28490"/>
<path d="M191.9 628.6L189.7 625.7L189.7 636.8L192.1 629.4Z" fill="#d4818e"/>
<path d="M240.8 624.9L241.4 624.3L243.2 617.7L243.2 617.2L243.1 617.1L242.8 616.7L240.9 615.2L240.2 615L225.7 617L226.2 617.5L228.2 619.9L230.2 621.8L232.8 623.3L235.8 625L237.1 626.1Z" fill="#d4818e"/>
<path d="M242.7 615.5L243.3 615.7L243.9 615.4L248.6 610.3L248.6 608.1L238.9 608.1L240.9 614L241.2 614.5Z" fill="#d6878f"/>
<path d="M244.3 633.8L244.5 632.8L241.7 626.4L241.3 625.9L240.6 625.8L237.8 626.7L238.4 627.2L239.9 630L240.5 633L240.4 636.2L240.1 638.2Z" fill="#d6878f"/>
<path d="M190.5 616.1L189.7 615.4L189.7 622.3L190.8 617Z" fill="#d6878f"/>
<path d="M197.4 642.2L197.1 641.3L196.3 638.5L195.4 635.8L194.4 633L194 630.1L194.2 629.3L193.6 629.3L193.1 629.5L192.8 629.9L189.7 639.2L189.9 640.1L192.5 642.7L193.3 643Z" fill="#d28490"/>
<rect x="190.65" y="609.15" width="56.95" height="47.45" filter="url(#heVar)" opacity="0.6"/>
<path d="M242.9 619.4l-0.2 1.5M190.3 629.5l0.9 0.2M194.3 608.7l-0.6 1.6M235.1 651.5l-0.2 1.1M194.8 621.2l-0.5 0.9M193.2 620.6l0.7 0.7M191.6 651.6l0.4 1.3M199 611.1l-0.2 0.7M243.6 623.7l1 0.7M221.9 653.5l-0.7 0.6" stroke="#8e6296" stroke-width="2.2" stroke-linecap="round" opacity=".7"/>
<path d="M239.7 633L239.6 636L239.2 639.1L238 642L236 644.6L233.4 646.8L230.3 648.5L227.1 649.9L223.6 650.7L220.1 650.7L216.7 650.1L213.5 649.4L210.4 648.9L207 648.7L203.4 648L200.5 646.3L198.7 643.8L197.8 641L197.1 638.3L196.2 635.7L195.2 633L194.8 630.2L195.2 627.3L196.3 624.5L197.9 621.8L200 619.3L202.7 617.2L206 615.8L209.5 614.8L213 614.2L216.7 613.9L220.2 614.4L223.4 615.9L225.8 618.2L227.7 620.5L229.6 622.4L232.2 623.8L235.1 625.3L237.6 627.4L239.1 630.1Z" fill="#f3e6ea"/>
<path d="M238.8 633L238.7 635.9L238.3 638.8L237.2 641.6L235.3 644.1L232.7 646.2L229.8 647.8L226.7 649.1L223.3 649.8L219.9 649.9L216.7 649.2L213.7 648.5L210.7 648.1L207.4 647.9L204 647.3L201.1 645.7L199.4 643.3L198.6 640.6L197.9 638L197 635.6L196.1 633L195.7 630.3L196.1 627.6L197.1 624.9L198.6 622.4L200.6 619.9L203.2 617.9L206.4 616.6L209.7 615.7L213.2 615.1L216.7 614.8L220.1 615.3L223.1 616.7L225.4 619L227.2 621.3L229 623L231.4 624.3L234.3 625.7L236.7 627.7L238.2 630.3Z" fill="#cd8597"/>
<g clip-path="url(#g31)">
<path d="M226 633.1l-0.6 0.4M215.5 628.3l-1 0.3M214.7 618.7l-0.8 0.1M224.6 647.9l-0.4 1.1M208.6 634.6l0.6 0.1M219.4 640.8l-0.4 0.6M230 625.4l0.1 0.4M227 623l0.6 0.5M199.6 635.4l0.3 0.4M226 642.3l0.1 0.7M223.2 622.3l0.5 0.1M208.9 644.5l0.5 0.2M216.2 631.9l0.5 0.9M197.6 629.4l0.5 0.1M230.6 646.3l-0.8 0.2M222.7 645.2l-0 0.8M201.9 638.9l0.6 0.5M211.9 625.3l0.6 0.7M234 632l0.4 0.9M220.5 649.1l0.5 0.2M211.1 617.4l0.5 0.4M223.7 630.1l-0.5 0.6M206.4 623.5l0.2 0.3M212.2 641.8l0.6 0.4M223.1 642l-0.9 0.6M208.2 638.8l0.3 0.3M206.2 641.5l1 0.4M203.8 647l0.3 0.3M232.1 643.7l0.5 0.2" stroke="#83598f" stroke-width="2.3" stroke-linecap="round" opacity=".8"/>
<path d="M231.1 640.9l-0.9 0.5M197.6 624.5l0.7 0.7M201.5 621l-0.7 0M220.2 634.2l-0.3 0.9M217.4 637.3l-0.7 0.9M213.4 636.3l-0.6 0.3M223.6 617.4l-0.8 0.3M216.2 649l0.3 0.1M213.2 631.7l0.3 0.3M203.3 627.6l0.1 1.1M238.6 635.5l-1.1 0.2M231 636.5l0.5 1M205.3 630.7l-0.8 0.1M219.4 626.6l-0.7 0.6M233.3 629l0.4 0.4M206.9 617.4l-0.3 0.8M210.6 629.4l-0.2 0.8M204.6 633.8l0 1M203.6 642l0 0.3M209.2 621.3l0.4 0.8M217.8 618l0.5 0.1M214.2 621.6l0.3 0.8M208.8 626.6l0.1 0.5M237.4 631.9l-0.2 0.5M235.1 635.9l-0.5 0.5M200.4 625.7l0.7 0.3" stroke="#93689c" stroke-width="2.3" stroke-linecap="round" opacity=".8"/>
<path d="M207.1 625.7l2.6 3.8M230.5 635.2l-1.8 1.6M218.4 620l-1.7 0.3M223.6 639.1l4 3.1M205.6 621.1l-1.7 4.3M214.6 633.9l-5.1 0M209.6 646.6l3.1 1.8M219.5 620.4l1.5 2.5M231.8 626.8l0.9 3.6M222.1 629.3l-1.7 2.4M217.1 627.7l0.5 3.2M220.3 630.6l0.3 2.9M216.9 629.7l-2.4 1.3M203.8 630.5l-2.6 4M219.2 636l-4.2 2.3M220.6 638.1l0 3M221.1 619.5l-4.4 0.3M203.8 636.9l-4.6 1.7M222.1 619.8l0 4.3M219.2 632.6l0.7 1.9M205.4 644.2l1.2 1.5" stroke="#f6e8ee" stroke-width="0.9" stroke-linecap="round" opacity=".9"/>
</g>
<rect x="241.8" y="653.2" width="4" height="2" fill="#000"/>
</g>
<clipPath id="c32"><rect x="432.7" y="609.4" width="56.5" height="47.2"/></clipPath>
<g clip-path="url(#c32)">
<clipPath id="g32"><path d="M485.6 633L485.7 636.2L484.5 639.3L482.1 641.9L479.3 644L476.7 646L474.2 648.1L471.3 649.8L467.9 650.8L464.3 650.7L460.9 650L457.7 649.5L454.5 649.4L451 649L447.7 648L445 646.1L443 643.7L441.6 641.1L440.4 638.5L439.7 635.8L439.5 633L439.4 630.2L439.3 627.2L439.5 624L440.7 620.9L443.1 618.3L446.6 616.8L450.4 616L454 615.4L457.4 614.8L460.9 614.5L464.3 615.1L467.3 616.6L469.8 618.6L472 620.4L474.5 621.8L477.3 623.2L480 625L482.4 627.2L484.3 629.9Z"/></clipPath>
<rect x="432.7" y="609.4" width="56.5" height="47.2" fill="#e2b8c1"/>
<path d="M455.4 653.8L466.9 654.1L467.5 653.8L469.2 652.2L469.2 652.2L468.4 652.4L464.6 652.4L460.9 651.7L457.5 651.2L454.5 651L454.5 652.9L454.7 653.5Z" fill="#d28490"/>
<path d="M439.3 640.1L438.8 639L438.1 636L437.8 633L437.7 629.9L437.7 628.7L437.6 628.5L437.1 628.3L431.7 627.9L431.7 641.6L434.1 642.7L434.7 642.7L437.5 642L438 641.7Z" fill="#cf7f8c"/>
<path d="M487.4 642.7L490.2 638L490.2 626L484.8 627.9L486 629.7L487.3 633L487.4 636.5L486.1 639.9L484.6 641.6L486 642.9L486.7 643.1Z" fill="#d6878f"/>
<path d="M483.3 653.5L483.1 654.2L483.9 657.6L490.2 657.6L490.2 648.5L488.2 648.2L487.3 648.5Z" fill="#d28490"/>
<path d="M458.2 608.4L448.4 608.4L457 610.1L457.8 609.8L457.9 609.7L458.1 609.2Z" fill="#cf7f8c"/>
<path d="M476.1 615.6L484.9 614.3L485.6 613.7L487.3 608.4L472 608.4L472 608.4L472 609.3L475.2 615.2L475.5 615.5Z" fill="#d4818e"/>
<path d="M433 643L431.7 642.4L431.7 648L433.4 644.2L433.5 643.6Z" fill="#cf7f8c"/>
<path d="M490.2 621.5L490.2 608.4L488.2 608.4L486.3 614.1L486.4 614.9Z" fill="#cf7f8c"/>
<path d="M439.1 613.1L441.1 608.4L431.7 608.4L431.7 614.9L438.4 613.6Z" fill="#d28490"/>
<path d="M453.2 654L445 653.6L444.2 654L441.7 657.6L453.8 657.6L454.1 655L453.9 654.3Z" fill="#cf7f8c"/>
<path d="M437.2 642.9L435 643.5L434.4 644L431.7 649.9L431.7 657.5L431.8 657.6L440.7 657.6L443.5 653.6L443.5 652.7L438.2 643.3L437.8 643Z" fill="#d6878f"/>
<path d="M458.3 610.5L458.1 611.1L458.2 613L460.9 612.8L464.6 613.4L467.9 615L470.6 617.1L473 619L473.6 619.3L474.6 616.6L474.6 615.8L471.4 609.8L470.5 609.3L459 610L458.4 610.3Z" fill="#d6878f"/>
<path d="M456.6 610.8L444.3 608.4L442.1 608.4L441.9 608.7L439.8 613.6L439.7 614.2L440.9 618.2L441.9 617.1L445.6 615.4L449.6 614.5L453.5 613.8L457.1 613.1L457.4 613.1L457.3 611.6L457.1 611.1Z" fill="#d4818e"/>
<path d="M467.8 657.6L483.1 657.6L482.4 654.7L482.1 654.2L481.6 654L470.6 652.5L469.8 652.7L468.1 654.4L467.8 655Z" fill="#d6878f"/>
<path d="M466.1 654.8L455.7 654.6L455.1 654.8L454.8 655.4L454.6 657.6L467 657.6L467 655.7L466.8 655.1Z" fill="#d6878f"/>
<path d="M474.3 619.7L475.7 620.6L478.7 622.2L481.6 624.2L484 626.7L484.4 627.2L490.1 625.2L490.2 625.1L490.2 623.1L485.8 615.5L485.4 615.2L484.9 615.1L476 616.4L475.3 617Z" fill="#cf7f8c"/>
<path d="M471 651.7L481.9 653.2L482.7 652.9L486.8 647.8L487 647.1L486.6 644.8L486.3 644.3L484 642.2L483.6 642.7L480.7 645L477.9 647.2L475.2 649.4L472.1 651.4L470.9 651.7Z" fill="#d4818e"/>
<path d="M437.7 627.4L437.7 626.7L438 623.2L439.3 619.9L440.3 618.8L439.1 615.1L438.8 614.6L438.1 614.5L431.7 615.7L431.7 627.1L437.4 627.6Z" fill="#cf7f8c"/>
<path d="M438.8 642.9L444.3 652.4L445 652.8L452.7 653.2L453.4 653L453.7 652.3L453.7 651L450.2 650.6L446.7 649.4L443.8 647.3L441.6 644.7L440 641.9L439.7 641L438.9 641.9L438.7 642.4Z" fill="#d6878f"/>
<path d="M488.5 647.4L490.2 647.7L490.2 639.5L487.5 644.1L487.4 644.7L487.7 646.7L488 647.1Z" fill="#cf7f8c"/>
<path d="M460 609.2L470.6 608.5L470.7 608.4L459.1 608.4L459.3 608.9Z" fill="#d28490"/>
<rect x="432.7" y="609.4" width="56.5" height="47.2" filter="url(#heVar)" opacity="0.6"/>
<path d="M485.4 610.2l-0.8 0.4M440.8 614.5l-0.8 1M487.3 632.5l0.8 1.5M488.4 632.2l-0.1 1M486.6 615.5l1 0.3M440 651.9l1.6 0.6M472.2 653.3l-0.3 0.6M436.6 653.2l-0.4 1.6M482.9 645.5l-0.2 1.1" stroke="#8e6296" stroke-width="2.2" stroke-linecap="round" opacity=".7"/>
<path d="M486.5 633L486.6 636.4L485.3 639.6L482.9 642.3L480 644.6L477.3 646.7L474.7 648.8L471.7 650.6L468.2 651.6L464.4 651.6L460.9 650.9L457.6 650.4L454.2 650.2L450.6 649.9L447.1 648.7L444.4 646.8L442.3 644.2L440.8 641.5L439.6 638.8L438.8 635.9L438.6 633L438.5 630L438.5 626.9L438.7 623.6L439.9 620.3L442.5 617.7L446.1 616.1L450 615.2L453.7 614.6L457.3 613.9L460.9 613.6L464.5 614.2L467.6 615.8L470.2 617.8L472.6 619.6L475.2 621.1L478 622.6L480.8 624.5L483.3 626.9L485.2 629.8Z" fill="#f3e6ea"/>
<path d="M485.6 633L485.7 636.2L484.5 639.3L482.1 641.9L479.3 644L476.7 646L474.2 648.1L471.3 649.8L467.9 650.8L464.3 650.7L460.9 650L457.7 649.5L454.5 649.4L451 649L447.7 648L445 646.1L443 643.7L441.6 641.1L440.4 638.5L439.7 635.8L439.5 633L439.4 630.2L439.3 627.2L439.5 624L440.7 620.9L443.1 618.3L446.6 616.8L450.4 616L454 615.4L457.4 614.8L460.9 614.5L464.3 615.1L467.3 616.6L469.8 618.6L472 620.4L474.5 621.8L477.3 623.2L480 625L482.4 627.2L484.3 629.9Z" fill="#cd8597"/>
<g clip-path="url(#g32)">
<path d="M457.3 621.9l-0.2 0.4M452.4 615.8l0.7 0.2M446.1 640.3l0.5 0.7M450.9 627l-0.5 0.9M473.7 635.4l-0.5 0.3M451.9 645.7l-0.3 0.5M470.7 642.1l0.2 1.2M463.5 638.3l0.4 0.4M455.6 647.3l0.7 0.4M474.6 630.2l0.4 0.3M471.4 647.5l0.4 0.2M460.2 621.1l0.1 0.5M439.9 627l-0.1 0.4M451.4 633.8l0.3 1M447.2 624.3l-0.1 0.7M457.4 625l0.1 1M462 633.2l0.2 0.7M442.1 642.2l1.1 0.3M448.2 644.5l0.8 0.7M467.3 639.6l0.1 0.5M452.1 624.7l0.7 0.7M470.8 638.6l0.3 1M447 631.7l-0.5 0.4M476.7 626.6l0.8 0.2M478.1 632.4l0.7 0.7M464.6 625.1l0.3 0.5M469 625.8l0.3 0.2M463.4 645.2l0.7 0.3M464.7 649.7l-0.1 0.6M466.2 617.5l-0.7 0.1M473 644.6l0.2 0.8M442.5 621.9l-0 0.4M458.5 632.6l-0.6 0.8M443 625.6l1.1 0.4M480.5 628.3l-0.9 0M459.9 649.2l0.8 0.5" stroke="#83598f" stroke-width="2.3" stroke-linecap="round" opacity=".8"/>
<path d="M456.1 630l0.9 0.2M444.8 634.6l0.2 0.7M463.8 630.2l0.1 1M454.4 619l0.4 0.5M469 644.8l-0.6 0.5M483.1 636.2l-0.3 0.4M455.9 638.4l0.1 0.5M448.8 634.9l-0.6 0.6M443.4 637.4l-0.5 0.6M448.9 638.4l-0.4 0.1M467.3 633.4l-0.2 0.3M451.4 640.5l-0.8 0.5M441 634.5l-0.2 0.4M473.5 624.7l0.2 0.5M466.9 622.4l-0.9 0.5M467.5 649.8l0.5 0.1M471.1 631.3l0.9 0.4M447.7 619.4l-0.7 0.3M460.8 629.3l-0.5 0.2M457.5 616.6l-0.3 0.3M478.3 643.4l0.4 0.1M481.2 641.5l-0 0.3M452.5 629.5l0.5 1.1M443.4 629.5l-0.8 0.1M483.8 632.9l-0.4 0.6M459.9 645l0.5 0.4" stroke="#93689c" stroke-width="2.3" stroke-linecap="round" opacity=".8"/>
<path d="M448.4 632.2l-2.3 2.5M457.9 641.4l2.5 2.2M467.2 638.4l-1.7 1.3M462.9 640.8l4.4 1.7M458.2 616.8l0.1 3.9M442.6 625.6l2.3 2.1M465.9 638.6l4.2 1.9M462.1 623.2l3.6 0.3M452.6 647.2l2.6 1M455.8 634.4l-1 4.8M455.8 629.3l3.8 3.3M451.4 645.1l1.1 2.4M460 645.7l-0.5 4.8M461.4 616.8l1.3 3M461.2 640l2.3 0.4M455.5 640.4l2.7 3.7M470 621.1l-0.9 4.8M456.6 631l-3.7 2.9M461.6 627.5l2.3 0.9M451.7 620.3l-2.7 0.7M458.6 621.7l-2.6 1.2M448.2 621.9l-2.8 3.8M445.6 642.3l1.2 1.5M471.4 641.8l1.6 1.9" stroke="#f6e8ee" stroke-width="0.9" stroke-linecap="round" opacity=".9"/>
</g>
<rect x="483.4" y="653.2" width="4" height="2" fill="#000"/>
</g>
</g>
<rect x="0" y="0" width="520" height="1.7" fill="#484848"/>
<rect x="0" y="0" width="1.7" height="664" fill="#505050"/>
<rect x="518" y="0" width="2" height="664" fill="#454545"/>
<rect x="0" y="662.8" width="520" height="1.2" fill="#151515"/></svg>
</body></html>
